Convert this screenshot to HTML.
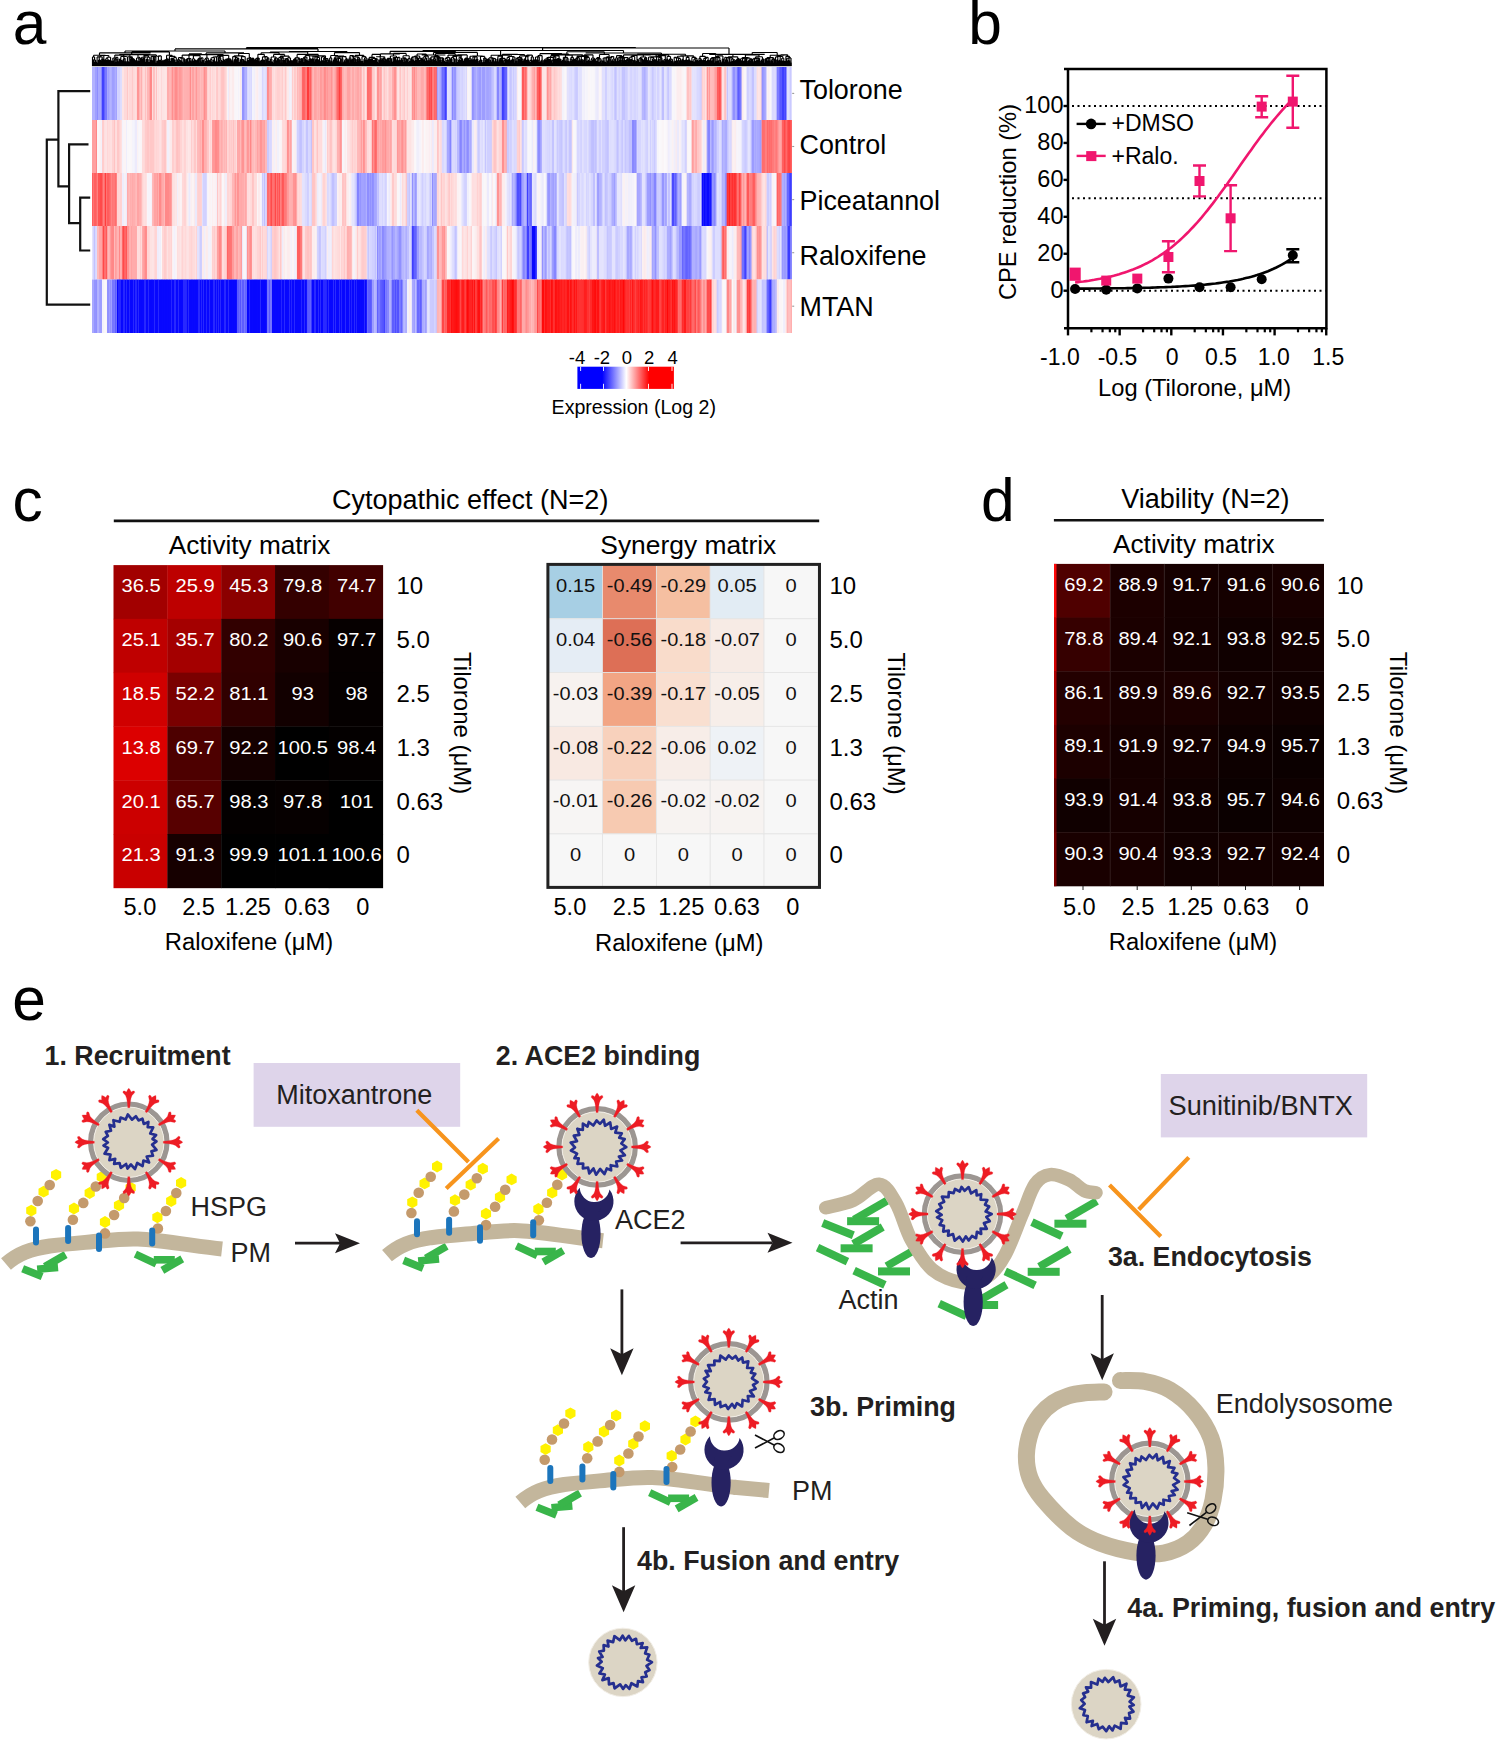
<!DOCTYPE html>
<html><head><meta charset="utf-8"><style>
html,body{margin:0;padding:0;background:#fff;width:1497px;height:1740px;overflow:hidden}
svg{display:block;font-family:"Liberation Sans", sans-serif}
</style></head><body>
<svg width="1497" height="1740" viewBox="0 0 1497 1740">
<text x="12.7" y="44.0" font-size="60.5" fill="#000">a</text>
<text x="968.3" y="44.3" font-size="60.5" fill="#000">b</text>
<text x="12.5" y="521.2" font-size="60.5" fill="#000">c</text>
<text x="981.0" y="520.6" font-size="60.5" fill="#000">d</text>
<text x="12.3" y="1020.4" font-size="60.5" fill="#000">e</text>
<rect x="92.00" y="67.00" width="2.75" height="53.00" fill="rgb(179,179,255)"/>
<rect x="94.50" y="67.00" width="2.75" height="53.00" fill="rgb(159,159,255)"/>
<rect x="97.00" y="67.00" width="1.75" height="53.00" fill="rgb(142,142,255)"/>
<rect x="98.50" y="67.00" width="2.75" height="53.00" fill="rgb(168,168,255)"/>
<rect x="101.00" y="67.00" width="1.25" height="53.00" fill="rgb(136,136,255)"/>
<rect x="101.99" y="67.00" width="2.25" height="53.00" fill="rgb(65,65,255)"/>
<rect x="103.99" y="67.00" width="1.25" height="53.00" fill="rgb(98,98,255)"/>
<rect x="104.99" y="67.00" width="2.25" height="53.00" fill="rgb(121,121,255)"/>
<rect x="106.99" y="67.00" width="1.75" height="53.00" fill="rgb(168,168,255)"/>
<rect x="108.49" y="67.00" width="1.25" height="53.00" fill="rgb(134,134,255)"/>
<rect x="109.49" y="67.00" width="1.75" height="53.00" fill="rgb(180,180,255)"/>
<rect x="110.99" y="67.00" width="1.25" height="53.00" fill="rgb(175,175,255)"/>
<rect x="111.99" y="67.00" width="2.25" height="53.00" fill="rgb(158,158,255)"/>
<rect x="113.99" y="67.00" width="1.75" height="53.00" fill="rgb(163,163,255)"/>
<rect x="115.49" y="67.00" width="1.75" height="53.00" fill="rgb(162,162,255)"/>
<rect x="116.99" y="67.00" width="1.25" height="53.00" fill="rgb(212,212,255)"/>
<rect x="117.99" y="67.00" width="2.25" height="53.00" fill="rgb(210,210,255)"/>
<rect x="119.99" y="67.00" width="1.25" height="53.00" fill="rgb(221,220,254)"/>
<rect x="120.99" y="67.00" width="1.25" height="53.00" fill="rgb(222,222,254)"/>
<rect x="121.98" y="67.00" width="2.25" height="53.00" fill="rgb(253,228,229)"/>
<rect x="123.98" y="67.00" width="1.25" height="53.00" fill="rgb(255,217,217)"/>
<rect x="124.98" y="67.00" width="2.25" height="53.00" fill="rgb(254,217,218)"/>
<rect x="126.98" y="67.00" width="1.25" height="53.00" fill="rgb(255,199,199)"/>
<rect x="127.98" y="67.00" width="1.25" height="53.00" fill="rgb(254,223,223)"/>
<rect x="128.98" y="67.00" width="1.25" height="53.00" fill="rgb(255,215,215)"/>
<rect x="129.98" y="67.00" width="2.25" height="53.00" fill="rgb(255,216,217)"/>
<rect x="131.98" y="67.00" width="1.75" height="53.00" fill="rgb(255,202,202)"/>
<rect x="133.48" y="67.00" width="2.25" height="53.00" fill="rgb(254,219,219)"/>
<rect x="135.48" y="67.00" width="1.75" height="53.00" fill="rgb(254,219,219)"/>
<rect x="136.97" y="67.00" width="2.75" height="53.00" fill="rgb(255,150,150)"/>
<rect x="139.47" y="67.00" width="1.25" height="53.00" fill="rgb(255,182,182)"/>
<rect x="140.47" y="67.00" width="1.25" height="53.00" fill="rgb(255,187,187)"/>
<rect x="141.47" y="67.00" width="0.75" height="53.00" fill="rgb(255,147,147)"/>
<rect x="141.97" y="67.00" width="1.75" height="53.00" fill="rgb(255,206,206)"/>
<rect x="143.47" y="67.00" width="1.75" height="53.00" fill="rgb(255,216,216)"/>
<rect x="144.97" y="67.00" width="1.75" height="53.00" fill="rgb(255,193,193)"/>
<rect x="146.47" y="67.00" width="0.75" height="53.00" fill="rgb(255,216,217)"/>
<rect x="146.97" y="67.00" width="2.75" height="53.00" fill="rgb(255,183,183)"/>
<rect x="149.47" y="67.00" width="2.75" height="53.00" fill="rgb(255,135,135)"/>
<rect x="151.97" y="67.00" width="1.25" height="53.00" fill="rgb(254,221,221)"/>
<rect x="152.97" y="67.00" width="2.25" height="53.00" fill="rgb(255,192,192)"/>
<rect x="154.97" y="67.00" width="1.25" height="53.00" fill="rgb(254,223,223)"/>
<rect x="155.97" y="67.00" width="1.25" height="53.00" fill="rgb(255,193,193)"/>
<rect x="156.96" y="67.00" width="1.25" height="53.00" fill="rgb(253,228,229)"/>
<rect x="157.96" y="67.00" width="1.75" height="53.00" fill="rgb(254,223,223)"/>
<rect x="159.46" y="67.00" width="2.25" height="53.00" fill="rgb(253,229,230)"/>
<rect x="161.46" y="67.00" width="0.75" height="53.00" fill="rgb(255,200,200)"/>
<rect x="161.96" y="67.00" width="2.75" height="53.00" fill="rgb(253,227,228)"/>
<rect x="164.46" y="67.00" width="1.25" height="53.00" fill="rgb(254,223,223)"/>
<rect x="165.46" y="67.00" width="1.75" height="53.00" fill="rgb(253,229,230)"/>
<rect x="166.96" y="67.00" width="2.25" height="53.00" fill="rgb(255,172,172)"/>
<rect x="168.96" y="67.00" width="2.75" height="53.00" fill="rgb(255,182,182)"/>
<rect x="171.46" y="67.00" width="0.75" height="53.00" fill="rgb(255,145,145)"/>
<rect x="171.95" y="67.00" width="1.75" height="53.00" fill="rgb(255,143,143)"/>
<rect x="173.45" y="67.00" width="1.75" height="53.00" fill="rgb(255,158,158)"/>
<rect x="174.95" y="67.00" width="2.25" height="53.00" fill="rgb(255,140,140)"/>
<rect x="176.95" y="67.00" width="1.75" height="53.00" fill="rgb(255,152,152)"/>
<rect x="178.45" y="67.00" width="1.75" height="53.00" fill="rgb(255,151,151)"/>
<rect x="179.95" y="67.00" width="1.75" height="53.00" fill="rgb(255,154,154)"/>
<rect x="181.45" y="67.00" width="0.75" height="53.00" fill="rgb(255,142,142)"/>
<rect x="181.95" y="67.00" width="1.25" height="53.00" fill="rgb(255,169,169)"/>
<rect x="182.95" y="67.00" width="1.25" height="53.00" fill="rgb(255,183,183)"/>
<rect x="183.95" y="67.00" width="2.25" height="53.00" fill="rgb(255,177,177)"/>
<rect x="185.95" y="67.00" width="1.25" height="53.00" fill="rgb(255,176,176)"/>
<rect x="186.95" y="67.00" width="2.75" height="53.00" fill="rgb(255,175,175)"/>
<rect x="189.45" y="67.00" width="1.75" height="53.00" fill="rgb(255,139,139)"/>
<rect x="190.95" y="67.00" width="1.25" height="53.00" fill="rgb(255,182,182)"/>
<rect x="191.94" y="67.00" width="2.75" height="53.00" fill="rgb(255,162,162)"/>
<rect x="194.44" y="67.00" width="1.25" height="53.00" fill="rgb(255,175,175)"/>
<rect x="195.44" y="67.00" width="1.75" height="53.00" fill="rgb(255,150,150)"/>
<rect x="196.94" y="67.00" width="1.25" height="53.00" fill="rgb(255,176,176)"/>
<rect x="197.94" y="67.00" width="2.75" height="53.00" fill="rgb(255,177,177)"/>
<rect x="200.44" y="67.00" width="1.25" height="53.00" fill="rgb(255,180,180)"/>
<rect x="201.44" y="67.00" width="0.75" height="53.00" fill="rgb(255,164,164)"/>
<rect x="201.94" y="67.00" width="1.75" height="53.00" fill="rgb(255,184,184)"/>
<rect x="203.44" y="67.00" width="1.75" height="53.00" fill="rgb(255,141,141)"/>
<rect x="204.94" y="67.00" width="2.25" height="53.00" fill="rgb(255,156,156)"/>
<rect x="206.93" y="67.00" width="1.75" height="53.00" fill="rgb(255,210,210)"/>
<rect x="208.43" y="67.00" width="1.25" height="53.00" fill="rgb(255,215,215)"/>
<rect x="209.43" y="67.00" width="2.25" height="53.00" fill="rgb(255,205,205)"/>
<rect x="211.43" y="67.00" width="0.75" height="53.00" fill="rgb(253,229,230)"/>
<rect x="211.93" y="67.00" width="1.25" height="53.00" fill="rgb(255,215,215)"/>
<rect x="212.93" y="67.00" width="2.25" height="53.00" fill="rgb(254,220,220)"/>
<rect x="214.93" y="67.00" width="1.25" height="53.00" fill="rgb(253,227,228)"/>
<rect x="215.93" y="67.00" width="1.25" height="53.00" fill="rgb(255,204,204)"/>
<rect x="216.93" y="67.00" width="1.75" height="53.00" fill="rgb(255,201,201)"/>
<rect x="218.43" y="67.00" width="2.25" height="53.00" fill="rgb(254,219,219)"/>
<rect x="220.43" y="67.00" width="1.75" height="53.00" fill="rgb(255,197,197)"/>
<rect x="221.93" y="67.00" width="2.75" height="53.00" fill="rgb(255,195,195)"/>
<rect x="224.43" y="67.00" width="1.25" height="53.00" fill="rgb(255,198,198)"/>
<rect x="225.43" y="67.00" width="1.25" height="53.00" fill="rgb(255,209,209)"/>
<rect x="226.43" y="67.00" width="0.75" height="53.00" fill="rgb(254,218,218)"/>
<rect x="226.92" y="67.00" width="1.25" height="53.00" fill="rgb(250,245,246)"/>
<rect x="227.92" y="67.00" width="1.25" height="53.00" fill="rgb(237,235,252)"/>
<rect x="228.92" y="67.00" width="1.25" height="53.00" fill="rgb(252,233,234)"/>
<rect x="229.92" y="67.00" width="2.25" height="53.00" fill="rgb(251,241,243)"/>
<rect x="231.92" y="67.00" width="2.75" height="53.00" fill="rgb(252,235,236)"/>
<rect x="234.42" y="67.00" width="2.75" height="53.00" fill="rgb(248,246,250)"/>
<rect x="236.92" y="67.00" width="1.25" height="53.00" fill="rgb(250,247,249)"/>
<rect x="237.92" y="67.00" width="1.25" height="53.00" fill="rgb(244,242,251)"/>
<rect x="238.92" y="67.00" width="1.25" height="53.00" fill="rgb(249,247,250)"/>
<rect x="239.92" y="67.00" width="1.75" height="53.00" fill="rgb(252,234,235)"/>
<rect x="241.42" y="67.00" width="0.75" height="53.00" fill="rgb(250,248,250)"/>
<rect x="241.91" y="67.00" width="2.75" height="53.00" fill="rgb(147,147,255)"/>
<rect x="244.41" y="67.00" width="1.25" height="53.00" fill="rgb(154,154,255)"/>
<rect x="245.41" y="67.00" width="1.75" height="53.00" fill="rgb(170,170,255)"/>
<rect x="246.91" y="67.00" width="1.75" height="53.00" fill="rgb(215,215,255)"/>
<rect x="248.41" y="67.00" width="2.25" height="53.00" fill="rgb(219,219,254)"/>
<rect x="250.41" y="67.00" width="1.75" height="53.00" fill="rgb(214,214,255)"/>
<rect x="251.91" y="67.00" width="1.75" height="53.00" fill="rgb(244,243,251)"/>
<rect x="253.41" y="67.00" width="2.25" height="53.00" fill="rgb(240,239,251)"/>
<rect x="255.41" y="67.00" width="1.75" height="53.00" fill="rgb(251,239,240)"/>
<rect x="256.91" y="67.00" width="1.75" height="53.00" fill="rgb(252,236,238)"/>
<rect x="258.41" y="67.00" width="2.75" height="53.00" fill="rgb(241,239,251)"/>
<rect x="260.91" y="67.00" width="1.25" height="53.00" fill="rgb(241,239,251)"/>
<rect x="261.90" y="67.00" width="1.75" height="53.00" fill="rgb(214,214,255)"/>
<rect x="263.40" y="67.00" width="1.25" height="53.00" fill="rgb(221,220,254)"/>
<rect x="264.40" y="67.00" width="2.25" height="53.00" fill="rgb(224,224,254)"/>
<rect x="266.40" y="67.00" width="0.75" height="53.00" fill="rgb(212,212,255)"/>
<rect x="266.90" y="67.00" width="2.25" height="53.00" fill="rgb(255,139,139)"/>
<rect x="268.90" y="67.00" width="2.75" height="53.00" fill="rgb(255,171,171)"/>
<rect x="271.40" y="67.00" width="0.75" height="53.00" fill="rgb(255,155,155)"/>
<rect x="271.90" y="67.00" width="2.75" height="53.00" fill="rgb(254,219,220)"/>
<rect x="274.40" y="67.00" width="1.25" height="53.00" fill="rgb(254,221,221)"/>
<rect x="275.40" y="67.00" width="1.25" height="53.00" fill="rgb(255,206,206)"/>
<rect x="276.40" y="67.00" width="0.75" height="53.00" fill="rgb(255,211,211)"/>
<rect x="276.89" y="67.00" width="2.25" height="53.00" fill="rgb(255,208,208)"/>
<rect x="278.89" y="67.00" width="1.25" height="53.00" fill="rgb(255,208,208)"/>
<rect x="279.89" y="67.00" width="2.25" height="53.00" fill="rgb(255,215,215)"/>
<rect x="281.89" y="67.00" width="1.25" height="53.00" fill="rgb(255,202,202)"/>
<rect x="282.89" y="67.00" width="2.25" height="53.00" fill="rgb(254,222,223)"/>
<rect x="284.89" y="67.00" width="1.75" height="53.00" fill="rgb(255,201,201)"/>
<rect x="286.39" y="67.00" width="0.75" height="53.00" fill="rgb(255,216,216)"/>
<rect x="286.89" y="67.00" width="2.25" height="53.00" fill="rgb(252,234,235)"/>
<rect x="288.89" y="67.00" width="1.75" height="53.00" fill="rgb(240,239,251)"/>
<rect x="290.39" y="67.00" width="1.75" height="53.00" fill="rgb(242,241,251)"/>
<rect x="291.89" y="67.00" width="1.25" height="53.00" fill="rgb(255,203,203)"/>
<rect x="292.89" y="67.00" width="1.25" height="53.00" fill="rgb(254,224,224)"/>
<rect x="293.89" y="67.00" width="2.25" height="53.00" fill="rgb(255,202,202)"/>
<rect x="295.89" y="67.00" width="1.25" height="53.00" fill="rgb(255,217,217)"/>
<rect x="296.88" y="67.00" width="1.75" height="53.00" fill="rgb(255,184,184)"/>
<rect x="298.38" y="67.00" width="2.75" height="53.00" fill="rgb(255,182,182)"/>
<rect x="300.88" y="67.00" width="1.25" height="53.00" fill="rgb(255,179,179)"/>
<rect x="301.88" y="67.00" width="1.25" height="53.00" fill="rgb(255,104,104)"/>
<rect x="302.88" y="67.00" width="2.25" height="53.00" fill="rgb(255,98,98)"/>
<rect x="304.88" y="67.00" width="1.75" height="53.00" fill="rgb(255,121,121)"/>
<rect x="306.38" y="67.00" width="0.75" height="53.00" fill="rgb(255,114,114)"/>
<rect x="306.88" y="67.00" width="2.75" height="53.00" fill="rgb(255,58,58)"/>
<rect x="309.38" y="67.00" width="2.25" height="53.00" fill="rgb(255,93,93)"/>
<rect x="311.38" y="67.00" width="0.75" height="53.00" fill="rgb(255,111,111)"/>
<rect x="311.87" y="67.00" width="1.25" height="53.00" fill="rgb(255,173,173)"/>
<rect x="312.87" y="67.00" width="1.25" height="53.00" fill="rgb(255,186,186)"/>
<rect x="313.87" y="67.00" width="2.25" height="53.00" fill="rgb(255,163,163)"/>
<rect x="315.87" y="67.00" width="1.25" height="53.00" fill="rgb(255,167,167)"/>
<rect x="316.87" y="67.00" width="1.25" height="53.00" fill="rgb(255,178,178)"/>
<rect x="317.87" y="67.00" width="1.25" height="53.00" fill="rgb(255,169,169)"/>
<rect x="318.87" y="67.00" width="1.25" height="53.00" fill="rgb(255,180,180)"/>
<rect x="319.87" y="67.00" width="2.25" height="53.00" fill="rgb(255,154,154)"/>
<rect x="321.87" y="67.00" width="1.75" height="53.00" fill="rgb(255,167,167)"/>
<rect x="323.37" y="67.00" width="2.75" height="53.00" fill="rgb(255,138,138)"/>
<rect x="325.87" y="67.00" width="1.25" height="53.00" fill="rgb(255,161,161)"/>
<rect x="326.87" y="67.00" width="1.25" height="53.00" fill="rgb(255,150,150)"/>
<rect x="327.87" y="67.00" width="2.75" height="53.00" fill="rgb(255,164,164)"/>
<rect x="330.37" y="67.00" width="1.75" height="53.00" fill="rgb(255,145,145)"/>
<rect x="331.86" y="67.00" width="1.75" height="53.00" fill="rgb(255,165,165)"/>
<rect x="333.36" y="67.00" width="2.25" height="53.00" fill="rgb(255,174,174)"/>
<rect x="335.36" y="67.00" width="1.75" height="53.00" fill="rgb(255,137,137)"/>
<rect x="336.86" y="67.00" width="1.75" height="53.00" fill="rgb(255,108,108)"/>
<rect x="338.36" y="67.00" width="1.75" height="53.00" fill="rgb(255,59,59)"/>
<rect x="339.86" y="67.00" width="2.25" height="53.00" fill="rgb(255,90,90)"/>
<rect x="341.86" y="67.00" width="1.75" height="53.00" fill="rgb(255,170,170)"/>
<rect x="343.36" y="67.00" width="1.25" height="53.00" fill="rgb(255,166,166)"/>
<rect x="344.36" y="67.00" width="2.75" height="53.00" fill="rgb(255,186,186)"/>
<rect x="346.85" y="67.00" width="1.25" height="53.00" fill="rgb(255,165,165)"/>
<rect x="347.85" y="67.00" width="2.75" height="53.00" fill="rgb(255,163,163)"/>
<rect x="350.35" y="67.00" width="1.25" height="53.00" fill="rgb(255,166,166)"/>
<rect x="351.35" y="67.00" width="0.75" height="53.00" fill="rgb(255,185,185)"/>
<rect x="351.85" y="67.00" width="2.75" height="53.00" fill="rgb(255,170,170)"/>
<rect x="354.35" y="67.00" width="2.75" height="53.00" fill="rgb(255,176,176)"/>
<rect x="356.85" y="67.00" width="2.75" height="53.00" fill="rgb(255,166,166)"/>
<rect x="359.35" y="67.00" width="2.25" height="53.00" fill="rgb(255,169,169)"/>
<rect x="361.35" y="67.00" width="0.75" height="53.00" fill="rgb(255,164,164)"/>
<rect x="361.85" y="67.00" width="1.25" height="53.00" fill="rgb(254,223,224)"/>
<rect x="362.85" y="67.00" width="1.25" height="53.00" fill="rgb(255,196,196)"/>
<rect x="363.85" y="67.00" width="1.75" height="53.00" fill="rgb(255,205,205)"/>
<rect x="365.35" y="67.00" width="1.25" height="53.00" fill="rgb(253,228,229)"/>
<rect x="366.35" y="67.00" width="0.75" height="53.00" fill="rgb(254,222,223)"/>
<rect x="366.84" y="67.00" width="2.25" height="53.00" fill="rgb(255,107,107)"/>
<rect x="368.84" y="67.00" width="2.25" height="53.00" fill="rgb(255,112,112)"/>
<rect x="370.84" y="67.00" width="1.25" height="53.00" fill="rgb(255,121,121)"/>
<rect x="371.84" y="67.00" width="1.25" height="53.00" fill="rgb(255,199,199)"/>
<rect x="372.84" y="67.00" width="2.25" height="53.00" fill="rgb(255,205,205)"/>
<rect x="374.84" y="67.00" width="2.25" height="53.00" fill="rgb(253,229,229)"/>
<rect x="376.84" y="67.00" width="2.75" height="53.00" fill="rgb(255,146,146)"/>
<rect x="379.34" y="67.00" width="1.75" height="53.00" fill="rgb(255,164,164)"/>
<rect x="380.84" y="67.00" width="1.25" height="53.00" fill="rgb(255,164,164)"/>
<rect x="381.83" y="67.00" width="1.75" height="53.00" fill="rgb(254,222,223)"/>
<rect x="383.33" y="67.00" width="2.25" height="53.00" fill="rgb(255,197,197)"/>
<rect x="385.33" y="67.00" width="1.75" height="53.00" fill="rgb(255,210,210)"/>
<rect x="386.83" y="67.00" width="1.75" height="53.00" fill="rgb(254,223,223)"/>
<rect x="388.33" y="67.00" width="1.75" height="53.00" fill="rgb(255,197,197)"/>
<rect x="389.83" y="67.00" width="1.75" height="53.00" fill="rgb(255,197,197)"/>
<rect x="391.33" y="67.00" width="0.75" height="53.00" fill="rgb(255,204,204)"/>
<rect x="391.83" y="67.00" width="2.25" height="53.00" fill="rgb(255,171,171)"/>
<rect x="393.83" y="67.00" width="2.75" height="53.00" fill="rgb(255,145,145)"/>
<rect x="396.33" y="67.00" width="0.75" height="53.00" fill="rgb(255,163,163)"/>
<rect x="396.83" y="67.00" width="1.75" height="53.00" fill="rgb(254,223,224)"/>
<rect x="398.33" y="67.00" width="1.25" height="53.00" fill="rgb(253,226,227)"/>
<rect x="399.33" y="67.00" width="2.25" height="53.00" fill="rgb(255,196,196)"/>
<rect x="401.33" y="67.00" width="0.75" height="53.00" fill="rgb(253,226,226)"/>
<rect x="401.82" y="67.00" width="2.25" height="53.00" fill="rgb(255,214,214)"/>
<rect x="403.82" y="67.00" width="1.75" height="53.00" fill="rgb(255,201,201)"/>
<rect x="405.32" y="67.00" width="1.75" height="53.00" fill="rgb(253,226,227)"/>
<rect x="406.82" y="67.00" width="1.25" height="53.00" fill="rgb(255,203,203)"/>
<rect x="407.82" y="67.00" width="2.75" height="53.00" fill="rgb(253,225,225)"/>
<rect x="410.32" y="67.00" width="1.75" height="53.00" fill="rgb(253,226,226)"/>
<rect x="411.82" y="67.00" width="1.75" height="53.00" fill="rgb(255,145,145)"/>
<rect x="413.32" y="67.00" width="2.25" height="53.00" fill="rgb(255,139,139)"/>
<rect x="415.32" y="67.00" width="1.25" height="53.00" fill="rgb(255,161,161)"/>
<rect x="416.32" y="67.00" width="0.75" height="53.00" fill="rgb(255,138,138)"/>
<rect x="416.81" y="67.00" width="2.75" height="53.00" fill="rgb(255,184,184)"/>
<rect x="419.31" y="67.00" width="1.25" height="53.00" fill="rgb(255,173,173)"/>
<rect x="420.31" y="67.00" width="1.75" height="53.00" fill="rgb(255,169,169)"/>
<rect x="421.81" y="67.00" width="2.25" height="53.00" fill="rgb(255,169,169)"/>
<rect x="423.81" y="67.00" width="2.25" height="53.00" fill="rgb(255,187,187)"/>
<rect x="425.81" y="67.00" width="1.25" height="53.00" fill="rgb(255,144,144)"/>
<rect x="426.81" y="67.00" width="1.75" height="53.00" fill="rgb(255,102,102)"/>
<rect x="428.31" y="67.00" width="2.25" height="53.00" fill="rgb(255,77,77)"/>
<rect x="430.31" y="67.00" width="1.75" height="53.00" fill="rgb(255,63,63)"/>
<rect x="431.81" y="67.00" width="1.75" height="53.00" fill="rgb(255,122,122)"/>
<rect x="433.31" y="67.00" width="1.25" height="53.00" fill="rgb(255,107,107)"/>
<rect x="434.31" y="67.00" width="1.25" height="53.00" fill="rgb(255,72,72)"/>
<rect x="435.31" y="67.00" width="1.75" height="53.00" fill="rgb(255,90,90)"/>
<rect x="436.80" y="67.00" width="1.75" height="53.00" fill="rgb(162,162,255)"/>
<rect x="438.30" y="67.00" width="2.25" height="53.00" fill="rgb(176,176,255)"/>
<rect x="440.30" y="67.00" width="1.75" height="53.00" fill="rgb(148,148,255)"/>
<rect x="441.80" y="67.00" width="1.25" height="53.00" fill="rgb(107,107,255)"/>
<rect x="442.80" y="67.00" width="1.75" height="53.00" fill="rgb(112,112,255)"/>
<rect x="444.30" y="67.00" width="2.75" height="53.00" fill="rgb(64,64,255)"/>
<rect x="446.80" y="67.00" width="2.25" height="53.00" fill="rgb(226,226,253)"/>
<rect x="448.80" y="67.00" width="2.25" height="53.00" fill="rgb(223,222,254)"/>
<rect x="450.80" y="67.00" width="1.25" height="53.00" fill="rgb(210,210,255)"/>
<rect x="451.79" y="67.00" width="1.75" height="53.00" fill="rgb(135,135,255)"/>
<rect x="453.29" y="67.00" width="2.25" height="53.00" fill="rgb(150,150,255)"/>
<rect x="455.29" y="67.00" width="1.25" height="53.00" fill="rgb(131,131,255)"/>
<rect x="456.29" y="67.00" width="0.75" height="53.00" fill="rgb(185,185,255)"/>
<rect x="456.79" y="67.00" width="1.25" height="53.00" fill="rgb(201,201,255)"/>
<rect x="457.79" y="67.00" width="2.25" height="53.00" fill="rgb(206,206,255)"/>
<rect x="459.79" y="67.00" width="2.25" height="53.00" fill="rgb(216,216,255)"/>
<rect x="461.79" y="67.00" width="1.25" height="53.00" fill="rgb(209,209,255)"/>
<rect x="462.79" y="67.00" width="2.75" height="53.00" fill="rgb(219,218,254)"/>
<rect x="465.29" y="67.00" width="1.25" height="53.00" fill="rgb(222,222,254)"/>
<rect x="466.29" y="67.00" width="0.75" height="53.00" fill="rgb(196,196,255)"/>
<rect x="466.79" y="67.00" width="1.25" height="53.00" fill="rgb(251,241,242)"/>
<rect x="467.79" y="67.00" width="2.25" height="53.00" fill="rgb(248,246,250)"/>
<rect x="469.79" y="67.00" width="1.25" height="53.00" fill="rgb(251,240,242)"/>
<rect x="470.79" y="67.00" width="1.25" height="53.00" fill="rgb(234,233,252)"/>
<rect x="471.78" y="67.00" width="2.25" height="53.00" fill="rgb(146,146,255)"/>
<rect x="473.78" y="67.00" width="2.25" height="53.00" fill="rgb(164,164,255)"/>
<rect x="475.78" y="67.00" width="1.25" height="53.00" fill="rgb(184,184,255)"/>
<rect x="476.78" y="67.00" width="1.25" height="53.00" fill="rgb(168,168,255)"/>
<rect x="477.78" y="67.00" width="1.25" height="53.00" fill="rgb(164,164,255)"/>
<rect x="478.78" y="67.00" width="1.25" height="53.00" fill="rgb(155,155,255)"/>
<rect x="479.78" y="67.00" width="1.75" height="53.00" fill="rgb(155,155,255)"/>
<rect x="481.28" y="67.00" width="0.75" height="53.00" fill="rgb(179,179,255)"/>
<rect x="481.78" y="67.00" width="1.25" height="53.00" fill="rgb(158,158,255)"/>
<rect x="482.78" y="67.00" width="2.75" height="53.00" fill="rgb(157,157,255)"/>
<rect x="485.28" y="67.00" width="1.75" height="53.00" fill="rgb(167,167,255)"/>
<rect x="486.77" y="67.00" width="2.25" height="53.00" fill="rgb(163,163,255)"/>
<rect x="488.77" y="67.00" width="2.75" height="53.00" fill="rgb(169,169,255)"/>
<rect x="491.27" y="67.00" width="0.75" height="53.00" fill="rgb(170,170,255)"/>
<rect x="491.77" y="67.00" width="2.25" height="53.00" fill="rgb(192,192,255)"/>
<rect x="493.77" y="67.00" width="1.75" height="53.00" fill="rgb(217,217,255)"/>
<rect x="495.27" y="67.00" width="1.75" height="53.00" fill="rgb(210,210,255)"/>
<rect x="496.77" y="67.00" width="2.75" height="53.00" fill="rgb(134,134,255)"/>
<rect x="499.27" y="67.00" width="2.25" height="53.00" fill="rgb(174,174,255)"/>
<rect x="501.27" y="67.00" width="0.75" height="53.00" fill="rgb(166,166,255)"/>
<rect x="501.77" y="67.00" width="2.25" height="53.00" fill="rgb(60,60,255)"/>
<rect x="503.77" y="67.00" width="1.75" height="53.00" fill="rgb(87,87,255)"/>
<rect x="505.27" y="67.00" width="1.75" height="53.00" fill="rgb(73,73,255)"/>
<rect x="506.76" y="67.00" width="1.75" height="53.00" fill="rgb(193,193,255)"/>
<rect x="508.26" y="67.00" width="1.25" height="53.00" fill="rgb(228,227,253)"/>
<rect x="509.26" y="67.00" width="2.75" height="53.00" fill="rgb(197,197,255)"/>
<rect x="511.76" y="67.00" width="1.75" height="53.00" fill="rgb(217,217,255)"/>
<rect x="513.26" y="67.00" width="1.25" height="53.00" fill="rgb(193,193,255)"/>
<rect x="514.26" y="67.00" width="2.75" height="53.00" fill="rgb(212,212,255)"/>
<rect x="516.76" y="67.00" width="1.75" height="53.00" fill="rgb(252,237,238)"/>
<rect x="518.26" y="67.00" width="2.25" height="53.00" fill="rgb(250,247,249)"/>
<rect x="520.26" y="67.00" width="1.25" height="53.00" fill="rgb(246,244,251)"/>
<rect x="521.26" y="67.00" width="0.75" height="53.00" fill="rgb(251,243,245)"/>
<rect x="521.75" y="67.00" width="2.75" height="53.00" fill="rgb(255,88,88)"/>
<rect x="524.25" y="67.00" width="2.75" height="53.00" fill="rgb(255,105,105)"/>
<rect x="526.75" y="67.00" width="1.75" height="53.00" fill="rgb(255,194,194)"/>
<rect x="528.25" y="67.00" width="1.75" height="53.00" fill="rgb(254,222,222)"/>
<rect x="529.75" y="67.00" width="1.25" height="53.00" fill="rgb(255,214,214)"/>
<rect x="530.75" y="67.00" width="1.25" height="53.00" fill="rgb(255,202,202)"/>
<rect x="531.75" y="67.00" width="2.25" height="53.00" fill="rgb(255,176,176)"/>
<rect x="533.75" y="67.00" width="1.75" height="53.00" fill="rgb(255,158,158)"/>
<rect x="535.25" y="67.00" width="1.75" height="53.00" fill="rgb(255,179,179)"/>
<rect x="536.75" y="67.00" width="1.75" height="53.00" fill="rgb(255,96,96)"/>
<rect x="538.25" y="67.00" width="1.75" height="53.00" fill="rgb(255,66,66)"/>
<rect x="539.75" y="67.00" width="1.25" height="53.00" fill="rgb(255,86,86)"/>
<rect x="540.75" y="67.00" width="1.25" height="53.00" fill="rgb(255,110,110)"/>
<rect x="541.74" y="67.00" width="2.75" height="53.00" fill="rgb(253,228,229)"/>
<rect x="544.24" y="67.00" width="1.25" height="53.00" fill="rgb(253,226,227)"/>
<rect x="545.24" y="67.00" width="1.75" height="53.00" fill="rgb(253,227,228)"/>
<rect x="546.74" y="67.00" width="1.25" height="53.00" fill="rgb(255,140,140)"/>
<rect x="547.74" y="67.00" width="1.75" height="53.00" fill="rgb(255,163,163)"/>
<rect x="549.24" y="67.00" width="2.25" height="53.00" fill="rgb(255,167,167)"/>
<rect x="551.24" y="67.00" width="0.75" height="53.00" fill="rgb(255,179,179)"/>
<rect x="551.74" y="67.00" width="2.25" height="53.00" fill="rgb(255,214,214)"/>
<rect x="553.74" y="67.00" width="1.75" height="53.00" fill="rgb(255,199,199)"/>
<rect x="555.24" y="67.00" width="1.25" height="53.00" fill="rgb(255,201,201)"/>
<rect x="556.24" y="67.00" width="0.75" height="53.00" fill="rgb(255,201,201)"/>
<rect x="556.73" y="67.00" width="1.75" height="53.00" fill="rgb(255,216,216)"/>
<rect x="558.23" y="67.00" width="2.25" height="53.00" fill="rgb(255,217,218)"/>
<rect x="560.23" y="67.00" width="1.75" height="53.00" fill="rgb(254,218,218)"/>
<rect x="561.73" y="67.00" width="2.25" height="53.00" fill="rgb(243,242,251)"/>
<rect x="563.73" y="67.00" width="1.75" height="53.00" fill="rgb(248,246,250)"/>
<rect x="565.23" y="67.00" width="1.75" height="53.00" fill="rgb(250,246,247)"/>
<rect x="566.73" y="67.00" width="2.75" height="53.00" fill="rgb(226,225,253)"/>
<rect x="569.23" y="67.00" width="1.25" height="53.00" fill="rgb(215,215,255)"/>
<rect x="570.23" y="67.00" width="1.75" height="53.00" fill="rgb(216,216,255)"/>
<rect x="571.73" y="67.00" width="2.75" height="53.00" fill="rgb(224,224,254)"/>
<rect x="574.23" y="67.00" width="2.75" height="53.00" fill="rgb(205,205,255)"/>
<rect x="576.72" y="67.00" width="1.25" height="53.00" fill="rgb(194,194,255)"/>
<rect x="577.72" y="67.00" width="1.75" height="53.00" fill="rgb(227,227,253)"/>
<rect x="579.22" y="67.00" width="1.25" height="53.00" fill="rgb(220,220,254)"/>
<rect x="580.22" y="67.00" width="1.75" height="53.00" fill="rgb(221,221,254)"/>
<rect x="581.72" y="67.00" width="2.25" height="53.00" fill="rgb(243,241,251)"/>
<rect x="583.72" y="67.00" width="1.75" height="53.00" fill="rgb(241,239,251)"/>
<rect x="585.22" y="67.00" width="1.75" height="53.00" fill="rgb(246,244,251)"/>
<rect x="586.72" y="67.00" width="1.25" height="53.00" fill="rgb(244,243,251)"/>
<rect x="587.72" y="67.00" width="2.75" height="53.00" fill="rgb(250,246,248)"/>
<rect x="590.22" y="67.00" width="1.75" height="53.00" fill="rgb(248,246,250)"/>
<rect x="591.71" y="67.00" width="2.25" height="53.00" fill="rgb(249,247,250)"/>
<rect x="593.71" y="67.00" width="1.75" height="53.00" fill="rgb(247,245,250)"/>
<rect x="595.21" y="67.00" width="1.75" height="53.00" fill="rgb(237,235,252)"/>
<rect x="596.71" y="67.00" width="2.25" height="53.00" fill="rgb(235,233,252)"/>
<rect x="598.71" y="67.00" width="2.75" height="53.00" fill="rgb(250,245,247)"/>
<rect x="601.21" y="67.00" width="0.75" height="53.00" fill="rgb(251,241,242)"/>
<rect x="601.71" y="67.00" width="2.25" height="53.00" fill="rgb(224,223,254)"/>
<rect x="603.71" y="67.00" width="1.75" height="53.00" fill="rgb(225,224,253)"/>
<rect x="605.21" y="67.00" width="1.75" height="53.00" fill="rgb(199,199,255)"/>
<rect x="606.71" y="67.00" width="2.75" height="53.00" fill="rgb(226,226,253)"/>
<rect x="609.21" y="67.00" width="2.25" height="53.00" fill="rgb(224,224,254)"/>
<rect x="611.21" y="67.00" width="0.75" height="53.00" fill="rgb(215,214,255)"/>
<rect x="611.70" y="67.00" width="1.75" height="53.00" fill="rgb(216,216,255)"/>
<rect x="613.20" y="67.00" width="1.25" height="53.00" fill="rgb(219,219,254)"/>
<rect x="614.20" y="67.00" width="2.75" height="53.00" fill="rgb(194,194,255)"/>
<rect x="616.70" y="67.00" width="2.25" height="53.00" fill="rgb(223,223,254)"/>
<rect x="618.70" y="67.00" width="1.25" height="53.00" fill="rgb(206,206,255)"/>
<rect x="619.70" y="67.00" width="2.25" height="53.00" fill="rgb(222,221,254)"/>
<rect x="621.70" y="67.00" width="2.25" height="53.00" fill="rgb(195,195,255)"/>
<rect x="623.70" y="67.00" width="1.75" height="53.00" fill="rgb(195,195,255)"/>
<rect x="625.20" y="67.00" width="1.75" height="53.00" fill="rgb(202,202,255)"/>
<rect x="626.69" y="67.00" width="1.75" height="53.00" fill="rgb(213,213,255)"/>
<rect x="628.19" y="67.00" width="2.25" height="53.00" fill="rgb(223,222,254)"/>
<rect x="630.19" y="67.00" width="1.75" height="53.00" fill="rgb(207,207,255)"/>
<rect x="631.69" y="67.00" width="2.25" height="53.00" fill="rgb(220,219,254)"/>
<rect x="633.69" y="67.00" width="2.75" height="53.00" fill="rgb(213,213,255)"/>
<rect x="636.19" y="67.00" width="0.75" height="53.00" fill="rgb(221,220,254)"/>
<rect x="636.69" y="67.00" width="1.25" height="53.00" fill="rgb(210,210,255)"/>
<rect x="637.69" y="67.00" width="2.25" height="53.00" fill="rgb(225,225,253)"/>
<rect x="639.69" y="67.00" width="2.25" height="53.00" fill="rgb(225,224,253)"/>
<rect x="641.69" y="67.00" width="2.75" height="53.00" fill="rgb(183,183,255)"/>
<rect x="644.19" y="67.00" width="1.25" height="53.00" fill="rgb(163,163,255)"/>
<rect x="645.19" y="67.00" width="1.25" height="53.00" fill="rgb(176,176,255)"/>
<rect x="646.19" y="67.00" width="0.75" height="53.00" fill="rgb(182,182,255)"/>
<rect x="646.68" y="67.00" width="1.75" height="53.00" fill="rgb(202,202,255)"/>
<rect x="648.18" y="67.00" width="1.75" height="53.00" fill="rgb(230,229,253)"/>
<rect x="649.68" y="67.00" width="2.25" height="53.00" fill="rgb(220,220,254)"/>
<rect x="651.68" y="67.00" width="2.25" height="53.00" fill="rgb(200,200,255)"/>
<rect x="653.68" y="67.00" width="2.75" height="53.00" fill="rgb(215,215,255)"/>
<rect x="656.18" y="67.00" width="0.75" height="53.00" fill="rgb(229,228,253)"/>
<rect x="656.68" y="67.00" width="1.25" height="53.00" fill="rgb(213,213,255)"/>
<rect x="657.68" y="67.00" width="1.25" height="53.00" fill="rgb(205,205,255)"/>
<rect x="658.68" y="67.00" width="1.75" height="53.00" fill="rgb(223,222,254)"/>
<rect x="660.18" y="67.00" width="1.75" height="53.00" fill="rgb(227,227,253)"/>
<rect x="661.67" y="67.00" width="2.75" height="53.00" fill="rgb(191,191,255)"/>
<rect x="664.17" y="67.00" width="2.75" height="53.00" fill="rgb(227,227,253)"/>
<rect x="666.67" y="67.00" width="1.25" height="53.00" fill="rgb(205,205,255)"/>
<rect x="667.67" y="67.00" width="1.75" height="53.00" fill="rgb(199,199,255)"/>
<rect x="669.17" y="67.00" width="1.75" height="53.00" fill="rgb(217,217,255)"/>
<rect x="670.67" y="67.00" width="1.25" height="53.00" fill="rgb(217,217,255)"/>
<rect x="671.67" y="67.00" width="1.75" height="53.00" fill="rgb(248,246,250)"/>
<rect x="673.17" y="67.00" width="2.25" height="53.00" fill="rgb(247,245,250)"/>
<rect x="675.17" y="67.00" width="1.75" height="53.00" fill="rgb(251,244,246)"/>
<rect x="676.67" y="67.00" width="2.75" height="53.00" fill="rgb(252,237,239)"/>
<rect x="679.17" y="67.00" width="2.75" height="53.00" fill="rgb(252,236,237)"/>
<rect x="681.66" y="67.00" width="2.25" height="53.00" fill="rgb(251,243,245)"/>
<rect x="683.66" y="67.00" width="1.25" height="53.00" fill="rgb(249,247,250)"/>
<rect x="684.66" y="67.00" width="1.75" height="53.00" fill="rgb(247,245,250)"/>
<rect x="686.16" y="67.00" width="0.75" height="53.00" fill="rgb(252,234,236)"/>
<rect x="686.66" y="67.00" width="2.75" height="53.00" fill="rgb(255,193,193)"/>
<rect x="689.16" y="67.00" width="2.25" height="53.00" fill="rgb(255,202,202)"/>
<rect x="691.16" y="67.00" width="0.75" height="53.00" fill="rgb(255,207,207)"/>
<rect x="691.66" y="67.00" width="1.75" height="53.00" fill="rgb(227,226,253)"/>
<rect x="693.16" y="67.00" width="2.75" height="53.00" fill="rgb(227,226,253)"/>
<rect x="695.66" y="67.00" width="1.25" height="53.00" fill="rgb(224,223,254)"/>
<rect x="696.65" y="67.00" width="2.75" height="53.00" fill="rgb(217,217,255)"/>
<rect x="699.15" y="67.00" width="1.75" height="53.00" fill="rgb(210,210,255)"/>
<rect x="700.65" y="67.00" width="1.25" height="53.00" fill="rgb(197,197,255)"/>
<rect x="701.65" y="67.00" width="1.75" height="53.00" fill="rgb(255,208,208)"/>
<rect x="703.15" y="67.00" width="2.25" height="53.00" fill="rgb(255,213,213)"/>
<rect x="705.15" y="67.00" width="1.25" height="53.00" fill="rgb(253,225,225)"/>
<rect x="706.15" y="67.00" width="0.75" height="53.00" fill="rgb(253,229,230)"/>
<rect x="706.65" y="67.00" width="1.75" height="53.00" fill="rgb(255,146,146)"/>
<rect x="708.15" y="67.00" width="1.25" height="53.00" fill="rgb(255,172,172)"/>
<rect x="709.15" y="67.00" width="1.25" height="53.00" fill="rgb(255,141,141)"/>
<rect x="710.15" y="67.00" width="1.75" height="53.00" fill="rgb(255,184,184)"/>
<rect x="711.65" y="67.00" width="2.25" height="53.00" fill="rgb(255,187,187)"/>
<rect x="713.65" y="67.00" width="1.75" height="53.00" fill="rgb(255,170,170)"/>
<rect x="715.15" y="67.00" width="1.25" height="53.00" fill="rgb(255,148,148)"/>
<rect x="716.15" y="67.00" width="0.75" height="53.00" fill="rgb(255,179,179)"/>
<rect x="716.64" y="67.00" width="2.75" height="53.00" fill="rgb(255,94,94)"/>
<rect x="719.14" y="67.00" width="1.75" height="53.00" fill="rgb(255,61,61)"/>
<rect x="720.64" y="67.00" width="1.25" height="53.00" fill="rgb(255,108,108)"/>
<rect x="721.64" y="67.00" width="2.75" height="53.00" fill="rgb(253,227,228)"/>
<rect x="724.14" y="67.00" width="2.25" height="53.00" fill="rgb(255,193,193)"/>
<rect x="726.14" y="67.00" width="0.75" height="53.00" fill="rgb(254,218,219)"/>
<rect x="726.64" y="67.00" width="1.75" height="53.00" fill="rgb(196,196,255)"/>
<rect x="728.14" y="67.00" width="2.75" height="53.00" fill="rgb(220,219,254)"/>
<rect x="730.64" y="67.00" width="1.25" height="53.00" fill="rgb(219,219,254)"/>
<rect x="731.63" y="67.00" width="1.25" height="53.00" fill="rgb(179,179,255)"/>
<rect x="732.63" y="67.00" width="2.75" height="53.00" fill="rgb(145,145,255)"/>
<rect x="735.13" y="67.00" width="1.25" height="53.00" fill="rgb(159,159,255)"/>
<rect x="736.13" y="67.00" width="0.75" height="53.00" fill="rgb(179,179,255)"/>
<rect x="736.63" y="67.00" width="1.75" height="53.00" fill="rgb(117,117,255)"/>
<rect x="738.13" y="67.00" width="1.75" height="53.00" fill="rgb(76,76,255)"/>
<rect x="739.63" y="67.00" width="2.25" height="53.00" fill="rgb(120,120,255)"/>
<rect x="741.63" y="67.00" width="2.25" height="53.00" fill="rgb(252,234,235)"/>
<rect x="743.63" y="67.00" width="2.75" height="53.00" fill="rgb(250,246,248)"/>
<rect x="746.13" y="67.00" width="0.75" height="53.00" fill="rgb(242,241,251)"/>
<rect x="746.63" y="67.00" width="1.75" height="53.00" fill="rgb(208,208,255)"/>
<rect x="748.13" y="67.00" width="1.25" height="53.00" fill="rgb(206,206,255)"/>
<rect x="749.13" y="67.00" width="2.25" height="53.00" fill="rgb(216,216,255)"/>
<rect x="751.13" y="67.00" width="0.75" height="53.00" fill="rgb(212,212,255)"/>
<rect x="751.62" y="67.00" width="2.75" height="53.00" fill="rgb(195,195,255)"/>
<rect x="754.12" y="67.00" width="1.75" height="53.00" fill="rgb(218,218,254)"/>
<rect x="755.62" y="67.00" width="1.25" height="53.00" fill="rgb(220,219,254)"/>
<rect x="756.62" y="67.00" width="1.75" height="53.00" fill="rgb(254,224,224)"/>
<rect x="758.12" y="67.00" width="2.75" height="53.00" fill="rgb(253,228,229)"/>
<rect x="760.62" y="67.00" width="1.25" height="53.00" fill="rgb(255,210,210)"/>
<rect x="761.62" y="67.00" width="1.25" height="53.00" fill="rgb(137,137,255)"/>
<rect x="762.62" y="67.00" width="1.25" height="53.00" fill="rgb(140,140,255)"/>
<rect x="763.62" y="67.00" width="1.25" height="53.00" fill="rgb(158,158,255)"/>
<rect x="764.62" y="67.00" width="1.25" height="53.00" fill="rgb(152,152,255)"/>
<rect x="765.62" y="67.00" width="1.25" height="53.00" fill="rgb(182,182,255)"/>
<rect x="766.61" y="67.00" width="1.75" height="53.00" fill="rgb(251,243,245)"/>
<rect x="768.11" y="67.00" width="1.75" height="53.00" fill="rgb(251,238,240)"/>
<rect x="769.61" y="67.00" width="2.25" height="53.00" fill="rgb(249,247,250)"/>
<rect x="771.61" y="67.00" width="2.75" height="53.00" fill="rgb(218,218,254)"/>
<rect x="774.11" y="67.00" width="2.75" height="53.00" fill="rgb(218,217,254)"/>
<rect x="776.61" y="67.00" width="2.25" height="53.00" fill="rgb(122,122,255)"/>
<rect x="778.61" y="67.00" width="1.75" height="53.00" fill="rgb(102,102,255)"/>
<rect x="780.11" y="67.00" width="1.25" height="53.00" fill="rgb(74,74,255)"/>
<rect x="781.11" y="67.00" width="0.75" height="53.00" fill="rgb(80,80,255)"/>
<rect x="781.61" y="67.00" width="2.75" height="53.00" fill="rgb(62,62,255)"/>
<rect x="784.11" y="67.00" width="2.75" height="53.00" fill="rgb(70,70,255)"/>
<rect x="786.60" y="67.00" width="2.25" height="53.00" fill="rgb(223,223,254)"/>
<rect x="788.60" y="67.00" width="1.25" height="53.00" fill="rgb(218,217,254)"/>
<rect x="789.60" y="67.00" width="1.75" height="53.00" fill="rgb(202,202,255)"/>
<rect x="791.10" y="67.00" width="0.75" height="53.00" fill="rgb(216,215,255)"/>
<rect x="92.00" y="120.00" width="2.25" height="53.00" fill="rgb(255,159,159)"/>
<rect x="94.00" y="120.00" width="1.75" height="53.00" fill="rgb(255,161,161)"/>
<rect x="95.50" y="120.00" width="1.75" height="53.00" fill="rgb(255,135,135)"/>
<rect x="97.00" y="120.00" width="1.75" height="53.00" fill="rgb(250,246,248)"/>
<rect x="98.50" y="120.00" width="1.25" height="53.00" fill="rgb(251,244,246)"/>
<rect x="99.50" y="120.00" width="1.75" height="53.00" fill="rgb(251,240,241)"/>
<rect x="101.00" y="120.00" width="1.25" height="53.00" fill="rgb(242,240,251)"/>
<rect x="101.99" y="120.00" width="2.75" height="53.00" fill="rgb(255,205,205)"/>
<rect x="104.49" y="120.00" width="2.25" height="53.00" fill="rgb(253,226,227)"/>
<rect x="106.49" y="120.00" width="0.75" height="53.00" fill="rgb(254,221,222)"/>
<rect x="106.99" y="120.00" width="1.25" height="53.00" fill="rgb(255,215,216)"/>
<rect x="107.99" y="120.00" width="1.75" height="53.00" fill="rgb(254,222,222)"/>
<rect x="109.49" y="120.00" width="1.25" height="53.00" fill="rgb(255,211,211)"/>
<rect x="110.49" y="120.00" width="1.75" height="53.00" fill="rgb(254,224,225)"/>
<rect x="111.99" y="120.00" width="2.25" height="53.00" fill="rgb(255,210,210)"/>
<rect x="113.99" y="120.00" width="1.25" height="53.00" fill="rgb(255,195,195)"/>
<rect x="114.99" y="120.00" width="1.25" height="53.00" fill="rgb(254,220,221)"/>
<rect x="115.99" y="120.00" width="1.25" height="53.00" fill="rgb(254,222,222)"/>
<rect x="116.99" y="120.00" width="2.25" height="53.00" fill="rgb(255,200,200)"/>
<rect x="118.99" y="120.00" width="1.75" height="53.00" fill="rgb(255,210,210)"/>
<rect x="120.49" y="120.00" width="1.25" height="53.00" fill="rgb(255,215,215)"/>
<rect x="121.49" y="120.00" width="0.75" height="53.00" fill="rgb(254,224,224)"/>
<rect x="121.98" y="120.00" width="1.75" height="53.00" fill="rgb(244,242,251)"/>
<rect x="123.48" y="120.00" width="2.75" height="53.00" fill="rgb(251,244,246)"/>
<rect x="125.98" y="120.00" width="1.25" height="53.00" fill="rgb(239,238,252)"/>
<rect x="126.98" y="120.00" width="2.75" height="53.00" fill="rgb(249,247,250)"/>
<rect x="129.48" y="120.00" width="1.75" height="53.00" fill="rgb(250,247,249)"/>
<rect x="130.98" y="120.00" width="1.25" height="53.00" fill="rgb(250,246,248)"/>
<rect x="131.98" y="120.00" width="1.75" height="53.00" fill="rgb(245,243,251)"/>
<rect x="133.48" y="120.00" width="1.75" height="53.00" fill="rgb(242,241,251)"/>
<rect x="134.98" y="120.00" width="2.25" height="53.00" fill="rgb(236,234,252)"/>
<rect x="136.97" y="120.00" width="1.25" height="53.00" fill="rgb(251,241,243)"/>
<rect x="137.97" y="120.00" width="1.75" height="53.00" fill="rgb(247,245,250)"/>
<rect x="139.47" y="120.00" width="2.75" height="53.00" fill="rgb(250,245,247)"/>
<rect x="141.97" y="120.00" width="2.75" height="53.00" fill="rgb(254,219,219)"/>
<rect x="144.47" y="120.00" width="2.75" height="53.00" fill="rgb(255,203,203)"/>
<rect x="146.97" y="120.00" width="2.75" height="53.00" fill="rgb(255,197,197)"/>
<rect x="149.47" y="120.00" width="2.75" height="53.00" fill="rgb(255,199,199)"/>
<rect x="151.97" y="120.00" width="2.75" height="53.00" fill="rgb(255,200,200)"/>
<rect x="154.47" y="120.00" width="1.25" height="53.00" fill="rgb(255,211,211)"/>
<rect x="155.47" y="120.00" width="1.75" height="53.00" fill="rgb(255,213,213)"/>
<rect x="156.96" y="120.00" width="2.75" height="53.00" fill="rgb(255,216,217)"/>
<rect x="159.46" y="120.00" width="1.25" height="53.00" fill="rgb(254,219,220)"/>
<rect x="160.46" y="120.00" width="1.25" height="53.00" fill="rgb(254,220,221)"/>
<rect x="161.46" y="120.00" width="0.75" height="53.00" fill="rgb(255,204,204)"/>
<rect x="161.96" y="120.00" width="2.25" height="53.00" fill="rgb(255,203,203)"/>
<rect x="163.96" y="120.00" width="2.25" height="53.00" fill="rgb(255,197,197)"/>
<rect x="165.96" y="120.00" width="1.25" height="53.00" fill="rgb(254,222,222)"/>
<rect x="166.96" y="120.00" width="2.75" height="53.00" fill="rgb(242,240,251)"/>
<rect x="169.46" y="120.00" width="2.75" height="53.00" fill="rgb(252,234,235)"/>
<rect x="171.95" y="120.00" width="2.75" height="53.00" fill="rgb(255,206,206)"/>
<rect x="174.45" y="120.00" width="1.75" height="53.00" fill="rgb(255,212,212)"/>
<rect x="175.95" y="120.00" width="1.25" height="53.00" fill="rgb(255,195,195)"/>
<rect x="176.95" y="120.00" width="1.25" height="53.00" fill="rgb(255,192,192)"/>
<rect x="177.95" y="120.00" width="2.25" height="53.00" fill="rgb(255,198,198)"/>
<rect x="179.95" y="120.00" width="2.25" height="53.00" fill="rgb(255,211,211)"/>
<rect x="181.95" y="120.00" width="1.75" height="53.00" fill="rgb(254,223,223)"/>
<rect x="183.45" y="120.00" width="2.75" height="53.00" fill="rgb(255,211,211)"/>
<rect x="185.95" y="120.00" width="1.25" height="53.00" fill="rgb(253,226,227)"/>
<rect x="186.95" y="120.00" width="1.75" height="53.00" fill="rgb(253,226,226)"/>
<rect x="188.45" y="120.00" width="2.75" height="53.00" fill="rgb(253,229,230)"/>
<rect x="190.95" y="120.00" width="1.25" height="53.00" fill="rgb(255,204,204)"/>
<rect x="191.94" y="120.00" width="1.25" height="53.00" fill="rgb(254,219,220)"/>
<rect x="192.94" y="120.00" width="1.25" height="53.00" fill="rgb(255,216,216)"/>
<rect x="193.94" y="120.00" width="2.75" height="53.00" fill="rgb(255,200,200)"/>
<rect x="196.44" y="120.00" width="0.75" height="53.00" fill="rgb(253,225,226)"/>
<rect x="196.94" y="120.00" width="1.75" height="53.00" fill="rgb(255,186,186)"/>
<rect x="198.44" y="120.00" width="1.25" height="53.00" fill="rgb(255,168,168)"/>
<rect x="199.44" y="120.00" width="2.25" height="53.00" fill="rgb(255,174,174)"/>
<rect x="201.44" y="120.00" width="0.75" height="53.00" fill="rgb(255,181,181)"/>
<rect x="201.94" y="120.00" width="2.75" height="53.00" fill="rgb(255,142,142)"/>
<rect x="204.44" y="120.00" width="1.75" height="53.00" fill="rgb(255,175,175)"/>
<rect x="205.94" y="120.00" width="1.25" height="53.00" fill="rgb(255,179,179)"/>
<rect x="206.93" y="120.00" width="2.25" height="53.00" fill="rgb(255,197,197)"/>
<rect x="208.93" y="120.00" width="1.25" height="53.00" fill="rgb(254,224,225)"/>
<rect x="209.93" y="120.00" width="1.75" height="53.00" fill="rgb(255,213,213)"/>
<rect x="211.43" y="120.00" width="0.75" height="53.00" fill="rgb(254,223,224)"/>
<rect x="211.93" y="120.00" width="1.25" height="53.00" fill="rgb(255,157,157)"/>
<rect x="212.93" y="120.00" width="2.25" height="53.00" fill="rgb(255,152,152)"/>
<rect x="214.93" y="120.00" width="2.25" height="53.00" fill="rgb(255,137,137)"/>
<rect x="216.93" y="120.00" width="2.25" height="53.00" fill="rgb(255,143,143)"/>
<rect x="218.93" y="120.00" width="1.75" height="53.00" fill="rgb(255,173,173)"/>
<rect x="220.43" y="120.00" width="1.75" height="53.00" fill="rgb(255,170,170)"/>
<rect x="221.93" y="120.00" width="1.75" height="53.00" fill="rgb(255,178,178)"/>
<rect x="223.43" y="120.00" width="2.25" height="53.00" fill="rgb(255,182,182)"/>
<rect x="225.43" y="120.00" width="1.75" height="53.00" fill="rgb(255,176,176)"/>
<rect x="226.92" y="120.00" width="1.75" height="53.00" fill="rgb(255,214,214)"/>
<rect x="228.42" y="120.00" width="2.25" height="53.00" fill="rgb(255,201,201)"/>
<rect x="230.42" y="120.00" width="1.75" height="53.00" fill="rgb(255,201,201)"/>
<rect x="231.92" y="120.00" width="1.25" height="53.00" fill="rgb(255,210,210)"/>
<rect x="232.92" y="120.00" width="1.75" height="53.00" fill="rgb(255,193,193)"/>
<rect x="234.42" y="120.00" width="1.75" height="53.00" fill="rgb(255,207,207)"/>
<rect x="235.92" y="120.00" width="1.25" height="53.00" fill="rgb(253,225,226)"/>
<rect x="236.92" y="120.00" width="1.25" height="53.00" fill="rgb(255,168,168)"/>
<rect x="237.92" y="120.00" width="1.25" height="53.00" fill="rgb(255,169,169)"/>
<rect x="238.92" y="120.00" width="1.25" height="53.00" fill="rgb(255,164,164)"/>
<rect x="239.92" y="120.00" width="1.25" height="53.00" fill="rgb(255,187,187)"/>
<rect x="240.92" y="120.00" width="1.25" height="53.00" fill="rgb(255,164,164)"/>
<rect x="241.91" y="120.00" width="2.75" height="53.00" fill="rgb(255,147,147)"/>
<rect x="244.41" y="120.00" width="1.25" height="53.00" fill="rgb(255,180,180)"/>
<rect x="245.41" y="120.00" width="1.75" height="53.00" fill="rgb(255,177,177)"/>
<rect x="246.91" y="120.00" width="2.25" height="53.00" fill="rgb(255,151,151)"/>
<rect x="248.91" y="120.00" width="1.25" height="53.00" fill="rgb(255,180,180)"/>
<rect x="249.91" y="120.00" width="1.75" height="53.00" fill="rgb(255,135,135)"/>
<rect x="251.41" y="120.00" width="0.75" height="53.00" fill="rgb(255,158,158)"/>
<rect x="251.91" y="120.00" width="2.75" height="53.00" fill="rgb(255,187,187)"/>
<rect x="254.41" y="120.00" width="2.75" height="53.00" fill="rgb(255,185,185)"/>
<rect x="256.91" y="120.00" width="1.25" height="53.00" fill="rgb(255,162,162)"/>
<rect x="257.91" y="120.00" width="2.25" height="53.00" fill="rgb(255,174,174)"/>
<rect x="259.91" y="120.00" width="2.25" height="53.00" fill="rgb(255,148,148)"/>
<rect x="261.90" y="120.00" width="2.25" height="53.00" fill="rgb(255,166,166)"/>
<rect x="263.90" y="120.00" width="1.75" height="53.00" fill="rgb(255,160,160)"/>
<rect x="265.40" y="120.00" width="1.75" height="53.00" fill="rgb(255,183,183)"/>
<rect x="266.90" y="120.00" width="2.75" height="53.00" fill="rgb(202,202,255)"/>
<rect x="269.40" y="120.00" width="2.75" height="53.00" fill="rgb(216,215,255)"/>
<rect x="271.90" y="120.00" width="2.25" height="53.00" fill="rgb(251,239,241)"/>
<rect x="273.90" y="120.00" width="1.75" height="53.00" fill="rgb(242,241,251)"/>
<rect x="275.40" y="120.00" width="1.75" height="53.00" fill="rgb(252,237,239)"/>
<rect x="276.89" y="120.00" width="2.75" height="53.00" fill="rgb(242,241,251)"/>
<rect x="279.39" y="120.00" width="1.75" height="53.00" fill="rgb(250,245,247)"/>
<rect x="280.89" y="120.00" width="1.25" height="53.00" fill="rgb(250,246,248)"/>
<rect x="281.89" y="120.00" width="1.75" height="53.00" fill="rgb(254,219,220)"/>
<rect x="283.39" y="120.00" width="1.25" height="53.00" fill="rgb(255,209,209)"/>
<rect x="284.39" y="120.00" width="2.75" height="53.00" fill="rgb(255,214,214)"/>
<rect x="286.89" y="120.00" width="2.25" height="53.00" fill="rgb(255,144,144)"/>
<rect x="288.89" y="120.00" width="1.25" height="53.00" fill="rgb(255,184,184)"/>
<rect x="289.89" y="120.00" width="1.75" height="53.00" fill="rgb(255,162,162)"/>
<rect x="291.39" y="120.00" width="0.75" height="53.00" fill="rgb(255,158,158)"/>
<rect x="291.89" y="120.00" width="1.25" height="53.00" fill="rgb(244,242,251)"/>
<rect x="292.89" y="120.00" width="1.25" height="53.00" fill="rgb(251,242,244)"/>
<rect x="293.89" y="120.00" width="2.25" height="53.00" fill="rgb(251,240,241)"/>
<rect x="295.89" y="120.00" width="1.25" height="53.00" fill="rgb(237,235,252)"/>
<rect x="296.88" y="120.00" width="1.75" height="53.00" fill="rgb(208,208,255)"/>
<rect x="298.38" y="120.00" width="1.75" height="53.00" fill="rgb(198,198,255)"/>
<rect x="299.88" y="120.00" width="2.25" height="53.00" fill="rgb(193,193,255)"/>
<rect x="301.88" y="120.00" width="2.75" height="53.00" fill="rgb(212,212,255)"/>
<rect x="304.38" y="120.00" width="1.75" height="53.00" fill="rgb(221,220,254)"/>
<rect x="305.88" y="120.00" width="1.25" height="53.00" fill="rgb(197,197,255)"/>
<rect x="306.88" y="120.00" width="1.75" height="53.00" fill="rgb(197,197,255)"/>
<rect x="308.38" y="120.00" width="2.75" height="53.00" fill="rgb(215,215,255)"/>
<rect x="310.88" y="120.00" width="1.25" height="53.00" fill="rgb(191,191,255)"/>
<rect x="311.87" y="120.00" width="2.75" height="53.00" fill="rgb(255,197,197)"/>
<rect x="314.37" y="120.00" width="1.75" height="53.00" fill="rgb(253,227,227)"/>
<rect x="315.87" y="120.00" width="1.25" height="53.00" fill="rgb(255,215,215)"/>
<rect x="316.87" y="120.00" width="1.25" height="53.00" fill="rgb(255,194,194)"/>
<rect x="317.87" y="120.00" width="1.75" height="53.00" fill="rgb(254,220,221)"/>
<rect x="319.37" y="120.00" width="1.25" height="53.00" fill="rgb(255,212,212)"/>
<rect x="320.37" y="120.00" width="1.75" height="53.00" fill="rgb(255,216,217)"/>
<rect x="321.87" y="120.00" width="1.25" height="53.00" fill="rgb(252,235,236)"/>
<rect x="322.87" y="120.00" width="2.25" height="53.00" fill="rgb(244,242,251)"/>
<rect x="324.87" y="120.00" width="1.75" height="53.00" fill="rgb(235,234,252)"/>
<rect x="326.37" y="120.00" width="0.75" height="53.00" fill="rgb(250,245,247)"/>
<rect x="326.87" y="120.00" width="1.25" height="53.00" fill="rgb(255,204,204)"/>
<rect x="327.87" y="120.00" width="1.75" height="53.00" fill="rgb(255,215,215)"/>
<rect x="329.37" y="120.00" width="2.75" height="53.00" fill="rgb(255,195,195)"/>
<rect x="331.86" y="120.00" width="1.75" height="53.00" fill="rgb(254,218,218)"/>
<rect x="333.36" y="120.00" width="1.25" height="53.00" fill="rgb(254,223,223)"/>
<rect x="334.36" y="120.00" width="2.25" height="53.00" fill="rgb(254,222,222)"/>
<rect x="336.36" y="120.00" width="0.75" height="53.00" fill="rgb(255,215,215)"/>
<rect x="336.86" y="120.00" width="2.75" height="53.00" fill="rgb(255,178,178)"/>
<rect x="339.36" y="120.00" width="2.75" height="53.00" fill="rgb(255,150,150)"/>
<rect x="341.86" y="120.00" width="2.75" height="53.00" fill="rgb(248,246,250)"/>
<rect x="344.36" y="120.00" width="1.75" height="53.00" fill="rgb(252,237,238)"/>
<rect x="345.86" y="120.00" width="1.25" height="53.00" fill="rgb(250,247,249)"/>
<rect x="346.85" y="120.00" width="2.75" height="53.00" fill="rgb(253,227,228)"/>
<rect x="349.35" y="120.00" width="2.25" height="53.00" fill="rgb(254,218,218)"/>
<rect x="351.35" y="120.00" width="0.75" height="53.00" fill="rgb(255,209,209)"/>
<rect x="351.85" y="120.00" width="1.75" height="53.00" fill="rgb(255,204,204)"/>
<rect x="353.35" y="120.00" width="2.75" height="53.00" fill="rgb(255,211,211)"/>
<rect x="355.85" y="120.00" width="1.25" height="53.00" fill="rgb(254,221,221)"/>
<rect x="356.85" y="120.00" width="2.25" height="53.00" fill="rgb(255,185,185)"/>
<rect x="358.85" y="120.00" width="2.25" height="53.00" fill="rgb(255,182,182)"/>
<rect x="360.85" y="120.00" width="1.25" height="53.00" fill="rgb(255,152,152)"/>
<rect x="361.85" y="120.00" width="1.25" height="53.00" fill="rgb(255,187,187)"/>
<rect x="362.85" y="120.00" width="2.25" height="53.00" fill="rgb(255,145,145)"/>
<rect x="364.85" y="120.00" width="2.25" height="53.00" fill="rgb(255,184,184)"/>
<rect x="366.84" y="120.00" width="2.75" height="53.00" fill="rgb(254,219,220)"/>
<rect x="369.34" y="120.00" width="1.25" height="53.00" fill="rgb(254,220,220)"/>
<rect x="370.34" y="120.00" width="1.75" height="53.00" fill="rgb(255,214,214)"/>
<rect x="371.84" y="120.00" width="1.75" height="53.00" fill="rgb(255,118,118)"/>
<rect x="373.34" y="120.00" width="1.75" height="53.00" fill="rgb(255,125,125)"/>
<rect x="374.84" y="120.00" width="2.25" height="53.00" fill="rgb(255,102,102)"/>
<rect x="376.84" y="120.00" width="2.75" height="53.00" fill="rgb(255,163,163)"/>
<rect x="379.34" y="120.00" width="1.75" height="53.00" fill="rgb(255,165,165)"/>
<rect x="380.84" y="120.00" width="1.25" height="53.00" fill="rgb(255,174,174)"/>
<rect x="381.83" y="120.00" width="2.75" height="53.00" fill="rgb(255,156,156)"/>
<rect x="384.33" y="120.00" width="1.75" height="53.00" fill="rgb(255,142,142)"/>
<rect x="385.83" y="120.00" width="1.25" height="53.00" fill="rgb(255,164,164)"/>
<rect x="386.83" y="120.00" width="2.75" height="53.00" fill="rgb(255,170,170)"/>
<rect x="389.33" y="120.00" width="2.75" height="53.00" fill="rgb(255,165,165)"/>
<rect x="391.83" y="120.00" width="2.25" height="53.00" fill="rgb(254,222,223)"/>
<rect x="393.83" y="120.00" width="2.25" height="53.00" fill="rgb(254,218,218)"/>
<rect x="395.83" y="120.00" width="1.25" height="53.00" fill="rgb(253,225,226)"/>
<rect x="396.83" y="120.00" width="1.25" height="53.00" fill="rgb(255,150,150)"/>
<rect x="397.83" y="120.00" width="2.75" height="53.00" fill="rgb(255,162,162)"/>
<rect x="400.33" y="120.00" width="1.75" height="53.00" fill="rgb(255,156,156)"/>
<rect x="401.82" y="120.00" width="1.25" height="53.00" fill="rgb(255,140,140)"/>
<rect x="402.82" y="120.00" width="1.75" height="53.00" fill="rgb(255,162,162)"/>
<rect x="404.32" y="120.00" width="2.25" height="53.00" fill="rgb(255,156,156)"/>
<rect x="406.32" y="120.00" width="0.75" height="53.00" fill="rgb(255,177,177)"/>
<rect x="406.82" y="120.00" width="2.25" height="53.00" fill="rgb(253,227,227)"/>
<rect x="408.82" y="120.00" width="2.75" height="53.00" fill="rgb(253,226,226)"/>
<rect x="411.32" y="120.00" width="0.75" height="53.00" fill="rgb(253,227,228)"/>
<rect x="411.82" y="120.00" width="2.75" height="53.00" fill="rgb(252,235,236)"/>
<rect x="414.32" y="120.00" width="2.25" height="53.00" fill="rgb(250,248,250)"/>
<rect x="416.32" y="120.00" width="0.75" height="53.00" fill="rgb(241,239,251)"/>
<rect x="416.81" y="120.00" width="2.75" height="53.00" fill="rgb(240,239,251)"/>
<rect x="419.31" y="120.00" width="1.75" height="53.00" fill="rgb(245,243,251)"/>
<rect x="420.81" y="120.00" width="1.25" height="53.00" fill="rgb(250,247,249)"/>
<rect x="421.81" y="120.00" width="2.25" height="53.00" fill="rgb(252,236,237)"/>
<rect x="423.81" y="120.00" width="1.75" height="53.00" fill="rgb(249,247,250)"/>
<rect x="425.31" y="120.00" width="1.75" height="53.00" fill="rgb(251,242,243)"/>
<rect x="426.81" y="120.00" width="2.25" height="53.00" fill="rgb(251,242,244)"/>
<rect x="428.81" y="120.00" width="1.25" height="53.00" fill="rgb(252,236,237)"/>
<rect x="429.81" y="120.00" width="1.25" height="53.00" fill="rgb(246,244,251)"/>
<rect x="430.81" y="120.00" width="1.25" height="53.00" fill="rgb(252,235,237)"/>
<rect x="431.81" y="120.00" width="2.25" height="53.00" fill="rgb(236,234,252)"/>
<rect x="433.81" y="120.00" width="2.75" height="53.00" fill="rgb(252,237,239)"/>
<rect x="436.31" y="120.00" width="0.75" height="53.00" fill="rgb(249,247,250)"/>
<rect x="436.80" y="120.00" width="2.25" height="53.00" fill="rgb(255,197,197)"/>
<rect x="438.80" y="120.00" width="1.25" height="53.00" fill="rgb(253,229,229)"/>
<rect x="439.80" y="120.00" width="2.25" height="53.00" fill="rgb(254,219,220)"/>
<rect x="441.80" y="120.00" width="2.25" height="53.00" fill="rgb(216,216,255)"/>
<rect x="443.80" y="120.00" width="2.25" height="53.00" fill="rgb(224,224,254)"/>
<rect x="445.80" y="120.00" width="1.25" height="53.00" fill="rgb(219,218,254)"/>
<rect x="446.80" y="120.00" width="2.75" height="53.00" fill="rgb(167,167,255)"/>
<rect x="449.30" y="120.00" width="2.25" height="53.00" fill="rgb(132,132,255)"/>
<rect x="451.30" y="120.00" width="0.75" height="53.00" fill="rgb(175,175,255)"/>
<rect x="451.79" y="120.00" width="1.25" height="53.00" fill="rgb(218,218,254)"/>
<rect x="452.79" y="120.00" width="2.75" height="53.00" fill="rgb(218,217,254)"/>
<rect x="455.29" y="120.00" width="1.25" height="53.00" fill="rgb(204,204,255)"/>
<rect x="456.29" y="120.00" width="0.75" height="53.00" fill="rgb(226,226,253)"/>
<rect x="456.79" y="120.00" width="2.75" height="53.00" fill="rgb(184,184,255)"/>
<rect x="459.29" y="120.00" width="2.75" height="53.00" fill="rgb(133,133,255)"/>
<rect x="461.79" y="120.00" width="1.75" height="53.00" fill="rgb(171,171,255)"/>
<rect x="463.29" y="120.00" width="2.25" height="53.00" fill="rgb(150,150,255)"/>
<rect x="465.29" y="120.00" width="1.75" height="53.00" fill="rgb(160,160,255)"/>
<rect x="466.79" y="120.00" width="1.25" height="53.00" fill="rgb(140,140,255)"/>
<rect x="467.79" y="120.00" width="1.75" height="53.00" fill="rgb(147,147,255)"/>
<rect x="469.29" y="120.00" width="2.25" height="53.00" fill="rgb(170,170,255)"/>
<rect x="471.29" y="120.00" width="0.75" height="53.00" fill="rgb(163,163,255)"/>
<rect x="471.78" y="120.00" width="2.75" height="53.00" fill="rgb(234,233,252)"/>
<rect x="474.28" y="120.00" width="2.75" height="53.00" fill="rgb(252,237,239)"/>
<rect x="476.78" y="120.00" width="1.25" height="53.00" fill="rgb(218,218,254)"/>
<rect x="477.78" y="120.00" width="2.25" height="53.00" fill="rgb(203,203,255)"/>
<rect x="479.78" y="120.00" width="1.25" height="53.00" fill="rgb(227,226,253)"/>
<rect x="480.78" y="120.00" width="1.25" height="53.00" fill="rgb(224,223,254)"/>
<rect x="481.78" y="120.00" width="1.75" height="53.00" fill="rgb(220,220,254)"/>
<rect x="483.28" y="120.00" width="1.75" height="53.00" fill="rgb(229,228,253)"/>
<rect x="484.78" y="120.00" width="1.75" height="53.00" fill="rgb(198,198,255)"/>
<rect x="486.28" y="120.00" width="0.75" height="53.00" fill="rgb(224,223,254)"/>
<rect x="486.77" y="120.00" width="2.25" height="53.00" fill="rgb(208,208,255)"/>
<rect x="488.77" y="120.00" width="2.25" height="53.00" fill="rgb(208,208,255)"/>
<rect x="490.77" y="120.00" width="1.25" height="53.00" fill="rgb(202,202,255)"/>
<rect x="491.77" y="120.00" width="1.75" height="53.00" fill="rgb(254,218,218)"/>
<rect x="493.27" y="120.00" width="1.75" height="53.00" fill="rgb(255,196,196)"/>
<rect x="494.77" y="120.00" width="1.75" height="53.00" fill="rgb(255,198,198)"/>
<rect x="496.27" y="120.00" width="0.75" height="53.00" fill="rgb(255,200,200)"/>
<rect x="496.77" y="120.00" width="2.25" height="53.00" fill="rgb(253,226,227)"/>
<rect x="498.77" y="120.00" width="2.75" height="53.00" fill="rgb(255,213,213)"/>
<rect x="501.27" y="120.00" width="0.75" height="53.00" fill="rgb(253,228,229)"/>
<rect x="501.77" y="120.00" width="2.75" height="53.00" fill="rgb(255,143,143)"/>
<rect x="504.27" y="120.00" width="1.25" height="53.00" fill="rgb(255,173,173)"/>
<rect x="505.27" y="120.00" width="1.75" height="53.00" fill="rgb(255,166,166)"/>
<rect x="506.76" y="120.00" width="2.75" height="53.00" fill="rgb(202,202,255)"/>
<rect x="509.26" y="120.00" width="2.25" height="53.00" fill="rgb(208,208,255)"/>
<rect x="511.26" y="120.00" width="0.75" height="53.00" fill="rgb(199,199,255)"/>
<rect x="511.76" y="120.00" width="1.75" height="53.00" fill="rgb(225,224,253)"/>
<rect x="513.26" y="120.00" width="1.75" height="53.00" fill="rgb(216,216,255)"/>
<rect x="514.76" y="120.00" width="2.25" height="53.00" fill="rgb(219,218,254)"/>
<rect x="516.76" y="120.00" width="1.75" height="53.00" fill="rgb(255,209,209)"/>
<rect x="518.26" y="120.00" width="2.25" height="53.00" fill="rgb(255,201,201)"/>
<rect x="520.26" y="120.00" width="1.75" height="53.00" fill="rgb(254,223,224)"/>
<rect x="521.75" y="120.00" width="2.25" height="53.00" fill="rgb(201,201,255)"/>
<rect x="523.75" y="120.00" width="1.75" height="53.00" fill="rgb(229,228,253)"/>
<rect x="525.25" y="120.00" width="1.75" height="53.00" fill="rgb(217,217,255)"/>
<rect x="526.75" y="120.00" width="1.75" height="53.00" fill="rgb(242,241,251)"/>
<rect x="528.25" y="120.00" width="2.25" height="53.00" fill="rgb(247,246,250)"/>
<rect x="530.25" y="120.00" width="1.75" height="53.00" fill="rgb(246,245,251)"/>
<rect x="531.75" y="120.00" width="1.75" height="53.00" fill="rgb(235,234,252)"/>
<rect x="533.25" y="120.00" width="1.25" height="53.00" fill="rgb(252,237,238)"/>
<rect x="534.25" y="120.00" width="1.75" height="53.00" fill="rgb(243,241,251)"/>
<rect x="535.75" y="120.00" width="1.25" height="53.00" fill="rgb(247,245,250)"/>
<rect x="536.75" y="120.00" width="1.25" height="53.00" fill="rgb(178,178,255)"/>
<rect x="537.75" y="120.00" width="2.75" height="53.00" fill="rgb(141,141,255)"/>
<rect x="540.25" y="120.00" width="1.25" height="53.00" fill="rgb(150,150,255)"/>
<rect x="541.25" y="120.00" width="0.75" height="53.00" fill="rgb(145,145,255)"/>
<rect x="541.74" y="120.00" width="2.75" height="53.00" fill="rgb(223,222,254)"/>
<rect x="544.24" y="120.00" width="2.75" height="53.00" fill="rgb(220,219,254)"/>
<rect x="546.74" y="120.00" width="1.75" height="53.00" fill="rgb(215,215,255)"/>
<rect x="548.24" y="120.00" width="1.75" height="53.00" fill="rgb(211,211,255)"/>
<rect x="549.74" y="120.00" width="1.25" height="53.00" fill="rgb(216,216,255)"/>
<rect x="550.74" y="120.00" width="1.25" height="53.00" fill="rgb(226,226,253)"/>
<rect x="551.74" y="120.00" width="2.75" height="53.00" fill="rgb(196,196,255)"/>
<rect x="554.24" y="120.00" width="2.25" height="53.00" fill="rgb(226,226,253)"/>
<rect x="556.24" y="120.00" width="0.75" height="53.00" fill="rgb(216,216,255)"/>
<rect x="556.73" y="120.00" width="1.75" height="53.00" fill="rgb(203,203,255)"/>
<rect x="558.23" y="120.00" width="2.75" height="53.00" fill="rgb(203,203,255)"/>
<rect x="560.73" y="120.00" width="1.25" height="53.00" fill="rgb(194,194,255)"/>
<rect x="561.73" y="120.00" width="1.75" height="53.00" fill="rgb(208,208,255)"/>
<rect x="563.23" y="120.00" width="2.25" height="53.00" fill="rgb(216,216,255)"/>
<rect x="565.23" y="120.00" width="1.75" height="53.00" fill="rgb(194,194,255)"/>
<rect x="566.73" y="120.00" width="2.25" height="53.00" fill="rgb(220,219,254)"/>
<rect x="568.73" y="120.00" width="1.25" height="53.00" fill="rgb(199,199,255)"/>
<rect x="569.73" y="120.00" width="2.25" height="53.00" fill="rgb(197,197,255)"/>
<rect x="571.73" y="120.00" width="1.75" height="53.00" fill="rgb(252,233,234)"/>
<rect x="573.23" y="120.00" width="2.75" height="53.00" fill="rgb(249,248,250)"/>
<rect x="575.73" y="120.00" width="1.25" height="53.00" fill="rgb(245,243,251)"/>
<rect x="576.72" y="120.00" width="2.75" height="53.00" fill="rgb(216,216,255)"/>
<rect x="579.22" y="120.00" width="1.75" height="53.00" fill="rgb(216,216,255)"/>
<rect x="580.72" y="120.00" width="1.25" height="53.00" fill="rgb(204,204,255)"/>
<rect x="581.72" y="120.00" width="2.25" height="53.00" fill="rgb(226,225,253)"/>
<rect x="583.72" y="120.00" width="2.75" height="53.00" fill="rgb(216,216,255)"/>
<rect x="586.22" y="120.00" width="0.75" height="53.00" fill="rgb(199,199,255)"/>
<rect x="586.72" y="120.00" width="1.25" height="53.00" fill="rgb(228,228,253)"/>
<rect x="587.72" y="120.00" width="1.25" height="53.00" fill="rgb(220,219,254)"/>
<rect x="588.72" y="120.00" width="2.25" height="53.00" fill="rgb(207,207,255)"/>
<rect x="590.72" y="120.00" width="1.25" height="53.00" fill="rgb(194,194,255)"/>
<rect x="591.71" y="120.00" width="2.75" height="53.00" fill="rgb(191,191,255)"/>
<rect x="594.21" y="120.00" width="1.75" height="53.00" fill="rgb(194,194,255)"/>
<rect x="595.71" y="120.00" width="1.25" height="53.00" fill="rgb(191,191,255)"/>
<rect x="596.71" y="120.00" width="2.25" height="53.00" fill="rgb(224,223,254)"/>
<rect x="598.71" y="120.00" width="2.75" height="53.00" fill="rgb(209,209,255)"/>
<rect x="601.21" y="120.00" width="0.75" height="53.00" fill="rgb(228,227,253)"/>
<rect x="601.71" y="120.00" width="2.75" height="53.00" fill="rgb(209,209,255)"/>
<rect x="604.21" y="120.00" width="2.75" height="53.00" fill="rgb(202,202,255)"/>
<rect x="606.71" y="120.00" width="1.25" height="53.00" fill="rgb(191,191,255)"/>
<rect x="607.71" y="120.00" width="1.75" height="53.00" fill="rgb(201,201,255)"/>
<rect x="609.21" y="120.00" width="2.75" height="53.00" fill="rgb(221,221,254)"/>
<rect x="611.70" y="120.00" width="2.25" height="53.00" fill="rgb(224,224,254)"/>
<rect x="613.70" y="120.00" width="2.25" height="53.00" fill="rgb(218,218,254)"/>
<rect x="615.70" y="120.00" width="1.25" height="53.00" fill="rgb(207,207,255)"/>
<rect x="616.70" y="120.00" width="2.25" height="53.00" fill="rgb(194,194,255)"/>
<rect x="618.70" y="120.00" width="2.25" height="53.00" fill="rgb(217,217,255)"/>
<rect x="620.70" y="120.00" width="1.25" height="53.00" fill="rgb(206,206,255)"/>
<rect x="621.70" y="120.00" width="1.75" height="53.00" fill="rgb(200,200,255)"/>
<rect x="623.20" y="120.00" width="1.75" height="53.00" fill="rgb(215,215,255)"/>
<rect x="624.70" y="120.00" width="1.75" height="53.00" fill="rgb(199,199,255)"/>
<rect x="626.20" y="120.00" width="0.75" height="53.00" fill="rgb(198,198,255)"/>
<rect x="626.69" y="120.00" width="2.25" height="53.00" fill="rgb(207,207,255)"/>
<rect x="628.69" y="120.00" width="2.75" height="53.00" fill="rgb(192,192,255)"/>
<rect x="631.19" y="120.00" width="0.75" height="53.00" fill="rgb(214,214,255)"/>
<rect x="631.69" y="120.00" width="2.75" height="53.00" fill="rgb(136,136,255)"/>
<rect x="634.19" y="120.00" width="1.75" height="53.00" fill="rgb(132,132,255)"/>
<rect x="635.69" y="120.00" width="1.25" height="53.00" fill="rgb(151,151,255)"/>
<rect x="636.69" y="120.00" width="1.25" height="53.00" fill="rgb(217,216,255)"/>
<rect x="637.69" y="120.00" width="2.25" height="53.00" fill="rgb(211,211,255)"/>
<rect x="639.69" y="120.00" width="1.75" height="53.00" fill="rgb(214,214,255)"/>
<rect x="641.19" y="120.00" width="0.75" height="53.00" fill="rgb(224,224,254)"/>
<rect x="641.69" y="120.00" width="1.25" height="53.00" fill="rgb(220,219,254)"/>
<rect x="642.69" y="120.00" width="2.25" height="53.00" fill="rgb(226,226,253)"/>
<rect x="644.69" y="120.00" width="2.25" height="53.00" fill="rgb(215,215,255)"/>
<rect x="646.68" y="120.00" width="1.25" height="53.00" fill="rgb(198,198,255)"/>
<rect x="647.68" y="120.00" width="2.75" height="53.00" fill="rgb(227,227,253)"/>
<rect x="650.18" y="120.00" width="1.25" height="53.00" fill="rgb(201,201,255)"/>
<rect x="651.18" y="120.00" width="0.75" height="53.00" fill="rgb(227,226,253)"/>
<rect x="651.68" y="120.00" width="2.75" height="53.00" fill="rgb(214,214,255)"/>
<rect x="654.18" y="120.00" width="1.25" height="53.00" fill="rgb(196,196,255)"/>
<rect x="655.18" y="120.00" width="1.75" height="53.00" fill="rgb(211,211,255)"/>
<rect x="656.68" y="120.00" width="2.75" height="53.00" fill="rgb(247,246,250)"/>
<rect x="659.18" y="120.00" width="2.75" height="53.00" fill="rgb(250,248,250)"/>
<rect x="661.67" y="120.00" width="2.75" height="53.00" fill="rgb(250,245,247)"/>
<rect x="664.17" y="120.00" width="1.25" height="53.00" fill="rgb(250,248,250)"/>
<rect x="665.17" y="120.00" width="1.25" height="53.00" fill="rgb(250,247,249)"/>
<rect x="666.17" y="120.00" width="0.75" height="53.00" fill="rgb(248,246,250)"/>
<rect x="666.67" y="120.00" width="1.25" height="53.00" fill="rgb(250,245,247)"/>
<rect x="667.67" y="120.00" width="2.25" height="53.00" fill="rgb(239,237,252)"/>
<rect x="669.67" y="120.00" width="2.25" height="53.00" fill="rgb(244,243,251)"/>
<rect x="671.67" y="120.00" width="2.25" height="53.00" fill="rgb(251,241,242)"/>
<rect x="673.67" y="120.00" width="2.25" height="53.00" fill="rgb(240,238,251)"/>
<rect x="675.67" y="120.00" width="1.25" height="53.00" fill="rgb(252,233,234)"/>
<rect x="676.67" y="120.00" width="2.75" height="53.00" fill="rgb(235,234,252)"/>
<rect x="679.17" y="120.00" width="1.75" height="53.00" fill="rgb(251,240,242)"/>
<rect x="680.67" y="120.00" width="1.25" height="53.00" fill="rgb(237,236,252)"/>
<rect x="681.66" y="120.00" width="1.75" height="53.00" fill="rgb(225,224,253)"/>
<rect x="683.16" y="120.00" width="1.75" height="53.00" fill="rgb(225,224,254)"/>
<rect x="684.66" y="120.00" width="1.25" height="53.00" fill="rgb(214,214,255)"/>
<rect x="685.66" y="120.00" width="1.25" height="53.00" fill="rgb(194,194,255)"/>
<rect x="686.66" y="120.00" width="1.25" height="53.00" fill="rgb(251,242,243)"/>
<rect x="687.66" y="120.00" width="2.25" height="53.00" fill="rgb(250,247,249)"/>
<rect x="689.66" y="120.00" width="2.25" height="53.00" fill="rgb(249,247,250)"/>
<rect x="691.66" y="120.00" width="1.25" height="53.00" fill="rgb(255,143,143)"/>
<rect x="692.66" y="120.00" width="1.75" height="53.00" fill="rgb(255,166,166)"/>
<rect x="694.16" y="120.00" width="1.75" height="53.00" fill="rgb(255,184,184)"/>
<rect x="695.66" y="120.00" width="1.25" height="53.00" fill="rgb(255,148,148)"/>
<rect x="696.65" y="120.00" width="2.75" height="53.00" fill="rgb(255,198,198)"/>
<rect x="699.15" y="120.00" width="1.25" height="53.00" fill="rgb(255,201,201)"/>
<rect x="700.15" y="120.00" width="1.25" height="53.00" fill="rgb(255,202,202)"/>
<rect x="701.15" y="120.00" width="0.75" height="53.00" fill="rgb(255,201,201)"/>
<rect x="701.65" y="120.00" width="1.75" height="53.00" fill="rgb(251,238,240)"/>
<rect x="703.15" y="120.00" width="1.75" height="53.00" fill="rgb(237,236,252)"/>
<rect x="704.65" y="120.00" width="1.25" height="53.00" fill="rgb(252,235,236)"/>
<rect x="705.65" y="120.00" width="1.25" height="53.00" fill="rgb(252,238,239)"/>
<rect x="706.65" y="120.00" width="1.25" height="53.00" fill="rgb(157,157,255)"/>
<rect x="707.65" y="120.00" width="2.75" height="53.00" fill="rgb(132,132,255)"/>
<rect x="710.15" y="120.00" width="1.75" height="53.00" fill="rgb(181,181,255)"/>
<rect x="711.65" y="120.00" width="1.25" height="53.00" fill="rgb(136,136,255)"/>
<rect x="712.65" y="120.00" width="1.75" height="53.00" fill="rgb(164,164,255)"/>
<rect x="714.15" y="120.00" width="2.25" height="53.00" fill="rgb(180,180,255)"/>
<rect x="716.15" y="120.00" width="0.75" height="53.00" fill="rgb(165,165,255)"/>
<rect x="716.64" y="120.00" width="2.75" height="53.00" fill="rgb(208,208,255)"/>
<rect x="719.14" y="120.00" width="2.25" height="53.00" fill="rgb(220,220,254)"/>
<rect x="721.14" y="120.00" width="0.75" height="53.00" fill="rgb(219,219,254)"/>
<rect x="721.64" y="120.00" width="1.75" height="53.00" fill="rgb(171,171,255)"/>
<rect x="723.14" y="120.00" width="1.75" height="53.00" fill="rgb(174,174,255)"/>
<rect x="724.64" y="120.00" width="1.75" height="53.00" fill="rgb(171,171,255)"/>
<rect x="726.14" y="120.00" width="0.75" height="53.00" fill="rgb(133,133,255)"/>
<rect x="726.64" y="120.00" width="2.25" height="53.00" fill="rgb(196,196,255)"/>
<rect x="728.64" y="120.00" width="2.25" height="53.00" fill="rgb(218,217,255)"/>
<rect x="730.64" y="120.00" width="1.25" height="53.00" fill="rgb(205,205,255)"/>
<rect x="731.63" y="120.00" width="1.25" height="53.00" fill="rgb(252,233,234)"/>
<rect x="732.63" y="120.00" width="1.75" height="53.00" fill="rgb(251,241,242)"/>
<rect x="734.13" y="120.00" width="2.25" height="53.00" fill="rgb(252,237,238)"/>
<rect x="736.13" y="120.00" width="0.75" height="53.00" fill="rgb(240,239,251)"/>
<rect x="736.63" y="120.00" width="1.25" height="53.00" fill="rgb(251,244,246)"/>
<rect x="737.63" y="120.00" width="2.75" height="53.00" fill="rgb(246,244,251)"/>
<rect x="740.13" y="120.00" width="1.75" height="53.00" fill="rgb(243,241,251)"/>
<rect x="741.63" y="120.00" width="1.75" height="53.00" fill="rgb(214,214,255)"/>
<rect x="743.13" y="120.00" width="1.25" height="53.00" fill="rgb(207,207,255)"/>
<rect x="744.13" y="120.00" width="2.75" height="53.00" fill="rgb(202,202,255)"/>
<rect x="746.63" y="120.00" width="1.25" height="53.00" fill="rgb(204,204,255)"/>
<rect x="747.63" y="120.00" width="2.25" height="53.00" fill="rgb(229,228,253)"/>
<rect x="749.63" y="120.00" width="1.25" height="53.00" fill="rgb(220,219,254)"/>
<rect x="750.63" y="120.00" width="1.25" height="53.00" fill="rgb(201,201,255)"/>
<rect x="751.62" y="120.00" width="2.75" height="53.00" fill="rgb(155,155,255)"/>
<rect x="754.12" y="120.00" width="2.75" height="53.00" fill="rgb(167,167,255)"/>
<rect x="756.62" y="120.00" width="2.75" height="53.00" fill="rgb(169,169,255)"/>
<rect x="759.12" y="120.00" width="2.25" height="53.00" fill="rgb(157,157,255)"/>
<rect x="761.12" y="120.00" width="0.75" height="53.00" fill="rgb(166,166,255)"/>
<rect x="761.62" y="120.00" width="2.25" height="53.00" fill="rgb(255,109,109)"/>
<rect x="763.62" y="120.00" width="1.25" height="53.00" fill="rgb(255,82,82)"/>
<rect x="764.62" y="120.00" width="1.75" height="53.00" fill="rgb(255,127,127)"/>
<rect x="766.12" y="120.00" width="0.75" height="53.00" fill="rgb(255,119,119)"/>
<rect x="766.61" y="120.00" width="2.25" height="53.00" fill="rgb(255,103,103)"/>
<rect x="768.61" y="120.00" width="2.25" height="53.00" fill="rgb(255,106,106)"/>
<rect x="770.61" y="120.00" width="1.25" height="53.00" fill="rgb(255,92,92)"/>
<rect x="771.61" y="120.00" width="1.25" height="53.00" fill="rgb(255,99,99)"/>
<rect x="772.61" y="120.00" width="1.75" height="53.00" fill="rgb(255,122,122)"/>
<rect x="774.11" y="120.00" width="2.25" height="53.00" fill="rgb(255,126,126)"/>
<rect x="776.11" y="120.00" width="0.75" height="53.00" fill="rgb(255,78,78)"/>
<rect x="776.61" y="120.00" width="2.25" height="53.00" fill="rgb(255,135,135)"/>
<rect x="778.61" y="120.00" width="1.25" height="53.00" fill="rgb(255,155,155)"/>
<rect x="779.61" y="120.00" width="1.75" height="53.00" fill="rgb(255,167,167)"/>
<rect x="781.11" y="120.00" width="0.75" height="53.00" fill="rgb(255,180,180)"/>
<rect x="781.61" y="120.00" width="2.25" height="53.00" fill="rgb(255,97,97)"/>
<rect x="783.61" y="120.00" width="1.25" height="53.00" fill="rgb(255,59,59)"/>
<rect x="784.61" y="120.00" width="1.25" height="53.00" fill="rgb(255,57,57)"/>
<rect x="785.61" y="120.00" width="1.25" height="53.00" fill="rgb(255,100,100)"/>
<rect x="786.60" y="120.00" width="1.75" height="53.00" fill="rgb(255,84,84)"/>
<rect x="788.10" y="120.00" width="1.25" height="53.00" fill="rgb(255,57,57)"/>
<rect x="789.10" y="120.00" width="1.25" height="53.00" fill="rgb(255,56,56)"/>
<rect x="790.10" y="120.00" width="1.75" height="53.00" fill="rgb(255,73,73)"/>
<rect x="92.00" y="173.00" width="1.75" height="53.00" fill="rgb(255,95,95)"/>
<rect x="93.50" y="173.00" width="1.75" height="53.00" fill="rgb(255,96,96)"/>
<rect x="95.00" y="173.00" width="1.75" height="53.00" fill="rgb(255,95,95)"/>
<rect x="96.50" y="173.00" width="0.75" height="53.00" fill="rgb(255,77,77)"/>
<rect x="97.00" y="173.00" width="1.25" height="53.00" fill="rgb(255,127,127)"/>
<rect x="98.00" y="173.00" width="2.25" height="53.00" fill="rgb(255,83,83)"/>
<rect x="100.00" y="173.00" width="2.25" height="53.00" fill="rgb(255,74,74)"/>
<rect x="101.99" y="173.00" width="1.25" height="53.00" fill="rgb(255,100,100)"/>
<rect x="102.99" y="173.00" width="1.75" height="53.00" fill="rgb(255,127,127)"/>
<rect x="104.49" y="173.00" width="2.25" height="53.00" fill="rgb(255,61,61)"/>
<rect x="106.49" y="173.00" width="0.75" height="53.00" fill="rgb(255,121,121)"/>
<rect x="106.99" y="173.00" width="2.75" height="53.00" fill="rgb(255,93,93)"/>
<rect x="109.49" y="173.00" width="1.25" height="53.00" fill="rgb(255,74,74)"/>
<rect x="110.49" y="173.00" width="1.25" height="53.00" fill="rgb(255,109,109)"/>
<rect x="111.49" y="173.00" width="0.75" height="53.00" fill="rgb(255,123,123)"/>
<rect x="111.99" y="173.00" width="1.75" height="53.00" fill="rgb(255,119,119)"/>
<rect x="113.49" y="173.00" width="1.25" height="53.00" fill="rgb(255,95,95)"/>
<rect x="114.49" y="173.00" width="2.25" height="53.00" fill="rgb(255,109,109)"/>
<rect x="116.49" y="173.00" width="0.75" height="53.00" fill="rgb(255,112,112)"/>
<rect x="116.99" y="173.00" width="2.75" height="53.00" fill="rgb(255,215,215)"/>
<rect x="119.49" y="173.00" width="1.75" height="53.00" fill="rgb(255,210,210)"/>
<rect x="120.99" y="173.00" width="1.25" height="53.00" fill="rgb(255,211,211)"/>
<rect x="121.98" y="173.00" width="2.75" height="53.00" fill="rgb(238,237,252)"/>
<rect x="124.48" y="173.00" width="1.25" height="53.00" fill="rgb(251,239,240)"/>
<rect x="125.48" y="173.00" width="1.75" height="53.00" fill="rgb(238,237,252)"/>
<rect x="126.98" y="173.00" width="1.75" height="53.00" fill="rgb(255,170,170)"/>
<rect x="128.48" y="173.00" width="1.25" height="53.00" fill="rgb(255,170,170)"/>
<rect x="129.48" y="173.00" width="1.25" height="53.00" fill="rgb(255,178,178)"/>
<rect x="130.48" y="173.00" width="1.25" height="53.00" fill="rgb(255,151,151)"/>
<rect x="131.48" y="173.00" width="0.75" height="53.00" fill="rgb(255,181,181)"/>
<rect x="131.98" y="173.00" width="1.25" height="53.00" fill="rgb(255,170,170)"/>
<rect x="132.98" y="173.00" width="2.75" height="53.00" fill="rgb(255,175,175)"/>
<rect x="135.48" y="173.00" width="1.25" height="53.00" fill="rgb(255,171,171)"/>
<rect x="136.48" y="173.00" width="0.75" height="53.00" fill="rgb(255,184,184)"/>
<rect x="136.97" y="173.00" width="2.25" height="53.00" fill="rgb(255,164,164)"/>
<rect x="138.97" y="173.00" width="2.75" height="53.00" fill="rgb(255,173,173)"/>
<rect x="141.47" y="173.00" width="0.75" height="53.00" fill="rgb(255,179,179)"/>
<rect x="141.97" y="173.00" width="1.75" height="53.00" fill="rgb(255,211,211)"/>
<rect x="143.47" y="173.00" width="1.25" height="53.00" fill="rgb(255,217,217)"/>
<rect x="144.47" y="173.00" width="2.25" height="53.00" fill="rgb(254,221,222)"/>
<rect x="146.47" y="173.00" width="0.75" height="53.00" fill="rgb(254,223,223)"/>
<rect x="146.97" y="173.00" width="1.25" height="53.00" fill="rgb(248,246,250)"/>
<rect x="147.97" y="173.00" width="2.75" height="53.00" fill="rgb(246,244,251)"/>
<rect x="150.47" y="173.00" width="1.75" height="53.00" fill="rgb(245,243,251)"/>
<rect x="151.97" y="173.00" width="1.25" height="53.00" fill="rgb(255,185,185)"/>
<rect x="152.97" y="173.00" width="1.25" height="53.00" fill="rgb(255,181,181)"/>
<rect x="153.97" y="173.00" width="2.75" height="53.00" fill="rgb(255,163,163)"/>
<rect x="156.47" y="173.00" width="0.75" height="53.00" fill="rgb(255,146,146)"/>
<rect x="156.96" y="173.00" width="1.25" height="53.00" fill="rgb(255,153,153)"/>
<rect x="157.96" y="173.00" width="1.25" height="53.00" fill="rgb(255,174,174)"/>
<rect x="158.96" y="173.00" width="2.75" height="53.00" fill="rgb(255,138,138)"/>
<rect x="161.46" y="173.00" width="0.75" height="53.00" fill="rgb(255,151,151)"/>
<rect x="161.96" y="173.00" width="2.25" height="53.00" fill="rgb(255,170,170)"/>
<rect x="163.96" y="173.00" width="1.25" height="53.00" fill="rgb(255,187,187)"/>
<rect x="164.96" y="173.00" width="2.25" height="53.00" fill="rgb(255,137,137)"/>
<rect x="166.96" y="173.00" width="2.25" height="53.00" fill="rgb(255,137,137)"/>
<rect x="168.96" y="173.00" width="2.25" height="53.00" fill="rgb(255,145,145)"/>
<rect x="170.96" y="173.00" width="1.25" height="53.00" fill="rgb(255,159,159)"/>
<rect x="171.95" y="173.00" width="1.25" height="53.00" fill="rgb(254,220,220)"/>
<rect x="172.95" y="173.00" width="2.75" height="53.00" fill="rgb(253,226,226)"/>
<rect x="175.45" y="173.00" width="1.75" height="53.00" fill="rgb(253,228,228)"/>
<rect x="176.95" y="173.00" width="1.25" height="53.00" fill="rgb(241,239,251)"/>
<rect x="177.95" y="173.00" width="2.25" height="53.00" fill="rgb(251,239,240)"/>
<rect x="179.95" y="173.00" width="2.25" height="53.00" fill="rgb(251,243,245)"/>
<rect x="181.95" y="173.00" width="2.25" height="53.00" fill="rgb(255,217,217)"/>
<rect x="183.95" y="173.00" width="2.25" height="53.00" fill="rgb(255,211,211)"/>
<rect x="185.95" y="173.00" width="1.25" height="53.00" fill="rgb(253,227,227)"/>
<rect x="186.95" y="173.00" width="1.75" height="53.00" fill="rgb(251,238,239)"/>
<rect x="188.45" y="173.00" width="2.25" height="53.00" fill="rgb(235,234,252)"/>
<rect x="190.45" y="173.00" width="1.75" height="53.00" fill="rgb(251,238,240)"/>
<rect x="191.94" y="173.00" width="2.25" height="53.00" fill="rgb(251,244,245)"/>
<rect x="193.94" y="173.00" width="1.25" height="53.00" fill="rgb(252,233,234)"/>
<rect x="194.94" y="173.00" width="2.25" height="53.00" fill="rgb(235,234,252)"/>
<rect x="196.94" y="173.00" width="1.25" height="53.00" fill="rgb(255,212,212)"/>
<rect x="197.94" y="173.00" width="2.25" height="53.00" fill="rgb(255,208,208)"/>
<rect x="199.94" y="173.00" width="1.25" height="53.00" fill="rgb(255,209,209)"/>
<rect x="200.94" y="173.00" width="1.25" height="53.00" fill="rgb(255,211,211)"/>
<rect x="201.94" y="173.00" width="1.25" height="53.00" fill="rgb(224,224,254)"/>
<rect x="202.94" y="173.00" width="2.75" height="53.00" fill="rgb(210,210,255)"/>
<rect x="205.44" y="173.00" width="1.25" height="53.00" fill="rgb(199,199,255)"/>
<rect x="206.44" y="173.00" width="0.75" height="53.00" fill="rgb(211,211,255)"/>
<rect x="206.93" y="173.00" width="1.75" height="53.00" fill="rgb(246,244,251)"/>
<rect x="208.43" y="173.00" width="2.75" height="53.00" fill="rgb(251,243,244)"/>
<rect x="210.93" y="173.00" width="1.25" height="53.00" fill="rgb(248,246,250)"/>
<rect x="211.93" y="173.00" width="1.25" height="53.00" fill="rgb(252,238,239)"/>
<rect x="212.93" y="173.00" width="2.25" height="53.00" fill="rgb(251,243,245)"/>
<rect x="214.93" y="173.00" width="1.25" height="53.00" fill="rgb(251,242,243)"/>
<rect x="215.93" y="173.00" width="1.25" height="53.00" fill="rgb(244,242,251)"/>
<rect x="216.93" y="173.00" width="1.25" height="53.00" fill="rgb(255,196,196)"/>
<rect x="217.93" y="173.00" width="1.75" height="53.00" fill="rgb(253,226,227)"/>
<rect x="219.43" y="173.00" width="2.25" height="53.00" fill="rgb(255,212,212)"/>
<rect x="221.43" y="173.00" width="0.75" height="53.00" fill="rgb(253,225,225)"/>
<rect x="221.93" y="173.00" width="2.25" height="53.00" fill="rgb(249,247,250)"/>
<rect x="223.93" y="173.00" width="1.25" height="53.00" fill="rgb(252,236,237)"/>
<rect x="224.93" y="173.00" width="2.25" height="53.00" fill="rgb(240,239,251)"/>
<rect x="226.92" y="173.00" width="2.75" height="53.00" fill="rgb(255,214,214)"/>
<rect x="229.42" y="173.00" width="2.75" height="53.00" fill="rgb(255,214,214)"/>
<rect x="231.92" y="173.00" width="2.75" height="53.00" fill="rgb(255,183,183)"/>
<rect x="234.42" y="173.00" width="1.75" height="53.00" fill="rgb(255,149,149)"/>
<rect x="235.92" y="173.00" width="1.25" height="53.00" fill="rgb(255,179,179)"/>
<rect x="236.92" y="173.00" width="2.25" height="53.00" fill="rgb(255,146,146)"/>
<rect x="238.92" y="173.00" width="2.25" height="53.00" fill="rgb(255,171,171)"/>
<rect x="240.92" y="173.00" width="1.25" height="53.00" fill="rgb(255,168,168)"/>
<rect x="241.91" y="173.00" width="2.75" height="53.00" fill="rgb(255,172,172)"/>
<rect x="244.41" y="173.00" width="1.75" height="53.00" fill="rgb(255,167,167)"/>
<rect x="245.91" y="173.00" width="1.25" height="53.00" fill="rgb(255,173,173)"/>
<rect x="246.91" y="173.00" width="2.75" height="53.00" fill="rgb(254,222,223)"/>
<rect x="249.41" y="173.00" width="2.25" height="53.00" fill="rgb(254,219,219)"/>
<rect x="251.41" y="173.00" width="0.75" height="53.00" fill="rgb(255,211,211)"/>
<rect x="251.91" y="173.00" width="2.25" height="53.00" fill="rgb(255,196,196)"/>
<rect x="253.91" y="173.00" width="2.25" height="53.00" fill="rgb(254,218,218)"/>
<rect x="255.91" y="173.00" width="1.25" height="53.00" fill="rgb(255,216,216)"/>
<rect x="256.91" y="173.00" width="1.25" height="53.00" fill="rgb(250,246,248)"/>
<rect x="257.91" y="173.00" width="2.75" height="53.00" fill="rgb(252,235,237)"/>
<rect x="260.41" y="173.00" width="1.75" height="53.00" fill="rgb(246,245,251)"/>
<rect x="261.90" y="173.00" width="1.25" height="53.00" fill="rgb(201,201,255)"/>
<rect x="262.90" y="173.00" width="1.25" height="53.00" fill="rgb(220,219,254)"/>
<rect x="263.90" y="173.00" width="1.75" height="53.00" fill="rgb(192,192,255)"/>
<rect x="265.40" y="173.00" width="1.75" height="53.00" fill="rgb(216,216,255)"/>
<rect x="266.90" y="173.00" width="2.75" height="53.00" fill="rgb(255,107,107)"/>
<rect x="269.40" y="173.00" width="1.75" height="53.00" fill="rgb(255,99,99)"/>
<rect x="270.90" y="173.00" width="1.25" height="53.00" fill="rgb(255,72,72)"/>
<rect x="271.90" y="173.00" width="1.25" height="53.00" fill="rgb(255,112,112)"/>
<rect x="272.90" y="173.00" width="1.75" height="53.00" fill="rgb(255,114,114)"/>
<rect x="274.40" y="173.00" width="1.75" height="53.00" fill="rgb(255,67,67)"/>
<rect x="275.90" y="173.00" width="1.25" height="53.00" fill="rgb(255,120,120)"/>
<rect x="276.89" y="173.00" width="1.75" height="53.00" fill="rgb(255,89,89)"/>
<rect x="278.39" y="173.00" width="2.25" height="53.00" fill="rgb(255,81,81)"/>
<rect x="280.39" y="173.00" width="1.75" height="53.00" fill="rgb(255,121,121)"/>
<rect x="281.89" y="173.00" width="2.25" height="53.00" fill="rgb(255,87,87)"/>
<rect x="283.89" y="173.00" width="2.25" height="53.00" fill="rgb(255,121,121)"/>
<rect x="285.89" y="173.00" width="1.25" height="53.00" fill="rgb(255,126,126)"/>
<rect x="286.89" y="173.00" width="2.25" height="53.00" fill="rgb(255,155,155)"/>
<rect x="288.89" y="173.00" width="2.25" height="53.00" fill="rgb(255,177,177)"/>
<rect x="290.89" y="173.00" width="1.25" height="53.00" fill="rgb(255,176,176)"/>
<rect x="291.89" y="173.00" width="1.25" height="53.00" fill="rgb(255,176,176)"/>
<rect x="292.89" y="173.00" width="2.25" height="53.00" fill="rgb(255,148,148)"/>
<rect x="294.89" y="173.00" width="1.75" height="53.00" fill="rgb(255,142,142)"/>
<rect x="296.39" y="173.00" width="0.75" height="53.00" fill="rgb(255,146,146)"/>
<rect x="296.88" y="173.00" width="1.75" height="53.00" fill="rgb(255,209,209)"/>
<rect x="298.38" y="173.00" width="1.75" height="53.00" fill="rgb(255,213,213)"/>
<rect x="299.88" y="173.00" width="2.25" height="53.00" fill="rgb(254,220,220)"/>
<rect x="301.88" y="173.00" width="2.75" height="53.00" fill="rgb(228,227,253)"/>
<rect x="304.38" y="173.00" width="2.25" height="53.00" fill="rgb(219,219,254)"/>
<rect x="306.38" y="173.00" width="0.75" height="53.00" fill="rgb(213,213,255)"/>
<rect x="306.88" y="173.00" width="2.25" height="53.00" fill="rgb(207,207,255)"/>
<rect x="308.88" y="173.00" width="1.75" height="53.00" fill="rgb(228,228,253)"/>
<rect x="310.38" y="173.00" width="1.75" height="53.00" fill="rgb(216,216,255)"/>
<rect x="311.87" y="173.00" width="2.25" height="53.00" fill="rgb(255,197,197)"/>
<rect x="313.87" y="173.00" width="1.25" height="53.00" fill="rgb(255,195,195)"/>
<rect x="314.87" y="173.00" width="1.25" height="53.00" fill="rgb(255,211,211)"/>
<rect x="315.87" y="173.00" width="1.25" height="53.00" fill="rgb(254,220,220)"/>
<rect x="316.87" y="173.00" width="1.25" height="53.00" fill="rgb(237,236,252)"/>
<rect x="317.87" y="173.00" width="1.25" height="53.00" fill="rgb(240,239,251)"/>
<rect x="318.87" y="173.00" width="2.25" height="53.00" fill="rgb(244,242,251)"/>
<rect x="320.87" y="173.00" width="1.25" height="53.00" fill="rgb(236,235,252)"/>
<rect x="321.87" y="173.00" width="1.25" height="53.00" fill="rgb(253,225,226)"/>
<rect x="322.87" y="173.00" width="2.75" height="53.00" fill="rgb(255,211,211)"/>
<rect x="325.37" y="173.00" width="1.25" height="53.00" fill="rgb(255,216,216)"/>
<rect x="326.37" y="173.00" width="0.75" height="53.00" fill="rgb(253,227,227)"/>
<rect x="326.87" y="173.00" width="2.25" height="53.00" fill="rgb(218,217,254)"/>
<rect x="328.87" y="173.00" width="1.75" height="53.00" fill="rgb(226,226,253)"/>
<rect x="330.37" y="173.00" width="1.25" height="53.00" fill="rgb(210,210,255)"/>
<rect x="331.37" y="173.00" width="0.75" height="53.00" fill="rgb(200,200,255)"/>
<rect x="331.86" y="173.00" width="2.75" height="53.00" fill="rgb(192,192,255)"/>
<rect x="334.36" y="173.00" width="1.25" height="53.00" fill="rgb(197,197,255)"/>
<rect x="335.36" y="173.00" width="1.75" height="53.00" fill="rgb(203,203,255)"/>
<rect x="336.86" y="173.00" width="1.75" height="53.00" fill="rgb(251,242,243)"/>
<rect x="338.36" y="173.00" width="1.75" height="53.00" fill="rgb(252,233,235)"/>
<rect x="339.86" y="173.00" width="1.75" height="53.00" fill="rgb(252,237,238)"/>
<rect x="341.36" y="173.00" width="0.75" height="53.00" fill="rgb(250,245,246)"/>
<rect x="341.86" y="173.00" width="2.25" height="53.00" fill="rgb(255,195,195)"/>
<rect x="343.86" y="173.00" width="1.25" height="53.00" fill="rgb(255,202,202)"/>
<rect x="344.86" y="173.00" width="1.75" height="53.00" fill="rgb(255,194,194)"/>
<rect x="346.36" y="173.00" width="0.75" height="53.00" fill="rgb(253,226,227)"/>
<rect x="346.85" y="173.00" width="2.25" height="53.00" fill="rgb(252,237,238)"/>
<rect x="348.85" y="173.00" width="1.25" height="53.00" fill="rgb(247,245,250)"/>
<rect x="349.85" y="173.00" width="1.75" height="53.00" fill="rgb(251,238,239)"/>
<rect x="351.35" y="173.00" width="0.75" height="53.00" fill="rgb(234,233,252)"/>
<rect x="351.85" y="173.00" width="1.25" height="53.00" fill="rgb(229,228,253)"/>
<rect x="352.85" y="173.00" width="1.75" height="53.00" fill="rgb(229,229,253)"/>
<rect x="354.35" y="173.00" width="1.75" height="53.00" fill="rgb(210,210,255)"/>
<rect x="355.85" y="173.00" width="1.25" height="53.00" fill="rgb(201,201,255)"/>
<rect x="356.85" y="173.00" width="2.75" height="53.00" fill="rgb(131,131,255)"/>
<rect x="359.35" y="173.00" width="1.75" height="53.00" fill="rgb(147,147,255)"/>
<rect x="360.85" y="173.00" width="1.25" height="53.00" fill="rgb(163,163,255)"/>
<rect x="361.85" y="173.00" width="2.25" height="53.00" fill="rgb(163,163,255)"/>
<rect x="363.85" y="173.00" width="2.25" height="53.00" fill="rgb(159,159,255)"/>
<rect x="365.85" y="173.00" width="1.25" height="53.00" fill="rgb(182,182,255)"/>
<rect x="366.84" y="173.00" width="2.75" height="53.00" fill="rgb(142,142,255)"/>
<rect x="369.34" y="173.00" width="1.75" height="53.00" fill="rgb(144,144,255)"/>
<rect x="370.84" y="173.00" width="1.25" height="53.00" fill="rgb(161,161,255)"/>
<rect x="371.84" y="173.00" width="2.25" height="53.00" fill="rgb(142,142,255)"/>
<rect x="373.84" y="173.00" width="2.25" height="53.00" fill="rgb(166,166,255)"/>
<rect x="375.84" y="173.00" width="1.25" height="53.00" fill="rgb(165,165,255)"/>
<rect x="376.84" y="173.00" width="1.25" height="53.00" fill="rgb(199,199,255)"/>
<rect x="377.84" y="173.00" width="1.75" height="53.00" fill="rgb(194,194,255)"/>
<rect x="379.34" y="173.00" width="2.25" height="53.00" fill="rgb(222,221,254)"/>
<rect x="381.34" y="173.00" width="0.75" height="53.00" fill="rgb(220,219,254)"/>
<rect x="381.83" y="173.00" width="1.75" height="53.00" fill="rgb(215,215,255)"/>
<rect x="383.33" y="173.00" width="1.25" height="53.00" fill="rgb(220,220,254)"/>
<rect x="384.33" y="173.00" width="1.75" height="53.00" fill="rgb(211,211,255)"/>
<rect x="385.83" y="173.00" width="1.25" height="53.00" fill="rgb(210,210,255)"/>
<rect x="386.83" y="173.00" width="1.75" height="53.00" fill="rgb(246,244,251)"/>
<rect x="388.33" y="173.00" width="2.25" height="53.00" fill="rgb(236,235,252)"/>
<rect x="390.33" y="173.00" width="1.25" height="53.00" fill="rgb(252,233,234)"/>
<rect x="391.33" y="173.00" width="0.75" height="53.00" fill="rgb(252,233,234)"/>
<rect x="391.83" y="173.00" width="2.75" height="53.00" fill="rgb(255,201,201)"/>
<rect x="394.33" y="173.00" width="1.75" height="53.00" fill="rgb(254,219,219)"/>
<rect x="395.83" y="173.00" width="1.25" height="53.00" fill="rgb(254,218,218)"/>
<rect x="396.83" y="173.00" width="2.25" height="53.00" fill="rgb(250,246,248)"/>
<rect x="398.83" y="173.00" width="1.25" height="53.00" fill="rgb(249,247,250)"/>
<rect x="399.83" y="173.00" width="1.25" height="53.00" fill="rgb(235,234,252)"/>
<rect x="400.83" y="173.00" width="1.25" height="53.00" fill="rgb(246,244,251)"/>
<rect x="401.82" y="173.00" width="1.25" height="53.00" fill="rgb(255,216,216)"/>
<rect x="402.82" y="173.00" width="1.75" height="53.00" fill="rgb(253,225,226)"/>
<rect x="404.32" y="173.00" width="1.75" height="53.00" fill="rgb(253,224,225)"/>
<rect x="405.82" y="173.00" width="1.25" height="53.00" fill="rgb(255,194,194)"/>
<rect x="406.82" y="173.00" width="2.25" height="53.00" fill="rgb(207,207,255)"/>
<rect x="408.82" y="173.00" width="1.75" height="53.00" fill="rgb(197,197,255)"/>
<rect x="410.32" y="173.00" width="1.75" height="53.00" fill="rgb(228,228,253)"/>
<rect x="411.82" y="173.00" width="1.75" height="53.00" fill="rgb(145,145,255)"/>
<rect x="413.32" y="173.00" width="1.75" height="53.00" fill="rgb(180,180,255)"/>
<rect x="414.82" y="173.00" width="2.25" height="53.00" fill="rgb(154,154,255)"/>
<rect x="416.81" y="173.00" width="1.25" height="53.00" fill="rgb(228,227,253)"/>
<rect x="417.81" y="173.00" width="1.75" height="53.00" fill="rgb(228,227,253)"/>
<rect x="419.31" y="173.00" width="1.25" height="53.00" fill="rgb(230,229,253)"/>
<rect x="420.31" y="173.00" width="1.75" height="53.00" fill="rgb(220,219,254)"/>
<rect x="421.81" y="173.00" width="1.25" height="53.00" fill="rgb(205,205,255)"/>
<rect x="422.81" y="173.00" width="1.75" height="53.00" fill="rgb(217,217,255)"/>
<rect x="424.31" y="173.00" width="2.25" height="53.00" fill="rgb(215,215,255)"/>
<rect x="426.31" y="173.00" width="0.75" height="53.00" fill="rgb(222,222,254)"/>
<rect x="426.81" y="173.00" width="2.25" height="53.00" fill="rgb(228,228,253)"/>
<rect x="428.81" y="173.00" width="1.25" height="53.00" fill="rgb(219,219,254)"/>
<rect x="429.81" y="173.00" width="1.25" height="53.00" fill="rgb(194,194,255)"/>
<rect x="430.81" y="173.00" width="1.25" height="53.00" fill="rgb(229,229,253)"/>
<rect x="431.81" y="173.00" width="1.75" height="53.00" fill="rgb(141,141,255)"/>
<rect x="433.31" y="173.00" width="2.25" height="53.00" fill="rgb(168,168,255)"/>
<rect x="435.31" y="173.00" width="1.25" height="53.00" fill="rgb(149,149,255)"/>
<rect x="436.31" y="173.00" width="0.75" height="53.00" fill="rgb(153,153,255)"/>
<rect x="436.80" y="173.00" width="2.75" height="53.00" fill="rgb(255,215,215)"/>
<rect x="439.30" y="173.00" width="1.75" height="53.00" fill="rgb(253,225,225)"/>
<rect x="440.80" y="173.00" width="1.25" height="53.00" fill="rgb(255,193,193)"/>
<rect x="441.80" y="173.00" width="1.25" height="53.00" fill="rgb(255,216,216)"/>
<rect x="442.80" y="173.00" width="2.75" height="53.00" fill="rgb(255,212,212)"/>
<rect x="445.30" y="173.00" width="1.75" height="53.00" fill="rgb(253,224,225)"/>
<rect x="446.80" y="173.00" width="1.75" height="53.00" fill="rgb(255,217,217)"/>
<rect x="448.30" y="173.00" width="1.75" height="53.00" fill="rgb(255,194,194)"/>
<rect x="449.80" y="173.00" width="1.25" height="53.00" fill="rgb(254,223,223)"/>
<rect x="450.80" y="173.00" width="1.25" height="53.00" fill="rgb(255,209,209)"/>
<rect x="451.79" y="173.00" width="1.25" height="53.00" fill="rgb(255,215,215)"/>
<rect x="452.79" y="173.00" width="1.75" height="53.00" fill="rgb(254,219,219)"/>
<rect x="454.29" y="173.00" width="1.75" height="53.00" fill="rgb(254,220,220)"/>
<rect x="455.79" y="173.00" width="1.25" height="53.00" fill="rgb(254,219,219)"/>
<rect x="456.79" y="173.00" width="2.25" height="53.00" fill="rgb(251,242,244)"/>
<rect x="458.79" y="173.00" width="2.25" height="53.00" fill="rgb(251,244,246)"/>
<rect x="460.79" y="173.00" width="1.25" height="53.00" fill="rgb(239,238,252)"/>
<rect x="461.79" y="173.00" width="1.75" height="53.00" fill="rgb(226,226,253)"/>
<rect x="463.29" y="173.00" width="2.75" height="53.00" fill="rgb(211,211,255)"/>
<rect x="465.79" y="173.00" width="1.25" height="53.00" fill="rgb(203,203,255)"/>
<rect x="466.79" y="173.00" width="2.75" height="53.00" fill="rgb(241,240,251)"/>
<rect x="469.29" y="173.00" width="1.75" height="53.00" fill="rgb(249,247,250)"/>
<rect x="470.79" y="173.00" width="1.25" height="53.00" fill="rgb(251,240,241)"/>
<rect x="471.78" y="173.00" width="2.25" height="53.00" fill="rgb(254,222,223)"/>
<rect x="473.78" y="173.00" width="2.75" height="53.00" fill="rgb(253,224,225)"/>
<rect x="476.28" y="173.00" width="0.75" height="53.00" fill="rgb(254,221,221)"/>
<rect x="476.78" y="173.00" width="1.25" height="53.00" fill="rgb(255,208,208)"/>
<rect x="477.78" y="173.00" width="1.25" height="53.00" fill="rgb(254,219,219)"/>
<rect x="478.78" y="173.00" width="1.25" height="53.00" fill="rgb(255,214,214)"/>
<rect x="479.78" y="173.00" width="2.25" height="53.00" fill="rgb(255,206,206)"/>
<rect x="481.78" y="173.00" width="2.75" height="53.00" fill="rgb(247,245,250)"/>
<rect x="484.28" y="173.00" width="2.75" height="53.00" fill="rgb(250,246,248)"/>
<rect x="486.77" y="173.00" width="2.75" height="53.00" fill="rgb(236,234,252)"/>
<rect x="489.27" y="173.00" width="2.25" height="53.00" fill="rgb(250,248,250)"/>
<rect x="491.27" y="173.00" width="0.75" height="53.00" fill="rgb(236,235,252)"/>
<rect x="491.77" y="173.00" width="1.75" height="53.00" fill="rgb(252,234,235)"/>
<rect x="493.27" y="173.00" width="2.25" height="53.00" fill="rgb(250,247,249)"/>
<rect x="495.27" y="173.00" width="1.25" height="53.00" fill="rgb(237,235,252)"/>
<rect x="496.27" y="173.00" width="0.75" height="53.00" fill="rgb(241,240,251)"/>
<rect x="496.77" y="173.00" width="2.75" height="53.00" fill="rgb(255,147,147)"/>
<rect x="499.27" y="173.00" width="2.25" height="53.00" fill="rgb(255,179,179)"/>
<rect x="501.27" y="173.00" width="0.75" height="53.00" fill="rgb(255,169,169)"/>
<rect x="501.77" y="173.00" width="1.25" height="53.00" fill="rgb(252,234,236)"/>
<rect x="502.77" y="173.00" width="2.75" height="53.00" fill="rgb(252,237,238)"/>
<rect x="505.27" y="173.00" width="1.75" height="53.00" fill="rgb(243,242,251)"/>
<rect x="506.76" y="173.00" width="2.25" height="53.00" fill="rgb(228,227,253)"/>
<rect x="508.76" y="173.00" width="1.75" height="53.00" fill="rgb(220,220,254)"/>
<rect x="510.26" y="173.00" width="1.75" height="53.00" fill="rgb(224,223,254)"/>
<rect x="511.76" y="173.00" width="1.75" height="53.00" fill="rgb(171,171,255)"/>
<rect x="513.26" y="173.00" width="2.25" height="53.00" fill="rgb(176,176,255)"/>
<rect x="515.26" y="173.00" width="1.75" height="53.00" fill="rgb(138,138,255)"/>
<rect x="516.76" y="173.00" width="2.75" height="53.00" fill="rgb(77,77,255)"/>
<rect x="519.26" y="173.00" width="1.75" height="53.00" fill="rgb(58,58,255)"/>
<rect x="520.76" y="173.00" width="1.25" height="53.00" fill="rgb(121,121,255)"/>
<rect x="521.75" y="173.00" width="2.25" height="53.00" fill="rgb(160,160,255)"/>
<rect x="523.75" y="173.00" width="2.75" height="53.00" fill="rgb(182,182,255)"/>
<rect x="526.25" y="173.00" width="0.75" height="53.00" fill="rgb(184,184,255)"/>
<rect x="526.75" y="173.00" width="1.75" height="53.00" fill="rgb(62,62,255)"/>
<rect x="528.25" y="173.00" width="2.25" height="53.00" fill="rgb(115,115,255)"/>
<rect x="530.25" y="173.00" width="1.75" height="53.00" fill="rgb(73,73,255)"/>
<rect x="531.75" y="173.00" width="2.25" height="53.00" fill="rgb(230,229,253)"/>
<rect x="533.75" y="173.00" width="1.75" height="53.00" fill="rgb(222,222,254)"/>
<rect x="535.25" y="173.00" width="1.25" height="53.00" fill="rgb(211,211,255)"/>
<rect x="536.25" y="173.00" width="0.75" height="53.00" fill="rgb(223,222,254)"/>
<rect x="536.75" y="173.00" width="1.25" height="53.00" fill="rgb(250,246,248)"/>
<rect x="537.75" y="173.00" width="2.75" height="53.00" fill="rgb(251,244,245)"/>
<rect x="540.25" y="173.00" width="1.75" height="53.00" fill="rgb(241,240,251)"/>
<rect x="541.74" y="173.00" width="2.25" height="53.00" fill="rgb(235,234,252)"/>
<rect x="543.74" y="173.00" width="1.75" height="53.00" fill="rgb(250,248,250)"/>
<rect x="545.24" y="173.00" width="1.75" height="53.00" fill="rgb(241,240,251)"/>
<rect x="546.74" y="173.00" width="1.25" height="53.00" fill="rgb(171,171,255)"/>
<rect x="547.74" y="173.00" width="2.75" height="53.00" fill="rgb(150,150,255)"/>
<rect x="550.24" y="173.00" width="1.75" height="53.00" fill="rgb(171,171,255)"/>
<rect x="551.74" y="173.00" width="1.25" height="53.00" fill="rgb(169,169,255)"/>
<rect x="552.74" y="173.00" width="1.25" height="53.00" fill="rgb(151,151,255)"/>
<rect x="553.74" y="173.00" width="1.25" height="53.00" fill="rgb(181,181,255)"/>
<rect x="554.74" y="173.00" width="2.25" height="53.00" fill="rgb(164,164,255)"/>
<rect x="556.73" y="173.00" width="2.25" height="53.00" fill="rgb(229,228,253)"/>
<rect x="558.73" y="173.00" width="1.25" height="53.00" fill="rgb(206,206,255)"/>
<rect x="559.73" y="173.00" width="2.25" height="53.00" fill="rgb(201,201,255)"/>
<rect x="561.73" y="173.00" width="2.75" height="53.00" fill="rgb(194,194,255)"/>
<rect x="564.23" y="173.00" width="1.25" height="53.00" fill="rgb(226,225,253)"/>
<rect x="565.23" y="173.00" width="1.25" height="53.00" fill="rgb(213,213,255)"/>
<rect x="566.23" y="173.00" width="0.75" height="53.00" fill="rgb(204,204,255)"/>
<rect x="566.73" y="173.00" width="2.25" height="53.00" fill="rgb(254,222,222)"/>
<rect x="568.73" y="173.00" width="2.25" height="53.00" fill="rgb(255,217,217)"/>
<rect x="570.73" y="173.00" width="1.25" height="53.00" fill="rgb(253,228,229)"/>
<rect x="571.73" y="173.00" width="2.25" height="53.00" fill="rgb(243,242,251)"/>
<rect x="573.73" y="173.00" width="2.75" height="53.00" fill="rgb(241,239,251)"/>
<rect x="576.23" y="173.00" width="0.75" height="53.00" fill="rgb(251,239,241)"/>
<rect x="576.72" y="173.00" width="1.25" height="53.00" fill="rgb(196,196,255)"/>
<rect x="577.72" y="173.00" width="2.75" height="53.00" fill="rgb(213,213,255)"/>
<rect x="580.22" y="173.00" width="1.75" height="53.00" fill="rgb(223,222,254)"/>
<rect x="581.72" y="173.00" width="2.25" height="53.00" fill="rgb(217,217,255)"/>
<rect x="583.72" y="173.00" width="2.75" height="53.00" fill="rgb(230,229,253)"/>
<rect x="586.22" y="173.00" width="0.75" height="53.00" fill="rgb(199,199,255)"/>
<rect x="586.72" y="173.00" width="1.25" height="53.00" fill="rgb(218,218,254)"/>
<rect x="587.72" y="173.00" width="1.75" height="53.00" fill="rgb(216,216,255)"/>
<rect x="589.22" y="173.00" width="2.25" height="53.00" fill="rgb(223,223,254)"/>
<rect x="591.22" y="173.00" width="0.75" height="53.00" fill="rgb(203,203,255)"/>
<rect x="591.71" y="173.00" width="1.25" height="53.00" fill="rgb(221,220,254)"/>
<rect x="592.71" y="173.00" width="2.75" height="53.00" fill="rgb(193,193,255)"/>
<rect x="595.21" y="173.00" width="1.25" height="53.00" fill="rgb(229,228,253)"/>
<rect x="596.21" y="173.00" width="0.75" height="53.00" fill="rgb(229,228,253)"/>
<rect x="596.71" y="173.00" width="1.25" height="53.00" fill="rgb(164,164,255)"/>
<rect x="597.71" y="173.00" width="1.25" height="53.00" fill="rgb(147,147,255)"/>
<rect x="598.71" y="173.00" width="2.75" height="53.00" fill="rgb(179,179,255)"/>
<rect x="601.21" y="173.00" width="0.75" height="53.00" fill="rgb(162,162,255)"/>
<rect x="601.71" y="173.00" width="1.75" height="53.00" fill="rgb(209,209,255)"/>
<rect x="603.21" y="173.00" width="1.75" height="53.00" fill="rgb(220,220,254)"/>
<rect x="604.71" y="173.00" width="2.25" height="53.00" fill="rgb(193,193,255)"/>
<rect x="606.71" y="173.00" width="1.75" height="53.00" fill="rgb(202,202,255)"/>
<rect x="608.21" y="173.00" width="2.75" height="53.00" fill="rgb(209,209,255)"/>
<rect x="610.71" y="173.00" width="1.25" height="53.00" fill="rgb(194,194,255)"/>
<rect x="611.70" y="173.00" width="2.75" height="53.00" fill="rgb(173,173,255)"/>
<rect x="614.20" y="173.00" width="1.25" height="53.00" fill="rgb(144,144,255)"/>
<rect x="615.20" y="173.00" width="1.75" height="53.00" fill="rgb(178,178,255)"/>
<rect x="616.70" y="173.00" width="2.75" height="53.00" fill="rgb(230,229,253)"/>
<rect x="619.20" y="173.00" width="2.25" height="53.00" fill="rgb(228,227,253)"/>
<rect x="621.20" y="173.00" width="0.75" height="53.00" fill="rgb(206,206,255)"/>
<rect x="621.70" y="173.00" width="1.25" height="53.00" fill="rgb(241,239,251)"/>
<rect x="622.70" y="173.00" width="2.75" height="53.00" fill="rgb(251,241,242)"/>
<rect x="625.20" y="173.00" width="1.75" height="53.00" fill="rgb(242,241,251)"/>
<rect x="626.69" y="173.00" width="1.25" height="53.00" fill="rgb(251,242,243)"/>
<rect x="627.69" y="173.00" width="2.75" height="53.00" fill="rgb(241,239,251)"/>
<rect x="630.19" y="173.00" width="1.75" height="53.00" fill="rgb(240,239,251)"/>
<rect x="631.69" y="173.00" width="2.75" height="53.00" fill="rgb(244,242,251)"/>
<rect x="634.19" y="173.00" width="1.25" height="53.00" fill="rgb(247,245,250)"/>
<rect x="635.19" y="173.00" width="1.75" height="53.00" fill="rgb(251,244,246)"/>
<rect x="636.69" y="173.00" width="1.25" height="53.00" fill="rgb(159,159,255)"/>
<rect x="637.69" y="173.00" width="2.75" height="53.00" fill="rgb(168,168,255)"/>
<rect x="640.19" y="173.00" width="1.75" height="53.00" fill="rgb(169,169,255)"/>
<rect x="641.69" y="173.00" width="2.75" height="53.00" fill="rgb(227,226,253)"/>
<rect x="644.19" y="173.00" width="1.25" height="53.00" fill="rgb(222,221,254)"/>
<rect x="645.19" y="173.00" width="1.75" height="53.00" fill="rgb(201,201,255)"/>
<rect x="646.68" y="173.00" width="2.75" height="53.00" fill="rgb(158,158,255)"/>
<rect x="649.18" y="173.00" width="2.25" height="53.00" fill="rgb(145,145,255)"/>
<rect x="651.18" y="173.00" width="0.75" height="53.00" fill="rgb(164,164,255)"/>
<rect x="651.68" y="173.00" width="2.25" height="53.00" fill="rgb(165,165,255)"/>
<rect x="653.68" y="173.00" width="2.75" height="53.00" fill="rgb(132,132,255)"/>
<rect x="656.18" y="173.00" width="0.75" height="53.00" fill="rgb(152,152,255)"/>
<rect x="656.68" y="173.00" width="2.75" height="53.00" fill="rgb(203,203,255)"/>
<rect x="659.18" y="173.00" width="2.75" height="53.00" fill="rgb(201,201,255)"/>
<rect x="661.67" y="173.00" width="2.75" height="53.00" fill="rgb(149,149,255)"/>
<rect x="664.17" y="173.00" width="1.75" height="53.00" fill="rgb(174,174,255)"/>
<rect x="665.67" y="173.00" width="1.25" height="53.00" fill="rgb(134,134,255)"/>
<rect x="666.67" y="173.00" width="1.25" height="53.00" fill="rgb(224,224,254)"/>
<rect x="667.67" y="173.00" width="2.75" height="53.00" fill="rgb(194,194,255)"/>
<rect x="670.17" y="173.00" width="1.75" height="53.00" fill="rgb(222,222,254)"/>
<rect x="671.67" y="173.00" width="2.75" height="53.00" fill="rgb(73,73,255)"/>
<rect x="674.17" y="173.00" width="2.75" height="53.00" fill="rgb(95,95,255)"/>
<rect x="676.67" y="173.00" width="1.25" height="53.00" fill="rgb(139,139,255)"/>
<rect x="677.67" y="173.00" width="2.25" height="53.00" fill="rgb(176,176,255)"/>
<rect x="679.67" y="173.00" width="1.25" height="53.00" fill="rgb(148,148,255)"/>
<rect x="680.67" y="173.00" width="1.25" height="53.00" fill="rgb(163,163,255)"/>
<rect x="681.66" y="173.00" width="2.75" height="53.00" fill="rgb(244,243,251)"/>
<rect x="684.16" y="173.00" width="2.75" height="53.00" fill="rgb(251,243,245)"/>
<rect x="686.66" y="173.00" width="2.25" height="53.00" fill="rgb(181,181,255)"/>
<rect x="688.66" y="173.00" width="2.75" height="53.00" fill="rgb(170,170,255)"/>
<rect x="691.16" y="173.00" width="0.75" height="53.00" fill="rgb(167,167,255)"/>
<rect x="691.66" y="173.00" width="2.75" height="53.00" fill="rgb(212,212,255)"/>
<rect x="694.16" y="173.00" width="2.75" height="53.00" fill="rgb(216,216,255)"/>
<rect x="696.65" y="173.00" width="2.25" height="53.00" fill="rgb(207,207,255)"/>
<rect x="698.65" y="173.00" width="1.25" height="53.00" fill="rgb(194,194,255)"/>
<rect x="699.65" y="173.00" width="2.25" height="53.00" fill="rgb(215,215,255)"/>
<rect x="701.65" y="173.00" width="1.75" height="53.00" fill="rgb(8,8,255)"/>
<rect x="703.15" y="173.00" width="2.75" height="53.00" fill="rgb(8,8,255)"/>
<rect x="705.65" y="173.00" width="1.25" height="53.00" fill="rgb(8,8,255)"/>
<rect x="706.65" y="173.00" width="2.75" height="53.00" fill="rgb(8,8,255)"/>
<rect x="709.15" y="173.00" width="1.75" height="53.00" fill="rgb(8,8,255)"/>
<rect x="710.65" y="173.00" width="1.25" height="53.00" fill="rgb(8,8,255)"/>
<rect x="711.65" y="173.00" width="1.75" height="53.00" fill="rgb(147,147,255)"/>
<rect x="713.15" y="173.00" width="2.75" height="53.00" fill="rgb(134,134,255)"/>
<rect x="715.65" y="173.00" width="1.25" height="53.00" fill="rgb(170,170,255)"/>
<rect x="716.64" y="173.00" width="2.25" height="53.00" fill="rgb(226,225,253)"/>
<rect x="718.64" y="173.00" width="1.75" height="53.00" fill="rgb(218,218,254)"/>
<rect x="720.14" y="173.00" width="1.75" height="53.00" fill="rgb(220,220,254)"/>
<rect x="721.64" y="173.00" width="2.25" height="53.00" fill="rgb(177,177,255)"/>
<rect x="723.64" y="173.00" width="1.75" height="53.00" fill="rgb(178,178,255)"/>
<rect x="725.14" y="173.00" width="1.75" height="53.00" fill="rgb(132,132,255)"/>
<rect x="726.64" y="173.00" width="2.25" height="53.00" fill="rgb(255,51,51)"/>
<rect x="728.64" y="173.00" width="1.75" height="53.00" fill="rgb(255,34,34)"/>
<rect x="730.14" y="173.00" width="1.75" height="53.00" fill="rgb(255,50,50)"/>
<rect x="731.63" y="173.00" width="2.25" height="53.00" fill="rgb(255,47,47)"/>
<rect x="733.63" y="173.00" width="1.75" height="53.00" fill="rgb(255,48,48)"/>
<rect x="735.13" y="173.00" width="1.75" height="53.00" fill="rgb(255,35,35)"/>
<rect x="736.63" y="173.00" width="2.25" height="53.00" fill="rgb(255,114,114)"/>
<rect x="738.63" y="173.00" width="2.25" height="53.00" fill="rgb(255,67,67)"/>
<rect x="740.63" y="173.00" width="1.25" height="53.00" fill="rgb(255,97,97)"/>
<rect x="741.63" y="173.00" width="1.25" height="53.00" fill="rgb(255,178,178)"/>
<rect x="742.63" y="173.00" width="1.25" height="53.00" fill="rgb(255,144,144)"/>
<rect x="743.63" y="173.00" width="1.25" height="53.00" fill="rgb(255,149,149)"/>
<rect x="744.63" y="173.00" width="1.25" height="53.00" fill="rgb(255,183,183)"/>
<rect x="745.63" y="173.00" width="1.25" height="53.00" fill="rgb(255,160,160)"/>
<rect x="746.63" y="173.00" width="2.75" height="53.00" fill="rgb(255,88,88)"/>
<rect x="749.13" y="173.00" width="2.75" height="53.00" fill="rgb(255,124,124)"/>
<rect x="751.62" y="173.00" width="1.25" height="53.00" fill="rgb(255,101,101)"/>
<rect x="752.62" y="173.00" width="1.75" height="53.00" fill="rgb(255,92,92)"/>
<rect x="754.12" y="173.00" width="1.25" height="53.00" fill="rgb(255,83,83)"/>
<rect x="755.12" y="173.00" width="1.75" height="53.00" fill="rgb(255,124,124)"/>
<rect x="756.62" y="173.00" width="2.25" height="53.00" fill="rgb(255,178,178)"/>
<rect x="758.62" y="173.00" width="1.25" height="53.00" fill="rgb(255,172,172)"/>
<rect x="759.62" y="173.00" width="2.25" height="53.00" fill="rgb(255,187,187)"/>
<rect x="761.62" y="173.00" width="2.25" height="53.00" fill="rgb(254,220,220)"/>
<rect x="763.62" y="173.00" width="1.25" height="53.00" fill="rgb(253,229,230)"/>
<rect x="764.62" y="173.00" width="2.25" height="53.00" fill="rgb(255,217,217)"/>
<rect x="766.61" y="173.00" width="1.75" height="53.00" fill="rgb(203,203,255)"/>
<rect x="768.11" y="173.00" width="1.25" height="53.00" fill="rgb(198,198,255)"/>
<rect x="769.11" y="173.00" width="1.25" height="53.00" fill="rgb(213,213,255)"/>
<rect x="770.11" y="173.00" width="1.75" height="53.00" fill="rgb(205,205,255)"/>
<rect x="771.61" y="173.00" width="2.75" height="53.00" fill="rgb(251,242,244)"/>
<rect x="774.11" y="173.00" width="1.75" height="53.00" fill="rgb(247,245,250)"/>
<rect x="775.61" y="173.00" width="1.25" height="53.00" fill="rgb(246,244,251)"/>
<rect x="776.61" y="173.00" width="2.25" height="53.00" fill="rgb(255,98,98)"/>
<rect x="778.61" y="173.00" width="1.75" height="53.00" fill="rgb(255,110,110)"/>
<rect x="780.11" y="173.00" width="1.75" height="53.00" fill="rgb(255,109,109)"/>
<rect x="781.61" y="173.00" width="1.25" height="53.00" fill="rgb(169,169,255)"/>
<rect x="782.61" y="173.00" width="1.25" height="53.00" fill="rgb(168,168,255)"/>
<rect x="783.61" y="173.00" width="2.25" height="53.00" fill="rgb(163,163,255)"/>
<rect x="785.61" y="173.00" width="1.25" height="53.00" fill="rgb(179,179,255)"/>
<rect x="786.60" y="173.00" width="2.75" height="53.00" fill="rgb(104,104,255)"/>
<rect x="789.10" y="173.00" width="2.75" height="53.00" fill="rgb(61,61,255)"/>
<rect x="92.00" y="226.00" width="1.75" height="53.50" fill="rgb(226,226,253)"/>
<rect x="93.50" y="226.00" width="1.75" height="53.50" fill="rgb(194,194,255)"/>
<rect x="95.00" y="226.00" width="1.75" height="53.50" fill="rgb(215,215,255)"/>
<rect x="96.50" y="226.00" width="0.75" height="53.50" fill="rgb(215,215,255)"/>
<rect x="97.00" y="226.00" width="2.25" height="53.50" fill="rgb(255,186,186)"/>
<rect x="99.00" y="226.00" width="2.25" height="53.50" fill="rgb(255,165,165)"/>
<rect x="101.00" y="226.00" width="1.25" height="53.50" fill="rgb(255,164,164)"/>
<rect x="101.99" y="226.00" width="1.25" height="53.50" fill="rgb(255,127,127)"/>
<rect x="102.99" y="226.00" width="1.75" height="53.50" fill="rgb(255,72,72)"/>
<rect x="104.49" y="226.00" width="1.25" height="53.50" fill="rgb(255,99,99)"/>
<rect x="105.49" y="226.00" width="1.75" height="53.50" fill="rgb(255,89,89)"/>
<rect x="106.99" y="226.00" width="1.25" height="53.50" fill="rgb(255,161,161)"/>
<rect x="107.99" y="226.00" width="1.75" height="53.50" fill="rgb(255,185,185)"/>
<rect x="109.49" y="226.00" width="1.75" height="53.50" fill="rgb(255,155,155)"/>
<rect x="110.99" y="226.00" width="1.25" height="53.50" fill="rgb(255,139,139)"/>
<rect x="111.99" y="226.00" width="2.25" height="53.50" fill="rgb(255,135,135)"/>
<rect x="113.99" y="226.00" width="1.25" height="53.50" fill="rgb(255,187,187)"/>
<rect x="114.99" y="226.00" width="1.75" height="53.50" fill="rgb(255,159,159)"/>
<rect x="116.49" y="226.00" width="0.75" height="53.50" fill="rgb(255,150,150)"/>
<rect x="116.99" y="226.00" width="2.25" height="53.50" fill="rgb(255,180,180)"/>
<rect x="118.99" y="226.00" width="1.25" height="53.50" fill="rgb(255,136,136)"/>
<rect x="119.99" y="226.00" width="1.75" height="53.50" fill="rgb(255,176,176)"/>
<rect x="121.49" y="226.00" width="0.75" height="53.50" fill="rgb(255,150,150)"/>
<rect x="121.98" y="226.00" width="1.25" height="53.50" fill="rgb(255,106,106)"/>
<rect x="122.98" y="226.00" width="1.75" height="53.50" fill="rgb(255,73,73)"/>
<rect x="124.48" y="226.00" width="1.25" height="53.50" fill="rgb(255,77,77)"/>
<rect x="125.48" y="226.00" width="1.75" height="53.50" fill="rgb(255,85,85)"/>
<rect x="126.98" y="226.00" width="2.25" height="53.50" fill="rgb(255,147,147)"/>
<rect x="128.98" y="226.00" width="1.75" height="53.50" fill="rgb(255,174,174)"/>
<rect x="130.48" y="226.00" width="1.25" height="53.50" fill="rgb(255,159,159)"/>
<rect x="131.48" y="226.00" width="0.75" height="53.50" fill="rgb(255,143,143)"/>
<rect x="131.98" y="226.00" width="2.25" height="53.50" fill="rgb(255,171,171)"/>
<rect x="133.98" y="226.00" width="2.25" height="53.50" fill="rgb(255,171,171)"/>
<rect x="135.98" y="226.00" width="1.25" height="53.50" fill="rgb(255,170,170)"/>
<rect x="136.97" y="226.00" width="1.25" height="53.50" fill="rgb(254,222,222)"/>
<rect x="137.97" y="226.00" width="2.25" height="53.50" fill="rgb(254,221,221)"/>
<rect x="139.97" y="226.00" width="1.75" height="53.50" fill="rgb(255,206,206)"/>
<rect x="141.47" y="226.00" width="0.75" height="53.50" fill="rgb(254,222,222)"/>
<rect x="141.97" y="226.00" width="1.75" height="53.50" fill="rgb(255,171,171)"/>
<rect x="143.47" y="226.00" width="1.25" height="53.50" fill="rgb(255,136,136)"/>
<rect x="144.47" y="226.00" width="2.75" height="53.50" fill="rgb(255,139,139)"/>
<rect x="146.97" y="226.00" width="2.25" height="53.50" fill="rgb(255,214,214)"/>
<rect x="148.97" y="226.00" width="1.25" height="53.50" fill="rgb(255,217,217)"/>
<rect x="149.97" y="226.00" width="2.25" height="53.50" fill="rgb(253,226,226)"/>
<rect x="151.97" y="226.00" width="2.25" height="53.50" fill="rgb(253,228,229)"/>
<rect x="153.97" y="226.00" width="1.25" height="53.50" fill="rgb(254,218,219)"/>
<rect x="154.97" y="226.00" width="2.25" height="53.50" fill="rgb(255,212,212)"/>
<rect x="156.96" y="226.00" width="2.75" height="53.50" fill="rgb(239,237,252)"/>
<rect x="159.46" y="226.00" width="1.75" height="53.50" fill="rgb(240,239,251)"/>
<rect x="160.96" y="226.00" width="1.25" height="53.50" fill="rgb(250,248,250)"/>
<rect x="161.96" y="226.00" width="1.75" height="53.50" fill="rgb(255,216,216)"/>
<rect x="163.46" y="226.00" width="2.75" height="53.50" fill="rgb(255,204,204)"/>
<rect x="165.96" y="226.00" width="1.25" height="53.50" fill="rgb(255,212,212)"/>
<rect x="166.96" y="226.00" width="1.25" height="53.50" fill="rgb(253,225,226)"/>
<rect x="167.96" y="226.00" width="2.75" height="53.50" fill="rgb(255,215,215)"/>
<rect x="170.46" y="226.00" width="1.75" height="53.50" fill="rgb(255,209,209)"/>
<rect x="171.95" y="226.00" width="1.75" height="53.50" fill="rgb(251,240,242)"/>
<rect x="173.45" y="226.00" width="1.25" height="53.50" fill="rgb(245,243,251)"/>
<rect x="174.45" y="226.00" width="1.25" height="53.50" fill="rgb(239,237,252)"/>
<rect x="175.45" y="226.00" width="1.75" height="53.50" fill="rgb(251,244,246)"/>
<rect x="176.95" y="226.00" width="1.25" height="53.50" fill="rgb(254,222,222)"/>
<rect x="177.95" y="226.00" width="2.75" height="53.50" fill="rgb(253,225,226)"/>
<rect x="180.45" y="226.00" width="1.25" height="53.50" fill="rgb(253,225,226)"/>
<rect x="181.45" y="226.00" width="0.75" height="53.50" fill="rgb(255,210,210)"/>
<rect x="181.95" y="226.00" width="1.25" height="53.50" fill="rgb(255,210,210)"/>
<rect x="182.95" y="226.00" width="1.75" height="53.50" fill="rgb(254,221,221)"/>
<rect x="184.45" y="226.00" width="1.75" height="53.50" fill="rgb(255,216,216)"/>
<rect x="185.95" y="226.00" width="1.25" height="53.50" fill="rgb(254,223,224)"/>
<rect x="186.95" y="226.00" width="1.75" height="53.50" fill="rgb(253,227,228)"/>
<rect x="188.45" y="226.00" width="2.75" height="53.50" fill="rgb(255,217,217)"/>
<rect x="190.95" y="226.00" width="1.25" height="53.50" fill="rgb(255,211,211)"/>
<rect x="191.94" y="226.00" width="1.25" height="53.50" fill="rgb(254,217,218)"/>
<rect x="192.94" y="226.00" width="2.75" height="53.50" fill="rgb(254,220,220)"/>
<rect x="195.44" y="226.00" width="1.25" height="53.50" fill="rgb(254,223,224)"/>
<rect x="196.44" y="226.00" width="0.75" height="53.50" fill="rgb(255,195,195)"/>
<rect x="196.94" y="226.00" width="2.75" height="53.50" fill="rgb(227,226,253)"/>
<rect x="199.44" y="226.00" width="2.75" height="53.50" fill="rgb(204,204,255)"/>
<rect x="201.94" y="226.00" width="2.25" height="53.50" fill="rgb(252,235,236)"/>
<rect x="203.94" y="226.00" width="1.75" height="53.50" fill="rgb(239,238,252)"/>
<rect x="205.44" y="226.00" width="1.75" height="53.50" fill="rgb(252,235,236)"/>
<rect x="206.93" y="226.00" width="1.25" height="53.50" fill="rgb(252,236,237)"/>
<rect x="207.93" y="226.00" width="1.25" height="53.50" fill="rgb(242,241,251)"/>
<rect x="208.93" y="226.00" width="2.25" height="53.50" fill="rgb(243,242,251)"/>
<rect x="210.93" y="226.00" width="1.25" height="53.50" fill="rgb(251,242,244)"/>
<rect x="211.93" y="226.00" width="1.75" height="53.50" fill="rgb(255,208,208)"/>
<rect x="213.43" y="226.00" width="2.25" height="53.50" fill="rgb(255,203,203)"/>
<rect x="215.43" y="226.00" width="1.25" height="53.50" fill="rgb(255,212,212)"/>
<rect x="216.43" y="226.00" width="0.75" height="53.50" fill="rgb(255,204,204)"/>
<rect x="216.93" y="226.00" width="2.25" height="53.50" fill="rgb(255,160,160)"/>
<rect x="218.93" y="226.00" width="2.25" height="53.50" fill="rgb(255,135,135)"/>
<rect x="220.93" y="226.00" width="1.25" height="53.50" fill="rgb(255,156,156)"/>
<rect x="221.93" y="226.00" width="1.75" height="53.50" fill="rgb(254,221,222)"/>
<rect x="223.43" y="226.00" width="2.75" height="53.50" fill="rgb(255,211,211)"/>
<rect x="225.93" y="226.00" width="1.25" height="53.50" fill="rgb(255,202,202)"/>
<rect x="226.92" y="226.00" width="1.25" height="53.50" fill="rgb(255,100,100)"/>
<rect x="227.92" y="226.00" width="2.25" height="53.50" fill="rgb(255,114,114)"/>
<rect x="229.92" y="226.00" width="2.25" height="53.50" fill="rgb(255,115,115)"/>
<rect x="231.92" y="226.00" width="2.75" height="53.50" fill="rgb(255,155,155)"/>
<rect x="234.42" y="226.00" width="1.25" height="53.50" fill="rgb(255,176,176)"/>
<rect x="235.42" y="226.00" width="1.75" height="53.50" fill="rgb(255,166,166)"/>
<rect x="236.92" y="226.00" width="1.75" height="53.50" fill="rgb(255,163,163)"/>
<rect x="238.42" y="226.00" width="2.25" height="53.50" fill="rgb(255,179,179)"/>
<rect x="240.42" y="226.00" width="1.75" height="53.50" fill="rgb(255,151,151)"/>
<rect x="241.91" y="226.00" width="1.25" height="53.50" fill="rgb(234,233,252)"/>
<rect x="242.91" y="226.00" width="1.25" height="53.50" fill="rgb(251,244,246)"/>
<rect x="243.91" y="226.00" width="2.25" height="53.50" fill="rgb(249,247,250)"/>
<rect x="245.91" y="226.00" width="1.25" height="53.50" fill="rgb(236,235,252)"/>
<rect x="246.91" y="226.00" width="1.75" height="53.50" fill="rgb(255,147,147)"/>
<rect x="248.41" y="226.00" width="1.75" height="53.50" fill="rgb(255,152,152)"/>
<rect x="249.91" y="226.00" width="2.25" height="53.50" fill="rgb(255,139,139)"/>
<rect x="251.91" y="226.00" width="2.75" height="53.50" fill="rgb(254,221,222)"/>
<rect x="254.41" y="226.00" width="2.75" height="53.50" fill="rgb(254,222,222)"/>
<rect x="256.91" y="226.00" width="2.75" height="53.50" fill="rgb(255,212,212)"/>
<rect x="259.41" y="226.00" width="1.75" height="53.50" fill="rgb(255,196,196)"/>
<rect x="260.91" y="226.00" width="1.25" height="53.50" fill="rgb(253,225,226)"/>
<rect x="261.90" y="226.00" width="1.75" height="53.50" fill="rgb(255,206,206)"/>
<rect x="263.40" y="226.00" width="2.75" height="53.50" fill="rgb(255,217,217)"/>
<rect x="265.90" y="226.00" width="1.25" height="53.50" fill="rgb(255,212,212)"/>
<rect x="266.90" y="226.00" width="1.75" height="53.50" fill="rgb(216,216,255)"/>
<rect x="268.40" y="226.00" width="2.25" height="53.50" fill="rgb(229,228,253)"/>
<rect x="270.40" y="226.00" width="1.25" height="53.50" fill="rgb(208,208,255)"/>
<rect x="271.40" y="226.00" width="0.75" height="53.50" fill="rgb(197,197,255)"/>
<rect x="271.90" y="226.00" width="2.25" height="53.50" fill="rgb(255,206,206)"/>
<rect x="273.90" y="226.00" width="2.75" height="53.50" fill="rgb(255,199,199)"/>
<rect x="276.40" y="226.00" width="0.75" height="53.50" fill="rgb(255,195,195)"/>
<rect x="276.89" y="226.00" width="1.25" height="53.50" fill="rgb(255,208,208)"/>
<rect x="277.89" y="226.00" width="1.25" height="53.50" fill="rgb(255,215,215)"/>
<rect x="278.89" y="226.00" width="1.25" height="53.50" fill="rgb(253,228,229)"/>
<rect x="279.89" y="226.00" width="1.75" height="53.50" fill="rgb(255,199,199)"/>
<rect x="281.39" y="226.00" width="0.75" height="53.50" fill="rgb(255,213,213)"/>
<rect x="281.89" y="226.00" width="1.75" height="53.50" fill="rgb(237,236,252)"/>
<rect x="283.39" y="226.00" width="2.25" height="53.50" fill="rgb(252,235,236)"/>
<rect x="285.39" y="226.00" width="1.75" height="53.50" fill="rgb(251,243,244)"/>
<rect x="286.89" y="226.00" width="2.25" height="53.50" fill="rgb(252,236,238)"/>
<rect x="288.89" y="226.00" width="1.75" height="53.50" fill="rgb(252,237,238)"/>
<rect x="290.39" y="226.00" width="1.75" height="53.50" fill="rgb(243,241,251)"/>
<rect x="291.89" y="226.00" width="2.25" height="53.50" fill="rgb(251,244,246)"/>
<rect x="293.89" y="226.00" width="2.75" height="53.50" fill="rgb(241,239,251)"/>
<rect x="296.39" y="226.00" width="0.75" height="53.50" fill="rgb(249,247,250)"/>
<rect x="296.88" y="226.00" width="2.25" height="53.50" fill="rgb(255,97,97)"/>
<rect x="298.88" y="226.00" width="1.75" height="53.50" fill="rgb(255,95,95)"/>
<rect x="300.38" y="226.00" width="1.25" height="53.50" fill="rgb(255,93,93)"/>
<rect x="301.38" y="226.00" width="0.75" height="53.50" fill="rgb(255,88,88)"/>
<rect x="301.88" y="226.00" width="1.25" height="53.50" fill="rgb(255,193,193)"/>
<rect x="302.88" y="226.00" width="2.25" height="53.50" fill="rgb(253,227,228)"/>
<rect x="304.88" y="226.00" width="2.25" height="53.50" fill="rgb(255,201,201)"/>
<rect x="306.88" y="226.00" width="2.75" height="53.50" fill="rgb(255,194,194)"/>
<rect x="309.38" y="226.00" width="2.75" height="53.50" fill="rgb(255,195,195)"/>
<rect x="311.87" y="226.00" width="2.75" height="53.50" fill="rgb(252,237,239)"/>
<rect x="314.37" y="226.00" width="1.25" height="53.50" fill="rgb(252,233,234)"/>
<rect x="315.37" y="226.00" width="1.25" height="53.50" fill="rgb(251,242,243)"/>
<rect x="316.37" y="226.00" width="0.75" height="53.50" fill="rgb(252,234,235)"/>
<rect x="316.87" y="226.00" width="1.75" height="53.50" fill="rgb(211,211,255)"/>
<rect x="318.37" y="226.00" width="2.75" height="53.50" fill="rgb(195,195,255)"/>
<rect x="320.87" y="226.00" width="1.25" height="53.50" fill="rgb(223,222,254)"/>
<rect x="321.87" y="226.00" width="2.75" height="53.50" fill="rgb(219,219,254)"/>
<rect x="324.37" y="226.00" width="2.25" height="53.50" fill="rgb(208,208,255)"/>
<rect x="326.37" y="226.00" width="0.75" height="53.50" fill="rgb(221,221,254)"/>
<rect x="326.87" y="226.00" width="1.25" height="53.50" fill="rgb(252,236,238)"/>
<rect x="327.87" y="226.00" width="2.75" height="53.50" fill="rgb(238,237,252)"/>
<rect x="330.37" y="226.00" width="1.75" height="53.50" fill="rgb(238,237,252)"/>
<rect x="331.86" y="226.00" width="1.25" height="53.50" fill="rgb(255,211,211)"/>
<rect x="332.86" y="226.00" width="1.75" height="53.50" fill="rgb(254,223,223)"/>
<rect x="334.36" y="226.00" width="2.75" height="53.50" fill="rgb(254,224,224)"/>
<rect x="336.86" y="226.00" width="1.25" height="53.50" fill="rgb(254,221,221)"/>
<rect x="337.86" y="226.00" width="1.25" height="53.50" fill="rgb(254,219,219)"/>
<rect x="338.86" y="226.00" width="1.75" height="53.50" fill="rgb(255,216,216)"/>
<rect x="340.36" y="226.00" width="1.25" height="53.50" fill="rgb(253,226,227)"/>
<rect x="341.36" y="226.00" width="0.75" height="53.50" fill="rgb(255,193,193)"/>
<rect x="341.86" y="226.00" width="2.25" height="53.50" fill="rgb(255,215,215)"/>
<rect x="343.86" y="226.00" width="1.75" height="53.50" fill="rgb(255,200,200)"/>
<rect x="345.36" y="226.00" width="1.75" height="53.50" fill="rgb(255,215,215)"/>
<rect x="346.85" y="226.00" width="2.25" height="53.50" fill="rgb(255,174,174)"/>
<rect x="348.85" y="226.00" width="2.75" height="53.50" fill="rgb(255,179,179)"/>
<rect x="351.35" y="226.00" width="0.75" height="53.50" fill="rgb(255,169,169)"/>
<rect x="351.85" y="226.00" width="1.75" height="53.50" fill="rgb(252,234,235)"/>
<rect x="353.35" y="226.00" width="1.75" height="53.50" fill="rgb(244,243,251)"/>
<rect x="354.85" y="226.00" width="2.25" height="53.50" fill="rgb(252,236,237)"/>
<rect x="356.85" y="226.00" width="1.25" height="53.50" fill="rgb(255,200,200)"/>
<rect x="357.85" y="226.00" width="1.75" height="53.50" fill="rgb(253,225,226)"/>
<rect x="359.35" y="226.00" width="2.25" height="53.50" fill="rgb(254,222,222)"/>
<rect x="361.35" y="226.00" width="0.75" height="53.50" fill="rgb(255,198,198)"/>
<rect x="361.85" y="226.00" width="2.25" height="53.50" fill="rgb(255,203,203)"/>
<rect x="363.85" y="226.00" width="2.25" height="53.50" fill="rgb(255,206,206)"/>
<rect x="365.85" y="226.00" width="1.25" height="53.50" fill="rgb(255,215,215)"/>
<rect x="366.84" y="226.00" width="1.25" height="53.50" fill="rgb(214,214,255)"/>
<rect x="367.84" y="226.00" width="1.75" height="53.50" fill="rgb(199,199,255)"/>
<rect x="369.34" y="226.00" width="2.75" height="53.50" fill="rgb(214,214,255)"/>
<rect x="371.84" y="226.00" width="2.75" height="53.50" fill="rgb(208,208,255)"/>
<rect x="374.34" y="226.00" width="2.25" height="53.50" fill="rgb(194,194,255)"/>
<rect x="376.34" y="226.00" width="0.75" height="53.50" fill="rgb(229,229,253)"/>
<rect x="376.84" y="226.00" width="1.75" height="53.50" fill="rgb(139,139,255)"/>
<rect x="378.34" y="226.00" width="2.75" height="53.50" fill="rgb(156,156,255)"/>
<rect x="380.84" y="226.00" width="1.25" height="53.50" fill="rgb(181,181,255)"/>
<rect x="381.83" y="226.00" width="2.25" height="53.50" fill="rgb(138,138,255)"/>
<rect x="383.83" y="226.00" width="2.25" height="53.50" fill="rgb(153,153,255)"/>
<rect x="385.83" y="226.00" width="1.25" height="53.50" fill="rgb(165,165,255)"/>
<rect x="386.83" y="226.00" width="2.25" height="53.50" fill="rgb(176,176,255)"/>
<rect x="388.83" y="226.00" width="1.75" height="53.50" fill="rgb(178,178,255)"/>
<rect x="390.33" y="226.00" width="1.75" height="53.50" fill="rgb(170,170,255)"/>
<rect x="391.83" y="226.00" width="1.25" height="53.50" fill="rgb(146,146,255)"/>
<rect x="392.83" y="226.00" width="2.25" height="53.50" fill="rgb(165,165,255)"/>
<rect x="394.83" y="226.00" width="1.75" height="53.50" fill="rgb(182,182,255)"/>
<rect x="396.33" y="226.00" width="0.75" height="53.50" fill="rgb(166,166,255)"/>
<rect x="396.83" y="226.00" width="1.25" height="53.50" fill="rgb(171,171,255)"/>
<rect x="397.83" y="226.00" width="1.25" height="53.50" fill="rgb(164,164,255)"/>
<rect x="398.83" y="226.00" width="2.75" height="53.50" fill="rgb(145,145,255)"/>
<rect x="401.33" y="226.00" width="0.75" height="53.50" fill="rgb(153,153,255)"/>
<rect x="401.82" y="226.00" width="2.75" height="53.50" fill="rgb(183,183,255)"/>
<rect x="404.32" y="226.00" width="2.25" height="53.50" fill="rgb(182,182,255)"/>
<rect x="406.32" y="226.00" width="0.75" height="53.50" fill="rgb(150,150,255)"/>
<rect x="406.82" y="226.00" width="2.75" height="53.50" fill="rgb(192,192,255)"/>
<rect x="409.32" y="226.00" width="2.25" height="53.50" fill="rgb(214,214,255)"/>
<rect x="411.32" y="226.00" width="0.75" height="53.50" fill="rgb(196,196,255)"/>
<rect x="411.82" y="226.00" width="1.25" height="53.50" fill="rgb(60,60,255)"/>
<rect x="412.82" y="226.00" width="1.25" height="53.50" fill="rgb(73,73,255)"/>
<rect x="413.82" y="226.00" width="2.75" height="53.50" fill="rgb(98,98,255)"/>
<rect x="416.32" y="226.00" width="0.75" height="53.50" fill="rgb(78,78,255)"/>
<rect x="416.81" y="226.00" width="2.75" height="53.50" fill="rgb(158,158,255)"/>
<rect x="419.31" y="226.00" width="2.25" height="53.50" fill="rgb(184,184,255)"/>
<rect x="421.31" y="226.00" width="0.75" height="53.50" fill="rgb(168,168,255)"/>
<rect x="421.81" y="226.00" width="1.25" height="53.50" fill="rgb(196,196,255)"/>
<rect x="422.81" y="226.00" width="1.25" height="53.50" fill="rgb(199,199,255)"/>
<rect x="423.81" y="226.00" width="1.25" height="53.50" fill="rgb(214,214,255)"/>
<rect x="424.81" y="226.00" width="1.75" height="53.50" fill="rgb(210,210,255)"/>
<rect x="426.31" y="226.00" width="0.75" height="53.50" fill="rgb(205,205,255)"/>
<rect x="426.81" y="226.00" width="2.25" height="53.50" fill="rgb(166,166,255)"/>
<rect x="428.81" y="226.00" width="2.25" height="53.50" fill="rgb(183,183,255)"/>
<rect x="430.81" y="226.00" width="1.25" height="53.50" fill="rgb(169,169,255)"/>
<rect x="431.81" y="226.00" width="2.75" height="53.50" fill="rgb(197,197,255)"/>
<rect x="434.31" y="226.00" width="2.25" height="53.50" fill="rgb(219,219,254)"/>
<rect x="436.31" y="226.00" width="0.75" height="53.50" fill="rgb(215,215,255)"/>
<rect x="436.80" y="226.00" width="2.75" height="53.50" fill="rgb(255,147,147)"/>
<rect x="439.30" y="226.00" width="2.75" height="53.50" fill="rgb(255,184,184)"/>
<rect x="441.80" y="226.00" width="1.75" height="53.50" fill="rgb(255,151,151)"/>
<rect x="443.30" y="226.00" width="1.75" height="53.50" fill="rgb(255,137,137)"/>
<rect x="444.80" y="226.00" width="2.25" height="53.50" fill="rgb(255,183,183)"/>
<rect x="446.80" y="226.00" width="1.75" height="53.50" fill="rgb(249,247,250)"/>
<rect x="448.30" y="226.00" width="2.25" height="53.50" fill="rgb(251,244,246)"/>
<rect x="450.30" y="226.00" width="1.75" height="53.50" fill="rgb(237,236,252)"/>
<rect x="451.79" y="226.00" width="2.25" height="53.50" fill="rgb(224,223,254)"/>
<rect x="453.79" y="226.00" width="1.25" height="53.50" fill="rgb(214,214,255)"/>
<rect x="454.79" y="226.00" width="2.25" height="53.50" fill="rgb(195,195,255)"/>
<rect x="456.79" y="226.00" width="1.75" height="53.50" fill="rgb(236,235,252)"/>
<rect x="458.29" y="226.00" width="2.25" height="53.50" fill="rgb(251,243,245)"/>
<rect x="460.29" y="226.00" width="1.75" height="53.50" fill="rgb(247,245,250)"/>
<rect x="461.79" y="226.00" width="1.75" height="53.50" fill="rgb(255,216,216)"/>
<rect x="463.29" y="226.00" width="1.25" height="53.50" fill="rgb(254,221,222)"/>
<rect x="464.29" y="226.00" width="2.75" height="53.50" fill="rgb(253,226,227)"/>
<rect x="466.79" y="226.00" width="1.75" height="53.50" fill="rgb(255,210,210)"/>
<rect x="468.29" y="226.00" width="2.75" height="53.50" fill="rgb(253,229,230)"/>
<rect x="470.79" y="226.00" width="1.25" height="53.50" fill="rgb(255,200,200)"/>
<rect x="471.78" y="226.00" width="2.75" height="53.50" fill="rgb(251,244,246)"/>
<rect x="474.28" y="226.00" width="2.75" height="53.50" fill="rgb(251,238,239)"/>
<rect x="476.78" y="226.00" width="2.75" height="53.50" fill="rgb(254,224,224)"/>
<rect x="479.28" y="226.00" width="2.75" height="53.50" fill="rgb(255,195,195)"/>
<rect x="481.78" y="226.00" width="1.75" height="53.50" fill="rgb(251,244,245)"/>
<rect x="483.28" y="226.00" width="2.25" height="53.50" fill="rgb(239,238,252)"/>
<rect x="485.28" y="226.00" width="1.75" height="53.50" fill="rgb(252,235,237)"/>
<rect x="486.77" y="226.00" width="1.25" height="53.50" fill="rgb(227,227,253)"/>
<rect x="487.77" y="226.00" width="2.75" height="53.50" fill="rgb(225,224,253)"/>
<rect x="490.27" y="226.00" width="1.75" height="53.50" fill="rgb(195,195,255)"/>
<rect x="491.77" y="226.00" width="2.25" height="53.50" fill="rgb(219,219,254)"/>
<rect x="493.77" y="226.00" width="2.25" height="53.50" fill="rgb(211,211,255)"/>
<rect x="495.77" y="226.00" width="1.25" height="53.50" fill="rgb(192,192,255)"/>
<rect x="496.77" y="226.00" width="2.25" height="53.50" fill="rgb(224,223,254)"/>
<rect x="498.77" y="226.00" width="2.25" height="53.50" fill="rgb(229,228,253)"/>
<rect x="500.77" y="226.00" width="1.25" height="53.50" fill="rgb(198,198,255)"/>
<rect x="501.77" y="226.00" width="2.75" height="53.50" fill="rgb(250,246,248)"/>
<rect x="504.27" y="226.00" width="1.25" height="53.50" fill="rgb(250,246,248)"/>
<rect x="505.27" y="226.00" width="1.75" height="53.50" fill="rgb(251,243,245)"/>
<rect x="506.76" y="226.00" width="1.75" height="53.50" fill="rgb(255,199,199)"/>
<rect x="508.26" y="226.00" width="1.25" height="53.50" fill="rgb(253,227,228)"/>
<rect x="509.26" y="226.00" width="1.75" height="53.50" fill="rgb(254,218,218)"/>
<rect x="510.76" y="226.00" width="1.25" height="53.50" fill="rgb(255,202,202)"/>
<rect x="511.76" y="226.00" width="1.25" height="53.50" fill="rgb(250,245,247)"/>
<rect x="512.76" y="226.00" width="2.75" height="53.50" fill="rgb(245,243,251)"/>
<rect x="515.26" y="226.00" width="1.75" height="53.50" fill="rgb(237,236,252)"/>
<rect x="516.76" y="226.00" width="1.25" height="53.50" fill="rgb(211,211,255)"/>
<rect x="517.76" y="226.00" width="1.75" height="53.50" fill="rgb(199,199,255)"/>
<rect x="519.26" y="226.00" width="1.25" height="53.50" fill="rgb(200,200,255)"/>
<rect x="520.26" y="226.00" width="1.75" height="53.50" fill="rgb(205,205,255)"/>
<rect x="521.75" y="226.00" width="1.25" height="53.50" fill="rgb(173,173,255)"/>
<rect x="522.75" y="226.00" width="2.25" height="53.50" fill="rgb(133,133,255)"/>
<rect x="524.75" y="226.00" width="2.25" height="53.50" fill="rgb(153,153,255)"/>
<rect x="526.75" y="226.00" width="2.75" height="53.50" fill="rgb(62,62,255)"/>
<rect x="529.25" y="226.00" width="2.25" height="53.50" fill="rgb(119,119,255)"/>
<rect x="531.25" y="226.00" width="0.75" height="53.50" fill="rgb(118,118,255)"/>
<rect x="531.75" y="226.00" width="2.25" height="53.50" fill="rgb(8,8,255)"/>
<rect x="533.75" y="226.00" width="1.75" height="53.50" fill="rgb(8,8,255)"/>
<rect x="535.25" y="226.00" width="1.75" height="53.50" fill="rgb(8,8,255)"/>
<rect x="536.75" y="226.00" width="2.75" height="53.50" fill="rgb(236,235,252)"/>
<rect x="539.25" y="226.00" width="2.25" height="53.50" fill="rgb(240,239,251)"/>
<rect x="541.25" y="226.00" width="0.75" height="53.50" fill="rgb(252,237,238)"/>
<rect x="541.74" y="226.00" width="1.25" height="53.50" fill="rgb(134,134,255)"/>
<rect x="542.74" y="226.00" width="2.25" height="53.50" fill="rgb(181,181,255)"/>
<rect x="544.74" y="226.00" width="2.25" height="53.50" fill="rgb(156,156,255)"/>
<rect x="546.74" y="226.00" width="1.25" height="53.50" fill="rgb(217,217,255)"/>
<rect x="547.74" y="226.00" width="2.75" height="53.50" fill="rgb(194,194,255)"/>
<rect x="550.24" y="226.00" width="1.75" height="53.50" fill="rgb(209,209,255)"/>
<rect x="551.74" y="226.00" width="2.25" height="53.50" fill="rgb(158,158,255)"/>
<rect x="553.74" y="226.00" width="2.75" height="53.50" fill="rgb(134,134,255)"/>
<rect x="556.24" y="226.00" width="0.75" height="53.50" fill="rgb(150,150,255)"/>
<rect x="556.73" y="226.00" width="2.25" height="53.50" fill="rgb(215,215,255)"/>
<rect x="558.73" y="226.00" width="2.75" height="53.50" fill="rgb(228,227,253)"/>
<rect x="561.23" y="226.00" width="0.75" height="53.50" fill="rgb(208,208,255)"/>
<rect x="561.73" y="226.00" width="2.75" height="53.50" fill="rgb(220,219,254)"/>
<rect x="564.23" y="226.00" width="2.25" height="53.50" fill="rgb(217,216,255)"/>
<rect x="566.23" y="226.00" width="0.75" height="53.50" fill="rgb(195,195,255)"/>
<rect x="566.73" y="226.00" width="1.25" height="53.50" fill="rgb(191,191,255)"/>
<rect x="567.73" y="226.00" width="2.25" height="53.50" fill="rgb(198,198,255)"/>
<rect x="569.73" y="226.00" width="1.75" height="53.50" fill="rgb(192,192,255)"/>
<rect x="571.23" y="226.00" width="0.75" height="53.50" fill="rgb(217,217,255)"/>
<rect x="571.73" y="226.00" width="1.25" height="53.50" fill="rgb(245,244,251)"/>
<rect x="572.73" y="226.00" width="2.75" height="53.50" fill="rgb(250,247,249)"/>
<rect x="575.23" y="226.00" width="1.75" height="53.50" fill="rgb(235,233,252)"/>
<rect x="576.72" y="226.00" width="1.25" height="53.50" fill="rgb(247,245,250)"/>
<rect x="577.72" y="226.00" width="2.75" height="53.50" fill="rgb(237,236,252)"/>
<rect x="580.22" y="226.00" width="1.75" height="53.50" fill="rgb(251,240,242)"/>
<rect x="581.72" y="226.00" width="2.75" height="53.50" fill="rgb(251,239,241)"/>
<rect x="584.22" y="226.00" width="1.75" height="53.50" fill="rgb(251,243,244)"/>
<rect x="585.72" y="226.00" width="1.25" height="53.50" fill="rgb(252,234,235)"/>
<rect x="586.72" y="226.00" width="1.25" height="53.50" fill="rgb(225,224,254)"/>
<rect x="587.72" y="226.00" width="1.25" height="53.50" fill="rgb(217,217,255)"/>
<rect x="588.72" y="226.00" width="1.75" height="53.50" fill="rgb(208,208,255)"/>
<rect x="590.22" y="226.00" width="1.75" height="53.50" fill="rgb(227,226,253)"/>
<rect x="591.71" y="226.00" width="2.25" height="53.50" fill="rgb(238,237,252)"/>
<rect x="593.71" y="226.00" width="2.75" height="53.50" fill="rgb(237,236,252)"/>
<rect x="596.21" y="226.00" width="0.75" height="53.50" fill="rgb(251,238,240)"/>
<rect x="596.71" y="226.00" width="2.75" height="53.50" fill="rgb(191,191,255)"/>
<rect x="599.21" y="226.00" width="1.75" height="53.50" fill="rgb(227,226,253)"/>
<rect x="600.71" y="226.00" width="1.25" height="53.50" fill="rgb(226,226,253)"/>
<rect x="601.71" y="226.00" width="2.25" height="53.50" fill="rgb(229,228,253)"/>
<rect x="603.71" y="226.00" width="2.75" height="53.50" fill="rgb(221,220,254)"/>
<rect x="606.21" y="226.00" width="0.75" height="53.50" fill="rgb(217,217,255)"/>
<rect x="606.71" y="226.00" width="1.25" height="53.50" fill="rgb(192,192,255)"/>
<rect x="607.71" y="226.00" width="2.75" height="53.50" fill="rgb(202,202,255)"/>
<rect x="610.21" y="226.00" width="1.75" height="53.50" fill="rgb(195,195,255)"/>
<rect x="611.70" y="226.00" width="2.75" height="53.50" fill="rgb(228,227,253)"/>
<rect x="614.20" y="226.00" width="1.25" height="53.50" fill="rgb(224,223,254)"/>
<rect x="615.20" y="226.00" width="1.75" height="53.50" fill="rgb(203,203,255)"/>
<rect x="616.70" y="226.00" width="1.25" height="53.50" fill="rgb(199,199,255)"/>
<rect x="617.70" y="226.00" width="2.75" height="53.50" fill="rgb(210,210,255)"/>
<rect x="620.20" y="226.00" width="1.75" height="53.50" fill="rgb(215,215,255)"/>
<rect x="621.70" y="226.00" width="1.75" height="53.50" fill="rgb(217,217,255)"/>
<rect x="623.20" y="226.00" width="1.25" height="53.50" fill="rgb(228,227,253)"/>
<rect x="624.20" y="226.00" width="1.75" height="53.50" fill="rgb(221,220,254)"/>
<rect x="625.70" y="226.00" width="1.25" height="53.50" fill="rgb(212,212,255)"/>
<rect x="626.69" y="226.00" width="2.75" height="53.50" fill="rgb(167,167,255)"/>
<rect x="629.19" y="226.00" width="2.25" height="53.50" fill="rgb(169,169,255)"/>
<rect x="631.19" y="226.00" width="0.75" height="53.50" fill="rgb(150,150,255)"/>
<rect x="631.69" y="226.00" width="1.25" height="53.50" fill="rgb(197,197,255)"/>
<rect x="632.69" y="226.00" width="1.75" height="53.50" fill="rgb(230,229,253)"/>
<rect x="634.19" y="226.00" width="1.25" height="53.50" fill="rgb(219,219,254)"/>
<rect x="635.19" y="226.00" width="1.25" height="53.50" fill="rgb(202,202,255)"/>
<rect x="636.19" y="226.00" width="0.75" height="53.50" fill="rgb(227,226,253)"/>
<rect x="636.69" y="226.00" width="2.25" height="53.50" fill="rgb(216,215,255)"/>
<rect x="638.69" y="226.00" width="2.75" height="53.50" fill="rgb(229,228,253)"/>
<rect x="641.19" y="226.00" width="0.75" height="53.50" fill="rgb(197,197,255)"/>
<rect x="641.69" y="226.00" width="2.25" height="53.50" fill="rgb(251,240,241)"/>
<rect x="643.69" y="226.00" width="2.25" height="53.50" fill="rgb(252,234,235)"/>
<rect x="645.69" y="226.00" width="1.25" height="53.50" fill="rgb(251,241,242)"/>
<rect x="646.68" y="226.00" width="1.75" height="53.50" fill="rgb(239,237,252)"/>
<rect x="648.18" y="226.00" width="1.75" height="53.50" fill="rgb(239,238,251)"/>
<rect x="649.68" y="226.00" width="1.25" height="53.50" fill="rgb(252,234,235)"/>
<rect x="650.68" y="226.00" width="1.25" height="53.50" fill="rgb(252,237,239)"/>
<rect x="651.68" y="226.00" width="2.25" height="53.50" fill="rgb(165,165,255)"/>
<rect x="653.68" y="226.00" width="1.25" height="53.50" fill="rgb(180,180,255)"/>
<rect x="654.68" y="226.00" width="1.25" height="53.50" fill="rgb(133,133,255)"/>
<rect x="655.68" y="226.00" width="1.25" height="53.50" fill="rgb(163,163,255)"/>
<rect x="656.68" y="226.00" width="2.75" height="53.50" fill="rgb(193,193,255)"/>
<rect x="659.18" y="226.00" width="2.75" height="53.50" fill="rgb(225,225,253)"/>
<rect x="661.67" y="226.00" width="1.75" height="53.50" fill="rgb(219,219,254)"/>
<rect x="663.17" y="226.00" width="2.75" height="53.50" fill="rgb(208,208,255)"/>
<rect x="665.67" y="226.00" width="1.25" height="53.50" fill="rgb(222,222,254)"/>
<rect x="666.67" y="226.00" width="2.75" height="53.50" fill="rgb(172,172,255)"/>
<rect x="669.17" y="226.00" width="2.75" height="53.50" fill="rgb(160,160,255)"/>
<rect x="671.67" y="226.00" width="1.75" height="53.50" fill="rgb(198,198,255)"/>
<rect x="673.17" y="226.00" width="2.75" height="53.50" fill="rgb(220,220,254)"/>
<rect x="675.67" y="226.00" width="1.25" height="53.50" fill="rgb(198,198,255)"/>
<rect x="676.67" y="226.00" width="2.75" height="53.50" fill="rgb(182,182,255)"/>
<rect x="679.17" y="226.00" width="1.75" height="53.50" fill="rgb(139,139,255)"/>
<rect x="680.67" y="226.00" width="1.25" height="53.50" fill="rgb(177,177,255)"/>
<rect x="681.66" y="226.00" width="1.75" height="53.50" fill="rgb(103,103,255)"/>
<rect x="683.16" y="226.00" width="1.25" height="53.50" fill="rgb(103,103,255)"/>
<rect x="684.16" y="226.00" width="1.75" height="53.50" fill="rgb(107,107,255)"/>
<rect x="685.66" y="226.00" width="1.25" height="53.50" fill="rgb(81,81,255)"/>
<rect x="686.66" y="226.00" width="2.25" height="53.50" fill="rgb(101,101,255)"/>
<rect x="688.66" y="226.00" width="2.25" height="53.50" fill="rgb(102,102,255)"/>
<rect x="690.66" y="226.00" width="1.25" height="53.50" fill="rgb(114,114,255)"/>
<rect x="691.66" y="226.00" width="1.25" height="53.50" fill="rgb(170,170,255)"/>
<rect x="692.66" y="226.00" width="2.75" height="53.50" fill="rgb(176,176,255)"/>
<rect x="695.16" y="226.00" width="1.75" height="53.50" fill="rgb(159,159,255)"/>
<rect x="696.65" y="226.00" width="1.25" height="53.50" fill="rgb(167,167,255)"/>
<rect x="697.65" y="226.00" width="1.75" height="53.50" fill="rgb(179,179,255)"/>
<rect x="699.15" y="226.00" width="2.25" height="53.50" fill="rgb(153,153,255)"/>
<rect x="701.15" y="226.00" width="0.75" height="53.50" fill="rgb(169,169,255)"/>
<rect x="701.65" y="226.00" width="2.25" height="53.50" fill="rgb(218,218,254)"/>
<rect x="703.65" y="226.00" width="2.75" height="53.50" fill="rgb(217,217,255)"/>
<rect x="706.15" y="226.00" width="0.75" height="53.50" fill="rgb(223,222,254)"/>
<rect x="706.65" y="226.00" width="1.75" height="53.50" fill="rgb(249,247,250)"/>
<rect x="708.15" y="226.00" width="2.75" height="53.50" fill="rgb(251,242,243)"/>
<rect x="710.65" y="226.00" width="1.25" height="53.50" fill="rgb(252,235,236)"/>
<rect x="711.65" y="226.00" width="1.25" height="53.50" fill="rgb(230,229,253)"/>
<rect x="712.65" y="226.00" width="2.75" height="53.50" fill="rgb(205,205,255)"/>
<rect x="715.15" y="226.00" width="1.25" height="53.50" fill="rgb(220,220,254)"/>
<rect x="716.15" y="226.00" width="0.75" height="53.50" fill="rgb(216,216,255)"/>
<rect x="716.64" y="226.00" width="2.75" height="53.50" fill="rgb(222,221,254)"/>
<rect x="719.14" y="226.00" width="1.25" height="53.50" fill="rgb(217,217,255)"/>
<rect x="720.14" y="226.00" width="1.75" height="53.50" fill="rgb(207,207,255)"/>
<rect x="721.64" y="226.00" width="1.25" height="53.50" fill="rgb(255,106,106)"/>
<rect x="722.64" y="226.00" width="1.75" height="53.50" fill="rgb(255,90,90)"/>
<rect x="724.14" y="226.00" width="2.25" height="53.50" fill="rgb(255,113,113)"/>
<rect x="726.14" y="226.00" width="0.75" height="53.50" fill="rgb(255,94,94)"/>
<rect x="726.64" y="226.00" width="2.75" height="53.50" fill="rgb(252,236,237)"/>
<rect x="729.14" y="226.00" width="2.25" height="53.50" fill="rgb(245,243,251)"/>
<rect x="731.14" y="226.00" width="0.75" height="53.50" fill="rgb(251,242,244)"/>
<rect x="731.63" y="226.00" width="2.25" height="53.50" fill="rgb(236,235,252)"/>
<rect x="733.63" y="226.00" width="2.25" height="53.50" fill="rgb(252,236,237)"/>
<rect x="735.63" y="226.00" width="1.25" height="53.50" fill="rgb(252,237,238)"/>
<rect x="736.63" y="226.00" width="2.75" height="53.50" fill="rgb(255,185,185)"/>
<rect x="739.13" y="226.00" width="1.75" height="53.50" fill="rgb(255,177,177)"/>
<rect x="740.63" y="226.00" width="1.25" height="53.50" fill="rgb(255,145,145)"/>
<rect x="741.63" y="226.00" width="1.75" height="53.50" fill="rgb(113,113,255)"/>
<rect x="743.13" y="226.00" width="1.25" height="53.50" fill="rgb(100,100,255)"/>
<rect x="744.13" y="226.00" width="2.75" height="53.50" fill="rgb(64,64,255)"/>
<rect x="746.63" y="226.00" width="2.25" height="53.50" fill="rgb(162,162,255)"/>
<rect x="748.63" y="226.00" width="2.25" height="53.50" fill="rgb(134,134,255)"/>
<rect x="750.63" y="226.00" width="1.25" height="53.50" fill="rgb(155,155,255)"/>
<rect x="751.62" y="226.00" width="1.25" height="53.50" fill="rgb(255,204,204)"/>
<rect x="752.62" y="226.00" width="1.25" height="53.50" fill="rgb(254,221,222)"/>
<rect x="753.62" y="226.00" width="1.75" height="53.50" fill="rgb(254,224,225)"/>
<rect x="755.12" y="226.00" width="1.75" height="53.50" fill="rgb(255,209,209)"/>
<rect x="756.62" y="226.00" width="2.25" height="53.50" fill="rgb(255,144,144)"/>
<rect x="758.62" y="226.00" width="1.75" height="53.50" fill="rgb(255,141,141)"/>
<rect x="760.12" y="226.00" width="1.75" height="53.50" fill="rgb(255,141,141)"/>
<rect x="761.62" y="226.00" width="2.25" height="53.50" fill="rgb(253,227,227)"/>
<rect x="763.62" y="226.00" width="1.25" height="53.50" fill="rgb(255,215,215)"/>
<rect x="764.62" y="226.00" width="1.75" height="53.50" fill="rgb(254,222,223)"/>
<rect x="766.12" y="226.00" width="0.75" height="53.50" fill="rgb(255,200,200)"/>
<rect x="766.61" y="226.00" width="1.75" height="53.50" fill="rgb(193,193,255)"/>
<rect x="768.11" y="226.00" width="2.75" height="53.50" fill="rgb(226,225,253)"/>
<rect x="770.61" y="226.00" width="1.25" height="53.50" fill="rgb(192,192,255)"/>
<rect x="771.61" y="226.00" width="2.25" height="53.50" fill="rgb(253,228,229)"/>
<rect x="773.61" y="226.00" width="1.25" height="53.50" fill="rgb(255,196,196)"/>
<rect x="774.61" y="226.00" width="1.25" height="53.50" fill="rgb(254,219,220)"/>
<rect x="775.61" y="226.00" width="1.25" height="53.50" fill="rgb(255,205,205)"/>
<rect x="776.61" y="226.00" width="2.25" height="53.50" fill="rgb(221,221,254)"/>
<rect x="778.61" y="226.00" width="1.75" height="53.50" fill="rgb(210,210,255)"/>
<rect x="780.11" y="226.00" width="1.75" height="53.50" fill="rgb(226,225,253)"/>
<rect x="781.61" y="226.00" width="2.25" height="53.50" fill="rgb(153,153,255)"/>
<rect x="783.61" y="226.00" width="2.75" height="53.50" fill="rgb(154,154,255)"/>
<rect x="786.11" y="226.00" width="0.75" height="53.50" fill="rgb(182,182,255)"/>
<rect x="786.60" y="226.00" width="1.25" height="53.50" fill="rgb(121,121,255)"/>
<rect x="787.60" y="226.00" width="2.75" height="53.50" fill="rgb(59,59,255)"/>
<rect x="790.10" y="226.00" width="1.75" height="53.50" fill="rgb(118,118,255)"/>
<rect x="92.00" y="279.50" width="2.25" height="53.50" fill="rgb(168,168,255)"/>
<rect x="94.00" y="279.50" width="2.25" height="53.50" fill="rgb(148,148,255)"/>
<rect x="96.00" y="279.50" width="1.25" height="53.50" fill="rgb(144,144,255)"/>
<rect x="97.00" y="279.50" width="1.75" height="53.50" fill="rgb(178,178,255)"/>
<rect x="98.50" y="279.50" width="1.75" height="53.50" fill="rgb(162,162,255)"/>
<rect x="100.00" y="279.50" width="2.25" height="53.50" fill="rgb(157,157,255)"/>
<rect x="101.99" y="279.50" width="2.25" height="53.50" fill="rgb(244,242,251)"/>
<rect x="103.99" y="279.50" width="1.75" height="53.50" fill="rgb(250,247,249)"/>
<rect x="105.49" y="279.50" width="1.25" height="53.50" fill="rgb(249,247,250)"/>
<rect x="106.49" y="279.50" width="0.75" height="53.50" fill="rgb(250,245,246)"/>
<rect x="106.99" y="279.50" width="1.25" height="53.50" fill="rgb(146,146,255)"/>
<rect x="107.99" y="279.50" width="1.75" height="53.50" fill="rgb(145,145,255)"/>
<rect x="109.49" y="279.50" width="1.75" height="53.50" fill="rgb(146,146,255)"/>
<rect x="110.99" y="279.50" width="1.25" height="53.50" fill="rgb(162,162,255)"/>
<rect x="111.99" y="279.50" width="2.75" height="53.50" fill="rgb(118,118,255)"/>
<rect x="114.49" y="279.50" width="1.75" height="53.50" fill="rgb(95,95,255)"/>
<rect x="115.99" y="279.50" width="1.25" height="53.50" fill="rgb(112,112,255)"/>
<rect x="116.99" y="279.50" width="1.75" height="53.50" fill="rgb(8,8,255)"/>
<rect x="118.49" y="279.50" width="1.25" height="53.50" fill="rgb(8,8,255)"/>
<rect x="119.49" y="279.50" width="1.25" height="53.50" fill="rgb(8,8,255)"/>
<rect x="120.49" y="279.50" width="1.75" height="53.50" fill="rgb(8,8,255)"/>
<rect x="121.98" y="279.50" width="1.75" height="53.50" fill="rgb(8,8,255)"/>
<rect x="123.48" y="279.50" width="1.25" height="53.50" fill="rgb(8,8,255)"/>
<rect x="124.48" y="279.50" width="2.25" height="53.50" fill="rgb(8,8,255)"/>
<rect x="126.48" y="279.50" width="0.75" height="53.50" fill="rgb(8,8,255)"/>
<rect x="126.98" y="279.50" width="2.75" height="53.50" fill="rgb(8,8,255)"/>
<rect x="129.48" y="279.50" width="1.75" height="53.50" fill="rgb(8,8,255)"/>
<rect x="130.98" y="279.50" width="1.25" height="53.50" fill="rgb(8,8,255)"/>
<rect x="131.98" y="279.50" width="1.75" height="53.50" fill="rgb(8,8,255)"/>
<rect x="133.48" y="279.50" width="2.25" height="53.50" fill="rgb(8,8,255)"/>
<rect x="135.48" y="279.50" width="1.25" height="53.50" fill="rgb(8,8,255)"/>
<rect x="136.48" y="279.50" width="0.75" height="53.50" fill="rgb(8,8,255)"/>
<rect x="136.97" y="279.50" width="1.75" height="53.50" fill="rgb(8,8,255)"/>
<rect x="138.47" y="279.50" width="1.75" height="53.50" fill="rgb(8,8,255)"/>
<rect x="139.97" y="279.50" width="2.25" height="53.50" fill="rgb(8,8,255)"/>
<rect x="141.97" y="279.50" width="2.75" height="53.50" fill="rgb(8,8,255)"/>
<rect x="144.47" y="279.50" width="1.25" height="53.50" fill="rgb(8,8,255)"/>
<rect x="145.47" y="279.50" width="1.75" height="53.50" fill="rgb(8,8,255)"/>
<rect x="146.97" y="279.50" width="1.75" height="53.50" fill="rgb(8,8,255)"/>
<rect x="148.47" y="279.50" width="2.75" height="53.50" fill="rgb(8,8,255)"/>
<rect x="150.97" y="279.50" width="1.25" height="53.50" fill="rgb(8,8,255)"/>
<rect x="151.97" y="279.50" width="2.75" height="53.50" fill="rgb(8,8,255)"/>
<rect x="154.47" y="279.50" width="2.75" height="53.50" fill="rgb(8,8,255)"/>
<rect x="156.96" y="279.50" width="1.75" height="53.50" fill="rgb(8,8,255)"/>
<rect x="158.46" y="279.50" width="2.75" height="53.50" fill="rgb(8,8,255)"/>
<rect x="160.96" y="279.50" width="1.25" height="53.50" fill="rgb(8,8,255)"/>
<rect x="161.96" y="279.50" width="2.25" height="53.50" fill="rgb(8,8,255)"/>
<rect x="163.96" y="279.50" width="2.25" height="53.50" fill="rgb(8,8,255)"/>
<rect x="165.96" y="279.50" width="1.25" height="53.50" fill="rgb(8,8,255)"/>
<rect x="166.96" y="279.50" width="2.25" height="53.50" fill="rgb(8,8,255)"/>
<rect x="168.96" y="279.50" width="2.75" height="53.50" fill="rgb(8,8,255)"/>
<rect x="171.46" y="279.50" width="0.75" height="53.50" fill="rgb(8,8,255)"/>
<rect x="171.95" y="279.50" width="2.75" height="53.50" fill="rgb(8,8,255)"/>
<rect x="174.45" y="279.50" width="1.25" height="53.50" fill="rgb(8,8,255)"/>
<rect x="175.45" y="279.50" width="1.75" height="53.50" fill="rgb(8,8,255)"/>
<rect x="176.95" y="279.50" width="1.75" height="53.50" fill="rgb(8,8,255)"/>
<rect x="178.45" y="279.50" width="2.75" height="53.50" fill="rgb(8,8,255)"/>
<rect x="180.95" y="279.50" width="1.25" height="53.50" fill="rgb(8,8,255)"/>
<rect x="181.95" y="279.50" width="1.75" height="53.50" fill="rgb(8,8,255)"/>
<rect x="183.45" y="279.50" width="1.25" height="53.50" fill="rgb(8,8,255)"/>
<rect x="184.45" y="279.50" width="1.25" height="53.50" fill="rgb(8,8,255)"/>
<rect x="185.45" y="279.50" width="1.25" height="53.50" fill="rgb(8,8,255)"/>
<rect x="186.45" y="279.50" width="0.75" height="53.50" fill="rgb(8,8,255)"/>
<rect x="186.95" y="279.50" width="1.75" height="53.50" fill="rgb(8,8,255)"/>
<rect x="188.45" y="279.50" width="2.75" height="53.50" fill="rgb(8,8,255)"/>
<rect x="190.95" y="279.50" width="1.25" height="53.50" fill="rgb(8,8,255)"/>
<rect x="191.94" y="279.50" width="2.25" height="53.50" fill="rgb(8,8,255)"/>
<rect x="193.94" y="279.50" width="2.25" height="53.50" fill="rgb(8,8,255)"/>
<rect x="195.94" y="279.50" width="1.25" height="53.50" fill="rgb(8,8,255)"/>
<rect x="196.94" y="279.50" width="1.75" height="53.50" fill="rgb(8,8,255)"/>
<rect x="198.44" y="279.50" width="1.25" height="53.50" fill="rgb(8,8,255)"/>
<rect x="199.44" y="279.50" width="2.25" height="53.50" fill="rgb(8,8,255)"/>
<rect x="201.44" y="279.50" width="0.75" height="53.50" fill="rgb(8,8,255)"/>
<rect x="201.94" y="279.50" width="1.75" height="53.50" fill="rgb(8,8,255)"/>
<rect x="203.44" y="279.50" width="1.75" height="53.50" fill="rgb(8,8,255)"/>
<rect x="204.94" y="279.50" width="1.75" height="53.50" fill="rgb(8,8,255)"/>
<rect x="206.44" y="279.50" width="0.75" height="53.50" fill="rgb(8,8,255)"/>
<rect x="206.93" y="279.50" width="2.75" height="53.50" fill="rgb(8,8,255)"/>
<rect x="209.43" y="279.50" width="2.75" height="53.50" fill="rgb(8,8,255)"/>
<rect x="211.93" y="279.50" width="1.75" height="53.50" fill="rgb(8,8,255)"/>
<rect x="213.43" y="279.50" width="1.25" height="53.50" fill="rgb(8,8,255)"/>
<rect x="214.43" y="279.50" width="2.25" height="53.50" fill="rgb(8,8,255)"/>
<rect x="216.43" y="279.50" width="0.75" height="53.50" fill="rgb(8,8,255)"/>
<rect x="216.93" y="279.50" width="1.75" height="53.50" fill="rgb(8,8,255)"/>
<rect x="218.43" y="279.50" width="2.25" height="53.50" fill="rgb(8,8,255)"/>
<rect x="220.43" y="279.50" width="1.75" height="53.50" fill="rgb(8,8,255)"/>
<rect x="221.93" y="279.50" width="2.75" height="53.50" fill="rgb(8,8,255)"/>
<rect x="224.43" y="279.50" width="1.25" height="53.50" fill="rgb(8,8,255)"/>
<rect x="225.43" y="279.50" width="1.75" height="53.50" fill="rgb(8,8,255)"/>
<rect x="226.92" y="279.50" width="1.75" height="53.50" fill="rgb(8,8,255)"/>
<rect x="228.42" y="279.50" width="2.75" height="53.50" fill="rgb(8,8,255)"/>
<rect x="230.92" y="279.50" width="1.25" height="53.50" fill="rgb(8,8,255)"/>
<rect x="231.92" y="279.50" width="2.25" height="53.50" fill="rgb(8,8,255)"/>
<rect x="233.92" y="279.50" width="2.25" height="53.50" fill="rgb(8,8,255)"/>
<rect x="235.92" y="279.50" width="1.25" height="53.50" fill="rgb(8,8,255)"/>
<rect x="236.92" y="279.50" width="2.75" height="53.50" fill="rgb(91,91,255)"/>
<rect x="239.42" y="279.50" width="1.75" height="53.50" fill="rgb(81,81,255)"/>
<rect x="240.92" y="279.50" width="1.25" height="53.50" fill="rgb(122,122,255)"/>
<rect x="241.91" y="279.50" width="2.75" height="53.50" fill="rgb(93,93,255)"/>
<rect x="244.41" y="279.50" width="2.25" height="53.50" fill="rgb(100,100,255)"/>
<rect x="246.41" y="279.50" width="0.75" height="53.50" fill="rgb(87,87,255)"/>
<rect x="246.91" y="279.50" width="1.25" height="53.50" fill="rgb(8,8,255)"/>
<rect x="247.91" y="279.50" width="1.75" height="53.50" fill="rgb(8,8,255)"/>
<rect x="249.41" y="279.50" width="2.75" height="53.50" fill="rgb(8,8,255)"/>
<rect x="251.91" y="279.50" width="2.25" height="53.50" fill="rgb(8,8,255)"/>
<rect x="253.91" y="279.50" width="1.25" height="53.50" fill="rgb(8,8,255)"/>
<rect x="254.91" y="279.50" width="1.25" height="53.50" fill="rgb(8,8,255)"/>
<rect x="255.91" y="279.50" width="1.25" height="53.50" fill="rgb(8,8,255)"/>
<rect x="256.91" y="279.50" width="2.25" height="53.50" fill="rgb(8,8,255)"/>
<rect x="258.91" y="279.50" width="1.75" height="53.50" fill="rgb(8,8,255)"/>
<rect x="260.41" y="279.50" width="1.75" height="53.50" fill="rgb(8,8,255)"/>
<rect x="261.90" y="279.50" width="2.25" height="53.50" fill="rgb(8,8,255)"/>
<rect x="263.90" y="279.50" width="1.25" height="53.50" fill="rgb(8,8,255)"/>
<rect x="264.90" y="279.50" width="2.25" height="53.50" fill="rgb(8,8,255)"/>
<rect x="266.90" y="279.50" width="1.75" height="53.50" fill="rgb(114,114,255)"/>
<rect x="268.40" y="279.50" width="2.25" height="53.50" fill="rgb(88,88,255)"/>
<rect x="270.40" y="279.50" width="1.25" height="53.50" fill="rgb(99,99,255)"/>
<rect x="271.40" y="279.50" width="0.75" height="53.50" fill="rgb(112,112,255)"/>
<rect x="271.90" y="279.50" width="1.25" height="53.50" fill="rgb(8,8,255)"/>
<rect x="272.90" y="279.50" width="2.25" height="53.50" fill="rgb(8,8,255)"/>
<rect x="274.90" y="279.50" width="2.25" height="53.50" fill="rgb(8,8,255)"/>
<rect x="276.89" y="279.50" width="1.25" height="53.50" fill="rgb(8,8,255)"/>
<rect x="277.89" y="279.50" width="2.25" height="53.50" fill="rgb(8,8,255)"/>
<rect x="279.89" y="279.50" width="1.75" height="53.50" fill="rgb(8,8,255)"/>
<rect x="281.39" y="279.50" width="0.75" height="53.50" fill="rgb(8,8,255)"/>
<rect x="281.89" y="279.50" width="2.75" height="53.50" fill="rgb(8,8,255)"/>
<rect x="284.39" y="279.50" width="1.75" height="53.50" fill="rgb(8,8,255)"/>
<rect x="285.89" y="279.50" width="1.25" height="53.50" fill="rgb(8,8,255)"/>
<rect x="286.89" y="279.50" width="2.75" height="53.50" fill="rgb(8,8,255)"/>
<rect x="289.39" y="279.50" width="2.25" height="53.50" fill="rgb(8,8,255)"/>
<rect x="291.39" y="279.50" width="0.75" height="53.50" fill="rgb(8,8,255)"/>
<rect x="291.89" y="279.50" width="2.75" height="53.50" fill="rgb(8,8,255)"/>
<rect x="294.39" y="279.50" width="1.75" height="53.50" fill="rgb(8,8,255)"/>
<rect x="295.89" y="279.50" width="1.25" height="53.50" fill="rgb(8,8,255)"/>
<rect x="296.88" y="279.50" width="2.25" height="53.50" fill="rgb(8,8,255)"/>
<rect x="298.88" y="279.50" width="2.75" height="53.50" fill="rgb(8,8,255)"/>
<rect x="301.38" y="279.50" width="0.75" height="53.50" fill="rgb(8,8,255)"/>
<rect x="301.88" y="279.50" width="2.75" height="53.50" fill="rgb(8,8,255)"/>
<rect x="304.38" y="279.50" width="1.75" height="53.50" fill="rgb(8,8,255)"/>
<rect x="305.88" y="279.50" width="1.25" height="53.50" fill="rgb(8,8,255)"/>
<rect x="306.88" y="279.50" width="1.25" height="53.50" fill="rgb(86,86,255)"/>
<rect x="307.88" y="279.50" width="2.75" height="53.50" fill="rgb(91,91,255)"/>
<rect x="310.38" y="279.50" width="1.75" height="53.50" fill="rgb(66,66,255)"/>
<rect x="311.87" y="279.50" width="2.75" height="53.50" fill="rgb(8,8,255)"/>
<rect x="314.37" y="279.50" width="1.25" height="53.50" fill="rgb(8,8,255)"/>
<rect x="315.37" y="279.50" width="1.75" height="53.50" fill="rgb(8,8,255)"/>
<rect x="316.87" y="279.50" width="1.75" height="53.50" fill="rgb(8,8,255)"/>
<rect x="318.37" y="279.50" width="2.25" height="53.50" fill="rgb(8,8,255)"/>
<rect x="320.37" y="279.50" width="1.75" height="53.50" fill="rgb(8,8,255)"/>
<rect x="321.87" y="279.50" width="1.75" height="53.50" fill="rgb(8,8,255)"/>
<rect x="323.37" y="279.50" width="1.25" height="53.50" fill="rgb(8,8,255)"/>
<rect x="324.37" y="279.50" width="1.25" height="53.50" fill="rgb(8,8,255)"/>
<rect x="325.37" y="279.50" width="1.25" height="53.50" fill="rgb(8,8,255)"/>
<rect x="326.37" y="279.50" width="0.75" height="53.50" fill="rgb(8,8,255)"/>
<rect x="326.87" y="279.50" width="1.75" height="53.50" fill="rgb(8,8,255)"/>
<rect x="328.37" y="279.50" width="2.75" height="53.50" fill="rgb(8,8,255)"/>
<rect x="330.87" y="279.50" width="1.25" height="53.50" fill="rgb(8,8,255)"/>
<rect x="331.86" y="279.50" width="1.75" height="53.50" fill="rgb(8,8,255)"/>
<rect x="333.36" y="279.50" width="2.25" height="53.50" fill="rgb(8,8,255)"/>
<rect x="335.36" y="279.50" width="1.75" height="53.50" fill="rgb(8,8,255)"/>
<rect x="336.86" y="279.50" width="2.75" height="53.50" fill="rgb(8,8,255)"/>
<rect x="339.36" y="279.50" width="2.25" height="53.50" fill="rgb(8,8,255)"/>
<rect x="341.36" y="279.50" width="0.75" height="53.50" fill="rgb(8,8,255)"/>
<rect x="341.86" y="279.50" width="2.25" height="53.50" fill="rgb(8,8,255)"/>
<rect x="343.86" y="279.50" width="1.75" height="53.50" fill="rgb(8,8,255)"/>
<rect x="345.36" y="279.50" width="1.75" height="53.50" fill="rgb(8,8,255)"/>
<rect x="346.85" y="279.50" width="2.75" height="53.50" fill="rgb(8,8,255)"/>
<rect x="349.35" y="279.50" width="2.25" height="53.50" fill="rgb(8,8,255)"/>
<rect x="351.35" y="279.50" width="0.75" height="53.50" fill="rgb(8,8,255)"/>
<rect x="351.85" y="279.50" width="2.75" height="53.50" fill="rgb(8,8,255)"/>
<rect x="354.35" y="279.50" width="2.25" height="53.50" fill="rgb(8,8,255)"/>
<rect x="356.35" y="279.50" width="0.75" height="53.50" fill="rgb(8,8,255)"/>
<rect x="356.85" y="279.50" width="1.25" height="53.50" fill="rgb(8,8,255)"/>
<rect x="357.85" y="279.50" width="2.25" height="53.50" fill="rgb(8,8,255)"/>
<rect x="359.85" y="279.50" width="2.25" height="53.50" fill="rgb(8,8,255)"/>
<rect x="361.85" y="279.50" width="2.75" height="53.50" fill="rgb(8,8,255)"/>
<rect x="364.35" y="279.50" width="1.75" height="53.50" fill="rgb(8,8,255)"/>
<rect x="365.85" y="279.50" width="1.25" height="53.50" fill="rgb(8,8,255)"/>
<rect x="366.84" y="279.50" width="1.25" height="53.50" fill="rgb(109,109,255)"/>
<rect x="367.84" y="279.50" width="2.25" height="53.50" fill="rgb(94,94,255)"/>
<rect x="369.84" y="279.50" width="2.25" height="53.50" fill="rgb(89,89,255)"/>
<rect x="371.84" y="279.50" width="2.75" height="53.50" fill="rgb(156,156,255)"/>
<rect x="374.34" y="279.50" width="2.25" height="53.50" fill="rgb(180,180,255)"/>
<rect x="376.34" y="279.50" width="0.75" height="53.50" fill="rgb(177,177,255)"/>
<rect x="376.84" y="279.50" width="1.75" height="53.50" fill="rgb(97,97,255)"/>
<rect x="378.34" y="279.50" width="1.25" height="53.50" fill="rgb(102,102,255)"/>
<rect x="379.34" y="279.50" width="1.75" height="53.50" fill="rgb(101,101,255)"/>
<rect x="380.84" y="279.50" width="1.25" height="53.50" fill="rgb(95,95,255)"/>
<rect x="381.83" y="279.50" width="2.25" height="53.50" fill="rgb(87,87,255)"/>
<rect x="383.83" y="279.50" width="1.75" height="53.50" fill="rgb(67,67,255)"/>
<rect x="385.33" y="279.50" width="1.25" height="53.50" fill="rgb(116,116,255)"/>
<rect x="386.33" y="279.50" width="0.75" height="53.50" fill="rgb(90,90,255)"/>
<rect x="386.83" y="279.50" width="2.75" height="53.50" fill="rgb(135,135,255)"/>
<rect x="389.33" y="279.50" width="1.25" height="53.50" fill="rgb(175,175,255)"/>
<rect x="390.33" y="279.50" width="1.75" height="53.50" fill="rgb(159,159,255)"/>
<rect x="391.83" y="279.50" width="2.75" height="53.50" fill="rgb(93,93,255)"/>
<rect x="394.33" y="279.50" width="2.25" height="53.50" fill="rgb(78,78,255)"/>
<rect x="396.33" y="279.50" width="0.75" height="53.50" fill="rgb(86,86,255)"/>
<rect x="396.83" y="279.50" width="2.75" height="53.50" fill="rgb(82,82,255)"/>
<rect x="399.33" y="279.50" width="1.25" height="53.50" fill="rgb(112,112,255)"/>
<rect x="400.33" y="279.50" width="1.75" height="53.50" fill="rgb(94,94,255)"/>
<rect x="401.82" y="279.50" width="1.75" height="53.50" fill="rgb(135,135,255)"/>
<rect x="403.32" y="279.50" width="1.25" height="53.50" fill="rgb(176,176,255)"/>
<rect x="404.32" y="279.50" width="2.25" height="53.50" fill="rgb(176,176,255)"/>
<rect x="406.32" y="279.50" width="0.75" height="53.50" fill="rgb(135,135,255)"/>
<rect x="406.82" y="279.50" width="2.25" height="53.50" fill="rgb(245,243,251)"/>
<rect x="408.82" y="279.50" width="1.75" height="53.50" fill="rgb(252,236,237)"/>
<rect x="410.32" y="279.50" width="1.25" height="53.50" fill="rgb(251,240,242)"/>
<rect x="411.32" y="279.50" width="0.75" height="53.50" fill="rgb(250,248,250)"/>
<rect x="411.82" y="279.50" width="2.25" height="53.50" fill="rgb(170,170,255)"/>
<rect x="413.82" y="279.50" width="1.75" height="53.50" fill="rgb(159,159,255)"/>
<rect x="415.32" y="279.50" width="1.25" height="53.50" fill="rgb(185,185,255)"/>
<rect x="416.32" y="279.50" width="0.75" height="53.50" fill="rgb(161,161,255)"/>
<rect x="416.81" y="279.50" width="2.75" height="53.50" fill="rgb(106,106,255)"/>
<rect x="419.31" y="279.50" width="1.75" height="53.50" fill="rgb(93,93,255)"/>
<rect x="420.81" y="279.50" width="1.25" height="53.50" fill="rgb(98,98,255)"/>
<rect x="421.81" y="279.50" width="2.25" height="53.50" fill="rgb(170,170,255)"/>
<rect x="423.81" y="279.50" width="1.25" height="53.50" fill="rgb(185,185,255)"/>
<rect x="424.81" y="279.50" width="2.25" height="53.50" fill="rgb(160,160,255)"/>
<rect x="426.81" y="279.50" width="1.75" height="53.50" fill="rgb(226,225,253)"/>
<rect x="428.31" y="279.50" width="1.75" height="53.50" fill="rgb(225,225,253)"/>
<rect x="429.81" y="279.50" width="2.25" height="53.50" fill="rgb(203,203,255)"/>
<rect x="431.81" y="279.50" width="2.75" height="53.50" fill="rgb(202,202,255)"/>
<rect x="434.31" y="279.50" width="1.25" height="53.50" fill="rgb(207,207,255)"/>
<rect x="435.31" y="279.50" width="1.75" height="53.50" fill="rgb(198,198,255)"/>
<rect x="436.80" y="279.50" width="2.25" height="53.50" fill="rgb(255,179,179)"/>
<rect x="438.80" y="279.50" width="2.75" height="53.50" fill="rgb(255,186,186)"/>
<rect x="441.30" y="279.50" width="0.75" height="53.50" fill="rgb(255,151,151)"/>
<rect x="441.80" y="279.50" width="2.75" height="53.50" fill="rgb(255,71,71)"/>
<rect x="444.30" y="279.50" width="1.75" height="53.50" fill="rgb(255,87,87)"/>
<rect x="445.80" y="279.50" width="1.25" height="53.50" fill="rgb(255,109,109)"/>
<rect x="446.80" y="279.50" width="2.25" height="53.50" fill="rgb(255,39,39)"/>
<rect x="448.80" y="279.50" width="1.75" height="53.50" fill="rgb(255,38,38)"/>
<rect x="450.30" y="279.50" width="1.75" height="53.50" fill="rgb(255,13,13)"/>
<rect x="451.79" y="279.50" width="2.25" height="53.50" fill="rgb(255,25,25)"/>
<rect x="453.79" y="279.50" width="2.25" height="53.50" fill="rgb(255,19,19)"/>
<rect x="455.79" y="279.50" width="1.25" height="53.50" fill="rgb(255,12,12)"/>
<rect x="456.79" y="279.50" width="2.25" height="53.50" fill="rgb(255,16,16)"/>
<rect x="458.79" y="279.50" width="1.75" height="53.50" fill="rgb(255,39,39)"/>
<rect x="460.29" y="279.50" width="1.75" height="53.50" fill="rgb(255,49,49)"/>
<rect x="461.79" y="279.50" width="2.75" height="53.50" fill="rgb(255,28,28)"/>
<rect x="464.29" y="279.50" width="1.25" height="53.50" fill="rgb(255,22,22)"/>
<rect x="465.29" y="279.50" width="1.75" height="53.50" fill="rgb(255,41,41)"/>
<rect x="466.79" y="279.50" width="1.25" height="53.50" fill="rgb(255,8,8)"/>
<rect x="467.79" y="279.50" width="1.25" height="53.50" fill="rgb(255,14,14)"/>
<rect x="468.79" y="279.50" width="2.25" height="53.50" fill="rgb(255,35,35)"/>
<rect x="470.79" y="279.50" width="1.25" height="53.50" fill="rgb(255,41,41)"/>
<rect x="471.78" y="279.50" width="1.75" height="53.50" fill="rgb(255,22,22)"/>
<rect x="473.28" y="279.50" width="2.25" height="53.50" fill="rgb(255,19,19)"/>
<rect x="475.28" y="279.50" width="1.25" height="53.50" fill="rgb(255,36,36)"/>
<rect x="476.28" y="279.50" width="0.75" height="53.50" fill="rgb(255,39,39)"/>
<rect x="476.78" y="279.50" width="1.25" height="53.50" fill="rgb(255,36,36)"/>
<rect x="477.78" y="279.50" width="2.75" height="53.50" fill="rgb(255,16,16)"/>
<rect x="480.28" y="279.50" width="1.75" height="53.50" fill="rgb(255,24,24)"/>
<rect x="481.78" y="279.50" width="1.75" height="53.50" fill="rgb(255,82,82)"/>
<rect x="483.28" y="279.50" width="2.75" height="53.50" fill="rgb(255,122,122)"/>
<rect x="485.78" y="279.50" width="1.25" height="53.50" fill="rgb(255,82,82)"/>
<rect x="486.77" y="279.50" width="1.75" height="53.50" fill="rgb(255,109,109)"/>
<rect x="488.27" y="279.50" width="2.25" height="53.50" fill="rgb(255,104,104)"/>
<rect x="490.27" y="279.50" width="1.25" height="53.50" fill="rgb(255,81,81)"/>
<rect x="491.27" y="279.50" width="0.75" height="53.50" fill="rgb(255,103,103)"/>
<rect x="491.77" y="279.50" width="1.25" height="53.50" fill="rgb(255,84,84)"/>
<rect x="492.77" y="279.50" width="1.75" height="53.50" fill="rgb(255,79,79)"/>
<rect x="494.27" y="279.50" width="2.75" height="53.50" fill="rgb(255,62,62)"/>
<rect x="496.77" y="279.50" width="2.25" height="53.50" fill="rgb(255,135,135)"/>
<rect x="498.77" y="279.50" width="1.75" height="53.50" fill="rgb(255,151,151)"/>
<rect x="500.27" y="279.50" width="1.75" height="53.50" fill="rgb(255,167,167)"/>
<rect x="501.77" y="279.50" width="1.75" height="53.50" fill="rgb(255,61,61)"/>
<rect x="503.27" y="279.50" width="2.75" height="53.50" fill="rgb(255,100,100)"/>
<rect x="505.77" y="279.50" width="1.25" height="53.50" fill="rgb(255,127,127)"/>
<rect x="506.76" y="279.50" width="1.25" height="53.50" fill="rgb(255,25,25)"/>
<rect x="507.76" y="279.50" width="2.25" height="53.50" fill="rgb(255,42,42)"/>
<rect x="509.76" y="279.50" width="2.25" height="53.50" fill="rgb(255,29,29)"/>
<rect x="511.76" y="279.50" width="2.25" height="53.50" fill="rgb(255,10,10)"/>
<rect x="513.76" y="279.50" width="2.25" height="53.50" fill="rgb(255,49,49)"/>
<rect x="515.76" y="279.50" width="1.25" height="53.50" fill="rgb(255,43,43)"/>
<rect x="516.76" y="279.50" width="2.75" height="53.50" fill="rgb(255,121,121)"/>
<rect x="519.26" y="279.50" width="2.25" height="53.50" fill="rgb(255,99,99)"/>
<rect x="521.26" y="279.50" width="0.75" height="53.50" fill="rgb(255,70,70)"/>
<rect x="521.75" y="279.50" width="2.75" height="53.50" fill="rgb(255,169,169)"/>
<rect x="524.25" y="279.50" width="1.25" height="53.50" fill="rgb(255,153,153)"/>
<rect x="525.25" y="279.50" width="1.75" height="53.50" fill="rgb(255,136,136)"/>
<rect x="526.75" y="279.50" width="2.25" height="53.50" fill="rgb(255,151,151)"/>
<rect x="528.75" y="279.50" width="2.75" height="53.50" fill="rgb(255,171,171)"/>
<rect x="531.25" y="279.50" width="0.75" height="53.50" fill="rgb(255,186,186)"/>
<rect x="531.75" y="279.50" width="2.75" height="53.50" fill="rgb(255,180,180)"/>
<rect x="534.25" y="279.50" width="1.75" height="53.50" fill="rgb(255,143,143)"/>
<rect x="535.75" y="279.50" width="1.25" height="53.50" fill="rgb(255,184,184)"/>
<rect x="536.75" y="279.50" width="1.25" height="53.50" fill="rgb(255,62,62)"/>
<rect x="537.75" y="279.50" width="2.75" height="53.50" fill="rgb(255,109,109)"/>
<rect x="540.25" y="279.50" width="1.25" height="53.50" fill="rgb(255,102,102)"/>
<rect x="541.25" y="279.50" width="0.75" height="53.50" fill="rgb(255,108,108)"/>
<rect x="541.74" y="279.50" width="2.75" height="53.50" fill="rgb(255,10,10)"/>
<rect x="544.24" y="279.50" width="2.75" height="53.50" fill="rgb(255,16,16)"/>
<rect x="546.74" y="279.50" width="1.25" height="53.50" fill="rgb(255,30,30)"/>
<rect x="547.74" y="279.50" width="2.75" height="53.50" fill="rgb(255,28,28)"/>
<rect x="550.24" y="279.50" width="1.75" height="53.50" fill="rgb(255,15,15)"/>
<rect x="551.74" y="279.50" width="1.25" height="53.50" fill="rgb(255,11,11)"/>
<rect x="552.74" y="279.50" width="1.75" height="53.50" fill="rgb(255,50,50)"/>
<rect x="554.24" y="279.50" width="2.75" height="53.50" fill="rgb(255,14,14)"/>
<rect x="556.73" y="279.50" width="1.25" height="53.50" fill="rgb(255,28,28)"/>
<rect x="557.73" y="279.50" width="2.25" height="53.50" fill="rgb(255,20,20)"/>
<rect x="559.73" y="279.50" width="1.25" height="53.50" fill="rgb(255,34,34)"/>
<rect x="560.73" y="279.50" width="1.25" height="53.50" fill="rgb(255,21,21)"/>
<rect x="561.73" y="279.50" width="1.25" height="53.50" fill="rgb(255,35,35)"/>
<rect x="562.73" y="279.50" width="1.25" height="53.50" fill="rgb(255,40,40)"/>
<rect x="563.73" y="279.50" width="1.25" height="53.50" fill="rgb(255,25,25)"/>
<rect x="564.73" y="279.50" width="1.25" height="53.50" fill="rgb(255,36,36)"/>
<rect x="565.73" y="279.50" width="1.25" height="53.50" fill="rgb(255,42,42)"/>
<rect x="566.73" y="279.50" width="2.75" height="53.50" fill="rgb(255,17,17)"/>
<rect x="569.23" y="279.50" width="2.75" height="53.50" fill="rgb(255,16,16)"/>
<rect x="571.73" y="279.50" width="2.25" height="53.50" fill="rgb(255,45,45)"/>
<rect x="573.73" y="279.50" width="1.75" height="53.50" fill="rgb(255,18,18)"/>
<rect x="575.23" y="279.50" width="1.75" height="53.50" fill="rgb(255,11,11)"/>
<rect x="576.72" y="279.50" width="1.25" height="53.50" fill="rgb(255,48,48)"/>
<rect x="577.72" y="279.50" width="1.25" height="53.50" fill="rgb(255,41,41)"/>
<rect x="578.72" y="279.50" width="2.75" height="53.50" fill="rgb(255,51,51)"/>
<rect x="581.22" y="279.50" width="0.75" height="53.50" fill="rgb(255,16,16)"/>
<rect x="581.72" y="279.50" width="2.25" height="53.50" fill="rgb(255,49,49)"/>
<rect x="583.72" y="279.50" width="2.25" height="53.50" fill="rgb(255,30,30)"/>
<rect x="585.72" y="279.50" width="1.25" height="53.50" fill="rgb(255,21,21)"/>
<rect x="586.72" y="279.50" width="2.75" height="53.50" fill="rgb(255,50,50)"/>
<rect x="589.22" y="279.50" width="1.75" height="53.50" fill="rgb(255,37,37)"/>
<rect x="590.72" y="279.50" width="1.25" height="53.50" fill="rgb(255,46,46)"/>
<rect x="591.71" y="279.50" width="2.25" height="53.50" fill="rgb(255,21,21)"/>
<rect x="593.71" y="279.50" width="1.25" height="53.50" fill="rgb(255,10,10)"/>
<rect x="594.71" y="279.50" width="1.75" height="53.50" fill="rgb(255,11,11)"/>
<rect x="596.21" y="279.50" width="0.75" height="53.50" fill="rgb(255,9,9)"/>
<rect x="596.71" y="279.50" width="2.75" height="53.50" fill="rgb(255,17,17)"/>
<rect x="599.21" y="279.50" width="1.25" height="53.50" fill="rgb(255,27,27)"/>
<rect x="600.21" y="279.50" width="1.75" height="53.50" fill="rgb(255,35,35)"/>
<rect x="601.71" y="279.50" width="1.25" height="53.50" fill="rgb(255,27,27)"/>
<rect x="602.71" y="279.50" width="1.25" height="53.50" fill="rgb(255,18,18)"/>
<rect x="603.71" y="279.50" width="1.75" height="53.50" fill="rgb(255,20,20)"/>
<rect x="605.21" y="279.50" width="1.75" height="53.50" fill="rgb(255,38,38)"/>
<rect x="606.71" y="279.50" width="2.25" height="53.50" fill="rgb(255,27,27)"/>
<rect x="608.71" y="279.50" width="2.25" height="53.50" fill="rgb(255,17,17)"/>
<rect x="610.71" y="279.50" width="1.25" height="53.50" fill="rgb(255,31,31)"/>
<rect x="611.70" y="279.50" width="2.25" height="53.50" fill="rgb(255,24,24)"/>
<rect x="613.70" y="279.50" width="2.25" height="53.50" fill="rgb(255,14,14)"/>
<rect x="615.70" y="279.50" width="1.25" height="53.50" fill="rgb(255,38,38)"/>
<rect x="616.70" y="279.50" width="2.75" height="53.50" fill="rgb(255,31,31)"/>
<rect x="619.20" y="279.50" width="2.75" height="53.50" fill="rgb(255,22,22)"/>
<rect x="621.70" y="279.50" width="1.25" height="53.50" fill="rgb(255,25,25)"/>
<rect x="622.70" y="279.50" width="2.25" height="53.50" fill="rgb(255,8,8)"/>
<rect x="624.70" y="279.50" width="2.25" height="53.50" fill="rgb(255,42,42)"/>
<rect x="626.69" y="279.50" width="2.75" height="53.50" fill="rgb(255,48,48)"/>
<rect x="629.19" y="279.50" width="2.25" height="53.50" fill="rgb(255,36,36)"/>
<rect x="631.19" y="279.50" width="0.75" height="53.50" fill="rgb(255,52,52)"/>
<rect x="631.69" y="279.50" width="1.25" height="53.50" fill="rgb(255,11,11)"/>
<rect x="632.69" y="279.50" width="1.25" height="53.50" fill="rgb(255,28,28)"/>
<rect x="633.69" y="279.50" width="1.75" height="53.50" fill="rgb(255,48,48)"/>
<rect x="635.19" y="279.50" width="1.75" height="53.50" fill="rgb(255,42,42)"/>
<rect x="636.69" y="279.50" width="1.25" height="53.50" fill="rgb(255,36,36)"/>
<rect x="637.69" y="279.50" width="1.75" height="53.50" fill="rgb(255,34,34)"/>
<rect x="639.19" y="279.50" width="2.75" height="53.50" fill="rgb(255,21,21)"/>
<rect x="641.69" y="279.50" width="1.25" height="53.50" fill="rgb(255,13,13)"/>
<rect x="642.69" y="279.50" width="1.25" height="53.50" fill="rgb(255,49,49)"/>
<rect x="643.69" y="279.50" width="1.75" height="53.50" fill="rgb(255,33,33)"/>
<rect x="645.19" y="279.50" width="1.75" height="53.50" fill="rgb(255,23,23)"/>
<rect x="646.68" y="279.50" width="1.75" height="53.50" fill="rgb(255,49,49)"/>
<rect x="648.18" y="279.50" width="1.25" height="53.50" fill="rgb(255,44,44)"/>
<rect x="649.18" y="279.50" width="1.25" height="53.50" fill="rgb(255,36,36)"/>
<rect x="650.18" y="279.50" width="1.25" height="53.50" fill="rgb(255,35,35)"/>
<rect x="651.18" y="279.50" width="0.75" height="53.50" fill="rgb(255,14,14)"/>
<rect x="651.68" y="279.50" width="2.25" height="53.50" fill="rgb(255,14,14)"/>
<rect x="653.68" y="279.50" width="1.75" height="53.50" fill="rgb(255,42,42)"/>
<rect x="655.18" y="279.50" width="1.75" height="53.50" fill="rgb(255,10,10)"/>
<rect x="656.68" y="279.50" width="2.75" height="53.50" fill="rgb(255,26,26)"/>
<rect x="659.18" y="279.50" width="1.25" height="53.50" fill="rgb(255,48,48)"/>
<rect x="660.18" y="279.50" width="1.75" height="53.50" fill="rgb(255,50,50)"/>
<rect x="661.67" y="279.50" width="2.75" height="53.50" fill="rgb(255,35,35)"/>
<rect x="664.17" y="279.50" width="2.75" height="53.50" fill="rgb(255,32,32)"/>
<rect x="666.67" y="279.50" width="1.75" height="53.50" fill="rgb(255,8,8)"/>
<rect x="668.17" y="279.50" width="1.75" height="53.50" fill="rgb(255,9,9)"/>
<rect x="669.67" y="279.50" width="1.75" height="53.50" fill="rgb(255,43,43)"/>
<rect x="671.17" y="279.50" width="0.75" height="53.50" fill="rgb(255,38,38)"/>
<rect x="671.67" y="279.50" width="2.25" height="53.50" fill="rgb(255,18,18)"/>
<rect x="673.67" y="279.50" width="1.75" height="53.50" fill="rgb(255,19,19)"/>
<rect x="675.17" y="279.50" width="1.75" height="53.50" fill="rgb(255,12,12)"/>
<rect x="676.67" y="279.50" width="1.75" height="53.50" fill="rgb(255,60,60)"/>
<rect x="678.17" y="279.50" width="1.75" height="53.50" fill="rgb(255,99,99)"/>
<rect x="679.67" y="279.50" width="1.25" height="53.50" fill="rgb(255,101,101)"/>
<rect x="680.67" y="279.50" width="1.25" height="53.50" fill="rgb(255,105,105)"/>
<rect x="681.66" y="279.50" width="2.25" height="53.50" fill="rgb(255,45,45)"/>
<rect x="683.66" y="279.50" width="2.75" height="53.50" fill="rgb(255,28,28)"/>
<rect x="686.16" y="279.50" width="0.75" height="53.50" fill="rgb(255,40,40)"/>
<rect x="686.66" y="279.50" width="2.75" height="53.50" fill="rgb(255,65,65)"/>
<rect x="689.16" y="279.50" width="2.75" height="53.50" fill="rgb(255,57,57)"/>
<rect x="691.66" y="279.50" width="2.75" height="53.50" fill="rgb(255,105,105)"/>
<rect x="694.16" y="279.50" width="2.25" height="53.50" fill="rgb(255,74,74)"/>
<rect x="696.16" y="279.50" width="0.75" height="53.50" fill="rgb(255,119,119)"/>
<rect x="696.65" y="279.50" width="1.75" height="53.50" fill="rgb(255,105,105)"/>
<rect x="698.15" y="279.50" width="1.75" height="53.50" fill="rgb(255,71,71)"/>
<rect x="699.65" y="279.50" width="2.25" height="53.50" fill="rgb(255,120,120)"/>
<rect x="701.65" y="279.50" width="1.25" height="53.50" fill="rgb(255,177,177)"/>
<rect x="702.65" y="279.50" width="2.75" height="53.50" fill="rgb(255,147,147)"/>
<rect x="705.15" y="279.50" width="1.25" height="53.50" fill="rgb(255,160,160)"/>
<rect x="706.15" y="279.50" width="0.75" height="53.50" fill="rgb(255,152,152)"/>
<rect x="706.65" y="279.50" width="2.75" height="53.50" fill="rgb(255,77,77)"/>
<rect x="709.15" y="279.50" width="2.75" height="53.50" fill="rgb(255,63,63)"/>
<rect x="711.65" y="279.50" width="2.75" height="53.50" fill="rgb(255,213,213)"/>
<rect x="714.15" y="279.50" width="2.25" height="53.50" fill="rgb(254,222,223)"/>
<rect x="716.15" y="279.50" width="0.75" height="53.50" fill="rgb(255,214,214)"/>
<rect x="716.64" y="279.50" width="2.25" height="53.50" fill="rgb(201,201,255)"/>
<rect x="718.64" y="279.50" width="2.25" height="53.50" fill="rgb(218,218,254)"/>
<rect x="720.64" y="279.50" width="1.25" height="53.50" fill="rgb(206,206,255)"/>
<rect x="721.64" y="279.50" width="1.75" height="53.50" fill="rgb(251,244,246)"/>
<rect x="723.14" y="279.50" width="2.75" height="53.50" fill="rgb(250,248,250)"/>
<rect x="725.64" y="279.50" width="1.25" height="53.50" fill="rgb(245,243,251)"/>
<rect x="726.64" y="279.50" width="2.75" height="53.50" fill="rgb(255,136,136)"/>
<rect x="729.14" y="279.50" width="1.25" height="53.50" fill="rgb(255,163,163)"/>
<rect x="730.14" y="279.50" width="1.75" height="53.50" fill="rgb(255,159,159)"/>
<rect x="731.63" y="279.50" width="1.75" height="53.50" fill="rgb(250,248,250)"/>
<rect x="733.13" y="279.50" width="2.25" height="53.50" fill="rgb(252,233,234)"/>
<rect x="735.13" y="279.50" width="1.75" height="53.50" fill="rgb(242,241,251)"/>
<rect x="736.63" y="279.50" width="2.75" height="53.50" fill="rgb(255,147,147)"/>
<rect x="739.13" y="279.50" width="1.25" height="53.50" fill="rgb(255,135,135)"/>
<rect x="740.13" y="279.50" width="1.25" height="53.50" fill="rgb(255,178,178)"/>
<rect x="741.13" y="279.50" width="0.75" height="53.50" fill="rgb(255,160,160)"/>
<rect x="741.63" y="279.50" width="1.75" height="53.50" fill="rgb(255,204,204)"/>
<rect x="743.13" y="279.50" width="1.25" height="53.50" fill="rgb(253,227,228)"/>
<rect x="744.13" y="279.50" width="1.25" height="53.50" fill="rgb(254,220,221)"/>
<rect x="745.13" y="279.50" width="1.25" height="53.50" fill="rgb(255,203,203)"/>
<rect x="746.13" y="279.50" width="0.75" height="53.50" fill="rgb(255,214,214)"/>
<rect x="746.63" y="279.50" width="2.25" height="53.50" fill="rgb(255,64,64)"/>
<rect x="748.63" y="279.50" width="1.75" height="53.50" fill="rgb(255,58,58)"/>
<rect x="750.13" y="279.50" width="1.25" height="53.50" fill="rgb(255,69,69)"/>
<rect x="751.13" y="279.50" width="0.75" height="53.50" fill="rgb(255,77,77)"/>
<rect x="751.62" y="279.50" width="2.25" height="53.50" fill="rgb(255,175,175)"/>
<rect x="753.62" y="279.50" width="1.75" height="53.50" fill="rgb(255,175,175)"/>
<rect x="755.12" y="279.50" width="1.75" height="53.50" fill="rgb(255,172,172)"/>
<rect x="756.62" y="279.50" width="1.25" height="53.50" fill="rgb(195,195,255)"/>
<rect x="757.62" y="279.50" width="2.75" height="53.50" fill="rgb(224,224,254)"/>
<rect x="760.12" y="279.50" width="1.25" height="53.50" fill="rgb(226,225,253)"/>
<rect x="761.12" y="279.50" width="0.75" height="53.50" fill="rgb(230,229,253)"/>
<rect x="761.62" y="279.50" width="2.25" height="53.50" fill="rgb(194,194,255)"/>
<rect x="763.62" y="279.50" width="1.25" height="53.50" fill="rgb(192,192,255)"/>
<rect x="764.62" y="279.50" width="2.25" height="53.50" fill="rgb(198,198,255)"/>
<rect x="766.61" y="279.50" width="1.25" height="53.50" fill="rgb(92,92,255)"/>
<rect x="767.61" y="279.50" width="1.75" height="53.50" fill="rgb(95,95,255)"/>
<rect x="769.11" y="279.50" width="2.75" height="53.50" fill="rgb(57,57,255)"/>
<rect x="771.61" y="279.50" width="1.75" height="53.50" fill="rgb(165,165,255)"/>
<rect x="773.11" y="279.50" width="1.25" height="53.50" fill="rgb(167,167,255)"/>
<rect x="774.11" y="279.50" width="1.25" height="53.50" fill="rgb(166,166,255)"/>
<rect x="775.11" y="279.50" width="1.25" height="53.50" fill="rgb(180,180,255)"/>
<rect x="776.11" y="279.50" width="0.75" height="53.50" fill="rgb(150,150,255)"/>
<rect x="776.61" y="279.50" width="2.75" height="53.50" fill="rgb(252,235,236)"/>
<rect x="779.11" y="279.50" width="1.75" height="53.50" fill="rgb(250,245,247)"/>
<rect x="780.61" y="279.50" width="1.25" height="53.50" fill="rgb(251,244,245)"/>
<rect x="781.61" y="279.50" width="1.75" height="53.50" fill="rgb(250,248,250)"/>
<rect x="783.11" y="279.50" width="2.25" height="53.50" fill="rgb(240,238,251)"/>
<rect x="785.11" y="279.50" width="1.75" height="53.50" fill="rgb(252,234,235)"/>
<rect x="786.60" y="279.50" width="1.75" height="53.50" fill="rgb(255,178,178)"/>
<rect x="788.10" y="279.50" width="1.75" height="53.50" fill="rgb(255,184,184)"/>
<rect x="789.60" y="279.50" width="1.75" height="53.50" fill="rgb(255,187,187)"/>
<rect x="791.10" y="279.50" width="0.75" height="53.50" fill="rgb(255,157,157)"/>
<path d="M93.3 59.7L94.0 59.7M93.3 59.7L93.3 66.0M94.0 59.7L94.0 66.0M95.1 61.8L96.0 61.8M95.1 61.8L95.1 66.0M96.0 61.8L96.0 66.0M93.7 60.0L95.6 60.0M93.7 60.0L93.7 60.0M95.6 60.0L95.6 61.8M92.5 56.9L94.6 56.9M92.5 56.9L92.5 66.0M94.6 56.9L94.6 60.0M100.2 60.4L100.9 60.4M100.2 60.4L100.2 66.0M100.9 60.4L100.9 66.0M99.4 60.2L100.5 60.2M99.4 60.2L99.4 66.0M100.5 60.2L100.5 60.4M98.5 59.9L100.0 59.9M98.5 59.9L98.5 66.0M100.0 59.9L100.0 60.2M97.1 56.9L99.2 56.9M97.1 56.9L97.1 66.0M99.2 56.9L99.2 59.9M101.7 58.7L102.6 58.7M101.7 58.7L101.7 66.0M102.6 58.7L102.6 66.0M98.2 56.8L102.2 56.8M98.2 56.8L98.2 56.9M102.2 56.8L102.2 58.7M103.3 59.3L104.2 59.3M103.3 59.3L103.3 66.0M104.2 59.3L104.2 66.0M100.2 55.5L103.8 55.5M100.2 55.5L100.2 56.8M103.8 55.5L103.8 59.3M105.3 59.8L106.1 59.8M105.3 59.8L105.3 66.0M106.1 59.8L106.1 66.0M106.9 60.6L107.8 60.6M106.9 60.6L106.9 66.0M107.8 60.6L107.8 66.0M107.3 60.1L108.8 60.1M107.3 60.1L107.3 60.6M108.8 60.1L108.8 66.0M105.7 58.7L108.0 58.7M105.7 58.7L105.7 59.8M108.0 58.7L108.0 60.1M109.6 60.1L110.4 60.1M109.6 60.1L109.6 66.0M110.4 60.1L110.4 66.0M110.0 60.6L111.3 60.6M110.0 60.6L110.0 60.6M111.3 60.6L111.3 66.0M106.9 57.2L110.6 57.2M106.9 57.2L106.9 58.7M110.6 57.2L110.6 60.6M102.0 55.5L108.8 55.5M102.0 55.5L102.0 55.5M108.8 55.5L108.8 57.2M93.6 55.2L105.4 55.2M93.6 55.2L93.6 56.9M105.4 55.2L105.4 55.5M112.4 61.0L113.2 61.0M112.4 61.0L112.4 66.0M113.2 61.0L113.2 66.0M114.1 59.5L115.3 59.5M114.1 59.5L114.1 66.0M115.3 59.5L115.3 66.0M116.3 62.3L117.0 62.3M116.3 62.3L116.3 66.0M117.0 62.3L117.0 66.0M114.7 59.0L116.7 59.0M114.7 59.0L114.7 59.5M116.7 59.0L116.7 62.3M117.6 61.4L118.3 61.4M117.6 61.4L117.6 66.0M118.3 61.4L118.3 66.0M115.7 57.4L117.9 57.4M115.7 57.4L115.7 59.0M117.9 57.4L117.9 61.4M112.8 58.1L116.8 58.1M112.8 58.1L112.8 61.0M116.8 58.1L116.8 58.1M119.0 61.2L119.8 61.2M119.0 61.2L119.0 66.0M119.8 61.2L119.8 66.0M119.4 59.0L120.6 59.0M119.4 59.0L119.4 61.2M120.6 59.0L120.6 66.0M121.1 60.5L121.9 60.5M121.1 60.5L121.1 66.0M121.9 60.5L121.9 66.0M120.0 60.3L121.5 60.3M120.0 60.3L120.0 60.3M121.5 60.3L121.5 60.5M124.7 61.2L125.7 61.2M124.7 61.2L124.7 66.0M125.7 61.2L125.7 66.0M123.8 58.3L125.2 58.3M123.8 58.3L123.8 66.0M125.2 58.3L125.2 61.2M123.0 59.6L124.5 59.6M123.0 59.6L123.0 66.0M124.5 59.6L124.5 59.6M126.9 61.2L128.0 61.2M126.9 61.2L126.9 66.0M128.0 61.2L128.0 66.0M128.8 61.8L129.7 61.8M128.8 61.8L128.8 66.0M129.7 61.8L129.7 66.0M131.1 60.6L131.9 60.6M131.1 60.6L131.1 66.0M131.9 60.6L131.9 66.0M130.5 58.9L131.5 58.9M130.5 58.9L130.5 66.0M131.5 58.9L131.5 60.6M131.0 58.0L132.7 58.0M131.0 58.0L131.0 58.9M132.7 58.0L132.7 66.0M129.2 58.0L131.8 58.0M129.2 58.0L129.2 61.8M131.8 58.0L131.8 58.0M133.6 59.2L134.6 59.2M133.6 59.2L133.6 66.0M134.6 59.2L134.6 66.0M130.5 58.8L134.1 58.8M130.5 58.8L130.5 58.8M134.1 58.8L134.1 59.2M127.4 56.8L132.3 56.8M127.4 56.8L127.4 61.2M132.3 56.8L132.3 58.8M123.8 55.0L129.9 55.0M123.8 55.0L123.8 59.6M129.9 55.0L129.9 56.8M120.8 56.5L126.8 56.5M120.8 56.5L120.8 60.3M126.8 56.5L126.8 56.5M114.8 55.1L123.8 55.1M114.8 55.1L114.8 58.1M123.8 55.1L123.8 56.5M135.5 60.6L136.4 60.6M135.5 60.6L135.5 66.0M136.4 60.6L136.4 66.0M136.0 60.3L137.2 60.3M136.0 60.3L136.0 60.6M137.2 60.3L137.2 66.0M138.0 61.8L138.7 61.8M138.0 61.8L138.0 66.0M138.7 61.8L138.7 66.0M138.4 61.0L139.2 61.0M138.4 61.0L138.4 61.8M139.2 61.0L139.2 66.0M138.8 57.4L140.1 57.4M138.8 57.4L138.8 61.0M140.1 57.4L140.1 66.0M136.6 58.0L139.4 58.0M136.6 58.0L136.6 60.3M139.4 58.0L139.4 58.0M141.7 59.0L142.6 59.0M141.7 59.0L141.7 66.0M142.6 59.0L142.6 66.0M141.1 58.0L142.2 58.0M141.1 58.0L141.1 66.0M142.2 58.0L142.2 59.0M144.7 61.7L145.5 61.7M144.7 61.7L144.7 66.0M145.5 61.7L145.5 66.0M144.2 59.2L145.1 59.2M144.2 59.2L144.2 66.0M145.1 59.2L145.1 61.7M143.6 58.0L144.7 58.0M143.6 58.0L143.6 66.0M144.7 58.0L144.7 59.2M147.4 59.3L148.2 59.3M147.4 59.3L147.4 66.0M148.2 59.3L148.2 66.0M146.6 59.1L147.8 59.1M146.6 59.1L146.6 66.0M147.8 59.1L147.8 59.3M149.3 61.9L150.2 61.9M149.3 61.9L149.3 66.0M150.2 61.9L150.2 66.0M147.2 57.2L149.8 57.2M147.2 57.2L147.2 59.1M149.8 57.2L149.8 61.9M144.1 55.8L148.5 55.8M144.1 55.8L144.1 58.0M148.5 55.8L148.5 57.2M141.6 57.2L146.3 57.2M141.6 57.2L141.6 58.0M146.3 57.2L146.3 57.2M150.8 59.9L151.6 59.9M150.8 59.9L150.8 66.0M151.6 59.9L151.6 66.0M153.4 58.3L154.6 58.3M153.4 58.3L153.4 66.0M154.6 58.3L154.6 66.0M152.4 60.5L154.0 60.5M152.4 60.5L152.4 66.0M154.0 60.5L154.0 60.5M153.2 57.1L155.9 57.1M153.2 57.1L153.2 60.5M155.9 57.1L155.9 66.0M151.2 56.3L154.5 56.3M151.2 56.3L151.2 59.9M154.5 56.3L154.5 57.1M157.2 61.0L158.1 61.0M157.2 61.0L157.2 66.0M158.1 61.0L158.1 66.0M158.7 60.0L159.5 60.0M158.7 60.0L158.7 66.0M159.5 60.0L159.5 66.0M157.7 60.4L159.1 60.4M157.7 60.4L157.7 61.0M159.1 60.4L159.1 60.4M161.6 60.8L162.7 60.8M161.6 60.8L161.6 66.0M162.7 60.8L162.7 66.0M160.5 59.9L162.1 59.9M160.5 59.9L160.5 66.0M162.1 59.9L162.1 60.8M158.4 55.9L161.3 55.9M158.4 55.9L158.4 60.4M161.3 55.9L161.3 59.9M152.9 56.2L159.9 56.2M152.9 56.2L152.9 56.3M159.9 56.2L159.9 56.2M144.0 54.9L156.4 54.9M144.0 54.9L144.0 57.2M156.4 54.9L156.4 56.2M138.0 54.5L150.2 54.5M138.0 54.5L138.0 58.0M150.2 54.5L150.2 54.9M119.3 54.6L144.1 54.6M119.3 54.6L119.3 55.1M144.1 54.6L144.1 54.6M163.5 60.3L164.4 60.3M163.5 60.3L163.5 66.0M164.4 60.3L164.4 66.0M164.0 60.2L165.4 60.2M164.0 60.2L164.0 60.3M165.4 60.2L165.4 66.0M164.7 59.7L166.4 59.7M164.7 59.7L164.7 60.2M166.4 59.7L166.4 66.0M167.3 58.8L168.2 58.8M167.3 58.8L167.3 66.0M168.2 58.8L168.2 66.0M165.6 59.5L167.7 59.5M165.6 59.5L165.6 59.7M167.7 59.5L167.7 59.5M169.0 61.0L169.9 61.0M169.0 61.0L169.0 66.0M169.9 61.0L169.9 66.0M171.8 59.1L172.8 59.1M171.8 59.1L171.8 66.0M172.8 59.1L172.8 66.0M171.0 58.2L172.3 58.2M171.0 58.2L171.0 66.0M172.3 58.2L172.3 59.1M171.6 58.2L173.9 58.2M171.6 58.2L171.6 58.2M173.9 58.2L173.9 66.0M172.7 59.7L174.9 59.7M172.7 59.7L172.7 59.7M174.9 59.7L174.9 66.0M175.9 62.1L176.6 62.1M175.9 62.1L175.9 66.0M176.6 62.1L176.6 66.0M173.8 57.4L176.3 57.4M173.8 57.4L173.8 59.7M176.3 57.4L176.3 62.1M169.4 56.3L175.0 56.3M169.4 56.3L169.4 61.0M175.0 56.3L175.0 57.4M166.6 55.2L172.2 55.2M166.6 55.2L166.6 59.5M172.2 55.2L172.2 56.3M131.7 52.0L169.4 52.0M131.7 52.0L131.7 54.6M169.4 52.0L169.4 55.2M99.5 52.8L150.6 52.8M99.5 52.8L99.5 55.2M150.6 52.8L150.6 52.8M179.9 60.2L180.7 60.2M179.9 60.2L179.9 66.0M180.7 60.2L180.7 66.0M178.7 60.3L180.3 60.3M178.7 60.3L178.7 66.0M180.3 60.3L180.3 60.3M177.6 59.5L179.5 59.5M177.6 59.5L177.6 66.0M179.5 59.5L179.5 60.3M181.4 61.4L182.4 61.4M181.4 61.4L181.4 66.0M182.4 61.4L182.4 66.0M178.5 57.6L181.9 57.6M178.5 57.6L178.5 59.5M181.9 57.6L181.9 61.4M183.7 58.9L184.7 58.9M183.7 58.9L183.7 66.0M184.7 58.9L184.7 66.0M180.2 58.1L184.2 58.1M180.2 58.1L180.2 58.1M184.2 58.1L184.2 58.9M185.7 61.4L186.4 61.4M185.7 61.4L185.7 66.0M186.4 61.4L186.4 66.0M186.8 59.2L187.5 59.2M186.8 59.2L186.8 66.0M187.5 59.2L187.5 66.0M188.4 62.0L189.3 62.0M188.4 62.0L188.4 66.0M189.3 62.0L189.3 66.0M188.8 60.5L189.9 60.5M188.8 60.5L188.8 62.0M189.9 60.5L189.9 66.0M187.1 58.9L189.4 58.9M187.1 58.9L187.1 59.2M189.4 58.9L189.4 60.5M186.0 59.2L188.2 59.2M186.0 59.2L186.0 61.4M188.2 59.2L188.2 59.2M190.5 61.7L191.4 61.7M190.5 61.7L190.5 66.0M191.4 61.7L191.4 66.0M187.1 58.5L190.9 58.5M187.1 58.5L187.1 59.2M190.9 58.5L190.9 61.7M192.1 60.5L192.8 60.5M192.1 60.5L192.1 66.0M192.8 60.5L192.8 66.0M194.5 59.9L195.5 59.9M194.5 59.9L194.5 66.0M195.5 59.9L195.5 66.0M193.7 60.6L195.0 60.6M193.7 60.6L193.7 66.0M195.0 60.6L195.0 60.6M192.5 58.7L194.4 58.7M192.5 58.7L192.5 60.5M194.4 58.7L194.4 60.6M196.6 60.2L197.6 60.2M196.6 60.2L196.6 66.0M197.6 60.2L197.6 66.0M198.7 58.0L199.9 58.0M198.7 58.0L198.7 66.0M199.9 58.0L199.9 66.0M197.1 59.8L199.3 59.8M197.1 59.8L197.1 60.2M199.3 59.8L199.3 59.8M200.7 61.5L201.5 61.5M200.7 61.5L200.7 66.0M201.5 61.5L201.5 66.0M202.5 60.1L203.4 60.1M202.5 60.1L202.5 66.0M203.4 60.1L203.4 66.0M201.1 57.7L202.9 57.7M201.1 57.7L201.1 61.5M202.9 57.7L202.9 60.1M198.2 58.5L202.0 58.5M198.2 58.5L198.2 59.8M202.0 58.5L202.0 58.5M193.4 55.6L200.1 55.6M193.4 55.6L193.4 58.7M200.1 55.6L200.1 58.5M206.0 61.0L207.0 61.0M206.0 61.0L206.0 66.0M207.0 61.0L207.0 66.0M204.8 58.9L206.5 58.9M204.8 58.9L204.8 66.0M206.5 58.9L206.5 61.0M208.3 60.1L209.0 60.1M208.3 60.1L208.3 66.0M209.0 60.1L209.0 66.0M207.7 60.3L208.6 60.3M207.7 60.3L207.7 66.0M208.6 60.3L208.6 60.3M205.6 58.1L208.2 58.1M205.6 58.1L205.6 58.9M208.2 58.1L208.2 60.3M196.8 54.7L206.9 54.7M196.8 54.7L196.8 55.6M206.9 54.7L206.9 58.1M189.0 53.9L201.8 53.9M189.0 53.9L189.0 58.5M201.8 53.9L201.8 54.7M182.2 55.1L195.4 55.1M182.2 55.1L182.2 58.1M195.4 55.1L195.4 55.1M209.9 60.5L210.7 60.5M209.9 60.5L209.9 66.0M210.7 60.5L210.7 66.0M211.6 62.0L212.4 62.0M211.6 62.0L211.6 66.0M212.4 62.0L212.4 66.0M210.3 59.5L212.0 59.5M210.3 59.5L210.3 60.5M212.0 59.5L212.0 62.0M213.4 59.8L214.2 59.8M213.4 59.8L213.4 66.0M214.2 59.8L214.2 66.0M213.8 60.7L214.9 60.7M213.8 60.7L213.8 60.7M214.9 60.7L214.9 66.0M211.1 57.7L214.4 57.7M211.1 57.7L211.1 59.5M214.4 57.7L214.4 60.7M216.0 61.5L217.0 61.5M216.0 61.5L216.0 66.0M217.0 61.5L217.0 66.0M212.8 57.0L216.5 57.0M212.8 57.0L212.8 57.7M216.5 57.0L216.5 61.5M220.9 61.4L221.9 61.4M220.9 61.4L220.9 66.0M221.9 61.4L221.9 66.0M219.9 60.0L221.4 60.0M219.9 60.0L219.9 66.0M221.4 60.0L221.4 61.4M219.2 57.9L220.7 57.9M219.2 57.9L219.2 66.0M220.7 57.9L220.7 60.0M218.1 57.9L219.9 57.9M218.1 57.9L218.1 66.0M219.9 57.9L219.9 57.9M223.3 59.6L224.0 59.6M223.3 59.6L223.3 66.0M224.0 59.6L224.0 66.0M222.6 60.7L223.7 60.7M222.6 60.7L222.6 66.0M223.7 60.7L223.7 60.7M219.0 56.2L223.1 56.2M219.0 56.2L219.0 57.9M223.1 56.2L223.1 60.7M214.6 56.9L221.1 56.9M214.6 56.9L214.6 57.0M221.1 56.9L221.1 56.9M224.7 60.2L225.6 60.2M224.7 60.2L224.7 66.0M225.6 60.2L225.6 66.0M227.5 59.4L228.6 59.4M227.5 59.4L227.5 66.0M228.6 59.4L228.6 66.0M226.6 58.9L228.0 58.9M226.6 58.9L226.6 66.0M228.0 58.9L228.0 59.4M227.3 59.8L229.4 59.8M227.3 59.8L227.3 59.8M229.4 59.8L229.4 66.0M225.2 59.4L228.4 59.4M225.2 59.4L225.2 60.2M228.4 59.4L228.4 59.8M230.1 59.4L231.2 59.4M230.1 59.4L230.1 66.0M231.2 59.4L231.2 66.0M226.8 58.9L230.6 58.9M226.8 58.9L226.8 59.4M230.6 58.9L230.6 59.4M217.8 55.3L228.7 55.3M217.8 55.3L217.8 56.9M228.7 55.3L228.7 58.9M188.8 54.6L223.3 54.6M188.8 54.6L188.8 55.1M223.3 54.6L223.3 55.3M232.3 60.6L233.1 60.6M232.3 60.6L232.3 66.0M233.1 60.6L233.1 66.0M234.0 62.4L234.7 62.4M234.0 62.4L234.0 66.0M234.7 62.4L234.7 66.0M238.3 61.8L239.2 61.8M238.3 61.8L238.3 66.0M239.2 61.8L239.2 66.0M237.4 58.1L238.7 58.1M237.4 58.1L237.4 66.0M238.7 58.1L238.7 61.8M236.6 59.8L238.1 59.8M236.6 59.8L236.6 66.0M238.1 59.8L238.1 59.8M235.6 57.4L237.3 57.4M235.6 57.4L235.6 66.0M237.3 57.4L237.3 59.8M234.4 59.3L236.5 59.3M234.4 59.3L234.4 62.4M236.5 59.3L236.5 59.3M232.7 56.6L235.4 56.6M232.7 56.6L232.7 60.6M235.4 56.6L235.4 59.3M241.2 58.8L242.1 58.8M241.2 58.8L241.2 66.0M242.1 58.8L242.1 66.0M243.3 60.4L244.1 60.4M243.3 60.4L243.3 66.0M244.1 60.4L244.1 66.0M241.7 59.6L243.7 59.6M241.7 59.6L241.7 59.6M243.7 59.6L243.7 60.4M240.3 59.6L242.7 59.6M240.3 59.6L240.3 66.0M242.7 59.6L242.7 59.6M245.3 61.6L246.1 61.6M245.3 61.6L245.3 66.0M246.1 61.6L246.1 66.0M244.6 61.4L245.7 61.4M244.6 61.4L244.6 66.0M245.7 61.4L245.7 61.6M241.5 56.6L245.2 56.6M241.5 56.6L241.5 59.6M245.2 56.6L245.2 61.4M234.1 55.8L243.3 55.8M234.1 55.8L234.1 56.6M243.3 55.8L243.3 56.6M247.3 60.0L248.1 60.0M247.3 60.0L247.3 66.0M248.1 60.0L248.1 66.0M246.7 61.2L247.7 61.2M246.7 61.2L246.7 66.0M247.7 61.2L247.7 61.2M250.3 59.0L251.4 59.0M250.3 59.0L250.3 66.0M251.4 59.0L251.4 66.0M249.2 57.6L250.9 57.6M249.2 57.6L249.2 66.0M250.9 57.6L250.9 59.0M253.6 59.8L254.4 59.8M253.6 59.8L253.6 66.0M254.4 59.8L254.4 66.0M253.0 58.8L254.0 58.8M253.0 58.8L253.0 66.0M254.0 58.8L254.0 59.8M252.3 58.0L253.5 58.0M252.3 58.0L252.3 66.0M253.5 58.0L253.5 58.8M250.0 59.1L252.9 59.1M250.0 59.1L250.0 59.1M252.9 59.1L252.9 59.1M247.2 58.2L251.5 58.2M247.2 58.2L247.2 61.2M251.5 58.2L251.5 59.1M238.7 53.5L249.3 53.5M238.7 53.5L238.7 55.8M249.3 53.5L249.3 58.2M206.1 52.9L244.0 52.9M206.1 52.9L206.1 54.6M244.0 52.9L244.0 53.5M125.0 51.0L225.0 51.0M125.0 51.0L125.0 52.8M225.0 51.0L225.0 52.9M256.6 60.1L257.5 60.1M256.6 60.1L256.6 66.0M257.5 60.1L257.5 66.0M257.0 58.4L258.0 58.4M257.0 58.4L257.0 60.1M258.0 58.4L258.0 66.0M255.4 58.8L257.5 58.8M255.4 58.8L255.4 66.0M257.5 58.8L257.5 58.8M258.8 61.3L259.7 61.3M258.8 61.3L258.8 66.0M259.7 61.3L259.7 66.0M256.5 58.1L259.2 58.1M256.5 58.1L256.5 58.8M259.2 58.1L259.2 61.3M261.8 61.1L262.5 61.1M261.8 61.1L261.8 66.0M262.5 61.1L262.5 66.0M260.7 60.5L262.1 60.5M260.7 60.5L260.7 66.0M262.1 60.5L262.1 61.1M263.2 60.0L264.0 60.0M263.2 60.0L263.2 66.0M264.0 60.0L264.0 66.0M261.4 60.0L263.6 60.0M261.4 60.0L261.4 60.5M263.6 60.0L263.6 60.0M269.0 61.2L269.8 61.2M269.0 61.2L269.0 66.0M269.8 61.2L269.8 66.0M268.2 61.1L269.4 61.1M268.2 61.1L268.2 66.0M269.4 61.1L269.4 61.2M267.4 57.8L268.8 57.8M267.4 57.8L267.4 66.0M268.8 57.8L268.8 61.1M266.3 59.2L268.1 59.2M266.3 59.2L266.3 66.0M268.1 59.2L268.1 59.2M265.1 56.6L267.2 56.6M265.1 56.6L265.1 66.0M267.2 56.6L267.2 59.2M262.5 56.8L266.2 56.8M262.5 56.8L262.5 60.0M266.2 56.8L266.2 56.8M257.9 54.3L264.3 54.3M257.9 54.3L257.9 58.1M264.3 54.3L264.3 56.8M271.3 61.5L272.4 61.5M271.3 61.5L271.3 66.0M272.4 61.5L272.4 66.0M270.5 58.9L271.8 58.9M270.5 58.9L270.5 66.0M271.8 58.9L271.8 61.5M275.6 60.2L276.4 60.2M275.6 60.2L275.6 66.0M276.4 60.2L276.4 66.0M274.9 59.0L276.0 59.0M274.9 59.0L274.9 66.0M276.0 59.0L276.0 60.2M273.8 60.1L275.5 60.1M273.8 60.1L273.8 66.0M275.5 60.1L275.5 60.1M274.6 58.2L277.6 58.2M274.6 58.2L274.6 60.1M277.6 58.2L277.6 66.0M271.2 57.0L276.1 57.0M271.2 57.0L271.2 58.9M276.1 57.0L276.1 58.2M278.8 60.1L279.6 60.1M278.8 60.1L278.8 66.0M279.6 60.1L279.6 66.0M278.3 59.1L279.2 59.1M278.3 59.1L278.3 66.0M279.2 59.1L279.2 60.1M283.2 60.0L284.3 60.0M283.2 60.0L283.2 66.0M284.3 60.0L284.3 66.0M282.0 57.9L283.8 57.9M282.0 57.9L282.0 66.0M283.8 57.9L283.8 60.0M280.8 56.6L282.9 56.6M280.8 56.6L280.8 66.0M282.9 56.6L282.9 57.9M278.8 57.5L281.8 57.5M278.8 57.5L278.8 59.1M281.8 57.5L281.8 57.5M286.7 59.3L287.6 59.3M286.7 59.3L286.7 66.0M287.6 59.3L287.6 66.0M285.4 58.6L287.1 58.6M285.4 58.6L285.4 66.0M287.1 58.6L287.1 59.3M288.3 60.9L289.1 60.9M288.3 60.9L288.3 66.0M289.1 60.9L289.1 66.0M286.3 59.5L288.7 59.5M286.3 59.5L286.3 59.5M288.7 59.5L288.7 60.9M290.5 61.9L291.2 61.9M290.5 61.9L290.5 66.0M291.2 61.9L291.2 66.0M290.8 60.6L291.7 60.6M290.8 60.6L290.8 61.9M291.7 60.6L291.7 66.0M289.7 60.7L291.3 60.7M289.7 60.7L289.7 66.0M291.3 60.7L291.3 60.7M287.5 57.9L290.5 57.9M287.5 57.9L287.5 59.5M290.5 57.9L290.5 60.7M280.3 56.1L289.0 56.1M280.3 56.1L280.3 57.5M289.0 56.1L289.0 57.9M273.6 54.4L284.6 54.4M273.6 54.4L273.6 57.0M284.6 54.4L284.6 56.1M261.1 52.7L279.1 52.7M261.1 52.7L261.1 54.3M279.1 52.7L279.1 54.4M292.5 60.7L293.5 60.7M292.5 60.7L292.5 66.0M293.5 60.7L293.5 66.0M294.2 59.0L295.0 59.0M294.2 59.0L294.2 66.0M295.0 59.0L295.0 66.0M293.0 60.1L294.6 60.1M293.0 60.1L293.0 60.7M294.6 60.1L294.6 60.1M295.8 60.0L296.6 60.0M295.8 60.0L295.8 66.0M296.6 60.0L296.6 66.0M293.8 59.1L296.2 59.1M293.8 59.1L293.8 60.1M296.2 59.1L296.2 60.0M299.2 60.6L300.2 60.6M299.2 60.6L299.2 66.0M300.2 60.6L300.2 66.0M301.1 58.6L302.0 58.6M301.1 58.6L301.1 66.0M302.0 58.6L302.0 66.0M299.7 59.0L301.5 59.0M299.7 59.0L299.7 60.6M301.5 59.0L301.5 59.0M297.9 59.1L300.6 59.1M297.9 59.1L297.9 66.0M300.6 59.1L300.6 59.1M295.0 57.8L299.3 57.8M295.0 57.8L295.0 59.1M299.3 57.8L299.3 59.1M303.8 62.1L304.7 62.1M303.8 62.1L303.8 66.0M304.7 62.1L304.7 66.0M304.2 58.4L305.4 58.4M304.2 58.4L304.2 62.1M305.4 58.4L305.4 66.0M302.9 58.0L304.8 58.0M302.9 58.0L302.9 66.0M304.8 58.0L304.8 58.4M306.4 59.7L307.3 59.7M306.4 59.7L306.4 66.0M307.3 59.7L307.3 66.0M303.8 57.1L306.9 57.1M303.8 57.1L303.8 58.0M306.9 57.1L306.9 59.7M308.4 60.7L309.3 60.7M308.4 60.7L308.4 66.0M309.3 60.7L309.3 66.0M310.1 58.8L311.1 58.8M310.1 58.8L310.1 66.0M311.1 58.8L311.1 66.0M308.9 59.3L310.6 59.3M308.9 59.3L308.9 60.7M310.6 59.3L310.6 59.3M305.3 55.4L309.7 55.4M305.3 55.4L305.3 57.1M309.7 55.4L309.7 59.3M311.9 58.8L312.8 58.8M311.9 58.8L311.9 66.0M312.8 58.8L312.8 66.0M312.3 58.8L313.6 58.8M312.3 58.8L312.3 58.8M313.6 58.8L313.6 66.0M314.5 61.4L315.3 61.4M314.5 61.4L314.5 66.0M315.3 61.4L315.3 66.0M315.9 59.4L316.7 59.4M315.9 59.4L315.9 66.0M316.7 59.4L316.7 66.0M317.6 59.8L318.3 59.8M317.6 59.8L317.6 66.0M318.3 59.8L318.3 66.0M316.3 59.0L318.0 59.0M316.3 59.0L316.3 59.4M318.0 59.0L318.0 59.8M318.7 60.6L319.4 60.6M318.7 60.6L318.7 66.0M319.4 60.6L319.4 66.0M319.1 61.6L320.2 61.6M319.1 61.6L319.1 61.6M320.2 61.6L320.2 66.0M317.1 57.4L319.6 57.4M317.1 57.4L317.1 59.0M319.6 57.4L319.6 61.6M314.9 56.8L318.4 56.8M314.9 56.8L314.9 61.4M318.4 56.8L318.4 57.4M313.0 56.1L316.6 56.1M313.0 56.1L313.0 58.8M316.6 56.1L316.6 56.8M307.5 55.7L314.8 55.7M307.5 55.7L307.5 55.7M314.8 55.7L314.8 56.1M321.6 60.5L322.6 60.5M321.6 60.5L321.6 66.0M322.6 60.5L322.6 66.0M320.9 60.8L322.1 60.8M320.9 60.8L320.9 66.0M322.1 60.8L322.1 60.8M324.7 60.4L325.6 60.4M324.7 60.4L324.7 66.0M325.6 60.4L325.6 66.0M325.1 58.5L326.1 58.5M325.1 58.5L325.1 60.4M326.1 58.5L326.1 66.0M323.7 59.1L325.6 59.1M323.7 59.1L323.7 66.0M325.6 59.1L325.6 59.1M321.5 57.0L324.6 57.0M321.5 57.0L321.5 60.8M324.6 57.0L324.6 59.1M326.7 61.5L327.6 61.5M326.7 61.5L326.7 66.0M327.6 61.5L327.6 66.0M327.1 60.1L328.6 60.1M327.1 60.1L327.1 61.5M328.6 60.1L328.6 66.0M323.1 58.6L327.9 58.6M323.1 58.6L323.1 58.6M327.9 58.6L327.9 60.1M311.2 55.8L325.5 55.8M311.2 55.8L311.2 55.8M325.5 55.8L325.5 58.6M297.1 54.4L318.3 54.4M297.1 54.4L297.1 57.8M318.3 54.4L318.3 55.8M270.1 52.0L307.7 52.0M270.1 52.0L270.1 52.7M307.7 52.0L307.7 54.4M329.2 59.8L330.1 59.8M329.2 59.8L329.2 66.0M330.1 59.8L330.1 66.0M331.2 61.2L332.2 61.2M331.2 61.2L331.2 66.0M332.2 61.2L332.2 66.0M329.7 57.9L331.7 57.9M329.7 57.9L329.7 59.8M331.7 57.9L331.7 61.2M333.4 59.8L334.2 59.8M333.4 59.8L333.4 66.0M334.2 59.8L334.2 66.0M333.8 60.6L334.7 60.6M333.8 60.6L333.8 60.6M334.7 60.6L334.7 66.0M334.3 57.8L335.4 57.8M334.3 57.8L334.3 60.6M335.4 57.8L335.4 66.0M336.2 58.9L337.1 58.9M336.2 58.9L336.2 66.0M337.1 58.9L337.1 66.0M338.6 61.8L339.5 61.8M338.6 61.8L338.6 66.0M339.5 61.8L339.5 66.0M337.9 60.8L339.0 60.8M337.9 60.8L337.9 66.0M339.0 60.8L339.0 61.8M336.6 58.2L338.5 58.2M336.6 58.2L336.6 58.9M338.5 58.2L338.5 60.8M337.6 58.3L340.5 58.3M337.6 58.3L337.6 58.3M340.5 58.3L340.5 66.0M341.7 58.5L342.9 58.5M341.7 58.5L341.7 66.0M342.9 58.5L342.9 66.0M343.9 62.3L344.6 62.3M343.9 62.3L343.9 66.0M344.6 62.3L344.6 66.0M344.3 61.2L345.2 61.2M344.3 61.2L344.3 62.3M345.2 61.2L345.2 66.0M346.1 58.5L347.1 58.5M346.1 58.5L346.1 66.0M347.1 58.5L347.1 66.0M346.6 59.6L347.8 59.6M346.6 59.6L346.6 59.6M347.8 59.6L347.8 66.0M344.7 59.8L347.2 59.8M344.7 59.8L344.7 61.2M347.2 59.8L347.2 59.8M342.3 56.6L346.0 56.6M342.3 56.6L342.3 58.5M346.0 56.6L346.0 59.8M339.0 56.0L344.1 56.0M339.0 56.0L339.0 58.3M344.1 56.0L344.1 56.6M334.9 56.8L341.6 56.8M334.9 56.8L334.9 57.8M341.6 56.8L341.6 56.8M330.7 55.5L338.2 55.5M330.7 55.5L330.7 57.9M338.2 55.5L338.2 56.8M348.6 59.2L349.8 59.2M348.6 59.2L348.6 66.0M349.8 59.2L349.8 66.0M349.2 57.8L350.8 57.8M349.2 57.8L349.2 59.2M350.8 57.8L350.8 66.0M351.6 60.0L352.4 60.0M351.6 60.0L351.6 66.0M352.4 60.0L352.4 66.0M352.0 59.3L352.9 59.3M352.0 59.3L352.0 60.0M352.9 59.3L352.9 66.0M353.4 59.3L354.2 59.3M353.4 59.3L353.4 66.0M354.2 59.3L354.2 66.0M355.1 62.1L355.8 62.1M355.1 62.1L355.1 66.0M355.8 62.1L355.8 66.0M353.8 58.6L355.4 58.6M353.8 58.6L353.8 59.3M355.4 58.6L355.4 62.1M352.4 58.8L354.6 58.8M352.4 58.8L352.4 59.3M354.6 58.8L354.6 58.8M350.0 55.6L353.5 55.6M350.0 55.6L350.0 57.8M353.5 55.6L353.5 58.8M356.7 59.3L357.5 59.3M356.7 59.3L356.7 66.0M357.5 59.3L357.5 66.0M357.1 61.5L358.2 61.5M357.1 61.5L357.1 61.5M358.2 61.5L358.2 66.0M359.5 59.3L360.3 59.3M359.5 59.3L359.5 66.0M360.3 59.3L360.3 66.0M358.9 58.4L359.9 58.4M358.9 58.4L358.9 66.0M359.9 58.4L359.9 59.3M357.7 57.4L359.4 57.4M357.7 57.4L357.7 61.5M359.4 57.4L359.4 58.4M351.8 56.8L358.5 56.8M351.8 56.8L351.8 56.8M358.5 56.8L358.5 57.4M361.4 60.9L362.6 60.9M361.4 60.9L361.4 66.0M362.6 60.9L362.6 66.0M364.9 59.9L365.7 59.9M364.9 59.9L364.9 66.0M365.7 59.9L365.7 66.0M363.9 59.2L365.3 59.2M363.9 59.2L363.9 66.0M365.3 59.2L365.3 59.9M366.4 59.8L367.2 59.8M366.4 59.8L366.4 66.0M367.2 59.8L367.2 66.0M364.6 57.9L366.8 57.9M364.6 57.9L364.6 59.2M366.8 57.9L366.8 59.8M362.0 56.6L365.7 56.6M362.0 56.6L362.0 60.9M365.7 56.6L365.7 57.9M355.1 55.3L363.8 55.3M355.1 55.3L355.1 56.8M363.8 55.3L363.8 56.6M334.5 52.6L359.5 52.6M334.5 52.6L334.5 55.5M359.5 52.6L359.5 55.3M288.9 51.5L347.0 51.5M288.9 51.5L288.9 52.0M347.0 51.5L347.0 52.6M175.0 48.9L318.0 48.9M175.0 48.9L175.0 51.0M318.0 48.9L318.0 51.5M368.3 58.7L369.2 58.7M368.3 58.7L368.3 66.0M369.2 58.7L369.2 66.0M368.8 59.6L369.9 59.6M368.8 59.6L368.8 59.6M369.9 59.6L369.9 66.0M371.1 61.4L371.8 61.4M371.1 61.4L371.1 66.0M371.8 61.4L371.8 66.0M370.4 58.9L371.4 58.9M370.4 58.9L370.4 66.0M371.4 58.9L371.4 61.4M370.9 58.7L372.4 58.7M370.9 58.7L370.9 58.9M372.4 58.7L372.4 66.0M371.7 59.9L373.2 59.9M371.7 59.9L371.7 59.9M373.2 59.9L373.2 66.0M374.3 60.1L375.3 60.1M374.3 60.1L374.3 66.0M375.3 60.1L375.3 66.0M376.1 61.7L376.8 61.7M376.1 61.7L376.1 66.0M376.8 61.7L376.8 66.0M374.8 59.6L376.4 59.6M374.8 59.6L374.8 60.1M376.4 59.6L376.4 61.7M375.6 59.0L377.9 59.0M375.6 59.0L375.6 59.6M377.9 59.0L377.9 66.0M372.5 58.5L376.8 58.5M372.5 58.5L372.5 59.9M376.8 58.5L376.8 59.0M369.3 57.3L374.6 57.3M369.3 57.3L369.3 59.6M374.6 57.3L374.6 58.5M380.1 59.8L380.9 59.8M380.1 59.8L380.1 66.0M380.9 59.8L380.9 66.0M380.5 58.7L382.0 58.7M380.5 58.7L380.5 59.8M382.0 58.7L382.0 66.0M379.2 59.9L381.2 59.9M379.2 59.9L379.2 66.0M381.2 59.9L381.2 59.9M372.0 54.4L380.2 54.4M372.0 54.4L372.0 57.3M380.2 54.4L380.2 59.9M383.7 60.5L384.6 60.5M383.7 60.5L383.7 66.0M384.6 60.5L384.6 66.0M382.9 58.1L384.1 58.1M382.9 58.1L382.9 66.0M384.1 58.1L384.1 60.5M385.4 59.4L386.3 59.4M385.4 59.4L385.4 66.0M386.3 59.4L386.3 66.0M383.5 59.0L385.9 59.0M383.5 59.0L383.5 59.0M385.9 59.0L385.9 59.4M376.1 56.7L384.7 56.7M376.1 56.7L376.1 56.7M384.7 56.7L384.7 59.0M388.1 59.1L388.9 59.1M388.1 59.1L388.1 66.0M388.9 59.1L388.9 66.0M388.5 60.8L389.6 60.8M388.5 60.8L388.5 60.8M389.6 60.8L389.6 66.0M387.4 58.3L389.0 58.3M387.4 58.3L387.4 66.0M389.0 58.3L389.0 60.8M388.2 58.4L390.3 58.4M388.2 58.4L388.2 58.4M390.3 58.4L390.3 66.0M389.3 58.5L391.5 58.5M389.3 58.5L389.3 58.5M391.5 58.5L391.5 66.0M392.6 61.6L393.5 61.6M392.6 61.6L392.6 66.0M393.5 61.6L393.5 66.0M395.0 60.4L395.8 60.4M395.0 60.4L395.0 66.0M395.8 60.4L395.8 66.0M394.3 58.1L395.4 58.1M394.3 58.1L394.3 66.0M395.4 58.1L395.4 60.4M393.1 57.6L394.9 57.6M393.1 57.6L393.1 61.6M394.9 57.6L394.9 58.1M396.7 59.4L397.5 59.4M396.7 59.4L396.7 66.0M397.5 59.4L397.5 66.0M397.1 60.3L398.4 60.3M397.1 60.3L397.1 60.3M398.4 60.3L398.4 66.0M399.4 59.9L400.3 59.9M399.4 59.9L399.4 66.0M400.3 59.9L400.3 66.0M397.7 57.4L399.8 57.4M397.7 57.4L397.7 60.3M399.8 57.4L399.8 59.9M394.0 57.6L398.8 57.6M394.0 57.6L394.0 57.6M398.8 57.6L398.8 57.6M390.4 56.0L396.4 56.0M390.4 56.0L390.4 58.5M396.4 56.0L396.4 57.6M401.7 59.6L402.5 59.6M401.7 59.6L401.7 66.0M402.5 59.6L402.5 66.0M400.9 61.1L402.1 61.1M400.9 61.1L400.9 66.0M402.1 61.1L402.1 61.1M403.4 62.1L404.2 62.1M403.4 62.1L403.4 66.0M404.2 62.1L404.2 66.0M406.5 59.1L407.2 59.1M406.5 59.1L406.5 66.0M407.2 59.1L407.2 66.0M405.8 61.3L406.8 61.3M405.8 61.3L405.8 66.0M406.8 61.3L406.8 61.3M405.0 58.6L406.3 58.6M405.0 58.6L405.0 66.0M406.3 58.6L406.3 61.3M403.8 57.8L405.7 57.8M403.8 57.8L403.8 62.1M405.7 57.8L405.7 58.6M401.5 58.2L404.7 58.2M401.5 58.2L401.5 61.1M404.7 58.2L404.7 58.2M409.2 61.9L410.1 61.9M409.2 61.9L409.2 66.0M410.1 61.9L410.1 66.0M409.6 60.8L410.7 60.8M409.6 60.8L409.6 61.9M410.7 60.8L410.7 66.0M408.2 58.6L410.2 58.6M408.2 58.6L408.2 66.0M410.2 58.6L410.2 60.8M403.1 55.7L409.2 55.7M403.1 55.7L403.1 58.2M409.2 55.7L409.2 58.6M393.4 53.4L406.2 53.4M393.4 53.4L393.4 56.0M406.2 53.4L406.2 55.7M380.4 53.8L399.8 53.8M380.4 53.8L380.4 56.7M399.8 53.8L399.8 53.8M412.3 59.5L413.4 59.5M412.3 59.5L412.3 66.0M413.4 59.5L413.4 66.0M411.5 57.4L412.9 57.4M411.5 57.4L411.5 66.0M412.9 57.4L412.9 59.5M415.5 60.6L416.2 60.6M415.5 60.6L415.5 66.0M416.2 60.6L416.2 66.0M414.5 60.7L415.9 60.7M414.5 60.7L414.5 66.0M415.9 60.7L415.9 60.7M415.2 58.0L416.8 58.0M415.2 58.0L415.2 60.7M416.8 58.0L416.8 66.0M416.0 57.2L417.6 57.2M416.0 57.2L416.0 58.0M417.6 57.2L417.6 66.0M412.2 56.8L416.8 56.8M412.2 56.8L412.2 57.4M416.8 56.8L416.8 57.2M419.3 60.2L420.1 60.2M419.3 60.2L419.3 66.0M420.1 60.2L420.1 66.0M421.0 61.8L421.7 61.8M421.0 61.8L421.0 66.0M421.7 61.8L421.7 66.0M421.3 58.4L422.4 58.4M421.3 58.4L421.3 61.8M422.4 58.4L422.4 66.0M419.7 60.2L421.9 60.2M419.7 60.2L419.7 60.2M421.9 60.2L421.9 60.2M418.6 58.1L420.8 58.1M418.6 58.1L418.6 66.0M420.8 58.1L420.8 60.2M414.5 56.0L419.7 56.0M414.5 56.0L414.5 56.8M419.7 56.0L419.7 58.1M423.9 59.8L424.7 59.8M423.9 59.8L423.9 66.0M424.7 59.8L424.7 66.0M424.3 60.9L425.6 60.9M424.3 60.9L424.3 60.9M425.6 60.9L425.6 66.0M425.0 58.1L426.5 58.1M425.0 58.1L425.0 60.9M426.5 58.1L426.5 66.0M423.2 57.0L425.7 57.0M423.2 57.0L423.2 66.0M425.7 57.0L425.7 58.1M427.2 61.2L428.0 61.2M427.2 61.2L427.2 66.0M428.0 61.2L428.0 66.0M427.6 60.3L428.8 60.3M427.6 60.3L427.6 61.2M428.8 60.3L428.8 66.0M424.4 56.1L428.2 56.1M424.4 56.1L424.4 57.0M428.2 56.1L428.2 60.3M417.1 54.0L426.3 54.0M417.1 54.0L417.1 56.0M426.3 54.0L426.3 56.1M429.3 60.2L430.2 60.2M429.3 60.2L429.3 66.0M430.2 60.2L430.2 66.0M429.8 58.1L431.1 58.1M429.8 58.1L429.8 60.2M431.1 58.1L431.1 66.0M430.4 59.5L431.8 59.5M430.4 59.5L430.4 59.5M431.8 59.5L431.8 66.0M432.6 61.7L433.4 61.7M432.6 61.7L432.6 66.0M433.4 61.7L433.4 66.0M433.0 59.1L433.8 59.1M433.0 59.1L433.0 61.7M433.8 59.1L433.8 66.0M434.5 60.1L435.3 60.1M434.5 60.1L434.5 66.0M435.3 60.1L435.3 66.0M434.9 60.7L435.9 60.7M434.9 60.7L434.9 60.7M435.9 60.7L435.9 66.0M433.4 58.4L435.4 58.4M433.4 58.4L433.4 59.1M435.4 58.4L435.4 60.7M436.5 61.7L437.2 61.7M436.5 61.7L436.5 66.0M437.2 61.7L437.2 66.0M436.9 58.5L438.1 58.5M436.9 58.5L436.9 61.7M438.1 58.5L438.1 66.0M440.4 62.1L441.2 62.1M440.4 62.1L440.4 66.0M441.2 62.1L441.2 66.0M439.8 60.1L440.8 60.1M439.8 60.1L439.8 66.0M440.8 60.1L440.8 62.1M439.0 57.4L440.3 57.4M439.0 57.4L439.0 66.0M440.3 57.4L440.3 60.1M437.5 57.4L439.6 57.4M437.5 57.4L437.5 58.5M439.6 57.4L439.6 57.4M434.4 55.9L438.5 55.9M434.4 55.9L434.4 58.4M438.5 55.9L438.5 57.4M442.1 58.6L443.1 58.6M442.1 58.6L442.1 66.0M443.1 58.6L443.1 66.0M442.6 60.9L444.1 60.9M442.6 60.9L442.6 60.9M444.1 60.9L444.1 66.0M436.5 57.9L443.4 57.9M436.5 57.9L436.5 57.9M443.4 57.9L443.4 60.9M431.1 56.8L439.9 56.8M431.1 56.8L431.1 59.5M439.9 56.8L439.9 57.9M446.3 62.0L447.0 62.0M446.3 62.0L446.3 66.0M447.0 62.0L447.0 66.0M446.7 60.0L447.9 60.0M446.7 60.0L446.7 62.0M447.9 60.0L447.9 66.0M445.2 58.3L447.3 58.3M445.2 58.3L445.2 66.0M447.3 58.3L447.3 60.0M449.1 58.4L450.3 58.4M449.1 58.4L449.1 66.0M450.3 58.4L450.3 66.0M446.2 57.5L449.7 57.5M446.2 57.5L446.2 58.3M449.7 57.5L449.7 58.4M451.0 62.0L451.7 62.0M451.0 62.0L451.0 66.0M451.7 62.0L451.7 66.0M452.6 62.3L453.4 62.3M452.6 62.3L452.6 66.0M453.4 62.3L453.4 66.0M453.0 58.6L454.5 58.6M453.0 58.6L453.0 62.3M454.5 58.6L454.5 66.0M451.4 57.5L453.8 57.5M451.4 57.5L451.4 62.0M453.8 57.5L453.8 58.6M455.8 58.7L457.0 58.7M455.8 58.7L455.8 66.0M457.0 58.7L457.0 66.0M452.6 56.4L456.4 56.4M452.6 56.4L452.6 57.5M456.4 56.4L456.4 58.7M458.1 62.1L458.9 62.1M458.1 62.1L458.1 66.0M458.9 62.1L458.9 66.0M459.3 59.8L460.1 59.8M459.3 59.8L459.3 66.0M460.1 59.8L460.1 66.0M458.5 60.1L459.7 60.1M458.5 60.1L458.5 62.1M459.7 60.1L459.7 60.1M459.1 57.2L461.2 57.2M459.1 57.2L459.1 60.1M461.2 57.2L461.2 66.0M461.8 59.2L462.7 59.2M461.8 59.2L461.8 66.0M462.7 59.2L462.7 66.0M460.1 58.3L462.3 58.3M460.1 58.3L460.1 58.3M462.3 58.3L462.3 59.2M454.5 55.8L461.2 55.8M454.5 55.8L454.5 56.4M461.2 55.8L461.2 58.3M464.8 59.5L465.5 59.5M464.8 59.5L464.8 66.0M465.5 59.5L465.5 66.0M463.8 60.7L465.2 60.7M463.8 60.7L463.8 66.0M465.2 60.7L465.2 60.7M464.5 58.8L466.1 58.8M464.5 58.8L464.5 60.7M466.1 58.8L466.1 66.0M465.3 58.0L467.1 58.0M465.3 58.0L465.3 58.8M467.1 58.0L467.1 66.0M466.2 58.2L468.2 58.2M466.2 58.2L466.2 58.2M468.2 58.2L468.2 66.0M457.8 54.9L467.2 54.9M457.8 54.9L457.8 55.8M467.2 54.9L467.2 58.2M448.0 55.1L462.5 55.1M448.0 55.1L448.0 57.5M462.5 55.1L462.5 55.1M435.5 53.4L455.2 53.4M435.5 53.4L435.5 56.8M455.2 53.4L455.2 55.1M421.7 55.0L445.4 55.0M421.7 55.0L421.7 55.0M445.4 55.0L445.4 55.0M471.0 59.6L471.8 59.6M471.0 59.6L471.0 66.0M471.8 59.6L471.8 66.0M470.1 60.0L471.4 60.0M470.1 60.0L470.1 66.0M471.4 60.0L471.4 60.0M469.2 57.9L470.8 57.9M469.2 57.9L469.2 66.0M470.8 57.9L470.8 60.0M472.5 59.8L473.2 59.8M472.5 59.8L472.5 66.0M473.2 59.8L473.2 66.0M473.7 59.5L474.4 59.5M473.7 59.5L473.7 66.0M474.4 59.5L474.4 66.0M474.0 60.1L475.3 60.1M474.0 60.1L474.0 60.1M475.3 60.1L475.3 66.0M476.0 59.4L476.8 59.4M476.0 59.4L476.0 66.0M476.8 59.4L476.8 66.0M477.3 60.9L478.3 60.9M477.3 60.9L477.3 66.0M478.3 60.9L478.3 66.0M476.4 59.1L477.8 59.1M476.4 59.1L476.4 59.4M477.8 59.1L477.8 60.9M474.7 56.9L477.1 56.9M474.7 56.9L474.7 60.1M477.1 56.9L477.1 59.1M472.9 56.9L475.9 56.9M472.9 56.9L472.9 59.8M475.9 56.9L475.9 56.9M470.0 56.2L474.4 56.2M470.0 56.2L470.0 57.9M474.4 56.2L474.4 56.9M480.8 60.0L481.9 60.0M480.8 60.0L480.8 66.0M481.9 60.0L481.9 66.0M479.6 60.3L481.3 60.3M479.6 60.3L479.6 66.0M481.3 60.3L481.3 60.3M483.2 61.9L484.1 61.9M483.2 61.9L483.2 66.0M484.1 61.9L484.1 66.0M486.0 59.7L486.8 59.7M486.0 59.7L486.0 66.0M486.8 59.7L486.8 66.0M485.0 58.4L486.4 58.4M485.0 58.4L485.0 66.0M486.4 58.4L486.4 59.7M483.7 58.0L485.7 58.0M483.7 58.0L483.7 61.9M485.7 58.0L485.7 58.4M480.5 56.4L484.7 56.4M480.5 56.4L480.5 60.3M484.7 56.4L484.7 58.0M472.2 56.0L482.6 56.0M472.2 56.0L472.2 56.2M482.6 56.0L482.6 56.4M433.5 52.4L477.4 52.4M433.5 52.4L433.5 55.0M477.4 52.4L477.4 56.0M390.1 51.3L455.5 51.3M390.1 51.3L390.1 53.8M455.5 51.3L455.5 52.4M487.5 59.0L488.5 59.0M487.5 59.0L487.5 66.0M488.5 59.0L488.5 66.0M490.0 61.6L491.0 61.6M490.0 61.6L490.0 66.0M491.0 61.6L491.0 66.0M489.2 59.8L490.5 59.8M489.2 59.8L489.2 66.0M490.5 59.8L490.5 61.6M488.0 59.7L489.9 59.7M488.0 59.7L488.0 59.7M489.9 59.7L489.9 59.8M492.9 59.8L493.8 59.8M492.9 59.8L492.9 66.0M493.8 59.8L493.8 66.0M494.9 61.2L496.0 61.2M494.9 61.2L494.9 66.0M496.0 61.2L496.0 66.0M493.3 58.6L495.5 58.6M493.3 58.6L493.3 59.8M495.5 58.6L495.5 61.2M492.0 58.4L494.4 58.4M492.0 58.4L492.0 66.0M494.4 58.4L494.4 58.6M488.9 57.9L493.2 57.9M488.9 57.9L488.9 59.7M493.2 57.9L493.2 58.4M497.0 59.0L497.8 59.0M497.0 59.0L497.0 66.0M497.8 59.0L497.8 66.0M497.4 61.5L498.5 61.5M497.4 61.5L497.4 61.5M498.5 61.5L498.5 66.0M499.3 59.4L500.2 59.4M499.3 59.4L499.3 66.0M500.2 59.4L500.2 66.0M499.8 58.3L500.9 58.3M499.8 58.3L499.8 59.4M500.9 58.3L500.9 66.0M500.4 59.2L501.8 59.2M500.4 59.2L500.4 59.2M501.8 59.2L501.8 66.0M501.1 57.9L502.8 57.9M501.1 57.9L501.1 59.2M502.8 57.9L502.8 66.0M497.9 56.2L501.9 56.2M497.9 56.2L497.9 61.5M501.9 56.2L501.9 57.9M505.3 59.3L506.2 59.3M505.3 59.3L505.3 66.0M506.2 59.3L506.2 66.0M504.0 60.2L505.8 60.2M504.0 60.2L504.0 66.0M505.8 60.2L505.8 60.2M499.9 58.3L504.9 58.3M499.9 58.3L499.9 58.3M504.9 58.3L504.9 60.2M508.8 58.9L509.6 58.9M508.8 58.9L508.8 66.0M509.6 58.9L509.6 66.0M508.0 60.1L509.2 60.1M508.0 60.1L508.0 66.0M509.2 60.1L509.2 60.1M508.6 60.2L510.5 60.2M508.6 60.2L508.6 60.2M510.5 60.2L510.5 66.0M507.1 57.4L509.5 57.4M507.1 57.4L507.1 66.0M509.5 57.4L509.5 60.2M511.6 59.7L512.5 59.7M511.6 59.7L511.6 66.0M512.5 59.7L512.5 66.0M512.1 59.2L513.6 59.2M512.1 59.2L512.1 59.7M513.6 59.2L513.6 66.0M512.8 57.0L514.9 57.0M512.8 57.0L512.8 59.2M514.9 57.0L514.9 66.0M508.3 56.5L513.9 56.5M508.3 56.5L508.3 57.4M513.9 56.5L513.9 57.0M515.8 60.8L516.6 60.8M515.8 60.8L515.8 66.0M516.6 60.8L516.6 66.0M517.8 59.1L518.8 59.1M517.8 59.1L517.8 66.0M518.8 59.1L518.8 66.0M516.2 58.4L518.3 58.4M516.2 58.4L516.2 60.8M518.3 58.4L518.3 59.1M519.7 59.5L520.4 59.5M519.7 59.5L519.7 66.0M520.4 59.5L520.4 66.0M521.0 60.4L521.8 60.4M521.0 60.4L521.0 66.0M521.8 60.4L521.8 66.0M520.0 58.0L521.4 58.0M520.0 58.0L520.0 59.5M521.4 58.0L521.4 60.4M522.5 60.5L523.3 60.5M522.5 60.5L522.5 66.0M523.3 60.5L523.3 66.0M520.7 59.2L522.9 59.2M520.7 59.2L520.7 59.2M522.9 59.2L522.9 60.5M517.3 57.6L521.8 57.6M517.3 57.6L517.3 58.4M521.8 57.6L521.8 59.2M524.3 58.7L525.3 58.7M524.3 58.7L524.3 66.0M525.3 58.7L525.3 66.0M524.8 60.1L526.3 60.1M524.8 60.1L524.8 60.1M526.3 60.1L526.3 66.0M527.4 59.5L528.4 59.5M527.4 59.5L527.4 66.0M528.4 59.5L528.4 66.0M525.6 56.6L527.9 56.6M525.6 56.6L525.6 60.1M527.9 56.6L527.9 59.5M529.2 62.0L530.1 62.0M529.2 62.0L529.2 66.0M530.1 62.0L530.1 66.0M529.7 60.4L531.2 60.4M529.7 60.4L529.7 62.0M531.2 60.4L531.2 66.0M530.4 60.3L532.2 60.3M530.4 60.3L530.4 60.4M532.2 60.3L532.2 66.0M531.3 56.9L533.3 56.9M531.3 56.9L531.3 60.3M533.3 56.9L533.3 66.0M526.7 55.1L532.3 55.1M526.7 55.1L526.7 56.6M532.3 55.1L532.3 56.9M519.5 55.9L529.5 55.9M519.5 55.9L519.5 57.6M529.5 55.9L529.5 55.9M511.1 54.5L524.5 54.5M511.1 54.5L511.1 56.5M524.5 54.5L524.5 55.9M502.4 54.3L517.8 54.3M502.4 54.3L502.4 58.3M517.8 54.3L517.8 54.5M491.1 55.2L510.1 55.2M491.1 55.2L491.1 57.9M510.1 55.2L510.1 55.2M422.8 50.5L500.6 50.5M422.8 50.5L422.8 51.3M500.6 50.5L500.6 55.2M534.2 59.7L535.0 59.7M534.2 59.7L534.2 66.0M535.0 59.7L535.0 66.0M536.0 59.9L536.8 59.9M536.0 59.9L536.0 66.0M536.8 59.9L536.8 66.0M534.6 60.4L536.4 60.4M534.6 60.4L534.6 60.4M536.4 60.4L536.4 60.4M537.4 59.7L538.1 59.7M537.4 59.7L537.4 66.0M538.1 59.7L538.1 66.0M535.5 57.0L537.7 57.0M535.5 57.0L535.5 60.4M537.7 57.0L537.7 59.7M538.9 61.9L539.8 61.9M538.9 61.9L538.9 66.0M539.8 61.9L539.8 66.0M536.6 56.8L539.3 56.8M536.6 56.8L536.6 57.0M539.3 56.8L539.3 61.9M541.2 60.9L541.9 60.9M541.2 60.9L541.2 66.0M541.9 60.9L541.9 66.0M540.7 60.9L541.5 60.9M540.7 60.9L540.7 66.0M541.5 60.9L541.5 60.9M541.1 60.2L543.1 60.2M541.1 60.2L541.1 60.9M543.1 60.2L543.1 66.0M538.0 55.6L542.1 55.6M538.0 55.6L538.0 56.8M542.1 55.6L542.1 60.2M544.3 59.8L545.3 59.8M544.3 59.8L544.3 66.0M545.3 59.8L545.3 66.0M547.2 59.4L548.1 59.4M547.2 59.4L547.2 66.0M548.1 59.4L548.1 66.0M546.3 60.1L547.7 60.1M546.3 60.1L546.3 66.0M547.7 60.1L547.7 60.1M547.0 59.0L548.9 59.0M547.0 59.0L547.0 60.1M548.9 59.0L548.9 66.0M549.8 58.9L550.7 58.9M549.8 58.9L549.8 66.0M550.7 58.9L550.7 66.0M547.9 57.2L550.3 57.2M547.9 57.2L547.9 59.0M550.3 57.2L550.3 58.9M544.8 59.0L549.1 59.0M544.8 59.0L544.8 59.8M549.1 59.0L549.1 59.0M551.6 60.2L552.9 60.2M551.6 60.2L551.6 66.0M552.9 60.2L552.9 66.0M553.7 58.7L554.6 58.7M553.7 58.7L553.7 66.0M554.6 58.7L554.6 66.0M552.3 60.1L554.2 60.1M552.3 60.1L552.3 60.2M554.2 60.1L554.2 60.1M555.9 60.6L556.6 60.6M555.9 60.6L555.9 66.0M556.6 60.6L556.6 66.0M555.3 59.1L556.3 59.1M555.3 59.1L555.3 66.0M556.3 59.1L556.3 60.6M553.2 56.9L555.8 56.9M553.2 56.9L553.2 60.1M555.8 56.9L555.8 59.1M546.9 57.5L554.5 57.5M546.9 57.5L546.9 59.0M554.5 57.5L554.5 57.5M558.2 58.6L559.1 58.6M558.2 58.6L558.2 66.0M559.1 58.6L559.1 66.0M557.3 58.6L558.7 58.6M557.3 58.6L557.3 66.0M558.7 58.6L558.7 58.6M560.8 61.1L561.5 61.1M560.8 61.1L560.8 66.0M561.5 61.1L561.5 66.0M560.3 59.6L561.1 59.6M560.3 59.6L560.3 66.0M561.1 59.6L561.1 61.1M559.7 59.1L560.7 59.1M559.7 59.1L559.7 66.0M560.7 59.1L560.7 59.6M558.0 59.4L560.2 59.4M558.0 59.4L558.0 59.4M560.2 59.4L560.2 59.4M550.7 55.8L559.1 55.8M550.7 55.8L550.7 57.5M559.1 55.8L559.1 59.4M565.2 61.8L565.9 61.8M565.2 61.8L565.2 66.0M565.9 61.8L565.9 66.0M564.4 60.6L565.6 60.6M564.4 60.6L564.4 66.0M565.6 60.6L565.6 61.8M563.7 57.9L565.0 57.9M563.7 57.9L563.7 66.0M565.0 57.9L565.0 60.6M562.6 59.9L564.3 59.9M562.6 59.9L562.6 66.0M564.3 59.9L564.3 59.9M567.7 60.9L568.5 60.9M567.7 60.9L567.7 66.0M568.5 60.9L568.5 66.0M566.8 58.2L568.1 58.2M566.8 58.2L566.8 66.0M568.1 58.2L568.1 60.9M563.4 57.3L567.5 57.3M563.4 57.3L563.4 59.9M567.5 57.3L567.5 58.2M569.5 62.3L570.2 62.3M569.5 62.3L569.5 66.0M570.2 62.3L570.2 66.0M569.8 61.0L570.8 61.0M569.8 61.0L569.8 62.3M570.8 61.0L570.8 66.0M570.3 58.8L571.7 58.8M570.3 58.8L570.3 61.0M571.7 58.8L571.7 66.0M573.4 59.1L574.5 59.1M573.4 59.1L573.4 66.0M574.5 59.1L574.5 66.0M572.7 59.5L574.0 59.5M572.7 59.5L572.7 66.0M574.0 59.5L574.0 59.5M571.0 57.3L573.3 57.3M571.0 57.3L571.0 58.8M573.3 57.3L573.3 59.5M565.5 55.2L572.2 55.2M565.5 55.2L565.5 57.3M572.2 55.2L572.2 57.3M554.9 54.1L568.8 54.1M554.9 54.1L554.9 55.8M568.8 54.1L568.8 55.2M540.0 53.6L561.9 53.6M540.0 53.6L540.0 55.6M561.9 53.6L561.9 54.1M577.4 60.6L578.4 60.6M577.4 60.6L577.4 66.0M578.4 60.6L578.4 66.0M576.5 59.6L577.9 59.6M576.5 59.6L576.5 66.0M577.9 59.6L577.9 60.6M577.2 57.5L579.3 57.5M577.2 57.5L577.2 59.6M579.3 57.5L579.3 66.0M575.6 58.4L578.3 58.4M575.6 58.4L575.6 66.0M578.3 58.4L578.3 58.4M581.7 60.4L582.5 60.4M581.7 60.4L581.7 66.0M582.5 60.4L582.5 66.0M580.9 61.1L582.1 61.1M580.9 61.1L580.9 66.0M582.1 61.1L582.1 61.1M581.5 59.7L583.3 59.7M581.5 59.7L581.5 61.1M583.3 59.7L583.3 66.0M580.2 59.8L582.4 59.8M580.2 59.8L580.2 66.0M582.4 59.8L582.4 59.8M586.5 61.1L587.4 61.1M586.5 61.1L586.5 66.0M587.4 61.1L587.4 66.0M585.7 57.7L587.0 57.7M585.7 57.7L585.7 66.0M587.0 57.7L587.0 61.1M584.5 57.1L586.3 57.1M584.5 57.1L584.5 66.0M586.3 57.1L586.3 57.7M588.4 60.1L589.1 60.1M588.4 60.1L588.4 66.0M589.1 60.1L589.1 66.0M588.8 60.9L589.8 60.9M588.8 60.9L588.8 60.9M589.8 60.9L589.8 66.0M585.4 57.4L589.3 57.4M585.4 57.4L585.4 57.4M589.3 57.4L589.3 60.9M581.3 55.9L587.4 55.9M581.3 55.9L581.3 59.8M587.4 55.9L587.4 57.4M590.6 60.9L591.4 60.9M590.6 60.9L590.6 66.0M591.4 60.9L591.4 66.0M591.0 59.6L592.4 59.6M591.0 59.6L591.0 60.9M592.4 59.6L592.4 66.0M593.5 58.7L594.3 58.7M593.5 58.7L593.5 66.0M594.3 58.7L594.3 66.0M593.9 58.8L594.8 58.8M593.9 58.8L593.9 58.8M594.8 58.8L594.8 66.0M591.7 58.0L594.3 58.0M591.7 58.0L591.7 59.6M594.3 58.0L594.3 58.8M584.3 54.8L593.0 54.8M584.3 54.8L584.3 55.9M593.0 54.8L593.0 58.0M576.9 56.4L588.7 56.4M576.9 56.4L576.9 58.4M588.7 56.4L588.7 56.4M550.9 54.9L582.8 54.9M550.9 54.9L550.9 54.9M582.8 54.9L582.8 56.4M596.2 61.5L597.0 61.5M596.2 61.5L596.2 66.0M597.0 61.5L597.0 66.0M595.4 61.2L596.6 61.2M595.4 61.2L595.4 66.0M596.6 61.2L596.6 61.5M596.0 58.5L597.7 58.5M596.0 58.5L596.0 61.2M597.7 58.5L597.7 66.0M598.6 62.1L599.4 62.1M598.6 62.1L598.6 66.0M599.4 62.1L599.4 66.0M596.9 57.6L599.0 57.6M596.9 57.6L596.9 58.5M599.0 57.6L599.0 62.1M600.4 60.6L601.7 60.6M600.4 60.6L600.4 66.0M601.7 60.6L601.7 66.0M597.9 58.8L601.0 58.8M597.9 58.8L597.9 58.8M601.0 58.8L601.0 60.6M602.7 60.4L603.7 60.4M602.7 60.4L602.7 66.0M603.7 60.4L603.7 66.0M604.6 61.8L605.4 61.8M604.6 61.8L604.6 66.0M605.4 61.8L605.4 66.0M603.2 58.0L605.0 58.0M603.2 58.0L603.2 60.4M605.0 58.0L605.0 61.8M608.6 58.5L609.8 58.5M608.6 58.5L608.6 66.0M609.8 58.5L609.8 66.0M607.8 60.5L609.2 60.5M607.8 60.5L607.8 66.0M609.2 60.5L609.2 60.5M606.7 56.7L608.5 56.7M606.7 56.7L606.7 66.0M608.5 56.7L608.5 60.5M604.1 57.9L607.6 57.9M604.1 57.9L604.1 58.0M607.6 57.9L607.6 57.9M611.7 61.1L612.5 61.1M611.7 61.1L611.7 66.0M612.5 61.1L612.5 66.0M612.1 60.4L613.5 60.4M612.1 60.4L612.1 61.1M613.5 60.4L613.5 66.0M614.3 61.8L615.0 61.8M614.3 61.8L614.3 66.0M615.0 61.8L615.0 66.0M612.8 59.0L614.7 59.0M612.8 59.0L612.8 60.4M614.7 59.0L614.7 61.8M611.0 56.5L613.7 56.5M611.0 56.5L611.0 66.0M613.7 56.5L613.7 59.0M605.8 57.4L612.4 57.4M605.8 57.4L605.8 57.9M612.4 57.4L612.4 57.4M599.5 54.5L609.1 54.5M599.5 54.5L599.5 58.8M609.1 54.5L609.1 57.4M566.9 51.7L604.3 51.7M566.9 51.7L566.9 54.9M604.3 51.7L604.3 54.5M616.6 62.0L617.3 62.0M616.6 62.0L616.6 66.0M617.3 62.0L617.3 66.0M617.0 61.1L617.9 61.1M617.0 61.1L617.0 62.0M617.9 61.1L617.9 66.0M615.8 57.7L617.4 57.7M615.8 57.7L615.8 66.0M617.4 57.7L617.4 61.1M619.8 59.7L620.8 59.7M619.8 59.7L619.8 66.0M620.8 59.7L620.8 66.0M620.3 57.9L622.0 57.9M620.3 57.9L620.3 59.7M622.0 57.9L622.0 66.0M618.8 57.0L621.2 57.0M618.8 57.0L618.8 66.0M621.2 57.0L621.2 57.9M624.5 60.0L625.3 60.0M624.5 60.0L624.5 66.0M625.3 60.0L625.3 66.0M623.7 60.2L624.9 60.2M623.7 60.2L623.7 66.0M624.9 60.2L624.9 60.2M622.9 58.1L624.3 58.1M622.9 58.1L622.9 66.0M624.3 58.1L624.3 60.2M620.0 56.5L623.6 56.5M620.0 56.5L620.0 57.0M623.6 56.5L623.6 58.1M616.6 55.6L621.8 55.6M616.6 55.6L616.6 57.7M621.8 55.6L621.8 56.5M626.6 61.7L627.3 61.7M626.6 61.7L626.6 66.0M627.3 61.7L627.3 66.0M626.0 59.9L626.9 59.9M626.0 59.9L626.0 66.0M626.9 59.9L626.9 61.7M626.5 59.8L628.1 59.8M626.5 59.8L626.5 59.9M628.1 59.8L628.1 66.0M627.3 58.8L628.9 58.8M627.3 58.8L627.3 59.8M628.9 58.8L628.9 66.0M619.2 57.6L628.1 57.6M619.2 57.6L619.2 57.6M628.1 57.6L628.1 58.8M631.2 61.1L632.1 61.1M631.2 61.1L631.2 66.0M632.1 61.1L632.1 66.0M630.4 59.6L631.6 59.6M630.4 59.6L630.4 66.0M631.6 59.6L631.6 61.1M631.0 60.3L633.3 60.3M631.0 60.3L631.0 60.3M633.3 60.3L633.3 66.0M629.7 57.2L632.1 57.2M629.7 57.2L629.7 66.0M632.1 57.2L632.1 60.3M634.8 62.0L635.5 62.0M634.8 62.0L634.8 66.0M635.5 62.0L635.5 66.0M634.2 60.0L635.2 60.0M634.2 60.0L634.2 66.0M635.2 60.0L635.2 62.0M630.9 56.4L634.7 56.4M630.9 56.4L630.9 57.2M634.7 56.4L634.7 60.0M637.2 59.5L638.1 59.5M637.2 59.5L637.2 66.0M638.1 59.5L638.1 66.0M636.4 60.9L637.6 60.9M636.4 60.9L636.4 66.0M637.6 60.9L637.6 60.9M632.8 55.4L637.0 55.4M632.8 55.4L632.8 56.4M637.0 55.4L637.0 60.9M638.8 61.9L639.5 61.9M638.8 61.9L638.8 66.0M639.5 61.9L639.5 66.0M640.7 59.1L641.9 59.1M640.7 59.1L640.7 66.0M641.9 59.1L641.9 66.0M642.7 60.4L643.5 60.4M642.7 60.4L642.7 66.0M643.5 60.4L643.5 66.0M641.3 59.6L643.1 59.6M641.3 59.6L641.3 59.6M643.1 59.6L643.1 60.4M639.1 58.4L642.2 58.4M639.1 58.4L639.1 61.9M642.2 58.4L642.2 59.6M644.1 59.6L645.0 59.6M644.1 59.6L644.1 66.0M645.0 59.6L645.0 66.0M644.6 58.0L645.9 58.0M644.6 58.0L644.6 59.6M645.9 58.0L645.9 66.0M645.3 57.5L646.7 57.5M645.3 57.5L645.3 58.0M646.7 57.5L646.7 66.0M640.6 57.0L646.0 57.0M640.6 57.0L640.6 58.4M646.0 57.0L646.0 57.5M634.9 54.7L643.3 54.7M634.9 54.7L634.9 55.4M643.3 54.7L643.3 57.0M647.6 61.3L648.3 61.3M647.6 61.3L647.6 66.0M648.3 61.3L648.3 66.0M647.9 60.1L649.2 60.1M647.9 60.1L647.9 61.3M649.2 60.1L649.2 66.0M651.0 61.5L651.8 61.5M651.0 61.5L651.0 66.0M651.8 61.5L651.8 66.0M650.2 61.0L651.4 61.0M650.2 61.0L650.2 66.0M651.4 61.0L651.4 61.5M653.3 60.6L654.0 60.6M653.3 60.6L653.3 66.0M654.0 60.6L654.0 66.0M653.6 60.1L654.9 60.1M653.6 60.1L653.6 60.6M654.9 60.1L654.9 66.0M652.6 58.8L654.3 58.8M652.6 58.8L652.6 66.0M654.3 58.8L654.3 60.1M650.8 57.3L653.4 57.3M650.8 57.3L650.8 61.0M653.4 57.3L653.4 58.8M648.6 57.0L652.1 57.0M648.6 57.0L648.6 60.1M652.1 57.0L652.1 57.3M655.5 59.5L656.3 59.5M655.5 59.5L655.5 66.0M656.3 59.5L656.3 66.0M655.9 60.7L657.4 60.7M655.9 60.7L655.9 60.7M657.4 60.7L657.4 66.0M658.3 59.0L659.3 59.0M658.3 59.0L658.3 66.0M659.3 59.0L659.3 66.0M660.3 61.6L661.0 61.6M660.3 61.6L660.3 66.0M661.0 61.6L661.0 66.0M661.9 60.2L662.7 60.2M661.9 60.2L661.9 66.0M662.7 60.2L662.7 66.0M661.5 61.4L662.3 61.4M661.5 61.4L661.5 66.0M662.3 61.4L662.3 61.4M660.7 57.7L661.9 57.7M660.7 57.7L660.7 61.6M661.9 57.7L661.9 61.4M658.8 57.3L661.3 57.3M658.8 57.3L658.8 59.0M661.3 57.3L661.3 57.7M656.6 56.5L660.0 56.5M656.6 56.5L656.6 60.7M660.0 56.5L660.0 57.3M663.6 61.2L664.3 61.2M663.6 61.2L663.6 66.0M664.3 61.2L664.3 66.0M663.9 59.5L665.2 59.5M663.9 59.5L663.9 61.2M665.2 59.5L665.2 66.0M664.6 60.1L666.0 60.1M664.6 60.1L664.6 60.1M666.0 60.1L666.0 66.0M658.3 55.6L665.3 55.6M658.3 55.6L658.3 56.5M665.3 55.6L665.3 60.1M650.4 56.8L661.8 56.8M650.4 56.8L650.4 57.0M661.8 56.8L661.8 56.8M666.7 58.8L667.6 58.8M666.7 58.8L666.7 66.0M667.6 58.8L667.6 66.0M668.7 59.9L669.8 59.9M668.7 59.9L668.7 66.0M669.8 59.9L669.8 66.0M670.5 60.9L671.3 60.9M670.5 60.9L670.5 66.0M671.3 60.9L671.3 66.0M670.9 59.2L672.4 59.2M670.9 59.2L670.9 60.9M672.4 59.2L672.4 66.0M669.3 59.1L671.6 59.1M669.3 59.1L669.3 59.9M671.6 59.1L671.6 59.2M667.1 56.5L670.5 56.5M667.1 56.5L667.1 58.8M670.5 56.5L670.5 59.1M656.1 55.0L668.8 55.0M656.1 55.0L656.1 56.8M668.8 55.0L668.8 56.5M639.1 54.7L662.4 54.7M639.1 54.7L639.1 54.7M662.4 54.7L662.4 55.0M623.6 54.8L650.8 54.8M623.6 54.8L623.6 57.6M650.8 54.8L650.8 54.8M673.7 61.3L674.7 61.3M673.7 61.3L673.7 66.0M674.7 61.3L674.7 66.0M675.7 61.1L676.5 61.1M675.7 61.1L675.7 66.0M676.5 61.1L676.5 66.0M676.1 60.2L677.2 60.2M676.1 60.2L676.1 61.1M677.2 60.2L677.2 66.0M674.2 57.3L676.6 57.3M674.2 57.3L674.2 61.3M676.6 57.3L676.6 60.2M678.0 60.2L679.2 60.2M678.0 60.2L678.0 66.0M679.2 60.2L679.2 66.0M680.1 60.3L680.9 60.3M680.1 60.3L680.1 66.0M680.9 60.3L680.9 66.0M678.6 58.4L680.5 58.4M678.6 58.4L678.6 60.2M680.5 58.4L680.5 60.3M675.4 57.9L679.5 57.9M675.4 57.9L675.4 57.9M679.5 57.9L679.5 58.4M682.0 59.3L683.0 59.3M682.0 59.3L682.0 66.0M683.0 59.3L683.0 66.0M682.5 59.9L683.9 59.9M682.5 59.9L682.5 59.9M683.9 59.9L683.9 66.0M677.5 56.2L683.2 56.2M677.5 56.2L677.5 57.9M683.2 56.2L683.2 59.9M685.6 60.3L686.3 60.3M685.6 60.3L685.6 66.0M686.3 60.3L686.3 66.0M684.7 60.3L686.0 60.3M684.7 60.3L684.7 66.0M686.0 60.3L686.0 60.3M687.0 62.4L687.7 62.4M687.0 62.4L687.0 66.0M687.7 62.4L687.7 66.0M685.3 60.1L687.3 60.1M685.3 60.1L685.3 60.3M687.3 60.1L687.3 62.4M689.9 60.8L690.7 60.8M689.9 60.8L689.9 66.0M690.7 60.8L690.7 66.0M689.0 60.8L690.3 60.8M689.0 60.8L689.0 66.0M690.3 60.8L690.3 60.8M688.4 59.4L689.6 59.4M688.4 59.4L688.4 66.0M689.6 59.4L689.6 60.8M686.3 57.3L689.0 57.3M686.3 57.3L686.3 60.1M689.0 57.3L689.0 59.4M691.4 60.8L692.4 60.8M691.4 60.8L691.4 66.0M692.4 60.8L692.4 66.0M693.3 61.5L694.3 61.5M693.3 61.5L693.3 66.0M694.3 61.5L694.3 66.0M693.8 59.2L695.4 59.2M693.8 59.2L693.8 61.5M695.4 59.2L695.4 66.0M697.1 61.1L698.1 61.1M697.1 61.1L697.1 66.0M698.1 61.1L698.1 66.0M696.3 59.9L697.6 59.9M696.3 59.9L696.3 66.0M697.6 59.9L697.6 61.1M694.6 58.3L696.9 58.3M694.6 58.3L694.6 59.2M696.9 58.3L696.9 59.9M691.9 57.4L695.8 57.4M691.9 57.4L691.9 60.8M695.8 57.4L695.8 58.3M687.7 55.9L693.8 55.9M687.7 55.9L687.7 57.3M693.8 55.9L693.8 57.4M680.3 55.8L690.7 55.8M680.3 55.8L680.3 56.2M690.7 55.8L690.7 55.9M637.2 54.2L685.5 54.2M637.2 54.2L637.2 54.8M685.5 54.2L685.5 55.8M585.6 53.0L661.4 53.0M585.6 53.0L585.6 53.0M661.4 53.0L661.4 54.2M461.7 50.5L623.5 50.5M461.7 50.5L461.7 50.5M623.5 50.5L623.5 53.0M701.1 59.7L702.0 59.7M701.1 59.7L701.1 66.0M702.0 59.7L702.0 66.0M700.1 59.8L701.6 59.8M700.1 59.8L700.1 66.0M701.6 59.8L701.6 59.8M699.0 58.3L700.8 58.3M699.0 58.3L699.0 66.0M700.8 58.3L700.8 59.8M702.7 61.5L703.6 61.5M702.7 61.5L702.7 66.0M703.6 61.5L703.6 66.0M703.2 59.9L704.4 59.9M703.2 59.9L703.2 61.5M704.4 59.9L704.4 66.0M705.0 61.1L705.9 61.1M705.0 61.1L705.0 66.0M705.9 61.1L705.9 66.0M707.0 60.6L707.9 60.6M707.0 60.6L707.0 66.0M707.9 60.6L707.9 66.0M707.5 60.0L708.7 60.0M707.5 60.0L707.5 60.6M708.7 60.0L708.7 66.0M705.5 57.3L708.1 57.3M705.5 57.3L705.5 61.1M708.1 57.3L708.1 60.0M703.8 58.3L706.8 58.3M703.8 58.3L703.8 59.9M706.8 58.3L706.8 58.3M699.9 56.3L705.3 56.3M699.9 56.3L699.9 58.3M705.3 56.3L705.3 58.3M709.5 60.2L710.2 60.2M709.5 60.2L709.5 66.0M710.2 60.2L710.2 66.0M709.8 61.1L710.9 61.1M709.8 61.1L709.8 61.1M710.9 61.1L710.9 66.0M711.7 60.2L712.5 60.2M711.7 60.2L711.7 66.0M712.5 60.2L712.5 66.0M712.1 57.9L713.5 57.9M712.1 57.9L712.1 60.2M713.5 57.9L713.5 66.0M710.4 58.6L712.8 58.6M710.4 58.6L710.4 61.1M712.8 58.6L712.8 58.6M715.7 61.3L716.5 61.3M715.7 61.3L715.7 66.0M716.5 61.3L716.5 66.0M714.8 58.0L716.1 58.0M714.8 58.0L714.8 66.0M716.1 58.0L716.1 61.3M717.4 60.7L718.2 60.7M717.4 60.7L717.4 66.0M718.2 60.7L718.2 66.0M719.2 59.9L720.5 59.9M719.2 59.9L719.2 66.0M720.5 59.9L720.5 66.0M717.8 57.6L719.9 57.6M717.8 57.6L717.8 60.7M719.9 57.6L719.9 59.9M715.5 56.6L718.8 56.6M715.5 56.6L715.5 58.0M718.8 56.6L718.8 57.6M721.8 61.6L722.7 61.6M721.8 61.6L721.8 66.0M722.7 61.6L722.7 66.0M722.3 58.7L723.5 58.7M722.3 58.7L722.3 61.6M723.5 58.7L723.5 66.0M717.1 55.9L722.9 55.9M717.1 55.9L717.1 56.6M722.9 55.9L722.9 58.7M711.6 57.5L720.0 57.5M711.6 57.5L711.6 58.6M720.0 57.5L720.0 57.5M702.6 53.5L715.8 53.5M702.6 53.5L702.6 56.3M715.8 53.5L715.8 57.5M724.9 59.8L725.7 59.8M724.9 59.8L724.9 66.0M725.7 59.8L725.7 66.0M724.3 61.7L725.3 61.7M724.3 61.7L724.3 66.0M725.3 61.7L725.3 61.7M726.2 59.7L726.9 59.7M726.2 59.7L726.2 66.0M726.9 59.7L726.9 66.0M724.8 57.2L726.5 57.2M724.8 57.2L724.8 61.7M726.5 57.2L726.5 59.7M729.2 61.4L730.0 61.4M729.2 61.4L729.2 66.0M730.0 61.4L730.0 66.0M728.0 58.0L729.6 58.0M728.0 58.0L728.0 66.0M729.6 58.0L729.6 61.4M730.7 61.4L731.6 61.4M730.7 61.4L730.7 66.0M731.6 61.4L731.6 66.0M732.2 61.3L733.0 61.3M732.2 61.3L732.2 66.0M733.0 61.3L733.0 66.0M732.6 60.8L733.9 60.8M732.6 60.8L732.6 61.3M733.9 60.8L733.9 66.0M734.7 61.5L735.4 61.5M734.7 61.5L734.7 66.0M735.4 61.5L735.4 66.0M733.2 59.9L735.1 59.9M733.2 59.9L733.2 60.8M735.1 59.9L735.1 61.5M731.2 59.2L734.1 59.2M731.2 59.2L731.2 61.4M734.1 59.2L734.1 59.9M728.8 58.0L732.6 58.0M728.8 58.0L728.8 58.0M732.6 58.0L732.6 59.2M725.7 57.5L730.7 57.5M725.7 57.5L725.7 57.5M730.7 57.5L730.7 58.0M736.3 59.4L737.3 59.4M736.3 59.4L736.3 66.0M737.3 59.4L737.3 66.0M738.8 59.3L739.5 59.3M738.8 59.3L738.8 66.0M739.5 59.3L739.5 66.0M738.1 58.6L739.2 58.6M738.1 58.6L738.1 66.0M739.2 58.6L739.2 59.3M736.8 59.8L738.6 59.8M736.8 59.8L736.8 59.8M738.6 59.8L738.6 59.8M728.2 56.8L737.7 56.8M728.2 56.8L728.2 57.5M737.7 56.8L737.7 59.8M741.5 60.5L742.2 60.5M741.5 60.5L741.5 66.0M742.2 60.5L742.2 66.0M741.9 60.7L743.2 60.7M741.9 60.7L741.9 60.7M743.2 60.7L743.2 66.0M744.3 60.4L745.3 60.4M744.3 60.4L744.3 66.0M745.3 60.4L745.3 66.0M744.8 57.9L746.0 57.9M744.8 57.9L744.8 60.4M746.0 57.9L746.0 66.0M742.5 58.2L745.4 58.2M742.5 58.2L742.5 60.7M745.4 58.2L745.4 58.2M740.5 58.7L744.0 58.7M740.5 58.7L740.5 66.0M744.0 58.7L744.0 58.7M749.1 60.4L750.0 60.4M749.1 60.4L749.1 66.0M750.0 60.4L750.0 66.0M748.1 60.9L749.5 60.9M748.1 60.9L748.1 66.0M749.5 60.9L749.5 60.9M751.0 58.7L751.9 58.7M751.0 58.7L751.0 66.0M751.9 58.7L751.9 66.0M748.8 59.7L751.5 59.7M748.8 59.7L748.8 60.9M751.5 59.7L751.5 59.7M746.9 58.1L750.2 58.1M746.9 58.1L746.9 66.0M750.2 58.1L750.2 59.7M742.2 57.6L748.6 57.6M742.2 57.6L742.2 58.7M748.6 57.6L748.6 58.1M754.0 61.2L754.9 61.2M754.0 61.2L754.0 66.0M754.9 61.2L754.9 66.0M752.8 58.9L754.4 58.9M752.8 58.9L752.8 66.0M754.4 58.9L754.4 61.2M755.7 60.9L756.5 60.9M755.7 60.9L755.7 66.0M756.5 60.9L756.5 66.0M757.3 59.9L758.1 59.9M757.3 59.9L757.3 66.0M758.1 59.9L758.1 66.0M757.7 59.5L758.8 59.5M757.7 59.5L757.7 59.9M758.8 59.5L758.8 66.0M758.2 58.3L759.6 58.3M758.2 58.3L758.2 59.5M759.6 58.3L759.6 66.0M756.1 58.0L758.9 58.0M756.1 58.0L756.1 60.9M758.9 58.0L758.9 58.3M753.6 58.4L757.5 58.4M753.6 58.4L753.6 58.9M757.5 58.4L757.5 58.4M760.8 60.7L761.9 60.7M760.8 60.7L760.8 66.0M761.9 60.7L761.9 66.0M762.9 59.1L764.0 59.1M762.9 59.1L762.9 66.0M764.0 59.1L764.0 66.0M761.4 59.8L763.5 59.8M761.4 59.8L761.4 60.7M763.5 59.8L763.5 59.8M755.6 56.7L762.4 56.7M755.6 56.7L755.6 58.4M762.4 56.7L762.4 59.8M745.4 55.0L759.0 55.0M745.4 55.0L745.4 57.6M759.0 55.0L759.0 56.7M767.8 61.6L768.6 61.6M767.8 61.6L767.8 66.0M768.6 61.6L768.6 66.0M768.2 60.4L769.2 60.4M768.2 60.4L768.2 61.6M769.2 60.4L769.2 66.0M767.1 58.4L768.7 58.4M767.1 58.4L767.1 66.0M768.7 58.4L768.7 60.4M766.4 58.2L767.9 58.2M766.4 58.2L766.4 66.0M767.9 58.2L767.9 58.4M767.2 58.4L770.0 58.4M767.2 58.4L767.2 58.4M770.0 58.4L770.0 66.0M765.4 58.5L768.6 58.5M765.4 58.5L765.4 66.0M768.6 58.5L768.6 58.5M771.2 60.6L772.1 60.6M771.2 60.6L771.2 66.0M772.1 60.6L772.1 66.0M771.7 59.4L773.1 59.4M771.7 59.4L771.7 60.6M773.1 59.4L773.1 66.0M772.4 58.8L774.4 58.8M772.4 58.8L772.4 59.4M774.4 58.8L774.4 66.0M767.0 57.6L773.4 57.6M767.0 57.6L767.0 58.5M773.4 57.6L773.4 58.8M776.7 59.8L777.6 59.8M776.7 59.8L776.7 66.0M777.6 59.8L777.6 66.0M777.2 60.7L778.5 60.7M777.2 60.7L777.2 60.7M778.5 60.7L778.5 66.0M775.5 56.9L777.8 56.9M775.5 56.9L775.5 66.0M777.8 56.9L777.8 60.7M779.3 60.0L780.0 60.0M779.3 60.0L779.3 66.0M780.0 60.0L780.0 66.0M779.7 60.9L780.7 60.9M779.7 60.9L779.7 60.9M780.7 60.9L780.7 66.0M776.7 56.3L780.2 56.3M776.7 56.3L776.7 56.9M780.2 56.3L780.2 60.9M781.3 60.4L782.1 60.4M781.3 60.4L781.3 66.0M782.1 60.4L782.1 66.0M782.7 61.0L783.5 61.0M782.7 61.0L782.7 66.0M783.5 61.0L783.5 66.0M783.1 61.0L784.6 61.0M783.1 61.0L783.1 61.0M784.6 61.0L784.6 66.0M781.7 58.2L783.8 58.2M781.7 58.2L781.7 60.4M783.8 58.2L783.8 61.0M778.4 56.5L782.8 56.5M778.4 56.5L778.4 56.5M782.8 56.5L782.8 58.2M785.6 61.1L786.3 61.1M785.6 61.1L785.6 66.0M786.3 61.1L786.3 66.0M788.0 60.4L788.8 60.4M788.0 60.4L788.0 66.0M788.8 60.4L788.8 66.0M788.4 60.6L789.7 60.6M788.4 60.6L788.4 60.6M789.7 60.6L789.7 66.0M786.9 58.2L789.0 58.2M786.9 58.2L786.9 66.0M789.0 58.2L789.0 60.6M788.0 57.9L791.0 57.9M788.0 57.9L788.0 58.2M791.0 57.9L791.0 66.0M785.9 56.3L789.5 56.3M785.9 56.3L785.9 61.1M789.5 56.3L789.5 57.9M780.6 54.8L787.7 54.8M780.6 54.8L780.6 56.5M787.7 54.8L787.7 56.3M770.2 55.2L784.2 55.2M770.2 55.2L770.2 57.6M784.2 55.2L784.2 55.2M752.2 52.5L777.2 52.5M752.2 52.5L752.2 55.0M777.2 52.5L777.2 55.2M732.9 54.3L764.7 54.3M732.9 54.3L732.9 56.8M764.7 54.3L764.7 54.3M709.2 54.3L748.8 54.3M709.2 54.3L709.2 54.3M748.8 54.3L748.8 54.3M542.6 48.0L729.0 48.0M542.6 48.0L542.6 50.5M729.0 48.0L729.0 54.3M246.5 47.6L635.8 47.6M246.5 47.6L246.5 48.9M635.8 47.6L635.8 48.0" stroke="#000" stroke-width="1.15" fill="none"/>
<rect x="92.00" y="62.60" width="699.60" height="3.60" fill="#000"/>
<path d="M90.2 91.2H58.4V186.4H69.1 M88.5 144.3H69.1V223.1H80.2 M90.2 197.7H80.2V250.5H90.2 M58.4 139.6H46.8V304.6H90.2" stroke="#111" stroke-width="2.2" fill="none"/>
<line x1="792.20" y1="93.40" x2="794.20" y2="93.40" stroke="#999" stroke-width="1.1"/>
<line x1="792.20" y1="146.50" x2="794.20" y2="146.50" stroke="#999" stroke-width="1.1"/>
<line x1="792.20" y1="199.60" x2="794.20" y2="199.60" stroke="#999" stroke-width="1.1"/>
<line x1="792.20" y1="252.70" x2="794.20" y2="252.70" stroke="#999" stroke-width="1.1"/>
<line x1="792.20" y1="306.20" x2="794.20" y2="306.20" stroke="#999" stroke-width="1.1"/>
<text x="799.5" y="99.1" font-size="26.9" fill="#000">Tolorone</text>
<text x="799.5" y="154.4" font-size="26.9" fill="#000">Control</text>
<text x="799.5" y="210.4" font-size="26.9" fill="#000">Piceatannol</text>
<text x="799.5" y="265.0" font-size="26.9" fill="#000">Raloxifene</text>
<text x="799.5" y="315.7" font-size="26.9" fill="#000">MTAN</text>
<defs><linearGradient id="cbar" x1="0" x2="1" y1="0" y2="1" gradientUnits="objectBoundingBox"></linearGradient></defs>
<defs><linearGradient id="cb2" x1="577.4" x2="673.9" y1="0" y2="0" gradientUnits="userSpaceOnUse"><stop offset="0" stop-color="#0000ff"/><stop offset="0.257" stop-color="#0000ff"/><stop offset="0.507" stop-color="#ffffff"/><stop offset="0.744" stop-color="#ff0000"/><stop offset="1" stop-color="#ff0000"/></linearGradient></defs>
<rect x="577.40" y="366.70" width="96.50" height="22.20" fill="url(#cb2)"/>
<line x1="580.60" y1="366.70" x2="580.60" y2="371.00" stroke="#fff" stroke-width="0.9"/>
<line x1="580.60" y1="383.80" x2="580.60" y2="388.90" stroke="#fff" stroke-width="0.9"/>
<line x1="603.50" y1="366.70" x2="603.50" y2="371.00" stroke="#fff" stroke-width="0.9"/>
<line x1="603.50" y1="383.80" x2="603.50" y2="388.90" stroke="#fff" stroke-width="0.9"/>
<line x1="648.50" y1="366.70" x2="648.50" y2="371.00" stroke="#fff" stroke-width="0.9"/>
<line x1="648.50" y1="383.80" x2="648.50" y2="388.90" stroke="#fff" stroke-width="0.9"/>
<line x1="672.00" y1="366.70" x2="672.00" y2="371.00" stroke="#fff" stroke-width="0.9"/>
<line x1="672.00" y1="383.80" x2="672.00" y2="388.90" stroke="#fff" stroke-width="0.9"/>
<text x="577.0" y="363.5" font-size="18.5" text-anchor="middle" fill="#000">-4</text>
<text x="601.9" y="363.5" font-size="18.5" text-anchor="middle" fill="#000">-2</text>
<text x="626.8" y="363.5" font-size="18.5" text-anchor="middle" fill="#000">0</text>
<text x="649.2" y="363.5" font-size="18.5" text-anchor="middle" fill="#000">2</text>
<text x="672.7" y="363.5" font-size="18.5" text-anchor="middle" fill="#000">4</text>
<text x="633.8" y="414.0" font-size="19.6" text-anchor="middle" fill="#000">Expression (Log 2)</text>
<line x1="1072.0" y1="106.0" x2="1325.4" y2="106.0" stroke="#000" stroke-width="2" stroke-dasharray="2 3.5"/>
<line x1="1072.0" y1="198.3" x2="1325.4" y2="198.3" stroke="#000" stroke-width="2" stroke-dasharray="2 3.5"/>
<line x1="1072.0" y1="290.7" x2="1325.4" y2="290.7" stroke="#000" stroke-width="2" stroke-dasharray="2 3.5"/>
<path d="M1064.0 69.1H1326.4V328.2H1064.0 M1068.0 69.1V328.2" stroke="#000" stroke-width="2.5" fill="none"/>
<line x1="1063.50" y1="106.00" x2="1068.00" y2="106.00" stroke="#000" stroke-width="2.4"/>
<text x="1063.5" y="112.8" font-size="23.5" text-anchor="end" fill="#000">100</text>
<line x1="1063.50" y1="142.94" x2="1068.00" y2="142.94" stroke="#000" stroke-width="2.4"/>
<text x="1063.5" y="149.7" font-size="23.5" text-anchor="end" fill="#000">80</text>
<line x1="1063.50" y1="179.88" x2="1068.00" y2="179.88" stroke="#000" stroke-width="2.4"/>
<text x="1063.5" y="186.7" font-size="23.5" text-anchor="end" fill="#000">60</text>
<line x1="1063.50" y1="216.82" x2="1068.00" y2="216.82" stroke="#000" stroke-width="2.4"/>
<text x="1063.5" y="223.6" font-size="23.5" text-anchor="end" fill="#000">40</text>
<line x1="1063.50" y1="253.76" x2="1068.00" y2="253.76" stroke="#000" stroke-width="2.4"/>
<text x="1063.5" y="260.6" font-size="23.5" text-anchor="end" fill="#000">20</text>
<line x1="1063.50" y1="290.70" x2="1068.00" y2="290.70" stroke="#000" stroke-width="2.4"/>
<text x="1063.5" y="297.5" font-size="23.5" text-anchor="end" fill="#000">0</text>
<line x1="1068.00" y1="328.20" x2="1068.00" y2="335.40" stroke="#000" stroke-width="2.4"/>
<line x1="1091.40" y1="328.20" x2="1091.40" y2="332.30" stroke="#000" stroke-width="2.2"/>
<line x1="1102.55" y1="328.20" x2="1102.55" y2="332.30" stroke="#000" stroke-width="2.2"/>
<line x1="1109.84" y1="328.20" x2="1109.84" y2="332.30" stroke="#000" stroke-width="2.2"/>
<line x1="1115.26" y1="328.20" x2="1115.26" y2="332.30" stroke="#000" stroke-width="2.2"/>
<line x1="1119.65" y1="328.20" x2="1119.65" y2="335.40" stroke="#000" stroke-width="2.4"/>
<line x1="1143.05" y1="328.20" x2="1143.05" y2="332.30" stroke="#000" stroke-width="2.2"/>
<line x1="1154.20" y1="328.20" x2="1154.20" y2="332.30" stroke="#000" stroke-width="2.2"/>
<line x1="1161.49" y1="328.20" x2="1161.49" y2="332.30" stroke="#000" stroke-width="2.2"/>
<line x1="1166.91" y1="328.20" x2="1166.91" y2="332.30" stroke="#000" stroke-width="2.2"/>
<line x1="1171.30" y1="328.20" x2="1171.30" y2="335.40" stroke="#000" stroke-width="2.4"/>
<line x1="1194.70" y1="328.20" x2="1194.70" y2="332.30" stroke="#000" stroke-width="2.2"/>
<line x1="1205.85" y1="328.20" x2="1205.85" y2="332.30" stroke="#000" stroke-width="2.2"/>
<line x1="1213.14" y1="328.20" x2="1213.14" y2="332.30" stroke="#000" stroke-width="2.2"/>
<line x1="1218.56" y1="328.20" x2="1218.56" y2="332.30" stroke="#000" stroke-width="2.2"/>
<line x1="1222.95" y1="328.20" x2="1222.95" y2="335.40" stroke="#000" stroke-width="2.4"/>
<line x1="1246.35" y1="328.20" x2="1246.35" y2="332.30" stroke="#000" stroke-width="2.2"/>
<line x1="1257.50" y1="328.20" x2="1257.50" y2="332.30" stroke="#000" stroke-width="2.2"/>
<line x1="1264.79" y1="328.20" x2="1264.79" y2="332.30" stroke="#000" stroke-width="2.2"/>
<line x1="1270.21" y1="328.20" x2="1270.21" y2="332.30" stroke="#000" stroke-width="2.2"/>
<line x1="1274.60" y1="328.20" x2="1274.60" y2="335.40" stroke="#000" stroke-width="2.4"/>
<line x1="1298.00" y1="328.20" x2="1298.00" y2="332.30" stroke="#000" stroke-width="2.2"/>
<line x1="1309.15" y1="328.20" x2="1309.15" y2="332.30" stroke="#000" stroke-width="2.2"/>
<line x1="1316.44" y1="328.20" x2="1316.44" y2="332.30" stroke="#000" stroke-width="2.2"/>
<line x1="1321.86" y1="328.20" x2="1321.86" y2="332.30" stroke="#000" stroke-width="2.2"/>
<line x1="1326.25" y1="328.20" x2="1326.25" y2="335.40" stroke="#000" stroke-width="2.4"/>
<text x="1059.9" y="365.3" font-size="23" text-anchor="middle" fill="#000">-1.0</text>
<text x="1117.5" y="365.3" font-size="23" text-anchor="middle" fill="#000">-0.5</text>
<text x="1172.2" y="365.3" font-size="23" text-anchor="middle" fill="#000">0</text>
<text x="1221.1" y="365.3" font-size="23" text-anchor="middle" fill="#000">0.5</text>
<text x="1273.7" y="365.3" font-size="23" text-anchor="middle" fill="#000">1.0</text>
<text x="1328.2" y="365.3" font-size="23" text-anchor="middle" fill="#000">1.5</text>
<text x="1194.6" y="396.2" font-size="23.7" text-anchor="middle" fill="#000">Log (Tilorone, &#956;M)</text>
<text transform="translate(1016.3,202) rotate(-90)" font-size="23.7" text-anchor="middle" fill="#000">CPE reduction (%)</text>
<polyline points="1075.1,282.5 1077.9,282.1 1080.6,281.8 1083.4,281.5 1086.1,281.1 1088.9,280.7 1091.7,280.2 1094.4,279.8 1097.2,279.3 1099.9,278.8 1102.7,278.2 1105.4,277.7 1108.2,277.0 1110.9,276.4 1113.7,275.7 1116.5,274.9 1119.2,274.2 1122.0,273.3 1124.7,272.4 1127.5,271.5 1130.2,270.5 1133.0,269.5 1135.7,268.4 1138.5,267.2 1141.3,266.0 1144.0,264.6 1146.8,263.3 1149.5,261.8 1152.3,260.3 1155.0,258.7 1157.8,257.0 1160.5,255.2 1163.3,253.3 1166.0,251.4 1168.8,249.3 1171.6,247.2 1174.3,244.9 1177.1,242.6 1179.8,240.2 1182.6,237.6 1185.3,235.0 1188.1,232.3 1190.8,229.4 1193.6,226.5 1196.4,223.5 1199.1,220.3 1201.9,217.1 1204.6,213.8 1207.4,210.4 1210.1,206.9 1212.9,203.4 1215.6,199.8 1218.4,196.1 1221.1,192.3 1223.9,188.5 1226.7,184.7 1229.4,180.8 1232.2,176.9 1234.9,173.0 1237.7,169.0 1240.4,165.1 1243.2,161.1 1245.9,157.2 1248.7,153.3 1251.5,149.4 1254.2,145.6 1257.0,141.8 1259.7,138.0 1262.5,134.4 1265.2,130.7 1268.0,127.2 1270.7,123.7 1273.5,120.3 1276.3,117.0 1279.0,113.8 1281.8,110.7 1284.5,107.7 1287.3,104.7 1290.0,101.9 1292.8,99.2" fill="none" stroke="#f0166e" stroke-width="2.6"/>
<polyline points="1075.1,288.6 1077.9,288.6 1080.6,288.6 1083.4,288.6 1086.1,288.6 1088.9,288.6 1091.7,288.5 1094.4,288.5 1097.2,288.5 1099.9,288.5 1102.7,288.4 1105.4,288.4 1108.2,288.4 1110.9,288.4 1113.7,288.3 1116.5,288.3 1119.2,288.2 1122.0,288.2 1124.7,288.2 1127.5,288.1 1130.2,288.1 1133.0,288.0 1135.7,288.0 1138.5,287.9 1141.3,287.9 1144.0,287.8 1146.8,287.7 1149.5,287.7 1152.3,287.6 1155.0,287.5 1157.8,287.4 1160.5,287.3 1163.3,287.2 1166.0,287.1 1168.8,287.0 1171.6,286.9 1174.3,286.7 1177.1,286.6 1179.8,286.5 1182.6,286.3 1185.3,286.1 1188.1,286.0 1190.8,285.8 1193.6,285.6 1196.4,285.4 1199.1,285.2 1201.9,284.9 1204.6,284.7 1207.4,284.4 1210.1,284.1 1212.9,283.8 1215.6,283.5 1218.4,283.1 1221.1,282.7 1223.9,282.3 1226.7,281.9 1229.4,281.5 1232.2,281.0 1234.9,280.5 1237.7,280.0 1240.4,279.4 1243.2,278.8 1245.9,278.1 1248.7,277.4 1251.5,276.7 1254.2,275.9 1257.0,275.1 1259.7,274.2 1262.5,273.2 1265.2,272.2 1268.0,271.2 1270.7,270.0 1273.5,268.8 1276.3,267.5 1279.0,266.1 1281.8,264.7 1284.5,263.1 1287.3,261.4 1290.0,259.7 1292.8,257.8" fill="none" stroke="#000" stroke-width="2.6"/>
<circle cx="1075.1" cy="289.0" r="5" fill="#000"/>
<circle cx="1106.2" cy="289.8" r="5" fill="#000"/>
<circle cx="1137.3" cy="288.4" r="5" fill="#000"/>
<circle cx="1168.4" cy="278.6" r="5" fill="#000"/>
<circle cx="1199.5" cy="287.3" r="5" fill="#000"/>
<circle cx="1230.6" cy="287.3" r="5" fill="#000"/>
<circle cx="1261.7" cy="279.2" r="5" fill="#000"/>
<path d="M1292.8 249.2V262.3 M1286.3 249.2h13 M1286.3 262.3h13" stroke="#000" stroke-width="2.4" fill="none"/>
<circle cx="1292.8" cy="255.3" r="5" fill="#000"/>
<rect x="1069.53" y="267.60" width="11.20" height="13.20" fill="#f0166e"/>
<rect x="1101.22" y="275.60" width="10.00" height="10.00" fill="#f0166e"/>
<rect x="1132.31" y="273.60" width="10.00" height="10.00" fill="#f0166e"/>
<path d="M1168.4 241.3V272.2 M1161.9 241.3h13 M1161.9 272.2h13" stroke="#f0166e" stroke-width="2.4" fill="none"/>
<rect x="1163.41" y="252.00" width="10.00" height="10.00" fill="#f0166e"/>
<path d="M1199.5 165.5V196.4 M1193.0 165.5h13 M1193.0 196.4h13" stroke="#f0166e" stroke-width="2.4" fill="none"/>
<rect x="1194.50" y="176.00" width="10.00" height="10.00" fill="#f0166e"/>
<path d="M1230.6 185.2V251.1 M1224.1 185.2h13 M1224.1 251.1h13" stroke="#f0166e" stroke-width="2.4" fill="none"/>
<rect x="1225.59" y="213.30" width="10.00" height="10.00" fill="#f0166e"/>
<path d="M1261.7 96.2V117.3 M1255.2 96.2h13 M1255.2 117.3h13" stroke="#f0166e" stroke-width="2.4" fill="none"/>
<rect x="1256.69" y="101.60" width="10.00" height="10.00" fill="#f0166e"/>
<path d="M1292.8 75.8V127.7 M1286.3 75.8h13 M1286.3 127.7h13" stroke="#f0166e" stroke-width="2.4" fill="none"/>
<rect x="1287.78" y="96.60" width="10.00" height="10.00" fill="#f0166e"/>
<line x1="1076.60" y1="123.90" x2="1105.70" y2="123.90" stroke="#000" stroke-width="2.4"/>
<circle cx="1091.1" cy="123.9" r="5.3" fill="#000"/>
<text x="1111.5" y="130.8" font-size="23" fill="#000">+DMSO</text>
<line x1="1076.60" y1="155.90" x2="1105.70" y2="155.90" stroke="#f0166e" stroke-width="2.4"/>
<rect x="1086.20" y="151.10" width="10.20" height="10.00" fill="#f0166e"/>
<text x="1111.5" y="164.2" font-size="23" fill="#000">+Ralo.</text>
<rect x="113.50" y="565.10" width="54.24" height="54.18" fill="rgb(162,0,0)"/>
<rect x="167.34" y="565.10" width="54.24" height="54.18" fill="rgb(189,0,0)"/>
<rect x="221.18" y="565.10" width="54.24" height="54.18" fill="rgb(139,0,0)"/>
<rect x="275.02" y="565.10" width="54.24" height="54.18" fill="rgb(52,0,0)"/>
<rect x="328.86" y="565.10" width="54.24" height="54.18" fill="rgb(65,0,0)"/>
<rect x="113.50" y="618.88" width="54.24" height="54.18" fill="rgb(191,0,0)"/>
<rect x="167.34" y="618.88" width="54.24" height="54.18" fill="rgb(164,0,0)"/>
<rect x="221.18" y="618.88" width="54.24" height="54.18" fill="rgb(50,0,0)"/>
<rect x="275.02" y="618.88" width="54.24" height="54.18" fill="rgb(24,0,0)"/>
<rect x="328.86" y="618.88" width="54.24" height="54.18" fill="rgb(6,0,0)"/>
<rect x="113.50" y="672.66" width="54.24" height="54.18" fill="rgb(208,0,0)"/>
<rect x="167.34" y="672.66" width="54.24" height="54.18" fill="rgb(122,0,0)"/>
<rect x="221.18" y="672.66" width="54.24" height="54.18" fill="rgb(48,0,0)"/>
<rect x="275.02" y="672.66" width="54.24" height="54.18" fill="rgb(18,0,0)"/>
<rect x="328.86" y="672.66" width="54.24" height="54.18" fill="rgb(5,0,0)"/>
<rect x="113.50" y="726.44" width="54.24" height="54.18" fill="rgb(220,0,0)"/>
<rect x="167.34" y="726.44" width="54.24" height="54.18" fill="rgb(77,0,0)"/>
<rect x="221.18" y="726.44" width="54.24" height="54.18" fill="rgb(20,0,0)"/>
<rect x="275.02" y="726.44" width="54.24" height="54.18" fill="rgb(0,0,0)"/>
<rect x="328.86" y="726.44" width="54.24" height="54.18" fill="rgb(4,0,0)"/>
<rect x="113.50" y="780.22" width="54.24" height="54.18" fill="rgb(204,0,0)"/>
<rect x="167.34" y="780.22" width="54.24" height="54.18" fill="rgb(87,0,0)"/>
<rect x="221.18" y="780.22" width="54.24" height="54.18" fill="rgb(4,0,0)"/>
<rect x="275.02" y="780.22" width="54.24" height="54.18" fill="rgb(6,0,0)"/>
<rect x="328.86" y="780.22" width="54.24" height="54.18" fill="rgb(0,0,0)"/>
<rect x="113.50" y="834.00" width="54.24" height="54.18" fill="rgb(201,0,0)"/>
<rect x="167.34" y="834.00" width="54.24" height="54.18" fill="rgb(22,0,0)"/>
<rect x="221.18" y="834.00" width="54.24" height="54.18" fill="rgb(0,0,0)"/>
<rect x="275.02" y="834.00" width="54.24" height="54.18" fill="rgb(0,0,0)"/>
<rect x="328.86" y="834.00" width="54.24" height="54.18" fill="rgb(0,0,0)"/>
<text x="141.2" y="592.4" font-size="18.6" text-anchor="middle" textLength="39.2" lengthAdjust="spacingAndGlyphs" fill="#fff">36.5</text>
<text x="195.1" y="592.4" font-size="18.6" text-anchor="middle" textLength="39.2" lengthAdjust="spacingAndGlyphs" fill="#fff">25.9</text>
<text x="248.9" y="592.4" font-size="18.6" text-anchor="middle" textLength="39.2" lengthAdjust="spacingAndGlyphs" fill="#fff">45.3</text>
<text x="302.7" y="592.4" font-size="18.6" text-anchor="middle" textLength="39.2" lengthAdjust="spacingAndGlyphs" fill="#fff">79.8</text>
<text x="356.6" y="592.4" font-size="18.6" text-anchor="middle" textLength="39.2" lengthAdjust="spacingAndGlyphs" fill="#fff">74.7</text>
<text x="141.2" y="646.2" font-size="18.6" text-anchor="middle" textLength="39.2" lengthAdjust="spacingAndGlyphs" fill="#fff">25.1</text>
<text x="195.1" y="646.2" font-size="18.6" text-anchor="middle" textLength="39.2" lengthAdjust="spacingAndGlyphs" fill="#fff">35.7</text>
<text x="248.9" y="646.2" font-size="18.6" text-anchor="middle" textLength="39.2" lengthAdjust="spacingAndGlyphs" fill="#fff">80.2</text>
<text x="302.7" y="646.2" font-size="18.6" text-anchor="middle" textLength="39.2" lengthAdjust="spacingAndGlyphs" fill="#fff">90.6</text>
<text x="356.6" y="646.2" font-size="18.6" text-anchor="middle" textLength="39.2" lengthAdjust="spacingAndGlyphs" fill="#fff">97.7</text>
<text x="141.2" y="700.0" font-size="18.6" text-anchor="middle" textLength="39.2" lengthAdjust="spacingAndGlyphs" fill="#fff">18.5</text>
<text x="195.1" y="700.0" font-size="18.6" text-anchor="middle" textLength="39.2" lengthAdjust="spacingAndGlyphs" fill="#fff">52.2</text>
<text x="248.9" y="700.0" font-size="18.6" text-anchor="middle" textLength="39.2" lengthAdjust="spacingAndGlyphs" fill="#fff">81.1</text>
<text x="302.7" y="700.0" font-size="18.6" text-anchor="middle" textLength="22.4" lengthAdjust="spacingAndGlyphs" fill="#fff">93</text>
<text x="356.6" y="700.0" font-size="18.6" text-anchor="middle" textLength="22.4" lengthAdjust="spacingAndGlyphs" fill="#fff">98</text>
<text x="141.2" y="753.7" font-size="18.6" text-anchor="middle" textLength="39.2" lengthAdjust="spacingAndGlyphs" fill="#fff">13.8</text>
<text x="195.1" y="753.7" font-size="18.6" text-anchor="middle" textLength="39.2" lengthAdjust="spacingAndGlyphs" fill="#fff">69.7</text>
<text x="248.9" y="753.7" font-size="18.6" text-anchor="middle" textLength="39.2" lengthAdjust="spacingAndGlyphs" fill="#fff">92.2</text>
<text x="302.7" y="753.7" font-size="18.6" text-anchor="middle" textLength="50.4" lengthAdjust="spacingAndGlyphs" fill="#fff">100.5</text>
<text x="356.6" y="753.7" font-size="18.6" text-anchor="middle" textLength="39.2" lengthAdjust="spacingAndGlyphs" fill="#fff">98.4</text>
<text x="141.2" y="807.5" font-size="18.6" text-anchor="middle" textLength="39.2" lengthAdjust="spacingAndGlyphs" fill="#fff">20.1</text>
<text x="195.1" y="807.5" font-size="18.6" text-anchor="middle" textLength="39.2" lengthAdjust="spacingAndGlyphs" fill="#fff">65.7</text>
<text x="248.9" y="807.5" font-size="18.6" text-anchor="middle" textLength="39.2" lengthAdjust="spacingAndGlyphs" fill="#fff">98.3</text>
<text x="302.7" y="807.5" font-size="18.6" text-anchor="middle" textLength="39.2" lengthAdjust="spacingAndGlyphs" fill="#fff">97.8</text>
<text x="356.6" y="807.5" font-size="18.6" text-anchor="middle" textLength="33.6" lengthAdjust="spacingAndGlyphs" fill="#fff">101</text>
<text x="141.2" y="861.3" font-size="18.6" text-anchor="middle" textLength="39.2" lengthAdjust="spacingAndGlyphs" fill="#fff">21.3</text>
<text x="195.1" y="861.3" font-size="18.6" text-anchor="middle" textLength="39.2" lengthAdjust="spacingAndGlyphs" fill="#fff">91.3</text>
<text x="248.9" y="861.3" font-size="18.6" text-anchor="middle" textLength="39.2" lengthAdjust="spacingAndGlyphs" fill="#fff">99.9</text>
<text x="302.7" y="861.3" font-size="18.6" text-anchor="middle" textLength="50.4" lengthAdjust="spacingAndGlyphs" fill="#fff">101.1</text>
<text x="356.6" y="861.3" font-size="18.6" text-anchor="middle" textLength="50.4" lengthAdjust="spacingAndGlyphs" fill="#fff">100.6</text>
<text x="396.5" y="594.4" font-size="24" fill="#000">10</text>
<text x="396.5" y="648.2" font-size="24" fill="#000">5.0</text>
<text x="396.5" y="702.0" font-size="24" fill="#000">2.5</text>
<text x="396.5" y="755.8" font-size="24" fill="#000">1.3</text>
<text x="396.5" y="809.6" font-size="24" fill="#000">0.63</text>
<text x="396.5" y="863.4" font-size="24" fill="#000">0</text>
<text x="139.9" y="915.3" font-size="23.6" text-anchor="middle" fill="#000">5.0</text>
<text x="198.6" y="915.3" font-size="23.6" text-anchor="middle" fill="#000">2.5</text>
<text x="248.0" y="915.3" font-size="23.6" text-anchor="middle" fill="#000">1.25</text>
<text x="307.2" y="915.3" font-size="23.6" text-anchor="middle" fill="#000">0.63</text>
<text x="362.8" y="915.3" font-size="23.6" text-anchor="middle" fill="#000">0</text>
<text x="249.0" y="950.1" font-size="23.3" text-anchor="middle" textLength="168.5" lengthAdjust="spacingAndGlyphs" fill="#000">Raloxifene (&#956;M)</text>
<text transform="translate(453.8,723.2) rotate(90)" font-size="24" text-anchor="middle">Tilorone (&#956;M)</text>
<text x="249.5" y="554.0" font-size="26.2" text-anchor="middle" fill="#000">Activity matrix</text>
<text x="470.2" y="508.6" font-size="27" text-anchor="middle" fill="#000">Cytopathic effect (N=2)</text>
<line x1="113.80" y1="520.90" x2="819.20" y2="520.90" stroke="#111" stroke-width="2.6"/>
<rect x="548.70" y="565.00" width="53.84" height="53.78" fill="#a7cfe4" stroke="#e4e4e4" stroke-width="0.8"/>
<rect x="602.54" y="565.00" width="53.84" height="53.78" fill="#e88a6d" stroke="#e4e4e4" stroke-width="0.8"/>
<rect x="656.38" y="565.00" width="53.84" height="53.78" fill="#f5bfa1" stroke="#e4e4e4" stroke-width="0.8"/>
<rect x="710.22" y="565.00" width="53.84" height="53.78" fill="#e2ecf4" stroke="#e4e4e4" stroke-width="0.8"/>
<rect x="764.06" y="565.00" width="53.84" height="53.78" fill="#f7f7f7" stroke="#e4e4e4" stroke-width="0.8"/>
<rect x="548.70" y="618.78" width="53.84" height="53.78" fill="#e5edf5" stroke="#e4e4e4" stroke-width="0.8"/>
<rect x="602.54" y="618.78" width="53.84" height="53.78" fill="#dd6f56" stroke="#e4e4e4" stroke-width="0.8"/>
<rect x="656.38" y="618.78" width="53.84" height="53.78" fill="#f9dccb" stroke="#e4e4e4" stroke-width="0.8"/>
<rect x="710.22" y="618.78" width="53.84" height="53.78" fill="#f7ebe5" stroke="#e4e4e4" stroke-width="0.8"/>
<rect x="764.06" y="618.78" width="53.84" height="53.78" fill="#f7f7f7" stroke="#e4e4e4" stroke-width="0.8"/>
<rect x="548.70" y="672.56" width="53.84" height="53.78" fill="#f7f2ef" stroke="#e4e4e4" stroke-width="0.8"/>
<rect x="602.54" y="672.56" width="53.84" height="53.78" fill="#f2a584" stroke="#e4e4e4" stroke-width="0.8"/>
<rect x="656.38" y="672.56" width="53.84" height="53.78" fill="#f9dfd0" stroke="#e4e4e4" stroke-width="0.8"/>
<rect x="710.22" y="672.56" width="53.84" height="53.78" fill="#f7eee9" stroke="#e4e4e4" stroke-width="0.8"/>
<rect x="764.06" y="672.56" width="53.84" height="53.78" fill="#f7f7f7" stroke="#e4e4e4" stroke-width="0.8"/>
<rect x="548.70" y="726.34" width="53.84" height="53.78" fill="#f8e9e2" stroke="#e4e4e4" stroke-width="0.8"/>
<rect x="602.54" y="726.34" width="53.84" height="53.78" fill="#f8d1bc" stroke="#e4e4e4" stroke-width="0.8"/>
<rect x="656.38" y="726.34" width="53.84" height="53.78" fill="#f7ede8" stroke="#e4e4e4" stroke-width="0.8"/>
<rect x="710.22" y="726.34" width="53.84" height="53.78" fill="#eef2f6" stroke="#e4e4e4" stroke-width="0.8"/>
<rect x="764.06" y="726.34" width="53.84" height="53.78" fill="#f7f7f7" stroke="#e4e4e4" stroke-width="0.8"/>
<rect x="548.70" y="780.12" width="53.84" height="53.78" fill="#f7f5f4" stroke="#e4e4e4" stroke-width="0.8"/>
<rect x="602.54" y="780.12" width="53.84" height="53.78" fill="#f7cab1" stroke="#e4e4e4" stroke-width="0.8"/>
<rect x="656.38" y="780.12" width="53.84" height="53.78" fill="#f7f3f1" stroke="#e4e4e4" stroke-width="0.8"/>
<rect x="710.22" y="780.12" width="53.84" height="53.78" fill="#f7f3f1" stroke="#e4e4e4" stroke-width="0.8"/>
<rect x="764.06" y="780.12" width="53.84" height="53.78" fill="#f7f7f7" stroke="#e4e4e4" stroke-width="0.8"/>
<rect x="548.70" y="833.90" width="53.84" height="53.78" fill="#f7f7f7" stroke="#e4e4e4" stroke-width="0.8"/>
<rect x="602.54" y="833.90" width="53.84" height="53.78" fill="#f7f7f7" stroke="#e4e4e4" stroke-width="0.8"/>
<rect x="656.38" y="833.90" width="53.84" height="53.78" fill="#f7f7f7" stroke="#e4e4e4" stroke-width="0.8"/>
<rect x="710.22" y="833.90" width="53.84" height="53.78" fill="#f7f7f7" stroke="#e4e4e4" stroke-width="0.8"/>
<rect x="764.06" y="833.90" width="53.84" height="53.78" fill="#f7f7f7" stroke="#e4e4e4" stroke-width="0.8"/>
<text x="575.6" y="592.3" font-size="18.6" text-anchor="middle" textLength="39.2" lengthAdjust="spacingAndGlyphs" fill="#111">0.15</text>
<text x="629.5" y="592.3" font-size="18.6" text-anchor="middle" textLength="45.5" lengthAdjust="spacingAndGlyphs" fill="#111">-0.49</text>
<text x="683.3" y="592.3" font-size="18.6" text-anchor="middle" textLength="45.5" lengthAdjust="spacingAndGlyphs" fill="#111">-0.29</text>
<text x="737.1" y="592.3" font-size="18.6" text-anchor="middle" textLength="39.2" lengthAdjust="spacingAndGlyphs" fill="#111">0.05</text>
<text x="791.0" y="592.3" font-size="18.6" text-anchor="middle" textLength="11.2" lengthAdjust="spacingAndGlyphs" fill="#111">0</text>
<text x="575.6" y="646.1" font-size="18.6" text-anchor="middle" textLength="39.2" lengthAdjust="spacingAndGlyphs" fill="#111">0.04</text>
<text x="629.5" y="646.1" font-size="18.6" text-anchor="middle" textLength="45.5" lengthAdjust="spacingAndGlyphs" fill="#111">-0.56</text>
<text x="683.3" y="646.1" font-size="18.6" text-anchor="middle" textLength="45.5" lengthAdjust="spacingAndGlyphs" fill="#111">-0.18</text>
<text x="737.1" y="646.1" font-size="18.6" text-anchor="middle" textLength="45.5" lengthAdjust="spacingAndGlyphs" fill="#111">-0.07</text>
<text x="791.0" y="646.1" font-size="18.6" text-anchor="middle" textLength="11.2" lengthAdjust="spacingAndGlyphs" fill="#111">0</text>
<text x="575.6" y="699.9" font-size="18.6" text-anchor="middle" textLength="45.5" lengthAdjust="spacingAndGlyphs" fill="#111">-0.03</text>
<text x="629.5" y="699.9" font-size="18.6" text-anchor="middle" textLength="45.5" lengthAdjust="spacingAndGlyphs" fill="#111">-0.39</text>
<text x="683.3" y="699.9" font-size="18.6" text-anchor="middle" textLength="45.5" lengthAdjust="spacingAndGlyphs" fill="#111">-0.17</text>
<text x="737.1" y="699.9" font-size="18.6" text-anchor="middle" textLength="45.5" lengthAdjust="spacingAndGlyphs" fill="#111">-0.05</text>
<text x="791.0" y="699.9" font-size="18.6" text-anchor="middle" textLength="11.2" lengthAdjust="spacingAndGlyphs" fill="#111">0</text>
<text x="575.6" y="753.6" font-size="18.6" text-anchor="middle" textLength="45.5" lengthAdjust="spacingAndGlyphs" fill="#111">-0.08</text>
<text x="629.5" y="753.6" font-size="18.6" text-anchor="middle" textLength="45.5" lengthAdjust="spacingAndGlyphs" fill="#111">-0.22</text>
<text x="683.3" y="753.6" font-size="18.6" text-anchor="middle" textLength="45.5" lengthAdjust="spacingAndGlyphs" fill="#111">-0.06</text>
<text x="737.1" y="753.6" font-size="18.6" text-anchor="middle" textLength="39.2" lengthAdjust="spacingAndGlyphs" fill="#111">0.02</text>
<text x="791.0" y="753.6" font-size="18.6" text-anchor="middle" textLength="11.2" lengthAdjust="spacingAndGlyphs" fill="#111">0</text>
<text x="575.6" y="807.4" font-size="18.6" text-anchor="middle" textLength="45.5" lengthAdjust="spacingAndGlyphs" fill="#111">-0.01</text>
<text x="629.5" y="807.4" font-size="18.6" text-anchor="middle" textLength="45.5" lengthAdjust="spacingAndGlyphs" fill="#111">-0.26</text>
<text x="683.3" y="807.4" font-size="18.6" text-anchor="middle" textLength="45.5" lengthAdjust="spacingAndGlyphs" fill="#111">-0.02</text>
<text x="737.1" y="807.4" font-size="18.6" text-anchor="middle" textLength="45.5" lengthAdjust="spacingAndGlyphs" fill="#111">-0.02</text>
<text x="791.0" y="807.4" font-size="18.6" text-anchor="middle" textLength="11.2" lengthAdjust="spacingAndGlyphs" fill="#111">0</text>
<text x="575.6" y="861.2" font-size="18.6" text-anchor="middle" textLength="11.2" lengthAdjust="spacingAndGlyphs" fill="#111">0</text>
<text x="629.5" y="861.2" font-size="18.6" text-anchor="middle" textLength="11.2" lengthAdjust="spacingAndGlyphs" fill="#111">0</text>
<text x="683.3" y="861.2" font-size="18.6" text-anchor="middle" textLength="11.2" lengthAdjust="spacingAndGlyphs" fill="#111">0</text>
<text x="737.1" y="861.2" font-size="18.6" text-anchor="middle" textLength="11.2" lengthAdjust="spacingAndGlyphs" fill="#111">0</text>
<text x="791.0" y="861.2" font-size="18.6" text-anchor="middle" textLength="11.2" lengthAdjust="spacingAndGlyphs" fill="#111">0</text>
<rect x="547.9" y="564.4" width="271.6" height="323" fill="none" stroke="#222" stroke-width="3"/>
<text x="829.5" y="594.4" font-size="24" fill="#000">10</text>
<text x="829.5" y="648.2" font-size="24" fill="#000">5.0</text>
<text x="829.5" y="702.0" font-size="24" fill="#000">2.5</text>
<text x="829.5" y="755.8" font-size="24" fill="#000">1.3</text>
<text x="829.5" y="809.6" font-size="24" fill="#000">0.63</text>
<text x="829.5" y="863.4" font-size="24" fill="#000">0</text>
<text x="569.9" y="915.3" font-size="23.6" text-anchor="middle" fill="#000">5.0</text>
<text x="629.2" y="915.3" font-size="23.6" text-anchor="middle" fill="#000">2.5</text>
<text x="681.3" y="915.3" font-size="23.6" text-anchor="middle" fill="#000">1.25</text>
<text x="737.0" y="915.3" font-size="23.6" text-anchor="middle" fill="#000">0.63</text>
<text x="792.7" y="915.3" font-size="23.6" text-anchor="middle" fill="#000">0</text>
<text x="679.3" y="950.5" font-size="23.3" text-anchor="middle" textLength="168.5" lengthAdjust="spacingAndGlyphs" fill="#000">Raloxifene (&#956;M)</text>
<text transform="translate(887.6,723.7) rotate(90)" font-size="24" text-anchor="middle">Tilorone (&#956;M)</text>
<text x="688.3" y="554.0" font-size="26.4" text-anchor="middle" fill="#000">Synergy matrix</text>
<rect x="1054.00" y="563.90" width="56.50" height="54.07" fill="rgb(79,0,0)"/>
<rect x="1110.10" y="563.90" width="54.50" height="54.07" fill="rgb(28,0,0)"/>
<rect x="1164.20" y="563.90" width="54.60" height="54.07" fill="rgb(21,0,0)"/>
<rect x="1218.40" y="563.90" width="54.50" height="54.07" fill="rgb(21,0,0)"/>
<rect x="1272.50" y="563.90" width="51.50" height="54.07" fill="rgb(24,0,0)"/>
<rect x="1054.00" y="617.57" width="56.50" height="54.07" fill="rgb(54,0,0)"/>
<rect x="1110.10" y="617.57" width="54.50" height="54.07" fill="rgb(27,0,0)"/>
<rect x="1164.20" y="617.57" width="54.60" height="54.07" fill="rgb(20,0,0)"/>
<rect x="1218.40" y="617.57" width="54.50" height="54.07" fill="rgb(16,0,0)"/>
<rect x="1272.50" y="617.57" width="51.50" height="54.07" fill="rgb(19,0,0)"/>
<rect x="1054.00" y="671.23" width="56.50" height="54.07" fill="rgb(35,0,0)"/>
<rect x="1110.10" y="671.23" width="54.50" height="54.07" fill="rgb(26,0,0)"/>
<rect x="1164.20" y="671.23" width="54.60" height="54.07" fill="rgb(27,0,0)"/>
<rect x="1218.40" y="671.23" width="54.50" height="54.07" fill="rgb(19,0,0)"/>
<rect x="1272.50" y="671.23" width="51.50" height="54.07" fill="rgb(17,0,0)"/>
<rect x="1054.00" y="724.90" width="56.50" height="54.07" fill="rgb(28,0,0)"/>
<rect x="1110.10" y="724.90" width="54.50" height="54.07" fill="rgb(21,0,0)"/>
<rect x="1164.20" y="724.90" width="54.60" height="54.07" fill="rgb(19,0,0)"/>
<rect x="1218.40" y="724.90" width="54.50" height="54.07" fill="rgb(13,0,0)"/>
<rect x="1272.50" y="724.90" width="51.50" height="54.07" fill="rgb(11,0,0)"/>
<rect x="1054.00" y="778.57" width="56.50" height="54.07" fill="rgb(16,0,0)"/>
<rect x="1110.10" y="778.57" width="54.50" height="54.07" fill="rgb(22,0,0)"/>
<rect x="1164.20" y="778.57" width="54.60" height="54.07" fill="rgb(16,0,0)"/>
<rect x="1218.40" y="778.57" width="54.50" height="54.07" fill="rgb(11,0,0)"/>
<rect x="1272.50" y="778.57" width="51.50" height="54.07" fill="rgb(14,0,0)"/>
<rect x="1054.00" y="832.23" width="56.50" height="54.07" fill="rgb(25,0,0)"/>
<rect x="1110.10" y="832.23" width="54.50" height="54.07" fill="rgb(24,0,0)"/>
<rect x="1164.20" y="832.23" width="54.60" height="54.07" fill="rgb(17,0,0)"/>
<rect x="1218.40" y="832.23" width="54.50" height="54.07" fill="rgb(19,0,0)"/>
<rect x="1272.50" y="832.23" width="51.50" height="54.07" fill="rgb(19,0,0)"/>
<line x1="1110.10" y1="563.90" x2="1110.10" y2="885.90" stroke="rgba(255,255,255,0.07)" stroke-width="1"/>
<line x1="1164.20" y1="563.90" x2="1164.20" y2="885.90" stroke="rgba(255,255,255,0.07)" stroke-width="1"/>
<line x1="1218.40" y1="563.90" x2="1218.40" y2="885.90" stroke="rgba(255,255,255,0.07)" stroke-width="1"/>
<line x1="1272.50" y1="563.90" x2="1272.50" y2="885.90" stroke="rgba(255,255,255,0.07)" stroke-width="1"/>
<rect x="1054.00" y="563.90" width="2.50" height="53.97" fill="#ff0808"/>
<rect x="1054.00" y="617.57" width="2.50" height="53.97" fill="#d40000"/>
<rect x="1054.00" y="671.23" width="2.50" height="53.97" fill="#b00000"/>
<rect x="1054.00" y="724.90" width="2.50" height="53.97" fill="#960000"/>
<rect x="1054.00" y="778.57" width="2.50" height="53.97" fill="#6a0000"/>
<rect x="1054.00" y="832.23" width="2.50" height="53.97" fill="#7a0000"/>
<text x="1083.8" y="591.2" font-size="18.6" text-anchor="middle" textLength="39.2" lengthAdjust="spacingAndGlyphs" fill="#fff">69.2</text>
<text x="1138.0" y="591.2" font-size="18.6" text-anchor="middle" textLength="39.2" lengthAdjust="spacingAndGlyphs" fill="#fff">88.9</text>
<text x="1192.1" y="591.2" font-size="18.6" text-anchor="middle" textLength="39.2" lengthAdjust="spacingAndGlyphs" fill="#fff">91.7</text>
<text x="1246.3" y="591.2" font-size="18.6" text-anchor="middle" textLength="39.2" lengthAdjust="spacingAndGlyphs" fill="#fff">91.6</text>
<text x="1300.4" y="591.2" font-size="18.6" text-anchor="middle" textLength="39.2" lengthAdjust="spacingAndGlyphs" fill="#fff">90.6</text>
<text x="1083.8" y="644.9" font-size="18.6" text-anchor="middle" textLength="39.2" lengthAdjust="spacingAndGlyphs" fill="#fff">78.8</text>
<text x="1138.0" y="644.9" font-size="18.6" text-anchor="middle" textLength="39.2" lengthAdjust="spacingAndGlyphs" fill="#fff">89.4</text>
<text x="1192.1" y="644.9" font-size="18.6" text-anchor="middle" textLength="39.2" lengthAdjust="spacingAndGlyphs" fill="#fff">92.1</text>
<text x="1246.3" y="644.9" font-size="18.6" text-anchor="middle" textLength="39.2" lengthAdjust="spacingAndGlyphs" fill="#fff">93.8</text>
<text x="1300.4" y="644.9" font-size="18.6" text-anchor="middle" textLength="39.2" lengthAdjust="spacingAndGlyphs" fill="#fff">92.5</text>
<text x="1083.8" y="698.5" font-size="18.6" text-anchor="middle" textLength="39.2" lengthAdjust="spacingAndGlyphs" fill="#fff">86.1</text>
<text x="1138.0" y="698.5" font-size="18.6" text-anchor="middle" textLength="39.2" lengthAdjust="spacingAndGlyphs" fill="#fff">89.9</text>
<text x="1192.1" y="698.5" font-size="18.6" text-anchor="middle" textLength="39.2" lengthAdjust="spacingAndGlyphs" fill="#fff">89.6</text>
<text x="1246.3" y="698.5" font-size="18.6" text-anchor="middle" textLength="39.2" lengthAdjust="spacingAndGlyphs" fill="#fff">92.7</text>
<text x="1300.4" y="698.5" font-size="18.6" text-anchor="middle" textLength="39.2" lengthAdjust="spacingAndGlyphs" fill="#fff">93.5</text>
<text x="1083.8" y="752.2" font-size="18.6" text-anchor="middle" textLength="39.2" lengthAdjust="spacingAndGlyphs" fill="#fff">89.1</text>
<text x="1138.0" y="752.2" font-size="18.6" text-anchor="middle" textLength="39.2" lengthAdjust="spacingAndGlyphs" fill="#fff">91.9</text>
<text x="1192.1" y="752.2" font-size="18.6" text-anchor="middle" textLength="39.2" lengthAdjust="spacingAndGlyphs" fill="#fff">92.7</text>
<text x="1246.3" y="752.2" font-size="18.6" text-anchor="middle" textLength="39.2" lengthAdjust="spacingAndGlyphs" fill="#fff">94.9</text>
<text x="1300.4" y="752.2" font-size="18.6" text-anchor="middle" textLength="39.2" lengthAdjust="spacingAndGlyphs" fill="#fff">95.7</text>
<text x="1083.8" y="805.9" font-size="18.6" text-anchor="middle" textLength="39.2" lengthAdjust="spacingAndGlyphs" fill="#fff">93.9</text>
<text x="1138.0" y="805.9" font-size="18.6" text-anchor="middle" textLength="39.2" lengthAdjust="spacingAndGlyphs" fill="#fff">91.4</text>
<text x="1192.1" y="805.9" font-size="18.6" text-anchor="middle" textLength="39.2" lengthAdjust="spacingAndGlyphs" fill="#fff">93.8</text>
<text x="1246.3" y="805.9" font-size="18.6" text-anchor="middle" textLength="39.2" lengthAdjust="spacingAndGlyphs" fill="#fff">95.7</text>
<text x="1300.4" y="805.9" font-size="18.6" text-anchor="middle" textLength="39.2" lengthAdjust="spacingAndGlyphs" fill="#fff">94.6</text>
<text x="1083.8" y="859.5" font-size="18.6" text-anchor="middle" textLength="39.2" lengthAdjust="spacingAndGlyphs" fill="#fff">90.3</text>
<text x="1138.0" y="859.5" font-size="18.6" text-anchor="middle" textLength="39.2" lengthAdjust="spacingAndGlyphs" fill="#fff">90.4</text>
<text x="1192.1" y="859.5" font-size="18.6" text-anchor="middle" textLength="39.2" lengthAdjust="spacingAndGlyphs" fill="#fff">93.3</text>
<text x="1246.3" y="859.5" font-size="18.6" text-anchor="middle" textLength="39.2" lengthAdjust="spacingAndGlyphs" fill="#fff">92.7</text>
<text x="1300.4" y="859.5" font-size="18.6" text-anchor="middle" textLength="39.2" lengthAdjust="spacingAndGlyphs" fill="#fff">92.4</text>
<line x1="1083.00" y1="885.90" x2="1083.00" y2="890.00" stroke="#222" stroke-width="1"/>
<line x1="1137.20" y1="885.90" x2="1137.20" y2="890.00" stroke="#222" stroke-width="1"/>
<line x1="1191.30" y1="885.90" x2="1191.30" y2="890.00" stroke="#222" stroke-width="1"/>
<line x1="1245.50" y1="885.90" x2="1245.50" y2="890.00" stroke="#222" stroke-width="1"/>
<line x1="1299.60" y1="885.90" x2="1299.60" y2="890.00" stroke="#222" stroke-width="1"/>
<text x="1336.7" y="593.6" font-size="24" fill="#000">10</text>
<text x="1336.7" y="647.4" font-size="24" fill="#000">5.0</text>
<text x="1336.7" y="701.2" font-size="24" fill="#000">2.5</text>
<text x="1336.7" y="755.0" font-size="24" fill="#000">1.3</text>
<text x="1336.7" y="808.8" font-size="24" fill="#000">0.63</text>
<text x="1336.7" y="862.6" font-size="24" fill="#000">0</text>
<text x="1079.3" y="914.6" font-size="23.6" text-anchor="middle" fill="#000">5.0</text>
<text x="1138.0" y="914.6" font-size="23.6" text-anchor="middle" fill="#000">2.5</text>
<text x="1190.2" y="914.6" font-size="23.6" text-anchor="middle" fill="#000">1.25</text>
<text x="1246.3" y="914.6" font-size="23.6" text-anchor="middle" fill="#000">0.63</text>
<text x="1302.1" y="914.6" font-size="23.6" text-anchor="middle" fill="#000">0</text>
<text x="1193.0" y="949.9" font-size="23.3" text-anchor="middle" textLength="168.5" lengthAdjust="spacingAndGlyphs" fill="#000">Raloxifene (&#956;M)</text>
<text transform="translate(1390,723) rotate(90)" font-size="24" text-anchor="middle">Tilorone (&#956;M)</text>
<text x="1193.8" y="553.0" font-size="26.2" text-anchor="middle" fill="#000">Activity matrix</text>
<text x="1205.3" y="508.1" font-size="27" text-anchor="middle" fill="#000">Viability (N=2)</text>
<line x1="1053.90" y1="520.30" x2="1323.90" y2="520.30" stroke="#111" stroke-width="2.6"/>
<defs><path id="spk" d="M-1.0 -34.5 L-1.5 -40.0 L-2.2 -44.0 L-3.2 -46.6 L-4.8 -48.4 L-5.9 -49.6 L-5.5 -51.2 L-4.2 -51.3 L-2.4 -50.2 L-1.1 -52.6 L0.0 -54.0 L1.1 -52.6 L2.4 -50.2 L4.2 -51.3 L5.5 -51.2 L5.9 -49.6 L4.8 -48.4 L3.2 -46.6 L2.2 -44.0 L1.5 -40.0 L1.0 -34.5Z" fill="#ed1c24" stroke="#ed1c24" stroke-width="0.25" stroke-linejoin="round"/></defs>
<g transform="translate(0,0)">
<rect x="-10.5" y="-3.8" width="21.0" height="7.6" fill="#39b54a" transform="translate(32.4,1272.6) rotate(22)"/>
<rect x="-10.5" y="-3.8" width="21.0" height="7.6" fill="#39b54a" transform="translate(47.6,1268.3) rotate(-5)"/>
<rect x="-12.0" y="-3.8" width="24.0" height="7.6" fill="#39b54a" transform="translate(55.3,1260.6) rotate(-30)"/>
<rect x="-11.5" y="-3.8" width="23.0" height="7.6" fill="#39b54a" transform="translate(145.8,1259.0) rotate(25)"/>
<rect x="-10.5" y="-3.8" width="21.0" height="7.6" fill="#39b54a" transform="translate(164.3,1259.8) rotate(0)"/>
<rect x="-11.5" y="-3.8" width="23.0" height="7.6" fill="#39b54a" transform="translate(172.3,1264.6) rotate(-30)"/>
<path d="M6 1264 C18 1253.6 30 1249 50 1246 C70 1243.5 85 1242.5 100 1241 C115 1239.5 125 1238.5 138 1239 C160 1240 195 1246 222 1249" stroke="#c3b69c" stroke-width="15" fill="none"/>
<circle cx="30.4" cy="1221.3" r="5.3" fill="#c49a6c"/>
<polygon points="36.4,1213.5 31.3,1216.5 26.2,1213.5 26.2,1207.6 31.3,1204.7 36.4,1207.6" fill="#fff200"/>
<circle cx="37.7" cy="1201" r="5.3" fill="#c49a6c"/>
<polygon points="48.7,1194.7 43.6,1197.6 38.5,1194.7 38.5,1188.8 43.6,1185.8 48.7,1188.8" fill="#fff200"/>
<circle cx="49.7" cy="1185" r="5.3" fill="#c49a6c"/>
<polygon points="61.2,1177.8 56.1,1180.7 51.0,1177.8 51.0,1171.8 56.1,1168.9 61.2,1171.8" fill="#fff200"/>
<circle cx="72.9" cy="1219.7" r="5.3" fill="#c49a6c"/>
<polygon points="79.1,1211.5 74.0,1214.4 68.9,1211.5 68.9,1205.5 74.0,1202.6 79.1,1205.5" fill="#fff200"/>
<circle cx="83.3" cy="1202.9" r="5.3" fill="#c49a6c"/>
<polygon points="94.8,1196.0 89.7,1198.9 84.6,1196.0 84.6,1190.0 89.7,1187.1 94.8,1190.0" fill="#fff200"/>
<circle cx="95.8" cy="1186.5" r="5.3" fill="#c49a6c"/>
<polygon points="106.9,1180.0 101.8,1182.9 96.7,1180.0 96.7,1174.0 101.8,1171.1 106.9,1174.0" fill="#fff200"/>
<circle cx="105" cy="1233.4" r="5.3" fill="#c49a6c"/>
<polygon points="110.1,1225.0 105.0,1227.9 99.9,1225.0 99.9,1219.0 105.0,1216.1 110.1,1219.0" fill="#fff200"/>
<circle cx="114.1" cy="1215" r="5.3" fill="#c49a6c"/>
<polygon points="124.1,1208.2 119.0,1211.2 113.9,1208.2 113.9,1202.3 119.0,1199.4 124.1,1202.3" fill="#fff200"/>
<circle cx="124.2" cy="1198" r="5.3" fill="#c49a6c"/>
<polygon points="135.7,1190.7 130.6,1193.6 125.5,1190.7 125.5,1184.8 130.6,1181.8 135.7,1184.8" fill="#fff200"/>
<circle cx="157.9" cy="1228.5" r="5.3" fill="#c49a6c"/>
<polygon points="162.5,1220.2 157.4,1223.2 152.3,1220.2 152.3,1214.3 157.4,1211.4 162.5,1214.3" fill="#fff200"/>
<circle cx="165.9" cy="1211" r="5.3" fill="#c49a6c"/>
<polygon points="176.3,1204.0 171.2,1206.9 166.1,1204.0 166.1,1198.0 171.2,1195.1 176.3,1198.0" fill="#fff200"/>
<circle cx="176.3" cy="1193" r="5.3" fill="#c49a6c"/>
<polygon points="186.2,1185.9 181.1,1188.8 176.0,1185.9 176.0,1180.0 181.1,1177.0 186.2,1180.0" fill="#fff200"/>
<path d="M36 1229.5V1242.5" stroke="#1c75bc" stroke-width="6" stroke-linecap="round"/>
<path d="M68.1 1228V1241" stroke="#1c75bc" stroke-width="6" stroke-linecap="round"/>
<path d="M99 1235.5V1249" stroke="#1c75bc" stroke-width="6" stroke-linecap="round"/>
<path d="M152.2 1230.5V1243.5" stroke="#1c75bc" stroke-width="6" stroke-linecap="round"/>
</g>
<g transform="translate(381,-8.3)">
<rect x="-10.5" y="-3.8" width="21.0" height="7.6" fill="#39b54a" transform="translate(32.4,1272.6) rotate(22)"/>
<rect x="-10.5" y="-3.8" width="21.0" height="7.6" fill="#39b54a" transform="translate(47.6,1268.3) rotate(-5)"/>
<rect x="-12.0" y="-3.8" width="24.0" height="7.6" fill="#39b54a" transform="translate(55.3,1260.6) rotate(-30)"/>
<rect x="-11.5" y="-3.8" width="23.0" height="7.6" fill="#39b54a" transform="translate(145.8,1259.0) rotate(25)"/>
<rect x="-10.5" y="-3.8" width="21.0" height="7.6" fill="#39b54a" transform="translate(164.3,1259.8) rotate(0)"/>
<rect x="-11.5" y="-3.8" width="23.0" height="7.6" fill="#39b54a" transform="translate(172.3,1264.6) rotate(-30)"/>
<path d="M6 1264 C18 1253.6 30 1249 50 1246 C70 1243.5 85 1242.5 100 1241 C115 1239.5 125 1238.5 138 1239 C160 1240 195 1246 222 1249" stroke="#c3b69c" stroke-width="15" fill="none"/>
<circle cx="30.4" cy="1221.3" r="5.3" fill="#c49a6c"/>
<polygon points="36.4,1213.5 31.3,1216.5 26.2,1213.5 26.2,1207.6 31.3,1204.7 36.4,1207.6" fill="#fff200"/>
<circle cx="37.7" cy="1201" r="5.3" fill="#c49a6c"/>
<polygon points="48.7,1194.7 43.6,1197.6 38.5,1194.7 38.5,1188.8 43.6,1185.8 48.7,1188.8" fill="#fff200"/>
<circle cx="49.7" cy="1185" r="5.3" fill="#c49a6c"/>
<polygon points="61.2,1177.8 56.1,1180.7 51.0,1177.8 51.0,1171.8 56.1,1168.9 61.2,1171.8" fill="#fff200"/>
<circle cx="72.9" cy="1219.7" r="5.3" fill="#c49a6c"/>
<polygon points="79.1,1211.5 74.0,1214.4 68.9,1211.5 68.9,1205.5 74.0,1202.6 79.1,1205.5" fill="#fff200"/>
<circle cx="83.3" cy="1202.9" r="5.3" fill="#c49a6c"/>
<polygon points="94.8,1196.0 89.7,1198.9 84.6,1196.0 84.6,1190.0 89.7,1187.1 94.8,1190.0" fill="#fff200"/>
<circle cx="95.8" cy="1186.5" r="5.3" fill="#c49a6c"/>
<polygon points="106.9,1180.0 101.8,1182.9 96.7,1180.0 96.7,1174.0 101.8,1171.1 106.9,1174.0" fill="#fff200"/>
<circle cx="105" cy="1233.4" r="5.3" fill="#c49a6c"/>
<polygon points="110.1,1225.0 105.0,1227.9 99.9,1225.0 99.9,1219.0 105.0,1216.1 110.1,1219.0" fill="#fff200"/>
<circle cx="114.1" cy="1215" r="5.3" fill="#c49a6c"/>
<polygon points="124.1,1208.2 119.0,1211.2 113.9,1208.2 113.9,1202.3 119.0,1199.4 124.1,1202.3" fill="#fff200"/>
<circle cx="124.2" cy="1198" r="5.3" fill="#c49a6c"/>
<polygon points="135.7,1190.7 130.6,1193.6 125.5,1190.7 125.5,1184.8 130.6,1181.8 135.7,1184.8" fill="#fff200"/>
<circle cx="157.9" cy="1228.5" r="5.3" fill="#c49a6c"/>
<polygon points="162.5,1220.2 157.4,1223.2 152.3,1220.2 152.3,1214.3 157.4,1211.4 162.5,1214.3" fill="#fff200"/>
<circle cx="165.9" cy="1211" r="5.3" fill="#c49a6c"/>
<polygon points="176.3,1204.0 171.2,1206.9 166.1,1204.0 166.1,1198.0 171.2,1195.1 176.3,1198.0" fill="#fff200"/>
<circle cx="176.3" cy="1193" r="5.3" fill="#c49a6c"/>
<polygon points="186.2,1185.9 181.1,1188.8 176.0,1185.9 176.0,1180.0 181.1,1177.0 186.2,1180.0" fill="#fff200"/>
<path d="M36 1229.5V1242.5" stroke="#1c75bc" stroke-width="6" stroke-linecap="round"/>
<path d="M68.1 1228V1241" stroke="#1c75bc" stroke-width="6" stroke-linecap="round"/>
<path d="M99 1235.5V1249" stroke="#1c75bc" stroke-width="6" stroke-linecap="round"/>
<path d="M152.2 1230.5V1243.5" stroke="#1c75bc" stroke-width="6" stroke-linecap="round"/>
</g>
<g transform="translate(514.3,238.5)">
<rect x="-10.5" y="-3.8" width="21.0" height="7.6" fill="#39b54a" transform="translate(32.4,1272.6) rotate(22)"/>
<rect x="-10.5" y="-3.8" width="21.0" height="7.6" fill="#39b54a" transform="translate(47.6,1268.3) rotate(-5)"/>
<rect x="-12.0" y="-3.8" width="24.0" height="7.6" fill="#39b54a" transform="translate(55.3,1260.6) rotate(-30)"/>
<rect x="-11.5" y="-3.8" width="23.0" height="7.6" fill="#39b54a" transform="translate(145.8,1259.0) rotate(25)"/>
<rect x="-10.5" y="-3.8" width="21.0" height="7.6" fill="#39b54a" transform="translate(164.3,1259.8) rotate(0)"/>
<rect x="-11.5" y="-3.8" width="23.0" height="7.6" fill="#39b54a" transform="translate(172.3,1264.6) rotate(-30)"/>
<path d="M6 1264 C18 1253.6 30 1249 50 1246 C70 1243.5 85 1242.5 100 1241 C115 1239.5 125 1238.5 138 1239 C160 1240 195 1246 222 1249" stroke="#c3b69c" stroke-width="15" fill="none"/>
<circle cx="30.4" cy="1221.3" r="5.3" fill="#c49a6c"/>
<polygon points="36.4,1213.5 31.3,1216.5 26.2,1213.5 26.2,1207.6 31.3,1204.7 36.4,1207.6" fill="#fff200"/>
<circle cx="37.7" cy="1201" r="5.3" fill="#c49a6c"/>
<polygon points="48.7,1194.7 43.6,1197.6 38.5,1194.7 38.5,1188.8 43.6,1185.8 48.7,1188.8" fill="#fff200"/>
<circle cx="49.7" cy="1185" r="5.3" fill="#c49a6c"/>
<polygon points="61.2,1177.8 56.1,1180.7 51.0,1177.8 51.0,1171.8 56.1,1168.9 61.2,1171.8" fill="#fff200"/>
<circle cx="72.9" cy="1219.7" r="5.3" fill="#c49a6c"/>
<polygon points="79.1,1211.5 74.0,1214.4 68.9,1211.5 68.9,1205.5 74.0,1202.6 79.1,1205.5" fill="#fff200"/>
<circle cx="83.3" cy="1202.9" r="5.3" fill="#c49a6c"/>
<polygon points="94.8,1196.0 89.7,1198.9 84.6,1196.0 84.6,1190.0 89.7,1187.1 94.8,1190.0" fill="#fff200"/>
<circle cx="95.8" cy="1186.5" r="5.3" fill="#c49a6c"/>
<polygon points="106.9,1180.0 101.8,1182.9 96.7,1180.0 96.7,1174.0 101.8,1171.1 106.9,1174.0" fill="#fff200"/>
<circle cx="105" cy="1233.4" r="5.3" fill="#c49a6c"/>
<polygon points="110.1,1225.0 105.0,1227.9 99.9,1225.0 99.9,1219.0 105.0,1216.1 110.1,1219.0" fill="#fff200"/>
<circle cx="114.1" cy="1215" r="5.3" fill="#c49a6c"/>
<polygon points="124.1,1208.2 119.0,1211.2 113.9,1208.2 113.9,1202.3 119.0,1199.4 124.1,1202.3" fill="#fff200"/>
<circle cx="124.2" cy="1198" r="5.3" fill="#c49a6c"/>
<polygon points="135.7,1190.7 130.6,1193.6 125.5,1190.7 125.5,1184.8 130.6,1181.8 135.7,1184.8" fill="#fff200"/>
<circle cx="157.9" cy="1228.5" r="5.3" fill="#c49a6c"/>
<polygon points="162.5,1220.2 157.4,1223.2 152.3,1220.2 152.3,1214.3 157.4,1211.4 162.5,1214.3" fill="#fff200"/>
<circle cx="165.9" cy="1211" r="5.3" fill="#c49a6c"/>
<polygon points="176.3,1204.0 171.2,1206.9 166.1,1204.0 166.1,1198.0 171.2,1195.1 176.3,1198.0" fill="#fff200"/>
<circle cx="176.3" cy="1193" r="5.3" fill="#c49a6c"/>
<polygon points="186.2,1185.9 181.1,1188.8 176.0,1185.9 176.0,1180.0 181.1,1177.0 186.2,1180.0" fill="#fff200"/>
<path d="M36 1229.5V1242.5" stroke="#1c75bc" stroke-width="6" stroke-linecap="round"/>
<path d="M68.1 1228V1241" stroke="#1c75bc" stroke-width="6" stroke-linecap="round"/>
<path d="M99 1235.5V1249" stroke="#1c75bc" stroke-width="6" stroke-linecap="round"/>
<path d="M152.2 1230.5V1243.5" stroke="#1c75bc" stroke-width="6" stroke-linecap="round"/>
</g>
<path d="M734 1487.3 L769 1490.5" stroke="#c3b69c" stroke-width="15"/>
<rect x="-16.5" y="-4.0" width="33.0" height="8.0" fill="#39b54a" transform="translate(838.0,1229.1) rotate(22)"/>
<rect x="-16.0" y="-4.0" width="32.0" height="8.0" fill="#39b54a" transform="translate(863.1,1221.2) rotate(0)"/>
<rect x="-19.0" y="-4.0" width="38.0" height="8.0" fill="#39b54a" transform="translate(870.5,1210.3) rotate(-30)"/>
<rect x="-16.5" y="-4.0" width="33.0" height="8.0" fill="#39b54a" transform="translate(832.5,1254.7) rotate(25)"/>
<rect x="-16.0" y="-4.0" width="32.0" height="8.0" fill="#39b54a" transform="translate(856.6,1248.3) rotate(0)"/>
<rect x="-17.0" y="-4.0" width="34.0" height="8.0" fill="#39b54a" transform="translate(868.0,1235.5) rotate(-30)"/>
<rect x="-17.0" y="-4.0" width="34.0" height="8.0" fill="#39b54a" transform="translate(869.5,1277.8) rotate(25)"/>
<rect x="-16.0" y="-4.0" width="32.0" height="8.0" fill="#39b54a" transform="translate(894.0,1271.4) rotate(0)"/>
<rect x="-18.5" y="-4.0" width="37.0" height="8.0" fill="#39b54a" transform="translate(902.6,1256.9) rotate(-30)"/>
<rect x="-15.0" y="-4.0" width="30.0" height="8.0" fill="#39b54a" transform="translate(952.8,1309.9) rotate(25)"/>
<rect x="-10.0" y="-4.0" width="20.0" height="8.0" fill="#39b54a" transform="translate(988.1,1305.0) rotate(0)"/>
<rect x="-15.0" y="-4.0" width="30.0" height="8.0" fill="#39b54a" transform="translate(993.5,1292.2) rotate(-30)"/>
<rect x="-16.5" y="-4.0" width="33.0" height="8.0" fill="#39b54a" transform="translate(1020.2,1278.3) rotate(25)"/>
<rect x="-16.0" y="-4.0" width="32.0" height="8.0" fill="#39b54a" transform="translate(1043.7,1271.8) rotate(0)"/>
<rect x="-17.5" y="-4.0" width="35.0" height="8.0" fill="#39b54a" transform="translate(1054.4,1258.0) rotate(-30)"/>
<rect x="-16.5" y="-4.0" width="33.0" height="8.0" fill="#39b54a" transform="translate(1046.9,1229.1) rotate(25)"/>
<rect x="-16.0" y="-4.0" width="32.0" height="8.0" fill="#39b54a" transform="translate(1070.4,1223.7) rotate(0)"/>
<rect x="-17.5" y="-4.0" width="35.0" height="8.0" fill="#39b54a" transform="translate(1081.7,1209.9) rotate(-30)"/>
<path d="M825.7 1207.7C830.3 1206.5 844.5 1204.1 853.4 1200.2C862.3 1196.3 872.0 1183.7 879.1 1184.2C886.2 1184.7 890.9 1194.1 896.2 1203.4C901.6 1212.7 905.2 1228.8 911.2 1239.8C917.2 1250.8 924.0 1262.6 932.5 1269.7C941.0 1276.8 953.2 1281.4 962.5 1282.5C971.8 1283.6 981.0 1280.7 988.1 1276.1C995.2 1271.5 999.5 1265.0 1005.2 1254.7C1010.9 1244.4 1017.3 1225.8 1022.3 1214.1C1027.3 1202.3 1030.5 1190.8 1035.1 1184.2C1039.7 1177.6 1044.4 1175.3 1050.1 1174.6C1055.8 1173.9 1063.6 1177.2 1069.3 1179.9C1075.0 1182.6 1079.8 1188.4 1084.3 1190.6C1088.8 1192.8 1094.0 1192.4 1096.0 1192.8" stroke="#c3b69c" stroke-width="13.5" stroke-linecap="round" fill="none"/>
<path d="M1104.0 1391.9C1100.8 1392.1 1091.0 1392.1 1085.0 1392.8C1079.0 1393.5 1073.3 1394.3 1068.0 1396.0C1062.7 1397.7 1057.6 1399.9 1053.0 1403.0C1048.4 1406.1 1044.2 1409.8 1040.5 1414.5C1036.8 1419.2 1033.3 1424.2 1031.0 1431.0C1028.7 1437.8 1026.6 1447.5 1026.4 1455.3C1026.2 1463.1 1027.3 1470.8 1030.0 1478.0C1032.7 1485.2 1035.4 1490.0 1042.3 1498.3C1049.2 1506.5 1061.9 1520.0 1071.5 1527.5C1081.1 1535.0 1089.2 1538.9 1100.0 1543.0C1110.8 1547.1 1125.4 1550.6 1136.0 1552.3C1146.6 1554.0 1154.9 1554.6 1163.6 1553.1C1172.3 1551.5 1181.3 1547.7 1188.0 1543.0C1194.7 1538.3 1199.8 1532.2 1204.0 1525.0C1208.2 1517.8 1211.0 1509.6 1213.0 1500.0C1215.0 1490.4 1216.2 1477.8 1215.9 1467.5C1215.6 1457.2 1214.6 1447.5 1211.0 1438.0C1207.4 1428.5 1201.2 1418.7 1194.4 1410.7C1187.6 1402.7 1178.2 1394.9 1170.0 1390.0C1161.8 1385.1 1153.2 1383.1 1145.0 1381.5C1136.8 1379.9 1124.6 1380.8 1120.5 1380.6" stroke="#c3b69c" stroke-width="17" stroke-linecap="round" fill="none"/>
<circle cx="128.8" cy="1142.2" r="38" fill="none" stroke="#9c9692" stroke-width="5.6"/>
<circle cx="128.8" cy="1142.2" r="35.2" fill="#dcd5c5" stroke="#f2eee6" stroke-width="1"/>
<path d="M156.5 1141.4 L152.1 1144.7 L156.5 1149.9 L151.4 1151.4 L153.0 1155.7 L146.7 1156.5 L149.1 1162.6 L143.4 1160.6 L142.6 1166.1 L137.2 1163.0 L135.0 1169.1 L130.9 1164.5 L127.4 1168.5 L126.1 1164.0 L120.8 1167.8 L119.6 1163.2 L114.1 1163.8 L115.2 1158.9 L109.4 1160.2 L110.5 1154.6 L104.5 1153.7 L108.1 1148.0 L103.5 1145.5 L107.9 1142.5 L103.2 1139.2 L107.9 1135.8 L105.7 1131.9 L111.0 1130.7 L109.4 1124.9 L114.4 1126.6 L113.4 1120.2 L119.6 1121.8 L120.6 1117.5 L125.7 1119.5 L127.8 1114.4 L132.0 1119.6 L135.9 1116.3 L138.5 1120.4 L142.4 1118.7 L143.8 1123.9 L148.4 1122.0 L147.7 1127.1 L153.2 1127.4 L150.2 1133.5 L156.1 1135.1 L152.5 1139.0Z" fill="none" stroke="#252f8f" stroke-width="2.7" stroke-linejoin="round"/>
<circle cx="597.1" cy="1146.9" r="38" fill="none" stroke="#9c9692" stroke-width="5.6"/>
<circle cx="597.1" cy="1146.9" r="35.2" fill="#dcd5c5" stroke="#f2eee6" stroke-width="1"/>
<path d="M626.3 1147.1 L620.4 1150.4 L624.9 1155.2 L618.9 1156.6 L622.1 1160.5 L616.1 1161.5 L617.3 1166.5 L610.7 1165.2 L611.1 1170.3 L606.8 1168.5 L604.5 1174.0 L600.1 1169.0 L596.1 1174.7 L593.5 1168.5 L589.3 1173.4 L588.1 1167.7 L582.9 1168.4 L583.2 1163.5 L577.5 1163.9 L578.7 1158.4 L574.4 1158.2 L577.1 1153.6 L570.9 1150.5 L575.0 1147.4 L570.7 1142.6 L577.0 1141.2 L573.8 1135.7 L579.4 1134.9 L577.3 1128.7 L582.8 1130.0 L582.9 1123.7 L587.5 1126.6 L588.8 1122.0 L593.3 1125.5 L596.6 1120.5 L600.0 1123.9 L603.8 1119.7 L605.0 1125.8 L610.2 1122.5 L611.2 1129.0 L617.1 1126.6 L615.3 1132.6 L621.8 1133.4 L619.2 1137.8 L624.7 1139.1 L621.3 1143.5Z" fill="none" stroke="#252f8f" stroke-width="2.7" stroke-linejoin="round"/>
<circle cx="962.5" cy="1214.1" r="38" fill="none" stroke="#9c9692" stroke-width="5.6"/>
<circle cx="962.5" cy="1214.1" r="35.2" fill="#dcd5c5" stroke="#f2eee6" stroke-width="1"/>
<path d="M991.7 1214.1 L986.3 1216.9 L989.8 1221.2 L983.9 1223.1 L986.8 1228.8 L980.6 1228.7 L981.2 1234.0 L976.9 1231.8 L976.1 1238.2 L972.0 1236.0 L968.7 1240.5 L965.8 1236.3 L962.8 1241.5 L959.4 1236.8 L954.7 1240.6 L953.0 1234.1 L948.0 1235.7 L948.8 1230.5 L943.2 1231.6 L944.0 1225.9 L939.6 1224.9 L942.3 1220.1 L937.0 1217.4 L941.7 1214.8 L936.2 1211.2 L941.7 1207.8 L939.2 1204.1 L944.2 1201.7 L941.9 1196.7 L948.5 1197.2 L948.8 1192.1 L953.6 1193.1 L955.0 1189.0 L959.7 1191.5 L961.5 1186.9 L964.7 1190.8 L968.7 1187.1 L971.1 1193.4 L976.3 1190.2 L976.7 1195.4 L981.2 1194.2 L980.6 1199.6 L987.4 1200.0 L985.0 1204.7 L989.2 1206.6 L985.6 1211.6Z" fill="none" stroke="#252f8f" stroke-width="2.7" stroke-linejoin="round"/>
<circle cx="728.8" cy="1381.9" r="38" fill="none" stroke="#9c9692" stroke-width="5.6"/>
<circle cx="728.8" cy="1381.9" r="35.2" fill="#dcd5c5" stroke="#f2eee6" stroke-width="1"/>
<path d="M757.6 1382.1 L753.0 1385.0 L755.7 1388.7 L750.0 1391.1 L753.9 1396.4 L747.8 1396.0 L748.6 1401.5 L742.6 1400.0 L742.1 1406.5 L736.9 1403.2 L734.6 1407.9 L732.1 1403.9 L728.1 1409.0 L725.7 1404.9 L720.6 1407.0 L720.2 1401.9 L715.0 1404.8 L714.6 1399.1 L708.6 1399.9 L710.5 1393.4 L705.3 1392.2 L708.8 1388.2 L703.4 1386.2 L707.0 1381.7 L703.8 1378.6 L708.6 1375.9 L705.5 1370.8 L710.8 1371.1 L708.0 1365.2 L714.5 1365.1 L714.3 1360.7 L719.7 1361.2 L720.4 1355.7 L725.8 1359.6 L728.7 1355.4 L732.3 1358.7 L735.6 1356.0 L738.3 1360.5 L742.2 1357.5 L743.0 1362.6 L748.3 1361.4 L747.1 1368.0 L753.2 1368.0 L750.8 1372.7 L755.3 1373.9 L751.9 1378.3Z" fill="none" stroke="#252f8f" stroke-width="2.7" stroke-linejoin="round"/>
<ellipse cx="591.0" cy="1234.0" rx="9.6" ry="24" fill="#262262"/>
<path d="M579.8 1187.8 A19.6 19.6 0 1 0 609.5 1189.5 A14.95 14.95 0 0 1 579.8 1187.8Z" fill="#262262"/>
<path d="M584.0 1212.0 L585.0 1208.0 L601.0 1208.0 L598.5 1212.0Z" fill="#262262"/>
<ellipse cx="973.2" cy="1302.0" rx="9.6" ry="24" fill="#262262"/>
<path d="M962.0 1255.8 A19.6 19.6 0 1 0 991.7 1257.5 A14.95 14.95 0 0 1 962.0 1255.8Z" fill="#262262"/>
<path d="M966.2 1280.0 L967.2 1276.0 L983.2 1276.0 L980.7 1280.0Z" fill="#262262"/>
<ellipse cx="721.1" cy="1482.5" rx="9.6" ry="24" fill="#262262"/>
<path d="M709.9 1436.3 A19.6 19.6 0 1 0 739.6 1438.0 A14.95 14.95 0 0 1 709.9 1436.3Z" fill="#262262"/>
<path d="M714.1 1460.5 L715.1 1456.5 L731.1 1456.5 L728.6 1460.5Z" fill="#262262"/>
<circle cx="1149.8" cy="1481.4" r="38" fill="none" stroke="#9c9692" stroke-width="5.6"/>
<circle cx="1149.8" cy="1481.4" r="35.2" fill="#dcd5c5" stroke="#f2eee6" stroke-width="1"/>
<path d="M1179.0 1481.6 L1173.1 1484.9 L1177.6 1489.7 L1171.6 1491.1 L1174.8 1495.0 L1168.8 1496.0 L1170.0 1501.0 L1163.4 1499.7 L1163.8 1504.8 L1159.5 1503.0 L1157.2 1508.5 L1152.8 1503.5 L1148.8 1509.2 L1146.2 1503.0 L1142.0 1507.9 L1140.8 1502.2 L1135.6 1502.9 L1135.9 1498.0 L1130.2 1498.4 L1131.4 1492.9 L1127.1 1492.7 L1129.8 1488.1 L1123.6 1485.0 L1127.7 1481.9 L1123.4 1477.1 L1129.7 1475.7 L1126.5 1470.2 L1132.1 1469.4 L1130.0 1463.2 L1135.5 1464.5 L1135.6 1458.2 L1140.2 1461.1 L1141.5 1456.5 L1146.0 1460.0 L1149.3 1455.0 L1152.7 1458.4 L1156.5 1454.2 L1157.7 1460.3 L1162.9 1457.0 L1163.9 1463.5 L1169.8 1461.1 L1168.0 1467.1 L1174.5 1467.9 L1171.9 1472.3 L1177.4 1473.6 L1174.0 1478.0Z" fill="none" stroke="#252f8f" stroke-width="2.7" stroke-linejoin="round"/>
<ellipse cx="1146.0" cy="1555.7" rx="9.6" ry="24" fill="#262262"/>
<path d="M1134.8 1509.5 A19.6 19.6 0 1 0 1164.5 1511.2 A14.95 14.95 0 0 1 1134.8 1509.5Z" fill="#262262"/>
<path d="M1139.0 1533.7 L1140.0 1529.7 L1156.0 1529.7 L1153.5 1533.7Z" fill="#262262"/>
<use href="#spk" transform="translate(128.8,1142.2) rotate(0)"/>
<use href="#spk" transform="translate(128.8,1142.2) rotate(30)"/>
<use href="#spk" transform="translate(128.8,1142.2) rotate(60)"/>
<use href="#spk" transform="translate(128.8,1142.2) rotate(90)"/>
<use href="#spk" transform="translate(128.8,1142.2) rotate(120)"/>
<use href="#spk" transform="translate(128.8,1142.2) rotate(150)"/>
<use href="#spk" transform="translate(128.8,1142.2) rotate(180)"/>
<use href="#spk" transform="translate(128.8,1142.2) rotate(210)"/>
<use href="#spk" transform="translate(128.8,1142.2) rotate(240)"/>
<use href="#spk" transform="translate(128.8,1142.2) rotate(270)"/>
<use href="#spk" transform="translate(128.8,1142.2) rotate(300)"/>
<use href="#spk" transform="translate(128.8,1142.2) rotate(330)"/>
<use href="#spk" transform="translate(597.1,1146.9) rotate(0)"/>
<use href="#spk" transform="translate(597.1,1146.9) rotate(30)"/>
<use href="#spk" transform="translate(597.1,1146.9) rotate(60)"/>
<use href="#spk" transform="translate(597.1,1146.9) rotate(90)"/>
<use href="#spk" transform="translate(597.1,1146.9) rotate(120)"/>
<use href="#spk" transform="translate(597.1,1146.9) rotate(150)"/>
<use href="#spk" transform="translate(597.1,1146.9) rotate(180)"/>
<use href="#spk" transform="translate(597.1,1146.9) rotate(210)"/>
<use href="#spk" transform="translate(597.1,1146.9) rotate(240)"/>
<use href="#spk" transform="translate(597.1,1146.9) rotate(270)"/>
<use href="#spk" transform="translate(597.1,1146.9) rotate(300)"/>
<use href="#spk" transform="translate(597.1,1146.9) rotate(330)"/>
<use href="#spk" transform="translate(962.5,1214.1) rotate(0)"/>
<use href="#spk" transform="translate(962.5,1214.1) rotate(30)"/>
<use href="#spk" transform="translate(962.5,1214.1) rotate(60)"/>
<use href="#spk" transform="translate(962.5,1214.1) rotate(90)"/>
<use href="#spk" transform="translate(962.5,1214.1) rotate(120)"/>
<use href="#spk" transform="translate(962.5,1214.1) rotate(150)"/>
<use href="#spk" transform="translate(962.5,1214.1) rotate(180)"/>
<use href="#spk" transform="translate(962.5,1214.1) rotate(210)"/>
<use href="#spk" transform="translate(962.5,1214.1) rotate(240)"/>
<use href="#spk" transform="translate(962.5,1214.1) rotate(270)"/>
<use href="#spk" transform="translate(962.5,1214.1) rotate(300)"/>
<use href="#spk" transform="translate(962.5,1214.1) rotate(330)"/>
<use href="#spk" transform="translate(728.8,1381.9) rotate(0)"/>
<use href="#spk" transform="translate(728.8,1381.9) rotate(30)"/>
<use href="#spk" transform="translate(728.8,1381.9) rotate(60)"/>
<use href="#spk" transform="translate(728.8,1381.9) rotate(90)"/>
<use href="#spk" transform="translate(728.8,1381.9) rotate(120)"/>
<use href="#spk" transform="translate(728.8,1381.9) rotate(150)"/>
<use href="#spk" transform="translate(728.8,1381.9) rotate(180)"/>
<use href="#spk" transform="translate(728.8,1381.9) rotate(210)"/>
<use href="#spk" transform="translate(728.8,1381.9) rotate(240)"/>
<use href="#spk" transform="translate(728.8,1381.9) rotate(270)"/>
<use href="#spk" transform="translate(728.8,1381.9) rotate(300)"/>
<use href="#spk" transform="translate(728.8,1381.9) rotate(330)"/>
<use href="#spk" transform="translate(1149.8,1481.4) rotate(0)"/>
<use href="#spk" transform="translate(1149.8,1481.4) rotate(30)"/>
<use href="#spk" transform="translate(1149.8,1481.4) rotate(60)"/>
<use href="#spk" transform="translate(1149.8,1481.4) rotate(90)"/>
<use href="#spk" transform="translate(1149.8,1481.4) rotate(120)"/>
<use href="#spk" transform="translate(1149.8,1481.4) rotate(150)"/>
<use href="#spk" transform="translate(1149.8,1481.4) rotate(180)"/>
<use href="#spk" transform="translate(1149.8,1481.4) rotate(210)"/>
<use href="#spk" transform="translate(1149.8,1481.4) rotate(240)"/>
<use href="#spk" transform="translate(1149.8,1481.4) rotate(270)"/>
<use href="#spk" transform="translate(1149.8,1481.4) rotate(300)"/>
<use href="#spk" transform="translate(1149.8,1481.4) rotate(330)"/>
<circle cx="622.9" cy="1662.4" r="34.2" fill="#dcd5c5" stroke="#f2eee6" stroke-width="1"/>
<path d="M652.0 1662.1 L646.5 1665.9 L649.5 1670.1 L645.2 1672.3 L646.7 1676.4 L641.5 1677.4 L643.0 1682.1 L638.0 1681.1 L637.3 1686.5 L631.4 1683.2 L629.4 1688.9 L625.8 1685.1 L623.1 1688.9 L620.1 1684.3 L614.6 1688.3 L613.5 1683.1 L609.0 1684.4 L608.7 1678.1 L602.4 1680.1 L604.9 1674.5 L599.4 1673.4 L602.8 1668.2 L596.9 1665.6 L601.7 1661.8 L598.0 1658.0 L602.6 1657.0 L599.2 1651.5 L603.9 1650.6 L603.6 1645.1 L608.5 1646.5 L607.6 1640.6 L613.1 1642.1 L614.4 1636.2 L619.8 1640.2 L622.6 1635.7 L625.3 1640.3 L628.9 1635.9 L631.9 1640.8 L636.0 1638.8 L636.9 1644.2 L642.7 1643.0 L640.7 1647.9 L647.2 1647.3 L645.1 1653.4 L649.4 1654.7 L647.1 1659.7Z" fill="none" stroke="#252f8f" stroke-width="2.7" stroke-linejoin="round"/>
<circle cx="1106.2" cy="1704.2" r="34.8" fill="#dcd5c5" stroke="#f2eee6" stroke-width="1"/>
<path d="M1133.8 1705.0 L1129.4 1706.6 L1133.5 1711.6 L1129.0 1713.1 L1130.1 1718.6 L1125.0 1717.8 L1126.8 1723.6 L1121.1 1722.8 L1120.6 1728.8 L1114.7 1725.6 L1112.5 1730.4 L1109.2 1726.3 L1106.2 1731.2 L1102.6 1726.7 L1098.8 1729.2 L1097.2 1724.0 L1091.6 1726.0 L1092.9 1720.8 L1086.6 1722.3 L1087.8 1716.0 L1083.4 1715.2 L1085.0 1710.0 L1079.8 1708.3 L1084.7 1703.8 L1081.2 1700.0 L1085.1 1697.2 L1083.1 1693.4 L1088.2 1691.7 L1086.0 1687.3 L1091.1 1687.6 L1091.0 1682.1 L1097.3 1684.6 L1098.5 1678.7 L1102.6 1681.9 L1104.8 1677.8 L1108.4 1682.0 L1113.2 1677.3 L1115.1 1682.3 L1119.3 1680.4 L1120.5 1686.5 L1126.5 1683.7 L1124.8 1689.6 L1130.4 1690.0 L1127.7 1695.6 L1133.9 1697.3 L1129.6 1701.8Z" fill="none" stroke="#252f8f" stroke-width="2.7" stroke-linejoin="round"/>
<g transform="translate(770.0,1441.0) rotate(0) scale(1.0)" fill="none" stroke="#111" stroke-width="1.6"><path d="M-15 -6 L4 4 M-15 7 L4 -3"/><ellipse cx="9" cy="-6" rx="5.5" ry="4" transform="rotate(-30 9 -6)"/><ellipse cx="9" cy="7" rx="5.5" ry="4" transform="rotate(30 9 7)"/></g>
<g transform="translate(1203.0,1516.0) rotate(-10) scale(1.0)" fill="none" stroke="#111" stroke-width="1.6"><path d="M-15 -6 L4 4 M-15 7 L4 -3"/><ellipse cx="9" cy="-6" rx="5.5" ry="4" transform="rotate(-30 9 -6)"/><ellipse cx="9" cy="7" rx="5.5" ry="4" transform="rotate(30 9 7)"/></g>
<path d="M295.0 1243.2H340.0" stroke="#231f20" stroke-width="2.7"/>
<path d="M360.0 1243.2 L335.0 1233.2 L340.0 1243.2 L335.0 1253.2Z" fill="#231f20"/>
<path d="M680.6 1242.8H772.5" stroke="#231f20" stroke-width="2.7"/>
<path d="M792.5 1242.8 L767.5 1232.8 L772.5 1242.8 L767.5 1252.8Z" fill="#231f20"/>
<path d="M621.9 1289.4V1355.2" stroke="#231f20" stroke-width="2.8"/>
<path d="M621.9 1375.2 L610.2 1348.2 L621.9 1354.2 L633.6 1348.2Z" fill="#231f20"/>
<path d="M623.6 1527.2V1592.3" stroke="#231f20" stroke-width="2.8"/>
<path d="M623.6 1612.3 L611.9 1585.3 L623.6 1591.3 L635.3 1585.3Z" fill="#231f20"/>
<path d="M1102.2 1295.0V1360.2" stroke="#231f20" stroke-width="2.8"/>
<path d="M1102.2 1380.2 L1090.5 1353.2 L1102.2 1359.2 L1113.9 1353.2Z" fill="#231f20"/>
<path d="M1104.5 1561.3V1625.7" stroke="#231f20" stroke-width="2.8"/>
<path d="M1104.5 1645.7 L1092.8 1618.7 L1104.5 1624.7 L1116.2 1618.7Z" fill="#231f20"/>
<rect x="253.60" y="1063.00" width="206.60" height="63.80" fill="#ded4ea"/>
<rect x="1160.80" y="1074.00" width="206.40" height="63.40" fill="#ded4ea"/>
<text x="276.2" y="1103.6" font-size="27" fill="#231f20">Mitoxantrone</text>
<text x="1168.6" y="1114.9" font-size="27.2" fill="#231f20">Sunitinib/BNTX</text>
<path d="M416.8 1110.2L468.5 1161.9 M446.2 1188.6L498.6 1138.5" stroke="#f7941d" stroke-width="4.2"/>
<path d="M1188.8 1157.4L1138.7 1209.5 M1109.5 1185L1160.8 1236.4" stroke="#f7941d" stroke-width="4.2"/>
<text x="44.5" y="1065.0" font-size="26.8" font-weight="bold" fill="#231f20">1. Recruitment</text>
<text x="495.8" y="1065.0" font-size="26.8" font-weight="bold" fill="#231f20">2. ACE2 binding</text>
<text x="1107.9" y="1266.4" font-size="26.8" font-weight="bold" fill="#231f20">3a. Endocytosis</text>
<text x="810.0" y="1416.3" font-size="26.8" font-weight="bold" fill="#231f20">3b. Priming</text>
<text x="637.0" y="1569.9" font-size="26.8" font-weight="bold" fill="#231f20">4b. Fusion and entry</text>
<text x="1127.3" y="1617.3" font-size="26.8" font-weight="bold" fill="#231f20">4a. Priming, fusion and entry</text>
<text x="190.5" y="1215.5" font-size="27" fill="#231f20">HSPG</text>
<text x="230.5" y="1262.0" font-size="27" fill="#231f20">PM</text>
<text x="615.0" y="1229.4" font-size="27" fill="#231f20">ACE2</text>
<text x="838.5" y="1308.6" font-size="27" fill="#231f20">Actin</text>
<text x="792.0" y="1499.8" font-size="27" fill="#231f20">PM</text>
<text x="1215.8" y="1412.6" font-size="27" fill="#231f20">Endolysosome</text>
</svg></body></html>
